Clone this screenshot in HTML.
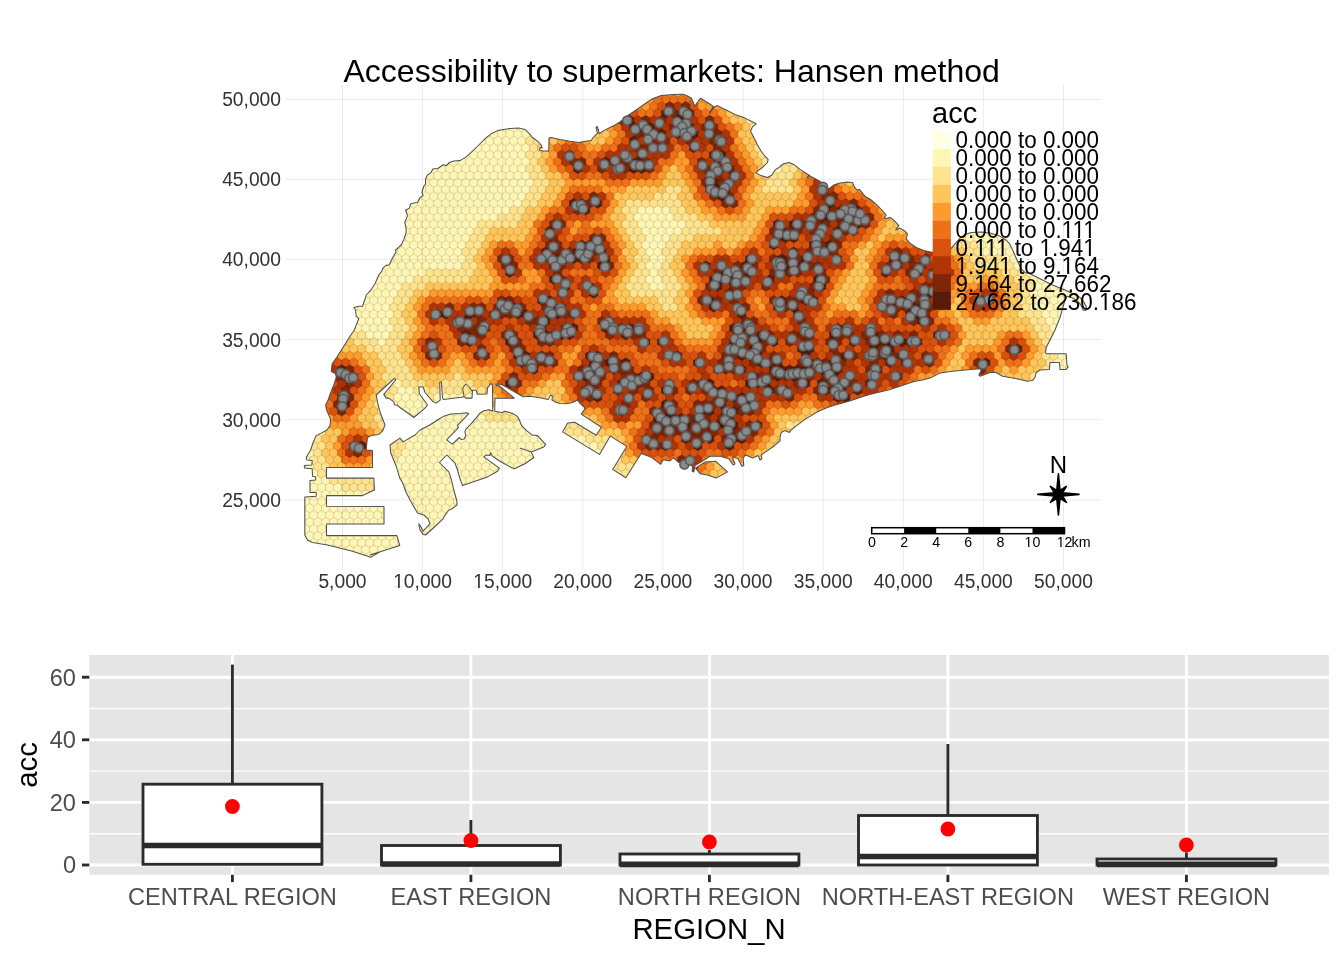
<!DOCTYPE html>
<html><head><meta charset="utf-8"><title>Accessibility to supermarkets</title>
<style>
html,body{margin:0;padding:0;background:#fff;}
body{width:1344px;height:960px;overflow:hidden;font-family:"Liberation Sans",sans-serif;}
svg{display:block;position:absolute;left:0;top:0;will-change:transform;}
text{font-family:"Liberation Sans",sans-serif;}
</style></head><body>
<svg width="1344" height="960" viewBox="0 0 1344 960">
<rect width="1344" height="960" fill="#fff"/>
<defs><clipPath id="k1"><path clip-rule="evenodd" d="M-2000 -2000H4000V4000H-2000ZM-28.49 -1.50H-24.61V2.00H-28.49ZM-22.87 -1.50H-19.09V2.00H-22.87Z"/></clipPath><clipPath id="k2"><path clip-rule="evenodd" d="M-2000 -2000H4000V4000H-2000ZM-28.49 -1.50H-24.61V2.00H-28.49ZM-22.87 -1.50H-19.09V2.00H-22.87Z"/></clipPath><clipPath id="k15"><path clip-rule="evenodd" d="M-2000 -2000H4000V4000H-2000ZM107.11 -1.75H111.64V2.00H107.11ZM113.66 -1.75H118.07V2.00H113.66ZM117.92 -1.75H122.45V2.00H117.92ZM124.48 -1.75H128.88V2.00H124.48ZM128.73 -1.75H133.26V2.00H128.73ZM135.29 -1.75H139.69V2.00H135.29Z"/></clipPath><clipPath id="k16"><path clip-rule="evenodd" d="M-2000 -2000H4000V4000H-2000ZM19.80 -1.75H24.33V2.00H19.80ZM26.36 -1.75H30.76V2.00H26.36ZM30.61 -1.75H35.14V2.00H30.61ZM37.17 -1.75H41.57V2.00H37.17ZM41.43 -1.75H45.95V2.00H41.43ZM47.98 -1.75H52.39V2.00H47.98ZM85.06 -1.75H89.59V2.00H85.06ZM91.62 -1.75H96.03V2.00H91.62ZM128.73 -1.75H133.26V2.00H128.73ZM135.29 -1.75H139.69V2.00H135.29Z"/></clipPath><clipPath id="k17"><path clip-rule="evenodd" d="M-2000 -2000H4000V4000H-2000ZM1.10 -1.75H5.62V2.00H1.10ZM7.65 -1.75H12.06V2.00H7.65ZM44.75 -1.75H49.28V2.00H44.75ZM51.31 -1.75H55.71V2.00H51.31ZM107.11 -1.75H111.64V2.00H107.11ZM113.66 -1.75H118.07V2.00H113.66Z"/></clipPath><clipPath id="k18"><path clip-rule="evenodd" d="M-2000 -2000H4000V4000H-2000ZM19.80 -1.75H24.33V2.00H19.80ZM26.36 -1.75H30.76V2.00H26.36Z"/></clipPath><clipPath id="k19"><path clip-rule="evenodd" d="M-2000 -2000H4000V4000H-2000ZM144.55 -1.75H149.07V2.00H144.55ZM151.10 -1.75H155.51V2.00H151.10Z"/></clipPath><clipPath id="k25"><path clip-rule="evenodd" d="M-2000 -2000H4000V4000H-2000ZM1025.30 545.89H1028.17V549.00H1025.30ZM1029.45 545.89H1032.24V549.00H1029.45Z"/></clipPath><clipPath id="k26"><path clip-rule="evenodd" d="M-2000 -2000H4000V4000H-2000ZM1057.40 545.89H1060.27V549.00H1057.40ZM1061.55 545.89H1064.34V549.00H1061.55Z"/></clipPath></defs>

<clipPath id="land"><path d="M312.5 542.5L307.5 540.0L304.8 535.0L304.8 496.9L316.2 496.2L316.2 492.5L310.0 492.5L310.0 480.6L315.6 480.0L315.6 476.9L312.5 476.2L312.2 468.8L304.4 468.1L304.4 465.6L311.9 465.0L312.2 460.6L306.9 460.0L306.2 457.5L310.6 450.0L313.1 442.5L316.2 435.6L321.2 433.1L326.9 430.0L330.0 425.6L330.6 419.4L328.8 415.0L326.5 410.0L325.6 405.0L328.1 400.0L331.2 391.2L333.8 385.0L336.2 377.5L335.6 373.8L331.2 371.2L332.2 363.8L337.5 356.2L343.8 346.2L350.0 336.2L354.4 330.0L354.4 330.0L356.9 323.1L358.8 318.8L356.2 316.2L355.6 310.0L353.8 307.5L358.8 306.2L362.5 306.2L365.6 297.5L366.2 295.0L370.0 291.2L375.0 283.8L378.8 275.0L381.9 271.2L382.5 268.8L386.2 265.0L387.5 265.6L389.4 264.4L392.5 258.1L396.0 251.9L395.6 250.0L400.0 246.2L401.5 244.4L403.8 239.4L406.0 233.1L406.2 228.8L404.8 222.5L407.5 215.6L405.6 210.0L406.2 210.0L409.4 208.1L410.6 204.0L413.8 203.1L417.5 202.5L420.0 197.5L423.1 195.6L421.9 192.5L423.8 186.2L425.6 184.4L425.6 178.8L427.5 175.0L430.6 173.1L433.1 168.8L437.5 168.8L443.1 164.8L446.2 165.6L449.4 162.5L453.8 161.0L460.0 160.4L460.0 160.6L466.2 156.9L472.5 151.2L478.8 145.0L484.4 139.4L485.6 138.1L491.2 133.8L497.5 130.6L503.8 129.4L510.0 128.5L518.8 128.1L525.0 129.4L528.8 133.1L532.5 137.5L537.5 141.2L541.2 145.0L542.2 148.1L540.0 147.5L539.8 150.0L542.5 151.0L548.8 151.0L549.0 138.1L551.2 137.5L560.0 139.4L570.0 141.2L578.8 142.5L585.0 141.2L591.2 140.6L593.1 137.5L597.5 133.1L596.0 127.5L597.2 126.5L598.8 131.2L599.0 133.8L603.8 130.6L610.0 127.5L615.0 125.0L620.0 121.9L620.0 121.9L627.5 115.6L636.2 110.0L645.0 103.8L652.5 98.8L661.2 95.6L670.0 94.8L678.8 94.2L683.4 94.2L688.1 96.2L691.4 98.2L692.8 101.6L695.0 106.2L696.8 103.4L700.4 98.2L707.5 102.5L713.1 106.2L709.8 113.1L714.0 107.1L717.5 105.6L726.2 110.0L735.0 114.4L745.0 118.1L751.2 121.2L756.2 123.8L752.5 126.9L750.6 131.2L754.4 138.8L757.5 145.0L761.2 151.2L765.0 156.2L768.1 159.4L767.5 162.5L762.5 167.5L757.5 171.2L756.2 173.1L761.2 175.6L767.5 177.5L771.9 175.0L775.0 170.0L780.0 166.9L780.0 166.2L783.8 163.8L788.8 162.5L793.8 164.4L800.0 169.4L808.8 175.0L806.9 178.1L809.6 175.6L817.5 180.0L823.8 183.8L829.0 189.0L833.8 185.0L840.0 183.1L847.5 181.9L852.5 182.5L854.4 186.9L856.9 190.0L859.4 189.4L865.0 196.2L871.2 200.0L877.5 205.6L881.9 210.0L881.9 210.0L886.2 215.0L883.8 218.8L890.0 217.5L893.1 219.4L898.8 225.6L895.6 230.0L900.0 228.1L905.0 231.2L907.5 233.8L906.2 238.8L910.0 243.1L916.2 247.5L923.8 250.6L933.1 252.5L950.6 252.5L950.6 248.8L955.0 243.8L960.0 238.1L965.0 234.4L971.2 232.5L981.2 231.9L990.0 233.1L998.8 235.6L1006.2 240.0L1010.0 244.4L1013.8 252.5L1017.5 261.2L1021.2 268.8L1025.0 272.5L1030.0 273.8L1040.0 278.8L1052.5 285.0L1065.0 290.0L1073.8 294.0L1080.0 297.5L1083.8 301.9L1086.5 306.9L1085.6 310.6L1083.1 310.0L1081.0 305.2L1077.5 301.0L1072.5 298.1L1066.9 296.2L1065.0 300.0L1062.5 308.8L1060.0 317.5L1055.0 330.0L1050.0 340.0L1046.2 347.5L1045.6 352.5L1046.2 353.8L1066.2 353.8L1066.9 365.0L1068.1 366.9L1066.2 369.4L1060.0 369.4L1059.4 362.5L1050.0 362.5L1049.4 369.4L1040.0 370.0L1036.2 372.5L1035.0 377.5L1032.5 380.6L1027.5 381.2L1020.0 379.4L1010.0 377.5L1002.5 376.2L996.2 372.5L990.0 372.5L980.0 376.2L978.8 375.0L981.2 370.6L980.0 368.8L971.2 369.4L965.0 370.0L952.5 371.2L940.0 373.1L940.0 373.1L930.0 378.1L922.5 380.0L915.0 381.2L905.0 384.4L897.5 386.9L890.0 389.4L880.0 391.9L872.5 393.8L866.2 395.6L860.0 397.5L851.2 400.6L842.5 403.1L835.0 405.0L827.5 407.5L821.2 410.0L816.2 412.5L811.2 415.6L805.0 419.4L800.0 423.1L795.0 426.9L790.6 430.6L789.4 432.5L785.0 430.6L781.2 432.5L780.0 437.5L780.0 441.2L773.8 446.2L767.5 450.6L761.2 455.0L761.9 458.8L760.0 460.0L758.1 455.6L752.5 458.1L748.8 456.2L745.0 455.0L743.1 458.8L743.8 465.6L741.9 466.2L738.1 458.8L735.0 457.5L732.5 458.1L735.0 463.8L733.1 465.0L728.8 458.8L720.0 456.2L710.0 456.2L701.2 461.9L695.0 465.6L693.8 471.9L692.2 471.2L692.5 466.9L690.6 463.8L678.8 462.5L676.2 460.0L673.1 457.8L670.0 461.0L663.1 459.8L660.6 464.4L652.5 458.1L648.8 456.2L641.2 453.4L639.4 456.2L625.8 477.8L612.7 469.4L626.7 446.4L610.3 436.1L599.5 454.4L562.5 431.9L567.7 423.0L574.7 422.3L596.2 435.2L601.4 427.2L581.2 414.1L585.0 408.9L584.1 407.0L579.4 402.8L577.5 400.0L572.5 402.5L566.2 403.8L560.0 403.5L555.0 401.9L551.9 400.0L552.5 396.2L550.6 395.0L548.1 399.4L541.2 398.1L530.0 396.2L523.1 396.7L501.6 384.5L495.9 383.9L495.8 385.2L499.7 386.1L513.8 397.7L514.2 398.3L495.0 398.3L494.7 411.2L502.5 412.7L504.4 411.2L509.1 412.2L513.8 414.1L517.5 416.4L519.4 419.7L520.8 423.9L523.1 427.2L526.9 430.9L531.6 434.7L536.2 435.6L537.5 435.6L545.6 444.4L543.8 446.9L536.2 450.0L531.2 451.9L533.8 457.5L525.0 463.8L514.4 468.8L510.0 466.9L500.0 461.2L492.5 456.2L490.6 452.8L490.0 455.6L486.2 455.0L483.8 456.9L499.4 468.1L497.5 471.2L487.5 476.9L475.0 481.2L462.5 485.6L460.0 478.8L457.5 470.0L455.0 463.1L446.9 455.0L439.4 462.5L448.8 471.9L451.2 478.8L453.8 490.0L456.9 501.2L456.9 505.0L451.2 509.4L448.8 510.0L443.8 516.9L443.1 518.8L433.8 527.5L425.6 535.0L423.1 534.4L420.0 530.0L418.8 523.8L420.6 526.2L423.1 531.2L430.0 523.8L428.1 518.8L423.8 515.0L417.5 513.1L415.0 508.8L410.0 500.0L406.2 492.5L402.5 482.5L400.0 478.8L396.2 466.2L390.6 452.5L390.0 445.0L400.0 438.1L403.1 441.9L415.0 435.0L420.0 430.0L429.4 425.3L437.8 419.7L444.4 415.9L450.9 414.1L460.3 413.6L466.9 412.7L468.8 413.6L463.1 419.7L457.5 425.3L458.4 427.7L446.7 439.8L452.3 444.1L459.4 437.5L461.2 439.4L464.1 438.9L465.9 435.6L464.8 431.9L465.9 429.1L470.6 424.4L476.2 417.8L480.0 413.1L483.8 410.8L488.9 409.8L492.7 411.2L492.5 384.1L489.8 384.1L489.2 385.9L487.5 387.8L487.0 393.9L477.2 394.2L476.2 390.2L472.5 390.2L472.0 398.1L465.9 398.1L464.1 396.7L461.2 397.2L443.4 399.5L442.5 398.1L441.4 382.2L439.7 382.2L440.2 399.1L440.4 399.8L436.2 403.1L432.5 401.2L425.0 392.5L423.1 386.9L418.8 386.9L419.4 393.8L427.5 405.0L425.0 408.1L413.8 417.5L410.6 415.0L400.0 407.5L396.9 405.0L394.4 404.8L393.8 401.9L388.8 398.1L386.2 398.1L383.8 394.4L395.6 380.0L394.8 378.1L392.5 380.0L376.2 395.0L378.1 405.0L380.6 413.8L383.1 420.0L385.0 425.0L382.5 431.2L378.8 434.4L371.2 435.6L367.5 437.5L366.9 442.5L366.2 450.0L366.5 450.0L372.5 450.6L372.5 467.5L326.5 467.5L326.5 478.1L373.8 478.1L374.4 490.0L362.5 495.6L326.5 495.6L326.5 506.2L384.0 506.5L384.0 524.0L326.5 524.0L326.5 535.6L396.9 535.6L399.8 545.6L370.0 555.0L380.0 551.9L370.6 557.2L352.5 551.2L327.5 545.0ZM695.6 468.1L705.0 461.9L715.6 461.2L727.5 471.9L716.2 478.1L707.5 475.0L700.0 473.8Z"/></clipPath>
<g clip-path="url(#land)" stroke-width="0.7" stroke-linejoin="round">
<path fill="#FFF6B6" stroke="#FFF6B6" d="M497.66 122.49l4 2.31v4.62l-4 2.31l-4-2.31v-4.62zM505.66 122.49l4 2.31v4.62l-4 2.31l-4-2.31v-4.62zM513.67 122.49l4 2.31v4.62l-4 2.31l-4-2.31v-4.62zM521.67 122.49l4 2.31v4.62l-4 2.31l-4-2.31v-4.62zM485.66 129.42l4 2.31v4.62l-4 2.31l-4-2.31v-4.62zM493.66 129.42l4 2.31v4.62l-4 2.31l-4-2.31v-4.62zM501.66 129.42l4 2.31v4.62l-4 2.31l-4-2.31v-4.62zM509.67 129.42l4 2.31v4.62l-4 2.31l-4-2.31v-4.62zM517.67 129.42l4 2.31v4.62l-4 2.31l-4-2.31v-4.62zM525.67 129.42l4 2.31v4.62l-4 2.31l-4-2.31v-4.62zM533.67 129.42l4 2.31v4.62l-4 2.31l-4-2.31v-4.62zM481.66 136.35l4 2.31v4.62l-4 2.31l-4-2.31v-4.62zM489.66 136.35l4 2.31v4.62l-4 2.31l-4-2.31v-4.62zM497.66 136.35l4 2.31v4.62l-4 2.31l-4-2.31v-4.62zM505.66 136.35l4 2.31v4.62l-4 2.31l-4-2.31v-4.62zM513.67 136.35l4 2.31v4.62l-4 2.31l-4-2.31v-4.62zM521.67 136.35l4 2.31v4.62l-4 2.31l-4-2.31v-4.62zM477.66 143.28l4 2.31v4.62l-4 2.31l-4-2.31v-4.62zM485.66 143.28l4 2.31v4.62l-4 2.31l-4-2.31v-4.62zM493.66 143.28l4 2.31v4.62l-4 2.31l-4-2.31v-4.62zM501.66 143.28l4 2.31v4.62l-4 2.31l-4-2.31v-4.62zM509.67 143.28l4 2.31v4.62l-4 2.31l-4-2.31v-4.62zM517.67 143.28l4 2.31v4.62l-4 2.31l-4-2.31v-4.62zM525.67 143.28l4 2.31v4.62l-4 2.31l-4-2.31v-4.62zM465.66 150.21l4 2.31v4.62l-4 2.31l-4-2.31v-4.62zM473.66 150.21l4 2.31v4.62l-4 2.31l-4-2.31v-4.62zM481.66 150.21l4 2.31v4.62l-4 2.31l-4-2.31v-4.62zM489.66 150.21l4 2.31v4.62l-4 2.31l-4-2.31v-4.62zM497.66 150.21l4 2.31v4.62l-4 2.31l-4-2.31v-4.62zM505.66 150.21l4 2.31v4.62l-4 2.31l-4-2.31v-4.62zM513.67 150.21l4 2.31v4.62l-4 2.31l-4-2.31v-4.62zM521.67 150.21l4 2.31v4.62l-4 2.31l-4-2.31v-4.62zM445.66 157.14l4 2.31v4.62l-4 2.31l-4-2.31v-4.62zM453.66 157.14l4 2.31v4.62l-4 2.31l-4-2.31v-4.62zM461.66 157.14l4 2.31v4.62l-4 2.31l-4-2.31v-4.62zM469.66 157.14l4 2.31v4.62l-4 2.31l-4-2.31v-4.62zM477.66 157.14l4 2.31v4.62l-4 2.31l-4-2.31v-4.62zM485.66 157.14l4 2.31v4.62l-4 2.31l-4-2.31v-4.62zM493.66 157.14l4 2.31v4.62l-4 2.31l-4-2.31v-4.62zM501.66 157.14l4 2.31v4.62l-4 2.31l-4-2.31v-4.62zM509.67 157.14l4 2.31v4.62l-4 2.31l-4-2.31v-4.62zM517.67 157.14l4 2.31v4.62l-4 2.31l-4-2.31v-4.62zM525.67 157.14l4 2.31v4.62l-4 2.31l-4-2.31v-4.62zM781.70 157.14l4 2.31v4.62l-4 2.31l-4-2.31v-4.62zM433.66 164.07l4 2.31v4.62l-4 2.31l-4-2.31v-4.62zM441.66 164.07l4 2.31v4.62l-4 2.31l-4-2.31v-4.62zM449.66 164.07l4 2.31v4.62l-4 2.31l-4-2.31v-4.62zM457.66 164.07l4 2.31v4.62l-4 2.31l-4-2.31v-4.62zM465.66 164.07l4 2.31v4.62l-4 2.31l-4-2.31v-4.62zM473.66 164.07l4 2.31v4.62l-4 2.31l-4-2.31v-4.62zM481.66 164.07l4 2.31v4.62l-4 2.31l-4-2.31v-4.62zM489.66 164.07l4 2.31v4.62l-4 2.31l-4-2.31v-4.62zM497.66 164.07l4 2.31v4.62l-4 2.31l-4-2.31v-4.62zM505.66 164.07l4 2.31v4.62l-4 2.31l-4-2.31v-4.62zM513.67 164.07l4 2.31v4.62l-4 2.31l-4-2.31v-4.62zM521.67 164.07l4 2.31v4.62l-4 2.31l-4-2.31v-4.62zM777.70 164.07l4 2.31v4.62l-4 2.31l-4-2.31v-4.62zM429.66 170.99l4 2.31v4.62l-4 2.31l-4-2.31v-4.62zM437.66 170.99l4 2.31v4.62l-4 2.31l-4-2.31v-4.62zM445.66 170.99l4 2.31v4.62l-4 2.31l-4-2.31v-4.62zM453.66 170.99l4 2.31v4.62l-4 2.31l-4-2.31v-4.62zM461.66 170.99l4 2.31v4.62l-4 2.31l-4-2.31v-4.62zM469.66 170.99l4 2.31v4.62l-4 2.31l-4-2.31v-4.62zM477.66 170.99l4 2.31v4.62l-4 2.31l-4-2.31v-4.62zM485.66 170.99l4 2.31v4.62l-4 2.31l-4-2.31v-4.62zM493.66 170.99l4 2.31v4.62l-4 2.31l-4-2.31v-4.62zM501.66 170.99l4 2.31v4.62l-4 2.31l-4-2.31v-4.62zM509.67 170.99l4 2.31v4.62l-4 2.31l-4-2.31v-4.62zM517.67 170.99l4 2.31v4.62l-4 2.31l-4-2.31v-4.62zM525.67 170.99l4 2.31v4.62l-4 2.31l-4-2.31v-4.62zM425.65 177.92l4 2.31v4.62l-4 2.31l-4-2.31v-4.62zM433.66 177.92l4 2.31v4.62l-4 2.31l-4-2.31v-4.62zM441.66 177.92l4 2.31v4.62l-4 2.31l-4-2.31v-4.62zM449.66 177.92l4 2.31v4.62l-4 2.31l-4-2.31v-4.62zM457.66 177.92l4 2.31v4.62l-4 2.31l-4-2.31v-4.62zM465.66 177.92l4 2.31v4.62l-4 2.31l-4-2.31v-4.62zM473.66 177.92l4 2.31v4.62l-4 2.31l-4-2.31v-4.62zM481.66 177.92l4 2.31v4.62l-4 2.31l-4-2.31v-4.62zM489.66 177.92l4 2.31v4.62l-4 2.31l-4-2.31v-4.62zM497.66 177.92l4 2.31v4.62l-4 2.31l-4-2.31v-4.62zM505.66 177.92l4 2.31v4.62l-4 2.31l-4-2.31v-4.62zM513.67 177.92l4 2.31v4.62l-4 2.31l-4-2.31v-4.62zM521.67 177.92l4 2.31v4.62l-4 2.31l-4-2.31v-4.62zM529.67 177.92l4 2.31v4.62l-4 2.31l-4-2.31v-4.62zM421.65 184.85l4 2.31v4.62l-4 2.31l-4-2.31v-4.62zM429.66 184.85l4 2.31v4.62l-4 2.31l-4-2.31v-4.62zM437.66 184.85l4 2.31v4.62l-4 2.31l-4-2.31v-4.62zM445.66 184.85l4 2.31v4.62l-4 2.31l-4-2.31v-4.62zM453.66 184.85l4 2.31v4.62l-4 2.31l-4-2.31v-4.62zM461.66 184.85l4 2.31v4.62l-4 2.31l-4-2.31v-4.62zM469.66 184.85l4 2.31v4.62l-4 2.31l-4-2.31v-4.62zM477.66 184.85l4 2.31v4.62l-4 2.31l-4-2.31v-4.62zM485.66 184.85l4 2.31v4.62l-4 2.31l-4-2.31v-4.62zM493.66 184.85l4 2.31v4.62l-4 2.31l-4-2.31v-4.62zM501.66 184.85l4 2.31v4.62l-4 2.31l-4-2.31v-4.62zM509.67 184.85l4 2.31v4.62l-4 2.31l-4-2.31v-4.62zM517.67 184.85l4 2.31v4.62l-4 2.31l-4-2.31v-4.62zM525.67 184.85l4 2.31v4.62l-4 2.31l-4-2.31v-4.62zM417.65 191.78l4 2.31v4.62l-4 2.31l-4-2.31v-4.62zM425.65 191.78l4 2.31v4.62l-4 2.31l-4-2.31v-4.62zM433.66 191.78l4 2.31v4.62l-4 2.31l-4-2.31v-4.62zM441.66 191.78l4 2.31v4.62l-4 2.31l-4-2.31v-4.62zM449.66 191.78l4 2.31v4.62l-4 2.31l-4-2.31v-4.62zM457.66 191.78l4 2.31v4.62l-4 2.31l-4-2.31v-4.62zM465.66 191.78l4 2.31v4.62l-4 2.31l-4-2.31v-4.62zM473.66 191.78l4 2.31v4.62l-4 2.31l-4-2.31v-4.62zM481.66 191.78l4 2.31v4.62l-4 2.31l-4-2.31v-4.62zM489.66 191.78l4 2.31v4.62l-4 2.31l-4-2.31v-4.62zM497.66 191.78l4 2.31v4.62l-4 2.31l-4-2.31v-4.62zM505.66 191.78l4 2.31v4.62l-4 2.31l-4-2.31v-4.62zM513.67 191.78l4 2.31v4.62l-4 2.31l-4-2.31v-4.62zM521.67 191.78l4 2.31v4.62l-4 2.31l-4-2.31v-4.62zM413.65 198.71l4 2.31v4.62l-4 2.31l-4-2.31v-4.62zM421.65 198.71l4 2.31v4.62l-4 2.31l-4-2.31v-4.62zM429.66 198.71l4 2.31v4.62l-4 2.31l-4-2.31v-4.62zM437.66 198.71l4 2.31v4.62l-4 2.31l-4-2.31v-4.62zM445.66 198.71l4 2.31v4.62l-4 2.31l-4-2.31v-4.62zM453.66 198.71l4 2.31v4.62l-4 2.31l-4-2.31v-4.62zM461.66 198.71l4 2.31v4.62l-4 2.31l-4-2.31v-4.62zM469.66 198.71l4 2.31v4.62l-4 2.31l-4-2.31v-4.62zM477.66 198.71l4 2.31v4.62l-4 2.31l-4-2.31v-4.62zM485.66 198.71l4 2.31v4.62l-4 2.31l-4-2.31v-4.62zM493.66 198.71l4 2.31v4.62l-4 2.31l-4-2.31v-4.62zM501.66 198.71l4 2.31v4.62l-4 2.31l-4-2.31v-4.62zM509.67 198.71l4 2.31v4.62l-4 2.31l-4-2.31v-4.62zM517.67 198.71l4 2.31v4.62l-4 2.31l-4-2.31v-4.62zM409.65 205.64l4 2.31v4.62l-4 2.31l-4-2.31v-4.62zM417.65 205.64l4 2.31v4.62l-4 2.31l-4-2.31v-4.62zM425.65 205.64l4 2.31v4.62l-4 2.31l-4-2.31v-4.62zM433.66 205.64l4 2.31v4.62l-4 2.31l-4-2.31v-4.62zM441.66 205.64l4 2.31v4.62l-4 2.31l-4-2.31v-4.62zM449.66 205.64l4 2.31v4.62l-4 2.31l-4-2.31v-4.62zM457.66 205.64l4 2.31v4.62l-4 2.31l-4-2.31v-4.62zM465.66 205.64l4 2.31v4.62l-4 2.31l-4-2.31v-4.62zM473.66 205.64l4 2.31v4.62l-4 2.31l-4-2.31v-4.62zM481.66 205.64l4 2.31v4.62l-4 2.31l-4-2.31v-4.62zM489.66 205.64l4 2.31v4.62l-4 2.31l-4-2.31v-4.62zM497.66 205.64l4 2.31v4.62l-4 2.31l-4-2.31v-4.62zM505.66 205.64l4 2.31v4.62l-4 2.31l-4-2.31v-4.62zM641.68 205.64l4 2.31v4.62l-4 2.31l-4-2.31v-4.62zM649.68 205.64l4 2.31v4.62l-4 2.31l-4-2.31v-4.62zM657.68 205.64l4 2.31v4.62l-4 2.31l-4-2.31v-4.62zM665.68 205.64l4 2.31v4.62l-4 2.31l-4-2.31v-4.62zM405.65 212.57l4 2.31v4.62l-4 2.31l-4-2.31v-4.62zM413.65 212.57l4 2.31v4.62l-4 2.31l-4-2.31v-4.62zM421.65 212.57l4 2.31v4.62l-4 2.31l-4-2.31v-4.62zM429.66 212.57l4 2.31v4.62l-4 2.31l-4-2.31v-4.62zM437.66 212.57l4 2.31v4.62l-4 2.31l-4-2.31v-4.62zM445.66 212.57l4 2.31v4.62l-4 2.31l-4-2.31v-4.62zM453.66 212.57l4 2.31v4.62l-4 2.31l-4-2.31v-4.62zM461.66 212.57l4 2.31v4.62l-4 2.31l-4-2.31v-4.62zM469.66 212.57l4 2.31v4.62l-4 2.31l-4-2.31v-4.62zM477.66 212.57l4 2.31v4.62l-4 2.31l-4-2.31v-4.62zM485.66 212.57l4 2.31v4.62l-4 2.31l-4-2.31v-4.62zM493.66 212.57l4 2.31v4.62l-4 2.31l-4-2.31v-4.62zM637.68 212.57l4 2.31v4.62l-4 2.31l-4-2.31v-4.62zM645.68 212.57l4 2.31v4.62l-4 2.31l-4-2.31v-4.62zM653.68 212.57l4 2.31v4.62l-4 2.31l-4-2.31v-4.62zM661.68 212.57l4 2.31v4.62l-4 2.31l-4-2.31v-4.62zM669.69 212.57l4 2.31v4.62l-4 2.31l-4-2.31v-4.62zM401.65 219.50l4 2.31v4.62l-4 2.31l-4-2.31v-4.62zM409.65 219.50l4 2.31v4.62l-4 2.31l-4-2.31v-4.62zM417.65 219.50l4 2.31v4.62l-4 2.31l-4-2.31v-4.62zM425.65 219.50l4 2.31v4.62l-4 2.31l-4-2.31v-4.62zM433.66 219.50l4 2.31v4.62l-4 2.31l-4-2.31v-4.62zM441.66 219.50l4 2.31v4.62l-4 2.31l-4-2.31v-4.62zM449.66 219.50l4 2.31v4.62l-4 2.31l-4-2.31v-4.62zM457.66 219.50l4 2.31v4.62l-4 2.31l-4-2.31v-4.62zM465.66 219.50l4 2.31v4.62l-4 2.31l-4-2.31v-4.62zM473.66 219.50l4 2.31v4.62l-4 2.31l-4-2.31v-4.62zM641.68 219.50l4 2.31v4.62l-4 2.31l-4-2.31v-4.62zM649.68 219.50l4 2.31v4.62l-4 2.31l-4-2.31v-4.62zM657.68 219.50l4 2.31v4.62l-4 2.31l-4-2.31v-4.62zM665.68 219.50l4 2.31v4.62l-4 2.31l-4-2.31v-4.62zM673.69 219.50l4 2.31v4.62l-4 2.31l-4-2.31v-4.62zM681.69 219.50l4 2.31v4.62l-4 2.31l-4-2.31v-4.62zM405.65 226.43l4 2.31v4.62l-4 2.31l-4-2.31v-4.62zM413.65 226.43l4 2.31v4.62l-4 2.31l-4-2.31v-4.62zM421.65 226.43l4 2.31v4.62l-4 2.31l-4-2.31v-4.62zM429.66 226.43l4 2.31v4.62l-4 2.31l-4-2.31v-4.62zM437.66 226.43l4 2.31v4.62l-4 2.31l-4-2.31v-4.62zM445.66 226.43l4 2.31v4.62l-4 2.31l-4-2.31v-4.62zM453.66 226.43l4 2.31v4.62l-4 2.31l-4-2.31v-4.62zM461.66 226.43l4 2.31v4.62l-4 2.31l-4-2.31v-4.62zM469.66 226.43l4 2.31v4.62l-4 2.31l-4-2.31v-4.62zM645.68 226.43l4 2.31v4.62l-4 2.31l-4-2.31v-4.62zM653.68 226.43l4 2.31v4.62l-4 2.31l-4-2.31v-4.62zM661.68 226.43l4 2.31v4.62l-4 2.31l-4-2.31v-4.62zM669.69 226.43l4 2.31v4.62l-4 2.31l-4-2.31v-4.62zM677.69 226.43l4 2.31v4.62l-4 2.31l-4-2.31v-4.62zM965.72 226.43l4 2.31v4.62l-4 2.31l-4-2.31v-4.62zM973.72 226.43l4 2.31v4.62l-4 2.31l-4-2.31v-4.62zM981.72 226.43l4 2.31v4.62l-4 2.31l-4-2.31v-4.62zM989.73 226.43l4 2.31v4.62l-4 2.31l-4-2.31v-4.62zM401.65 233.36l4 2.31v4.62l-4 2.31l-4-2.31v-4.62zM409.65 233.36l4 2.31v4.62l-4 2.31l-4-2.31v-4.62zM417.65 233.36l4 2.31v4.62l-4 2.31l-4-2.31v-4.62zM425.65 233.36l4 2.31v4.62l-4 2.31l-4-2.31v-4.62zM433.66 233.36l4 2.31v4.62l-4 2.31l-4-2.31v-4.62zM441.66 233.36l4 2.31v4.62l-4 2.31l-4-2.31v-4.62zM449.66 233.36l4 2.31v4.62l-4 2.31l-4-2.31v-4.62zM457.66 233.36l4 2.31v4.62l-4 2.31l-4-2.31v-4.62zM465.66 233.36l4 2.31v4.62l-4 2.31l-4-2.31v-4.62zM649.68 233.36l4 2.31v4.62l-4 2.31l-4-2.31v-4.62zM657.68 233.36l4 2.31v4.62l-4 2.31l-4-2.31v-4.62zM665.68 233.36l4 2.31v4.62l-4 2.31l-4-2.31v-4.62zM969.72 233.36l4 2.31v4.62l-4 2.31l-4-2.31v-4.62zM977.72 233.36l4 2.31v4.62l-4 2.31l-4-2.31v-4.62zM985.72 233.36l4 2.31v4.62l-4 2.31l-4-2.31v-4.62zM993.73 233.36l4 2.31v4.62l-4 2.31l-4-2.31v-4.62zM1001.73 233.36l4 2.31v4.62l-4 2.31l-4-2.31v-4.62zM1009.73 233.36l4 2.31v4.62l-4 2.31l-4-2.31v-4.62zM397.65 240.29l4 2.31v4.62l-4 2.31l-4-2.31v-4.62zM405.65 240.29l4 2.31v4.62l-4 2.31l-4-2.31v-4.62zM413.65 240.29l4 2.31v4.62l-4 2.31l-4-2.31v-4.62zM421.65 240.29l4 2.31v4.62l-4 2.31l-4-2.31v-4.62zM429.66 240.29l4 2.31v4.62l-4 2.31l-4-2.31v-4.62zM437.66 240.29l4 2.31v4.62l-4 2.31l-4-2.31v-4.62zM445.66 240.29l4 2.31v4.62l-4 2.31l-4-2.31v-4.62zM453.66 240.29l4 2.31v4.62l-4 2.31l-4-2.31v-4.62zM461.66 240.29l4 2.31v4.62l-4 2.31l-4-2.31v-4.62zM645.68 240.29l4 2.31v4.62l-4 2.31l-4-2.31v-4.62zM653.68 240.29l4 2.31v4.62l-4 2.31l-4-2.31v-4.62zM661.68 240.29l4 2.31v4.62l-4 2.31l-4-2.31v-4.62zM981.72 240.29l4 2.31v4.62l-4 2.31l-4-2.31v-4.62zM989.73 240.29l4 2.31v4.62l-4 2.31l-4-2.31v-4.62zM997.73 240.29l4 2.31v4.62l-4 2.31l-4-2.31v-4.62zM1005.73 240.29l4 2.31v4.62l-4 2.31l-4-2.31v-4.62zM1013.73 240.29l4 2.31v4.62l-4 2.31l-4-2.31v-4.62zM393.65 247.21l4 2.31v4.62l-4 2.31l-4-2.31v-4.62zM401.65 247.21l4 2.31v4.62l-4 2.31l-4-2.31v-4.62zM409.65 247.21l4 2.31v4.62l-4 2.31l-4-2.31v-4.62zM417.65 247.21l4 2.31v4.62l-4 2.31l-4-2.31v-4.62zM425.65 247.21l4 2.31v4.62l-4 2.31l-4-2.31v-4.62zM433.66 247.21l4 2.31v4.62l-4 2.31l-4-2.31v-4.62zM441.66 247.21l4 2.31v4.62l-4 2.31l-4-2.31v-4.62zM449.66 247.21l4 2.31v4.62l-4 2.31l-4-2.31v-4.62zM457.66 247.21l4 2.31v4.62l-4 2.31l-4-2.31v-4.62zM649.68 247.21l4 2.31v4.62l-4 2.31l-4-2.31v-4.62zM657.68 247.21l4 2.31v4.62l-4 2.31l-4-2.31v-4.62zM985.72 247.21l4 2.31v4.62l-4 2.31l-4-2.31v-4.62zM993.73 247.21l4 2.31v4.62l-4 2.31l-4-2.31v-4.62zM1001.73 247.21l4 2.31v4.62l-4 2.31l-4-2.31v-4.62zM1009.73 247.21l4 2.31v4.62l-4 2.31l-4-2.31v-4.62zM1017.73 247.21l4 2.31v4.62l-4 2.31l-4-2.31v-4.62zM389.65 254.14l4 2.31v4.62l-4 2.31l-4-2.31v-4.62zM397.65 254.14l4 2.31v4.62l-4 2.31l-4-2.31v-4.62zM405.65 254.14l4 2.31v4.62l-4 2.31l-4-2.31v-4.62zM413.65 254.14l4 2.31v4.62l-4 2.31l-4-2.31v-4.62zM421.65 254.14l4 2.31v4.62l-4 2.31l-4-2.31v-4.62zM429.66 254.14l4 2.31v4.62l-4 2.31l-4-2.31v-4.62zM437.66 254.14l4 2.31v4.62l-4 2.31l-4-2.31v-4.62zM445.66 254.14l4 2.31v4.62l-4 2.31l-4-2.31v-4.62zM453.66 254.14l4 2.31v4.62l-4 2.31l-4-2.31v-4.62zM461.66 254.14l4 2.31v4.62l-4 2.31l-4-2.31v-4.62zM653.68 254.14l4 2.31v4.62l-4 2.31l-4-2.31v-4.62zM661.68 254.14l4 2.31v4.62l-4 2.31l-4-2.31v-4.62zM1005.73 254.14l4 2.31v4.62l-4 2.31l-4-2.31v-4.62zM1013.73 254.14l4 2.31v4.62l-4 2.31l-4-2.31v-4.62zM385.65 261.07l4 2.31v4.62l-4 2.31l-4-2.31v-4.62zM393.65 261.07l4 2.31v4.62l-4 2.31l-4-2.31v-4.62zM401.65 261.07l4 2.31v4.62l-4 2.31l-4-2.31v-4.62zM409.65 261.07l4 2.31v4.62l-4 2.31l-4-2.31v-4.62zM417.65 261.07l4 2.31v4.62l-4 2.31l-4-2.31v-4.62zM425.65 261.07l4 2.31v4.62l-4 2.31l-4-2.31v-4.62zM433.66 261.07l4 2.31v4.62l-4 2.31l-4-2.31v-4.62zM441.66 261.07l4 2.31v4.62l-4 2.31l-4-2.31v-4.62zM449.66 261.07l4 2.31v4.62l-4 2.31l-4-2.31v-4.62zM457.66 261.07l4 2.31v4.62l-4 2.31l-4-2.31v-4.62zM649.68 261.07l4 2.31v4.62l-4 2.31l-4-2.31v-4.62zM657.68 261.07l4 2.31v4.62l-4 2.31l-4-2.31v-4.62zM1017.73 261.07l4 2.31v4.62l-4 2.31l-4-2.31v-4.62zM381.65 268.00l4 2.31v4.62l-4 2.31l-4-2.31v-4.62zM389.65 268.00l4 2.31v4.62l-4 2.31l-4-2.31v-4.62zM397.65 268.00l4 2.31v4.62l-4 2.31l-4-2.31v-4.62zM405.65 268.00l4 2.31v4.62l-4 2.31l-4-2.31v-4.62zM413.65 268.00l4 2.31v4.62l-4 2.31l-4-2.31v-4.62zM421.65 268.00l4 2.31v4.62l-4 2.31l-4-2.31v-4.62zM653.68 268.00l4 2.31v4.62l-4 2.31l-4-2.31v-4.62zM1029.73 268.00l4 2.31v4.62l-4 2.31l-4-2.31v-4.62zM377.65 274.93l4 2.31v4.62l-4 2.31l-4-2.31v-4.62zM385.65 274.93l4 2.31v4.62l-4 2.31l-4-2.31v-4.62zM393.65 274.93l4 2.31v4.62l-4 2.31l-4-2.31v-4.62zM401.65 274.93l4 2.31v4.62l-4 2.31l-4-2.31v-4.62zM409.65 274.93l4 2.31v4.62l-4 2.31l-4-2.31v-4.62zM649.68 274.93l4 2.31v4.62l-4 2.31l-4-2.31v-4.62zM657.68 274.93l4 2.31v4.62l-4 2.31l-4-2.31v-4.62zM1033.73 274.93l4 2.31v4.62l-4 2.31l-4-2.31v-4.62zM1041.73 274.93l4 2.31v4.62l-4 2.31l-4-2.31v-4.62zM1049.73 274.93l4 2.31v4.62l-4 2.31l-4-2.31v-4.62zM373.65 281.86l4 2.31v4.62l-4 2.31l-4-2.31v-4.62zM381.65 281.86l4 2.31v4.62l-4 2.31l-4-2.31v-4.62zM389.65 281.86l4 2.31v4.62l-4 2.31l-4-2.31v-4.62zM397.65 281.86l4 2.31v4.62l-4 2.31l-4-2.31v-4.62zM653.68 281.86l4 2.31v4.62l-4 2.31l-4-2.31v-4.62zM661.68 281.86l4 2.31v4.62l-4 2.31l-4-2.31v-4.62zM1037.73 281.86l4 2.31v4.62l-4 2.31l-4-2.31v-4.62zM1045.73 281.86l4 2.31v4.62l-4 2.31l-4-2.31v-4.62zM1053.73 281.86l4 2.31v4.62l-4 2.31l-4-2.31v-4.62zM1061.73 281.86l4 2.31v4.62l-4 2.31l-4-2.31v-4.62zM369.65 288.79l4 2.31v4.62l-4 2.31l-4-2.31v-4.62zM377.65 288.79l4 2.31v4.62l-4 2.31l-4-2.31v-4.62zM385.65 288.79l4 2.31v4.62l-4 2.31l-4-2.31v-4.62zM393.65 288.79l4 2.31v4.62l-4 2.31l-4-2.31v-4.62zM1033.73 288.79l4 2.31v4.62l-4 2.31l-4-2.31v-4.62zM1041.73 288.79l4 2.31v4.62l-4 2.31l-4-2.31v-4.62zM1049.73 288.79l4 2.31v4.62l-4 2.31l-4-2.31v-4.62zM1057.73 288.79l4 2.31v4.62l-4 2.31l-4-2.31v-4.62zM1065.73 288.79l4 2.31v4.62l-4 2.31l-4-2.31v-4.62zM1073.74 288.79l4 2.31v4.62l-4 2.31l-4-2.31v-4.62zM365.65 295.72l4 2.31v4.62l-4 2.31l-4-2.31v-4.62zM373.65 295.72l4 2.31v4.62l-4 2.31l-4-2.31v-4.62zM381.65 295.72l4 2.31v4.62l-4 2.31l-4-2.31v-4.62zM389.65 295.72l4 2.31v4.62l-4 2.31l-4-2.31v-4.62zM1037.73 295.72l4 2.31v4.62l-4 2.31l-4-2.31v-4.62zM1045.73 295.72l4 2.31v4.62l-4 2.31l-4-2.31v-4.62zM1053.73 295.72l4 2.31v4.62l-4 2.31l-4-2.31v-4.62zM1061.73 295.72l4 2.31v4.62l-4 2.31l-4-2.31v-4.62zM1069.74 295.72l4 2.31v4.62l-4 2.31l-4-2.31v-4.62zM1077.74 295.72l4 2.31v4.62l-4 2.31l-4-2.31v-4.62zM1085.74 295.72l4 2.31v4.62l-4 2.31l-4-2.31v-4.62zM353.65 302.65l4 2.31v4.62l-4 2.31l-4-2.31v-4.62zM361.65 302.65l4 2.31v4.62l-4 2.31l-4-2.31v-4.62zM369.65 302.65l4 2.31v4.62l-4 2.31l-4-2.31v-4.62zM377.65 302.65l4 2.31v4.62l-4 2.31l-4-2.31v-4.62zM385.65 302.65l4 2.31v4.62l-4 2.31l-4-2.31v-4.62zM1033.73 302.65l4 2.31v4.62l-4 2.31l-4-2.31v-4.62zM1041.73 302.65l4 2.31v4.62l-4 2.31l-4-2.31v-4.62zM1049.73 302.65l4 2.31v4.62l-4 2.31l-4-2.31v-4.62zM1057.73 302.65l4 2.31v4.62l-4 2.31l-4-2.31v-4.62zM1065.73 302.65l4 2.31v4.62l-4 2.31l-4-2.31v-4.62zM1081.74 302.65l4 2.31v4.62l-4 2.31l-4-2.31v-4.62zM1089.74 302.65l4 2.31v4.62l-4 2.31l-4-2.31v-4.62zM357.65 309.58l4 2.31v4.62l-4 2.31l-4-2.31v-4.62zM365.65 309.58l4 2.31v4.62l-4 2.31l-4-2.31v-4.62zM373.65 309.58l4 2.31v4.62l-4 2.31l-4-2.31v-4.62zM381.65 309.58l4 2.31v4.62l-4 2.31l-4-2.31v-4.62zM389.65 309.58l4 2.31v4.62l-4 2.31l-4-2.31v-4.62zM1045.73 309.58l4 2.31v4.62l-4 2.31l-4-2.31v-4.62zM1053.73 309.58l4 2.31v4.62l-4 2.31l-4-2.31v-4.62zM1061.73 309.58l4 2.31v4.62l-4 2.31l-4-2.31v-4.62zM1085.74 309.58l4 2.31v4.62l-4 2.31l-4-2.31v-4.62zM353.65 316.51l4 2.31v4.62l-4 2.31l-4-2.31v-4.62zM361.65 316.51l4 2.31v4.62l-4 2.31l-4-2.31v-4.62zM369.65 316.51l4 2.31v4.62l-4 2.31l-4-2.31v-4.62zM377.65 316.51l4 2.31v4.62l-4 2.31l-4-2.31v-4.62zM385.65 316.51l4 2.31v4.62l-4 2.31l-4-2.31v-4.62zM1049.73 316.51l4 2.31v4.62l-4 2.31l-4-2.31v-4.62zM1057.73 316.51l4 2.31v4.62l-4 2.31l-4-2.31v-4.62zM357.65 323.43l4 2.31v4.62l-4 2.31l-4-2.31v-4.62zM365.65 323.43l4 2.31v4.62l-4 2.31l-4-2.31v-4.62zM373.65 323.43l4 2.31v4.62l-4 2.31l-4-2.31v-4.62zM381.65 323.43l4 2.31v4.62l-4 2.31l-4-2.31v-4.62zM389.65 323.43l4 2.31v4.62l-4 2.31l-4-2.31v-4.62zM1053.73 323.43l4 2.31v4.62l-4 2.31l-4-2.31v-4.62zM369.65 330.36l4 2.31v4.62l-4 2.31l-4-2.31v-4.62zM377.65 330.36l4 2.31v4.62l-4 2.31l-4-2.31v-4.62zM385.65 330.36l4 2.31v4.62l-4 2.31l-4-2.31v-4.62zM381.65 337.29l4 2.31v4.62l-4 2.31l-4-2.31v-4.62zM1061.73 351.15l4 2.31v4.62l-4 2.31l-4-2.31v-4.62zM1069.74 351.15l4 2.31v4.62l-4 2.31l-4-2.31v-4.62zM1057.73 358.08l4 2.31v4.62l-4 2.31l-4-2.31v-4.62zM1065.73 358.08l4 2.31v4.62l-4 2.31l-4-2.31v-4.62zM1061.73 365.01l4 2.31v4.62l-4 2.31l-4-2.31v-4.62zM1069.74 365.01l4 2.31v4.62l-4 2.31l-4-2.31v-4.62zM397.65 378.87l4 2.31v4.62l-4 2.31l-4-2.31v-4.62zM401.65 385.80l4 2.31v4.62l-4 2.31l-4-2.31v-4.62zM409.65 385.80l4 2.31v4.62l-4 2.31l-4-2.31v-4.62zM397.65 392.72l4 2.31v4.62l-4 2.31l-4-2.31v-4.62zM405.65 392.72l4 2.31v4.62l-4 2.31l-4-2.31v-4.62zM413.65 392.72l4 2.31v4.62l-4 2.31l-4-2.31v-4.62zM421.65 392.72l4 2.31v4.62l-4 2.31l-4-2.31v-4.62zM437.66 392.72l4 2.31v4.62l-4 2.31l-4-2.31v-4.62zM445.66 392.72l4 2.31v4.62l-4 2.31l-4-2.31v-4.62zM453.66 392.72l4 2.31v4.62l-4 2.31l-4-2.31v-4.62zM461.66 392.72l4 2.31v4.62l-4 2.31l-4-2.31v-4.62zM469.66 392.72l4 2.31v4.62l-4 2.31l-4-2.31v-4.62zM393.65 399.65l4 2.31v4.62l-4 2.31l-4-2.31v-4.62zM401.65 399.65l4 2.31v4.62l-4 2.31l-4-2.31v-4.62zM409.65 399.65l4 2.31v4.62l-4 2.31l-4-2.31v-4.62zM417.65 399.65l4 2.31v4.62l-4 2.31l-4-2.31v-4.62zM425.65 399.65l4 2.31v4.62l-4 2.31l-4-2.31v-4.62zM433.66 399.65l4 2.31v4.62l-4 2.31l-4-2.31v-4.62zM405.65 406.58l4 2.31v4.62l-4 2.31l-4-2.31v-4.62zM413.65 406.58l4 2.31v4.62l-4 2.31l-4-2.31v-4.62zM421.65 406.58l4 2.31v4.62l-4 2.31l-4-2.31v-4.62zM453.66 406.58l4 2.31v4.62l-4 2.31l-4-2.31v-4.62zM461.66 406.58l4 2.31v4.62l-4 2.31l-4-2.31v-4.62zM469.66 406.58l4 2.31v4.62l-4 2.31l-4-2.31v-4.62zM477.66 406.58l4 2.31v4.62l-4 2.31l-4-2.31v-4.62zM409.65 413.51l4 2.31v4.62l-4 2.31l-4-2.31v-4.62zM417.65 413.51l4 2.31v4.62l-4 2.31l-4-2.31v-4.62zM433.66 413.51l4 2.31v4.62l-4 2.31l-4-2.31v-4.62zM441.66 413.51l4 2.31v4.62l-4 2.31l-4-2.31v-4.62zM449.66 413.51l4 2.31v4.62l-4 2.31l-4-2.31v-4.62zM457.66 413.51l4 2.31v4.62l-4 2.31l-4-2.31v-4.62zM465.66 413.51l4 2.31v4.62l-4 2.31l-4-2.31v-4.62zM473.66 413.51l4 2.31v4.62l-4 2.31l-4-2.31v-4.62zM481.66 413.51l4 2.31v4.62l-4 2.31l-4-2.31v-4.62zM421.65 420.44l4 2.31v4.62l-4 2.31l-4-2.31v-4.62zM429.66 420.44l4 2.31v4.62l-4 2.31l-4-2.31v-4.62zM437.66 420.44l4 2.31v4.62l-4 2.31l-4-2.31v-4.62zM445.66 420.44l4 2.31v4.62l-4 2.31l-4-2.31v-4.62zM453.66 420.44l4 2.31v4.62l-4 2.31l-4-2.31v-4.62zM461.66 420.44l4 2.31v4.62l-4 2.31l-4-2.31v-4.62zM469.66 420.44l4 2.31v4.62l-4 2.31l-4-2.31v-4.62zM477.66 420.44l4 2.31v4.62l-4 2.31l-4-2.31v-4.62zM485.66 420.44l4 2.31v4.62l-4 2.31l-4-2.31v-4.62zM493.66 420.44l4 2.31v4.62l-4 2.31l-4-2.31v-4.62zM501.66 420.44l4 2.31v4.62l-4 2.31l-4-2.31v-4.62zM509.67 420.44l4 2.31v4.62l-4 2.31l-4-2.31v-4.62zM517.67 420.44l4 2.31v4.62l-4 2.31l-4-2.31v-4.62zM525.67 420.44l4 2.31v4.62l-4 2.31l-4-2.31v-4.62zM417.65 427.37l4 2.31v4.62l-4 2.31l-4-2.31v-4.62zM425.65 427.37l4 2.31v4.62l-4 2.31l-4-2.31v-4.62zM433.66 427.37l4 2.31v4.62l-4 2.31l-4-2.31v-4.62zM441.66 427.37l4 2.31v4.62l-4 2.31l-4-2.31v-4.62zM449.66 427.37l4 2.31v4.62l-4 2.31l-4-2.31v-4.62zM457.66 427.37l4 2.31v4.62l-4 2.31l-4-2.31v-4.62zM465.66 427.37l4 2.31v4.62l-4 2.31l-4-2.31v-4.62zM473.66 427.37l4 2.31v4.62l-4 2.31l-4-2.31v-4.62zM481.66 427.37l4 2.31v4.62l-4 2.31l-4-2.31v-4.62zM489.66 427.37l4 2.31v4.62l-4 2.31l-4-2.31v-4.62zM497.66 427.37l4 2.31v4.62l-4 2.31l-4-2.31v-4.62zM505.66 427.37l4 2.31v4.62l-4 2.31l-4-2.31v-4.62zM513.67 427.37l4 2.31v4.62l-4 2.31l-4-2.31v-4.62zM521.67 427.37l4 2.31v4.62l-4 2.31l-4-2.31v-4.62zM529.67 427.37l4 2.31v4.62l-4 2.31l-4-2.31v-4.62zM537.67 427.37l4 2.31v4.62l-4 2.31l-4-2.31v-4.62zM561.67 427.37l4 2.31v4.62l-4 2.31l-4-2.31v-4.62zM405.65 434.30l4 2.31v4.62l-4 2.31l-4-2.31v-4.62zM413.65 434.30l4 2.31v4.62l-4 2.31l-4-2.31v-4.62zM421.65 434.30l4 2.31v4.62l-4 2.31l-4-2.31v-4.62zM429.66 434.30l4 2.31v4.62l-4 2.31l-4-2.31v-4.62zM437.66 434.30l4 2.31v4.62l-4 2.31l-4-2.31v-4.62zM445.66 434.30l4 2.31v4.62l-4 2.31l-4-2.31v-4.62zM453.66 434.30l4 2.31v4.62l-4 2.31l-4-2.31v-4.62zM461.66 434.30l4 2.31v4.62l-4 2.31l-4-2.31v-4.62zM469.66 434.30l4 2.31v4.62l-4 2.31l-4-2.31v-4.62zM477.66 434.30l4 2.31v4.62l-4 2.31l-4-2.31v-4.62zM485.66 434.30l4 2.31v4.62l-4 2.31l-4-2.31v-4.62zM493.66 434.30l4 2.31v4.62l-4 2.31l-4-2.31v-4.62zM501.66 434.30l4 2.31v4.62l-4 2.31l-4-2.31v-4.62zM509.67 434.30l4 2.31v4.62l-4 2.31l-4-2.31v-4.62zM517.67 434.30l4 2.31v4.62l-4 2.31l-4-2.31v-4.62zM525.67 434.30l4 2.31v4.62l-4 2.31l-4-2.31v-4.62zM533.67 434.30l4 2.31v4.62l-4 2.31l-4-2.31v-4.62zM541.67 434.30l4 2.31v4.62l-4 2.31l-4-2.31v-4.62zM573.67 434.30l4 2.31v4.62l-4 2.31l-4-2.31v-4.62zM581.67 434.30l4 2.31v4.62l-4 2.31l-4-2.31v-4.62zM409.65 441.23l4 2.31v4.62l-4 2.31l-4-2.31v-4.62zM417.65 441.23l4 2.31v4.62l-4 2.31l-4-2.31v-4.62zM425.65 441.23l4 2.31v4.62l-4 2.31l-4-2.31v-4.62zM433.66 441.23l4 2.31v4.62l-4 2.31l-4-2.31v-4.62zM441.66 441.23l4 2.31v4.62l-4 2.31l-4-2.31v-4.62zM449.66 441.23l4 2.31v4.62l-4 2.31l-4-2.31v-4.62zM457.66 441.23l4 2.31v4.62l-4 2.31l-4-2.31v-4.62zM465.66 441.23l4 2.31v4.62l-4 2.31l-4-2.31v-4.62zM473.66 441.23l4 2.31v4.62l-4 2.31l-4-2.31v-4.62zM481.66 441.23l4 2.31v4.62l-4 2.31l-4-2.31v-4.62zM489.66 441.23l4 2.31v4.62l-4 2.31l-4-2.31v-4.62zM497.66 441.23l4 2.31v4.62l-4 2.31l-4-2.31v-4.62zM505.66 441.23l4 2.31v4.62l-4 2.31l-4-2.31v-4.62zM513.67 441.23l4 2.31v4.62l-4 2.31l-4-2.31v-4.62zM521.67 441.23l4 2.31v4.62l-4 2.31l-4-2.31v-4.62zM529.67 441.23l4 2.31v4.62l-4 2.31l-4-2.31v-4.62zM537.67 441.23l4 2.31v4.62l-4 2.31l-4-2.31v-4.62zM545.67 441.23l4 2.31v4.62l-4 2.31l-4-2.31v-4.62zM585.67 441.23l4 2.31v4.62l-4 2.31l-4-2.31v-4.62zM593.68 441.23l4 2.31v4.62l-4 2.31l-4-2.31v-4.62zM309.64 448.16l4 2.31v4.62l-4 2.31l-4-2.31v-4.62zM405.65 448.16l4 2.31v4.62l-4 2.31l-4-2.31v-4.62zM413.65 448.16l4 2.31v4.62l-4 2.31l-4-2.31v-4.62zM421.65 448.16l4 2.31v4.62l-4 2.31l-4-2.31v-4.62zM429.66 448.16l4 2.31v4.62l-4 2.31l-4-2.31v-4.62zM437.66 448.16l4 2.31v4.62l-4 2.31l-4-2.31v-4.62zM445.66 448.16l4 2.31v4.62l-4 2.31l-4-2.31v-4.62zM453.66 448.16l4 2.31v4.62l-4 2.31l-4-2.31v-4.62zM461.66 448.16l4 2.31v4.62l-4 2.31l-4-2.31v-4.62zM469.66 448.16l4 2.31v4.62l-4 2.31l-4-2.31v-4.62zM477.66 448.16l4 2.31v4.62l-4 2.31l-4-2.31v-4.62zM485.66 448.16l4 2.31v4.62l-4 2.31l-4-2.31v-4.62zM493.66 448.16l4 2.31v4.62l-4 2.31l-4-2.31v-4.62zM501.66 448.16l4 2.31v4.62l-4 2.31l-4-2.31v-4.62zM509.67 448.16l4 2.31v4.62l-4 2.31l-4-2.31v-4.62zM517.67 448.16l4 2.31v4.62l-4 2.31l-4-2.31v-4.62zM525.67 448.16l4 2.31v4.62l-4 2.31l-4-2.31v-4.62zM533.67 448.16l4 2.31v4.62l-4 2.31l-4-2.31v-4.62zM589.68 448.16l4 2.31v4.62l-4 2.31l-4-2.31v-4.62zM597.68 448.16l4 2.31v4.62l-4 2.31l-4-2.31v-4.62zM305.64 455.09l4 2.31v4.62l-4 2.31l-4-2.31v-4.62zM401.65 455.09l4 2.31v4.62l-4 2.31l-4-2.31v-4.62zM409.65 455.09l4 2.31v4.62l-4 2.31l-4-2.31v-4.62zM417.65 455.09l4 2.31v4.62l-4 2.31l-4-2.31v-4.62zM425.65 455.09l4 2.31v4.62l-4 2.31l-4-2.31v-4.62zM433.66 455.09l4 2.31v4.62l-4 2.31l-4-2.31v-4.62zM441.66 455.09l4 2.31v4.62l-4 2.31l-4-2.31v-4.62zM449.66 455.09l4 2.31v4.62l-4 2.31l-4-2.31v-4.62zM457.66 455.09l4 2.31v4.62l-4 2.31l-4-2.31v-4.62zM465.66 455.09l4 2.31v4.62l-4 2.31l-4-2.31v-4.62zM473.66 455.09l4 2.31v4.62l-4 2.31l-4-2.31v-4.62zM481.66 455.09l4 2.31v4.62l-4 2.31l-4-2.31v-4.62zM489.66 455.09l4 2.31v4.62l-4 2.31l-4-2.31v-4.62zM497.66 455.09l4 2.31v4.62l-4 2.31l-4-2.31v-4.62zM505.66 455.09l4 2.31v4.62l-4 2.31l-4-2.31v-4.62zM513.67 455.09l4 2.31v4.62l-4 2.31l-4-2.31v-4.62zM521.67 455.09l4 2.31v4.62l-4 2.31l-4-2.31v-4.62zM529.67 455.09l4 2.31v4.62l-4 2.31l-4-2.31v-4.62zM301.64 462.02l4 2.31v4.62l-4 2.31l-4-2.31v-4.62zM309.64 462.02l4 2.31v4.62l-4 2.31l-4-2.31v-4.62zM397.65 462.02l4 2.31v4.62l-4 2.31l-4-2.31v-4.62zM405.65 462.02l4 2.31v4.62l-4 2.31l-4-2.31v-4.62zM413.65 462.02l4 2.31v4.62l-4 2.31l-4-2.31v-4.62zM421.65 462.02l4 2.31v4.62l-4 2.31l-4-2.31v-4.62zM429.66 462.02l4 2.31v4.62l-4 2.31l-4-2.31v-4.62zM437.66 462.02l4 2.31v4.62l-4 2.31l-4-2.31v-4.62zM445.66 462.02l4 2.31v4.62l-4 2.31l-4-2.31v-4.62zM453.66 462.02l4 2.31v4.62l-4 2.31l-4-2.31v-4.62zM461.66 462.02l4 2.31v4.62l-4 2.31l-4-2.31v-4.62zM469.66 462.02l4 2.31v4.62l-4 2.31l-4-2.31v-4.62zM477.66 462.02l4 2.31v4.62l-4 2.31l-4-2.31v-4.62zM485.66 462.02l4 2.31v4.62l-4 2.31l-4-2.31v-4.62zM493.66 462.02l4 2.31v4.62l-4 2.31l-4-2.31v-4.62zM501.66 462.02l4 2.31v4.62l-4 2.31l-4-2.31v-4.62zM509.67 462.02l4 2.31v4.62l-4 2.31l-4-2.31v-4.62zM517.67 462.02l4 2.31v4.62l-4 2.31l-4-2.31v-4.62zM525.67 462.02l4 2.31v4.62l-4 2.31l-4-2.31v-4.62zM313.64 468.94l4 2.31v4.62l-4 2.31l-4-2.31v-4.62zM401.65 468.94l4 2.31v4.62l-4 2.31l-4-2.31v-4.62zM409.65 468.94l4 2.31v4.62l-4 2.31l-4-2.31v-4.62zM417.65 468.94l4 2.31v4.62l-4 2.31l-4-2.31v-4.62zM425.65 468.94l4 2.31v4.62l-4 2.31l-4-2.31v-4.62zM433.66 468.94l4 2.31v4.62l-4 2.31l-4-2.31v-4.62zM441.66 468.94l4 2.31v4.62l-4 2.31l-4-2.31v-4.62zM449.66 468.94l4 2.31v4.62l-4 2.31l-4-2.31v-4.62zM457.66 468.94l4 2.31v4.62l-4 2.31l-4-2.31v-4.62zM465.66 468.94l4 2.31v4.62l-4 2.31l-4-2.31v-4.62zM473.66 468.94l4 2.31v4.62l-4 2.31l-4-2.31v-4.62zM481.66 468.94l4 2.31v4.62l-4 2.31l-4-2.31v-4.62zM489.66 468.94l4 2.31v4.62l-4 2.31l-4-2.31v-4.62zM497.66 468.94l4 2.31v4.62l-4 2.31l-4-2.31v-4.62zM309.64 475.87l4 2.31v4.62l-4 2.31l-4-2.31v-4.62zM317.64 475.87l4 2.31v4.62l-4 2.31l-4-2.31v-4.62zM325.64 475.87l4 2.31v4.62l-4 2.31l-4-2.31v-4.62zM397.65 475.87l4 2.31v4.62l-4 2.31l-4-2.31v-4.62zM405.65 475.87l4 2.31v4.62l-4 2.31l-4-2.31v-4.62zM413.65 475.87l4 2.31v4.62l-4 2.31l-4-2.31v-4.62zM421.65 475.87l4 2.31v4.62l-4 2.31l-4-2.31v-4.62zM429.66 475.87l4 2.31v4.62l-4 2.31l-4-2.31v-4.62zM437.66 475.87l4 2.31v4.62l-4 2.31l-4-2.31v-4.62zM445.66 475.87l4 2.31v4.62l-4 2.31l-4-2.31v-4.62zM453.66 475.87l4 2.31v4.62l-4 2.31l-4-2.31v-4.62zM461.66 475.87l4 2.31v4.62l-4 2.31l-4-2.31v-4.62zM469.66 475.87l4 2.31v4.62l-4 2.31l-4-2.31v-4.62zM477.66 475.87l4 2.31v4.62l-4 2.31l-4-2.31v-4.62zM485.66 475.87l4 2.31v4.62l-4 2.31l-4-2.31v-4.62zM313.64 482.80l4 2.31v4.62l-4 2.31l-4-2.31v-4.62zM321.64 482.80l4 2.31v4.62l-4 2.31l-4-2.31v-4.62zM329.64 482.80l4 2.31v4.62l-4 2.31l-4-2.31v-4.62zM337.64 482.80l4 2.31v4.62l-4 2.31l-4-2.31v-4.62zM401.65 482.80l4 2.31v4.62l-4 2.31l-4-2.31v-4.62zM409.65 482.80l4 2.31v4.62l-4 2.31l-4-2.31v-4.62zM417.65 482.80l4 2.31v4.62l-4 2.31l-4-2.31v-4.62zM425.65 482.80l4 2.31v4.62l-4 2.31l-4-2.31v-4.62zM433.66 482.80l4 2.31v4.62l-4 2.31l-4-2.31v-4.62zM441.66 482.80l4 2.31v4.62l-4 2.31l-4-2.31v-4.62zM449.66 482.80l4 2.31v4.62l-4 2.31l-4-2.31v-4.62zM465.66 482.80l4 2.31v4.62l-4 2.31l-4-2.31v-4.62zM309.64 489.73l4 2.31v4.62l-4 2.31l-4-2.31v-4.62zM317.64 489.73l4 2.31v4.62l-4 2.31l-4-2.31v-4.62zM325.64 489.73l4 2.31v4.62l-4 2.31l-4-2.31v-4.62zM333.64 489.73l4 2.31v4.62l-4 2.31l-4-2.31v-4.62zM341.64 489.73l4 2.31v4.62l-4 2.31l-4-2.31v-4.62zM349.65 489.73l4 2.31v4.62l-4 2.31l-4-2.31v-4.62zM357.65 489.73l4 2.31v4.62l-4 2.31l-4-2.31v-4.62zM365.65 489.73l4 2.31v4.62l-4 2.31l-4-2.31v-4.62zM373.65 489.73l4 2.31v4.62l-4 2.31l-4-2.31v-4.62zM405.65 489.73l4 2.31v4.62l-4 2.31l-4-2.31v-4.62zM413.65 489.73l4 2.31v4.62l-4 2.31l-4-2.31v-4.62zM421.65 489.73l4 2.31v4.62l-4 2.31l-4-2.31v-4.62zM429.66 489.73l4 2.31v4.62l-4 2.31l-4-2.31v-4.62zM437.66 489.73l4 2.31v4.62l-4 2.31l-4-2.31v-4.62zM445.66 489.73l4 2.31v4.62l-4 2.31l-4-2.31v-4.62zM453.66 489.73l4 2.31v4.62l-4 2.31l-4-2.31v-4.62zM305.64 496.66l4 2.31v4.62l-4 2.31l-4-2.31v-4.62zM313.64 496.66l4 2.31v4.62l-4 2.31l-4-2.31v-4.62zM321.64 496.66l4 2.31v4.62l-4 2.31l-4-2.31v-4.62zM329.64 496.66l4 2.31v4.62l-4 2.31l-4-2.31v-4.62zM409.65 496.66l4 2.31v4.62l-4 2.31l-4-2.31v-4.62zM417.65 496.66l4 2.31v4.62l-4 2.31l-4-2.31v-4.62zM425.65 496.66l4 2.31v4.62l-4 2.31l-4-2.31v-4.62zM433.66 496.66l4 2.31v4.62l-4 2.31l-4-2.31v-4.62zM441.66 496.66l4 2.31v4.62l-4 2.31l-4-2.31v-4.62zM449.66 496.66l4 2.31v4.62l-4 2.31l-4-2.31v-4.62zM457.66 496.66l4 2.31v4.62l-4 2.31l-4-2.31v-4.62zM301.64 503.59l4 2.31v4.62l-4 2.31l-4-2.31v-4.62zM309.64 503.59l4 2.31v4.62l-4 2.31l-4-2.31v-4.62zM317.64 503.59l4 2.31v4.62l-4 2.31l-4-2.31v-4.62zM325.64 503.59l4 2.31v4.62l-4 2.31l-4-2.31v-4.62zM333.64 503.59l4 2.31v4.62l-4 2.31l-4-2.31v-4.62zM341.64 503.59l4 2.31v4.62l-4 2.31l-4-2.31v-4.62zM349.65 503.59l4 2.31v4.62l-4 2.31l-4-2.31v-4.62zM357.65 503.59l4 2.31v4.62l-4 2.31l-4-2.31v-4.62zM365.65 503.59l4 2.31v4.62l-4 2.31l-4-2.31v-4.62zM373.65 503.59l4 2.31v4.62l-4 2.31l-4-2.31v-4.62zM381.65 503.59l4 2.31v4.62l-4 2.31l-4-2.31v-4.62zM413.65 503.59l4 2.31v4.62l-4 2.31l-4-2.31v-4.62zM421.65 503.59l4 2.31v4.62l-4 2.31l-4-2.31v-4.62zM429.66 503.59l4 2.31v4.62l-4 2.31l-4-2.31v-4.62zM437.66 503.59l4 2.31v4.62l-4 2.31l-4-2.31v-4.62zM445.66 503.59l4 2.31v4.62l-4 2.31l-4-2.31v-4.62zM453.66 503.59l4 2.31v4.62l-4 2.31l-4-2.31v-4.62zM305.64 510.52l4 2.31v4.62l-4 2.31l-4-2.31v-4.62zM313.64 510.52l4 2.31v4.62l-4 2.31l-4-2.31v-4.62zM321.64 510.52l4 2.31v4.62l-4 2.31l-4-2.31v-4.62zM329.64 510.52l4 2.31v4.62l-4 2.31l-4-2.31v-4.62zM337.64 510.52l4 2.31v4.62l-4 2.31l-4-2.31v-4.62zM345.64 510.52l4 2.31v4.62l-4 2.31l-4-2.31v-4.62zM353.65 510.52l4 2.31v4.62l-4 2.31l-4-2.31v-4.62zM361.65 510.52l4 2.31v4.62l-4 2.31l-4-2.31v-4.62zM369.65 510.52l4 2.31v4.62l-4 2.31l-4-2.31v-4.62zM377.65 510.52l4 2.31v4.62l-4 2.31l-4-2.31v-4.62zM385.65 510.52l4 2.31v4.62l-4 2.31l-4-2.31v-4.62zM417.65 510.52l4 2.31v4.62l-4 2.31l-4-2.31v-4.62zM425.65 510.52l4 2.31v4.62l-4 2.31l-4-2.31v-4.62zM433.66 510.52l4 2.31v4.62l-4 2.31l-4-2.31v-4.62zM441.66 510.52l4 2.31v4.62l-4 2.31l-4-2.31v-4.62zM449.66 510.52l4 2.31v4.62l-4 2.31l-4-2.31v-4.62zM301.64 517.45l4 2.31v4.62l-4 2.31l-4-2.31v-4.62zM309.64 517.45l4 2.31v4.62l-4 2.31l-4-2.31v-4.62zM317.64 517.45l4 2.31v4.62l-4 2.31l-4-2.31v-4.62zM325.64 517.45l4 2.31v4.62l-4 2.31l-4-2.31v-4.62zM333.64 517.45l4 2.31v4.62l-4 2.31l-4-2.31v-4.62zM341.64 517.45l4 2.31v4.62l-4 2.31l-4-2.31v-4.62zM349.65 517.45l4 2.31v4.62l-4 2.31l-4-2.31v-4.62zM357.65 517.45l4 2.31v4.62l-4 2.31l-4-2.31v-4.62zM365.65 517.45l4 2.31v4.62l-4 2.31l-4-2.31v-4.62zM373.65 517.45l4 2.31v4.62l-4 2.31l-4-2.31v-4.62zM381.65 517.45l4 2.31v4.62l-4 2.31l-4-2.31v-4.62zM421.65 517.45l4 2.31v4.62l-4 2.31l-4-2.31v-4.62zM429.66 517.45l4 2.31v4.62l-4 2.31l-4-2.31v-4.62zM437.66 517.45l4 2.31v4.62l-4 2.31l-4-2.31v-4.62zM305.64 524.38l4 2.31v4.62l-4 2.31l-4-2.31v-4.62zM313.64 524.38l4 2.31v4.62l-4 2.31l-4-2.31v-4.62zM321.64 524.38l4 2.31v4.62l-4 2.31l-4-2.31v-4.62zM329.64 524.38l4 2.31v4.62l-4 2.31l-4-2.31v-4.62zM417.65 524.38l4 2.31v4.62l-4 2.31l-4-2.31v-4.62zM425.65 524.38l4 2.31v4.62l-4 2.31l-4-2.31v-4.62zM433.66 524.38l4 2.31v4.62l-4 2.31l-4-2.31v-4.62zM301.64 531.31l4 2.31v4.62l-4 2.31l-4-2.31v-4.62zM309.64 531.31l4 2.31v4.62l-4 2.31l-4-2.31v-4.62zM317.64 531.31l4 2.31v4.62l-4 2.31l-4-2.31v-4.62zM325.64 531.31l4 2.31v4.62l-4 2.31l-4-2.31v-4.62zM333.64 531.31l4 2.31v4.62l-4 2.31l-4-2.31v-4.62zM341.64 531.31l4 2.31v4.62l-4 2.31l-4-2.31v-4.62zM349.65 531.31l4 2.31v4.62l-4 2.31l-4-2.31v-4.62zM357.65 531.31l4 2.31v4.62l-4 2.31l-4-2.31v-4.62zM365.65 531.31l4 2.31v4.62l-4 2.31l-4-2.31v-4.62zM373.65 531.31l4 2.31v4.62l-4 2.31l-4-2.31v-4.62zM381.65 531.31l4 2.31v4.62l-4 2.31l-4-2.31v-4.62zM389.65 531.31l4 2.31v4.62l-4 2.31l-4-2.31v-4.62zM397.65 531.31l4 2.31v4.62l-4 2.31l-4-2.31v-4.62zM421.65 531.31l4 2.31v4.62l-4 2.31l-4-2.31v-4.62zM429.66 531.31l4 2.31v4.62l-4 2.31l-4-2.31v-4.62zM305.64 538.24l4 2.31v4.62l-4 2.31l-4-2.31v-4.62zM313.64 538.24l4 2.31v4.62l-4 2.31l-4-2.31v-4.62zM321.64 538.24l4 2.31v4.62l-4 2.31l-4-2.31v-4.62zM329.64 538.24l4 2.31v4.62l-4 2.31l-4-2.31v-4.62zM337.64 538.24l4 2.31v4.62l-4 2.31l-4-2.31v-4.62zM345.64 538.24l4 2.31v4.62l-4 2.31l-4-2.31v-4.62zM353.65 538.24l4 2.31v4.62l-4 2.31l-4-2.31v-4.62zM361.65 538.24l4 2.31v4.62l-4 2.31l-4-2.31v-4.62zM369.65 538.24l4 2.31v4.62l-4 2.31l-4-2.31v-4.62zM377.65 538.24l4 2.31v4.62l-4 2.31l-4-2.31v-4.62zM385.65 538.24l4 2.31v4.62l-4 2.31l-4-2.31v-4.62zM393.65 538.24l4 2.31v4.62l-4 2.31l-4-2.31v-4.62zM401.65 538.24l4 2.31v4.62l-4 2.31l-4-2.31v-4.62zM333.64 545.16l4 2.31v4.62l-4 2.31l-4-2.31v-4.62zM341.64 545.16l4 2.31v4.62l-4 2.31l-4-2.31v-4.62zM349.65 545.16l4 2.31v4.62l-4 2.31l-4-2.31v-4.62zM357.65 545.16l4 2.31v4.62l-4 2.31l-4-2.31v-4.62zM365.65 545.16l4 2.31v4.62l-4 2.31l-4-2.31v-4.62zM373.65 545.16l4 2.31v4.62l-4 2.31l-4-2.31v-4.62zM381.65 545.16l4 2.31v4.62l-4 2.31l-4-2.31v-4.62zM389.65 545.16l4 2.31v4.62l-4 2.31l-4-2.31v-4.62zM397.65 545.16l4 2.31v4.62l-4 2.31l-4-2.31v-4.62zM361.65 552.09l4 2.31v4.62l-4 2.31l-4-2.31v-4.62zM369.65 552.09l4 2.31v4.62l-4 2.31l-4-2.31v-4.62zM377.65 552.09l4 2.31v4.62l-4 2.31l-4-2.31v-4.62z"/>
<path fill="#FEE38E" stroke="#FEE38E" d="M749.70 115.56l4 2.31v4.62l-4 2.31l-4-2.31v-4.62zM593.68 122.49l4 2.31v4.62l-4 2.31l-4-2.31v-4.62zM753.70 122.49l4 2.31v4.62l-4 2.31l-4-2.31v-4.62zM529.67 136.35l4 2.31v4.62l-4 2.31l-4-2.31v-4.62zM537.67 136.35l4 2.31v4.62l-4 2.31l-4-2.31v-4.62zM533.67 143.28l4 2.31v4.62l-4 2.31l-4-2.31v-4.62zM757.70 143.28l4 2.31v4.62l-4 2.31l-4-2.31v-4.62zM529.67 150.21l4 2.31v4.62l-4 2.31l-4-2.31v-4.62zM537.67 150.21l4 2.31v4.62l-4 2.31l-4-2.31v-4.62zM761.70 150.21l4 2.31v4.62l-4 2.31l-4-2.31v-4.62zM533.67 157.14l4 2.31v4.62l-4 2.31l-4-2.31v-4.62zM765.70 157.14l4 2.31v4.62l-4 2.31l-4-2.31v-4.62zM789.70 157.14l4 2.31v4.62l-4 2.31l-4-2.31v-4.62zM529.67 164.07l4 2.31v4.62l-4 2.31l-4-2.31v-4.62zM537.67 164.07l4 2.31v4.62l-4 2.31l-4-2.31v-4.62zM785.70 164.07l4 2.31v4.62l-4 2.31l-4-2.31v-4.62zM793.70 164.07l4 2.31v4.62l-4 2.31l-4-2.31v-4.62zM533.67 170.99l4 2.31v4.62l-4 2.31l-4-2.31v-4.62zM541.67 170.99l4 2.31v4.62l-4 2.31l-4-2.31v-4.62zM773.70 170.99l4 2.31v4.62l-4 2.31l-4-2.31v-4.62zM781.70 170.99l4 2.31v4.62l-4 2.31l-4-2.31v-4.62zM789.70 170.99l4 2.31v4.62l-4 2.31l-4-2.31v-4.62zM537.67 177.92l4 2.31v4.62l-4 2.31l-4-2.31v-4.62zM545.67 177.92l4 2.31v4.62l-4 2.31l-4-2.31v-4.62zM769.70 177.92l4 2.31v4.62l-4 2.31l-4-2.31v-4.62zM777.70 177.92l4 2.31v4.62l-4 2.31l-4-2.31v-4.62zM785.70 177.92l4 2.31v4.62l-4 2.31l-4-2.31v-4.62zM533.67 184.85l4 2.31v4.62l-4 2.31l-4-2.31v-4.62zM541.67 184.85l4 2.31v4.62l-4 2.31l-4-2.31v-4.62zM669.69 184.85l4 2.31v4.62l-4 2.31l-4-2.31v-4.62zM677.69 184.85l4 2.31v4.62l-4 2.31l-4-2.31v-4.62zM765.70 184.85l4 2.31v4.62l-4 2.31l-4-2.31v-4.62zM773.70 184.85l4 2.31v4.62l-4 2.31l-4-2.31v-4.62zM781.70 184.85l4 2.31v4.62l-4 2.31l-4-2.31v-4.62zM789.70 184.85l4 2.31v4.62l-4 2.31l-4-2.31v-4.62zM529.67 191.78l4 2.31v4.62l-4 2.31l-4-2.31v-4.62zM537.67 191.78l4 2.31v4.62l-4 2.31l-4-2.31v-4.62zM657.68 191.78l4 2.31v4.62l-4 2.31l-4-2.31v-4.62zM665.68 191.78l4 2.31v4.62l-4 2.31l-4-2.31v-4.62zM673.69 191.78l4 2.31v4.62l-4 2.31l-4-2.31v-4.62zM525.67 198.71l4 2.31v4.62l-4 2.31l-4-2.31v-4.62zM533.67 198.71l4 2.31v4.62l-4 2.31l-4-2.31v-4.62zM629.68 198.71l4 2.31v4.62l-4 2.31l-4-2.31v-4.62zM637.68 198.71l4 2.31v4.62l-4 2.31l-4-2.31v-4.62zM645.68 198.71l4 2.31v4.62l-4 2.31l-4-2.31v-4.62zM653.68 198.71l4 2.31v4.62l-4 2.31l-4-2.31v-4.62zM661.68 198.71l4 2.31v4.62l-4 2.31l-4-2.31v-4.62zM669.69 198.71l4 2.31v4.62l-4 2.31l-4-2.31v-4.62zM677.69 198.71l4 2.31v4.62l-4 2.31l-4-2.31v-4.62zM513.67 205.64l4 2.31v4.62l-4 2.31l-4-2.31v-4.62zM521.67 205.64l4 2.31v4.62l-4 2.31l-4-2.31v-4.62zM625.68 205.64l4 2.31v4.62l-4 2.31l-4-2.31v-4.62zM633.68 205.64l4 2.31v4.62l-4 2.31l-4-2.31v-4.62zM673.69 205.64l4 2.31v4.62l-4 2.31l-4-2.31v-4.62zM681.69 205.64l4 2.31v4.62l-4 2.31l-4-2.31v-4.62zM501.66 212.57l4 2.31v4.62l-4 2.31l-4-2.31v-4.62zM509.67 212.57l4 2.31v4.62l-4 2.31l-4-2.31v-4.62zM517.67 212.57l4 2.31v4.62l-4 2.31l-4-2.31v-4.62zM629.68 212.57l4 2.31v4.62l-4 2.31l-4-2.31v-4.62zM677.69 212.57l4 2.31v4.62l-4 2.31l-4-2.31v-4.62zM685.69 212.57l4 2.31v4.62l-4 2.31l-4-2.31v-4.62zM693.69 212.57l4 2.31v4.62l-4 2.31l-4-2.31v-4.62zM481.66 219.50l4 2.31v4.62l-4 2.31l-4-2.31v-4.62zM489.66 219.50l4 2.31v4.62l-4 2.31l-4-2.31v-4.62zM497.66 219.50l4 2.31v4.62l-4 2.31l-4-2.31v-4.62zM505.66 219.50l4 2.31v4.62l-4 2.31l-4-2.31v-4.62zM513.67 219.50l4 2.31v4.62l-4 2.31l-4-2.31v-4.62zM625.68 219.50l4 2.31v4.62l-4 2.31l-4-2.31v-4.62zM633.68 219.50l4 2.31v4.62l-4 2.31l-4-2.31v-4.62zM689.69 219.50l4 2.31v4.62l-4 2.31l-4-2.31v-4.62zM697.69 219.50l4 2.31v4.62l-4 2.31l-4-2.31v-4.62zM705.69 219.50l4 2.31v4.62l-4 2.31l-4-2.31v-4.62zM477.66 226.43l4 2.31v4.62l-4 2.31l-4-2.31v-4.62zM485.66 226.43l4 2.31v4.62l-4 2.31l-4-2.31v-4.62zM629.68 226.43l4 2.31v4.62l-4 2.31l-4-2.31v-4.62zM637.68 226.43l4 2.31v4.62l-4 2.31l-4-2.31v-4.62zM685.69 226.43l4 2.31v4.62l-4 2.31l-4-2.31v-4.62zM693.69 226.43l4 2.31v4.62l-4 2.31l-4-2.31v-4.62zM701.69 226.43l4 2.31v4.62l-4 2.31l-4-2.31v-4.62zM709.69 226.43l4 2.31v4.62l-4 2.31l-4-2.31v-4.62zM717.69 226.43l4 2.31v4.62l-4 2.31l-4-2.31v-4.62zM473.66 233.36l4 2.31v4.62l-4 2.31l-4-2.31v-4.62zM481.66 233.36l4 2.31v4.62l-4 2.31l-4-2.31v-4.62zM633.68 233.36l4 2.31v4.62l-4 2.31l-4-2.31v-4.62zM641.68 233.36l4 2.31v4.62l-4 2.31l-4-2.31v-4.62zM673.69 233.36l4 2.31v4.62l-4 2.31l-4-2.31v-4.62zM681.69 233.36l4 2.31v4.62l-4 2.31l-4-2.31v-4.62zM689.69 233.36l4 2.31v4.62l-4 2.31l-4-2.31v-4.62zM961.72 233.36l4 2.31v4.62l-4 2.31l-4-2.31v-4.62zM469.66 240.29l4 2.31v4.62l-4 2.31l-4-2.31v-4.62zM477.66 240.29l4 2.31v4.62l-4 2.31l-4-2.31v-4.62zM637.68 240.29l4 2.31v4.62l-4 2.31l-4-2.31v-4.62zM669.69 240.29l4 2.31v4.62l-4 2.31l-4-2.31v-4.62zM677.69 240.29l4 2.31v4.62l-4 2.31l-4-2.31v-4.62zM957.72 240.29l4 2.31v4.62l-4 2.31l-4-2.31v-4.62zM965.72 240.29l4 2.31v4.62l-4 2.31l-4-2.31v-4.62zM973.72 240.29l4 2.31v4.62l-4 2.31l-4-2.31v-4.62zM465.66 247.21l4 2.31v4.62l-4 2.31l-4-2.31v-4.62zM473.66 247.21l4 2.31v4.62l-4 2.31l-4-2.31v-4.62zM641.68 247.21l4 2.31v4.62l-4 2.31l-4-2.31v-4.62zM665.68 247.21l4 2.31v4.62l-4 2.31l-4-2.31v-4.62zM673.69 247.21l4 2.31v4.62l-4 2.31l-4-2.31v-4.62zM969.72 247.21l4 2.31v4.62l-4 2.31l-4-2.31v-4.62zM977.72 247.21l4 2.31v4.62l-4 2.31l-4-2.31v-4.62zM469.66 254.14l4 2.31v4.62l-4 2.31l-4-2.31v-4.62zM637.68 254.14l4 2.31v4.62l-4 2.31l-4-2.31v-4.62zM645.68 254.14l4 2.31v4.62l-4 2.31l-4-2.31v-4.62zM669.69 254.14l4 2.31v4.62l-4 2.31l-4-2.31v-4.62zM973.72 254.14l4 2.31v4.62l-4 2.31l-4-2.31v-4.62zM981.72 254.14l4 2.31v4.62l-4 2.31l-4-2.31v-4.62zM989.73 254.14l4 2.31v4.62l-4 2.31l-4-2.31v-4.62zM997.73 254.14l4 2.31v4.62l-4 2.31l-4-2.31v-4.62zM465.66 261.07l4 2.31v4.62l-4 2.31l-4-2.31v-4.62zM473.66 261.07l4 2.31v4.62l-4 2.31l-4-2.31v-4.62zM641.68 261.07l4 2.31v4.62l-4 2.31l-4-2.31v-4.62zM665.68 261.07l4 2.31v4.62l-4 2.31l-4-2.31v-4.62zM977.72 261.07l4 2.31v4.62l-4 2.31l-4-2.31v-4.62zM985.72 261.07l4 2.31v4.62l-4 2.31l-4-2.31v-4.62zM993.73 261.07l4 2.31v4.62l-4 2.31l-4-2.31v-4.62zM1001.73 261.07l4 2.31v4.62l-4 2.31l-4-2.31v-4.62zM1009.73 261.07l4 2.31v4.62l-4 2.31l-4-2.31v-4.62zM429.66 268.00l4 2.31v4.62l-4 2.31l-4-2.31v-4.62zM437.66 268.00l4 2.31v4.62l-4 2.31l-4-2.31v-4.62zM445.66 268.00l4 2.31v4.62l-4 2.31l-4-2.31v-4.62zM453.66 268.00l4 2.31v4.62l-4 2.31l-4-2.31v-4.62zM461.66 268.00l4 2.31v4.62l-4 2.31l-4-2.31v-4.62zM469.66 268.00l4 2.31v4.62l-4 2.31l-4-2.31v-4.62zM637.68 268.00l4 2.31v4.62l-4 2.31l-4-2.31v-4.62zM645.68 268.00l4 2.31v4.62l-4 2.31l-4-2.31v-4.62zM661.68 268.00l4 2.31v4.62l-4 2.31l-4-2.31v-4.62zM669.69 268.00l4 2.31v4.62l-4 2.31l-4-2.31v-4.62zM1005.73 268.00l4 2.31v4.62l-4 2.31l-4-2.31v-4.62zM1013.73 268.00l4 2.31v4.62l-4 2.31l-4-2.31v-4.62zM1021.73 268.00l4 2.31v4.62l-4 2.31l-4-2.31v-4.62zM417.65 274.93l4 2.31v4.62l-4 2.31l-4-2.31v-4.62zM425.65 274.93l4 2.31v4.62l-4 2.31l-4-2.31v-4.62zM433.66 274.93l4 2.31v4.62l-4 2.31l-4-2.31v-4.62zM441.66 274.93l4 2.31v4.62l-4 2.31l-4-2.31v-4.62zM449.66 274.93l4 2.31v4.62l-4 2.31l-4-2.31v-4.62zM457.66 274.93l4 2.31v4.62l-4 2.31l-4-2.31v-4.62zM465.66 274.93l4 2.31v4.62l-4 2.31l-4-2.31v-4.62zM633.68 274.93l4 2.31v4.62l-4 2.31l-4-2.31v-4.62zM641.68 274.93l4 2.31v4.62l-4 2.31l-4-2.31v-4.62zM665.68 274.93l4 2.31v4.62l-4 2.31l-4-2.31v-4.62zM673.69 274.93l4 2.31v4.62l-4 2.31l-4-2.31v-4.62zM1017.73 274.93l4 2.31v4.62l-4 2.31l-4-2.31v-4.62zM1025.73 274.93l4 2.31v4.62l-4 2.31l-4-2.31v-4.62zM405.65 281.86l4 2.31v4.62l-4 2.31l-4-2.31v-4.62zM413.65 281.86l4 2.31v4.62l-4 2.31l-4-2.31v-4.62zM421.65 281.86l4 2.31v4.62l-4 2.31l-4-2.31v-4.62zM629.68 281.86l4 2.31v4.62l-4 2.31l-4-2.31v-4.62zM637.68 281.86l4 2.31v4.62l-4 2.31l-4-2.31v-4.62zM645.68 281.86l4 2.31v4.62l-4 2.31l-4-2.31v-4.62zM669.69 281.86l4 2.31v4.62l-4 2.31l-4-2.31v-4.62zM677.69 281.86l4 2.31v4.62l-4 2.31l-4-2.31v-4.62zM1021.73 281.86l4 2.31v4.62l-4 2.31l-4-2.31v-4.62zM1029.73 281.86l4 2.31v4.62l-4 2.31l-4-2.31v-4.62zM401.65 288.79l4 2.31v4.62l-4 2.31l-4-2.31v-4.62zM409.65 288.79l4 2.31v4.62l-4 2.31l-4-2.31v-4.62zM633.68 288.79l4 2.31v4.62l-4 2.31l-4-2.31v-4.62zM641.68 288.79l4 2.31v4.62l-4 2.31l-4-2.31v-4.62zM649.68 288.79l4 2.31v4.62l-4 2.31l-4-2.31v-4.62zM657.68 288.79l4 2.31v4.62l-4 2.31l-4-2.31v-4.62zM665.68 288.79l4 2.31v4.62l-4 2.31l-4-2.31v-4.62zM673.69 288.79l4 2.31v4.62l-4 2.31l-4-2.31v-4.62zM1025.73 288.79l4 2.31v4.62l-4 2.31l-4-2.31v-4.62zM397.65 295.72l4 2.31v4.62l-4 2.31l-4-2.31v-4.62zM405.65 295.72l4 2.31v4.62l-4 2.31l-4-2.31v-4.62zM661.68 295.72l4 2.31v4.62l-4 2.31l-4-2.31v-4.62zM669.69 295.72l4 2.31v4.62l-4 2.31l-4-2.31v-4.62zM1021.73 295.72l4 2.31v4.62l-4 2.31l-4-2.31v-4.62zM1029.73 295.72l4 2.31v4.62l-4 2.31l-4-2.31v-4.62zM393.65 302.65l4 2.31v4.62l-4 2.31l-4-2.31v-4.62zM401.65 302.65l4 2.31v4.62l-4 2.31l-4-2.31v-4.62zM665.68 302.65l4 2.31v4.62l-4 2.31l-4-2.31v-4.62zM673.69 302.65l4 2.31v4.62l-4 2.31l-4-2.31v-4.62zM1025.73 302.65l4 2.31v4.62l-4 2.31l-4-2.31v-4.62zM397.65 309.58l4 2.31v4.62l-4 2.31l-4-2.31v-4.62zM1021.73 309.58l4 2.31v4.62l-4 2.31l-4-2.31v-4.62zM1029.73 309.58l4 2.31v4.62l-4 2.31l-4-2.31v-4.62zM1037.73 309.58l4 2.31v4.62l-4 2.31l-4-2.31v-4.62zM393.65 316.51l4 2.31v4.62l-4 2.31l-4-2.31v-4.62zM401.65 316.51l4 2.31v4.62l-4 2.31l-4-2.31v-4.62zM1033.73 316.51l4 2.31v4.62l-4 2.31l-4-2.31v-4.62zM1041.73 316.51l4 2.31v4.62l-4 2.31l-4-2.31v-4.62zM397.65 323.43l4 2.31v4.62l-4 2.31l-4-2.31v-4.62zM405.65 323.43l4 2.31v4.62l-4 2.31l-4-2.31v-4.62zM1037.73 323.43l4 2.31v4.62l-4 2.31l-4-2.31v-4.62zM1045.73 323.43l4 2.31v4.62l-4 2.31l-4-2.31v-4.62zM353.65 330.36l4 2.31v4.62l-4 2.31l-4-2.31v-4.62zM361.65 330.36l4 2.31v4.62l-4 2.31l-4-2.31v-4.62zM393.65 330.36l4 2.31v4.62l-4 2.31l-4-2.31v-4.62zM401.65 330.36l4 2.31v4.62l-4 2.31l-4-2.31v-4.62zM1041.73 330.36l4 2.31v4.62l-4 2.31l-4-2.31v-4.62zM1049.73 330.36l4 2.31v4.62l-4 2.31l-4-2.31v-4.62zM357.65 337.29l4 2.31v4.62l-4 2.31l-4-2.31v-4.62zM365.65 337.29l4 2.31v4.62l-4 2.31l-4-2.31v-4.62zM373.65 337.29l4 2.31v4.62l-4 2.31l-4-2.31v-4.62zM389.65 337.29l4 2.31v4.62l-4 2.31l-4-2.31v-4.62zM397.65 337.29l4 2.31v4.62l-4 2.31l-4-2.31v-4.62zM1045.73 337.29l4 2.31v4.62l-4 2.31l-4-2.31v-4.62zM1053.73 337.29l4 2.31v4.62l-4 2.31l-4-2.31v-4.62zM369.65 344.22l4 2.31v4.62l-4 2.31l-4-2.31v-4.62zM377.65 344.22l4 2.31v4.62l-4 2.31l-4-2.31v-4.62zM385.65 344.22l4 2.31v4.62l-4 2.31l-4-2.31v-4.62zM393.65 344.22l4 2.31v4.62l-4 2.31l-4-2.31v-4.62zM1049.73 344.22l4 2.31v4.62l-4 2.31l-4-2.31v-4.62zM381.65 351.15l4 2.31v4.62l-4 2.31l-4-2.31v-4.62zM389.65 351.15l4 2.31v4.62l-4 2.31l-4-2.31v-4.62zM397.65 351.15l4 2.31v4.62l-4 2.31l-4-2.31v-4.62zM1045.73 351.15l4 2.31v4.62l-4 2.31l-4-2.31v-4.62zM1053.73 351.15l4 2.31v4.62l-4 2.31l-4-2.31v-4.62zM385.65 358.08l4 2.31v4.62l-4 2.31l-4-2.31v-4.62zM393.65 358.08l4 2.31v4.62l-4 2.31l-4-2.31v-4.62zM401.65 358.08l4 2.31v4.62l-4 2.31l-4-2.31v-4.62zM1049.73 358.08l4 2.31v4.62l-4 2.31l-4-2.31v-4.62zM389.65 365.01l4 2.31v4.62l-4 2.31l-4-2.31v-4.62zM397.65 365.01l4 2.31v4.62l-4 2.31l-4-2.31v-4.62zM405.65 365.01l4 2.31v4.62l-4 2.31l-4-2.31v-4.62zM1045.73 365.01l4 2.31v4.62l-4 2.31l-4-2.31v-4.62zM385.65 371.94l4 2.31v4.62l-4 2.31l-4-2.31v-4.62zM393.65 371.94l4 2.31v4.62l-4 2.31l-4-2.31v-4.62zM401.65 371.94l4 2.31v4.62l-4 2.31l-4-2.31v-4.62zM409.65 371.94l4 2.31v4.62l-4 2.31l-4-2.31v-4.62zM457.66 371.94l4 2.31v4.62l-4 2.31l-4-2.31v-4.62zM1033.73 371.94l4 2.31v4.62l-4 2.31l-4-2.31v-4.62zM389.65 378.87l4 2.31v4.62l-4 2.31l-4-2.31v-4.62zM405.65 378.87l4 2.31v4.62l-4 2.31l-4-2.31v-4.62zM413.65 378.87l4 2.31v4.62l-4 2.31l-4-2.31v-4.62zM421.65 378.87l4 2.31v4.62l-4 2.31l-4-2.31v-4.62zM445.66 378.87l4 2.31v4.62l-4 2.31l-4-2.31v-4.62zM453.66 378.87l4 2.31v4.62l-4 2.31l-4-2.31v-4.62zM461.66 378.87l4 2.31v4.62l-4 2.31l-4-2.31v-4.62zM469.66 378.87l4 2.31v4.62l-4 2.31l-4-2.31v-4.62zM1029.73 378.87l4 2.31v4.62l-4 2.31l-4-2.31v-4.62zM385.65 385.80l4 2.31v4.62l-4 2.31l-4-2.31v-4.62zM393.65 385.80l4 2.31v4.62l-4 2.31l-4-2.31v-4.62zM417.65 385.80l4 2.31v4.62l-4 2.31l-4-2.31v-4.62zM425.65 385.80l4 2.31v4.62l-4 2.31l-4-2.31v-4.62zM433.66 385.80l4 2.31v4.62l-4 2.31l-4-2.31v-4.62zM441.66 385.80l4 2.31v4.62l-4 2.31l-4-2.31v-4.62zM449.66 385.80l4 2.31v4.62l-4 2.31l-4-2.31v-4.62zM457.66 385.80l4 2.31v4.62l-4 2.31l-4-2.31v-4.62zM465.66 385.80l4 2.31v4.62l-4 2.31l-4-2.31v-4.62zM473.66 385.80l4 2.31v4.62l-4 2.31l-4-2.31v-4.62zM481.66 385.80l4 2.31v4.62l-4 2.31l-4-2.31v-4.62zM381.65 392.72l4 2.31v4.62l-4 2.31l-4-2.31v-4.62zM389.65 392.72l4 2.31v4.62l-4 2.31l-4-2.31v-4.62zM429.66 392.72l4 2.31v4.62l-4 2.31l-4-2.31v-4.62zM477.66 392.72l4 2.31v4.62l-4 2.31l-4-2.31v-4.62zM549.67 392.72l4 2.31v4.62l-4 2.31l-4-2.31v-4.62zM377.65 399.65l4 2.31v4.62l-4 2.31l-4-2.31v-4.62zM381.65 406.58l4 2.31v4.62l-4 2.31l-4-2.31v-4.62zM485.66 406.58l4 2.31v4.62l-4 2.31l-4-2.31v-4.62zM493.66 406.58l4 2.31v4.62l-4 2.31l-4-2.31v-4.62zM501.66 406.58l4 2.31v4.62l-4 2.31l-4-2.31v-4.62zM509.67 406.58l4 2.31v4.62l-4 2.31l-4-2.31v-4.62zM377.65 413.51l4 2.31v4.62l-4 2.31l-4-2.31v-4.62zM385.65 413.51l4 2.31v4.62l-4 2.31l-4-2.31v-4.62zM489.66 413.51l4 2.31v4.62l-4 2.31l-4-2.31v-4.62zM497.66 413.51l4 2.31v4.62l-4 2.31l-4-2.31v-4.62zM505.66 413.51l4 2.31v4.62l-4 2.31l-4-2.31v-4.62zM513.67 413.51l4 2.31v4.62l-4 2.31l-4-2.31v-4.62zM521.67 413.51l4 2.31v4.62l-4 2.31l-4-2.31v-4.62zM381.65 420.44l4 2.31v4.62l-4 2.31l-4-2.31v-4.62zM565.67 420.44l4 2.31v4.62l-4 2.31l-4-2.31v-4.62zM573.67 420.44l4 2.31v4.62l-4 2.31l-4-2.31v-4.62zM581.67 420.44l4 2.31v4.62l-4 2.31l-4-2.31v-4.62zM789.70 420.44l4 2.31v4.62l-4 2.31l-4-2.31v-4.62zM797.70 420.44l4 2.31v4.62l-4 2.31l-4-2.31v-4.62zM321.64 427.37l4 2.31v4.62l-4 2.31l-4-2.31v-4.62zM569.67 427.37l4 2.31v4.62l-4 2.31l-4-2.31v-4.62zM577.67 427.37l4 2.31v4.62l-4 2.31l-4-2.31v-4.62zM585.67 427.37l4 2.31v4.62l-4 2.31l-4-2.31v-4.62zM593.68 427.37l4 2.31v4.62l-4 2.31l-4-2.31v-4.62zM793.70 427.37l4 2.31v4.62l-4 2.31l-4-2.31v-4.62zM317.64 434.30l4 2.31v4.62l-4 2.31l-4-2.31v-4.62zM397.65 434.30l4 2.31v4.62l-4 2.31l-4-2.31v-4.62zM589.68 434.30l4 2.31v4.62l-4 2.31l-4-2.31v-4.62zM597.68 434.30l4 2.31v4.62l-4 2.31l-4-2.31v-4.62zM605.68 434.30l4 2.31v4.62l-4 2.31l-4-2.31v-4.62zM313.64 441.23l4 2.31v4.62l-4 2.31l-4-2.31v-4.62zM321.64 441.23l4 2.31v4.62l-4 2.31l-4-2.31v-4.62zM393.65 441.23l4 2.31v4.62l-4 2.31l-4-2.31v-4.62zM401.65 441.23l4 2.31v4.62l-4 2.31l-4-2.31v-4.62zM601.68 441.23l4 2.31v4.62l-4 2.31l-4-2.31v-4.62zM317.64 448.16l4 2.31v4.62l-4 2.31l-4-2.31v-4.62zM389.65 448.16l4 2.31v4.62l-4 2.31l-4-2.31v-4.62zM397.65 448.16l4 2.31v4.62l-4 2.31l-4-2.31v-4.62zM313.64 455.09l4 2.31v4.62l-4 2.31l-4-2.31v-4.62zM321.64 455.09l4 2.31v4.62l-4 2.31l-4-2.31v-4.62zM393.65 455.09l4 2.31v4.62l-4 2.31l-4-2.31v-4.62zM617.68 455.09l4 2.31v4.62l-4 2.31l-4-2.31v-4.62zM317.64 462.02l4 2.31v4.62l-4 2.31l-4-2.31v-4.62zM325.64 462.02l4 2.31v4.62l-4 2.31l-4-2.31v-4.62zM613.68 462.02l4 2.31v4.62l-4 2.31l-4-2.31v-4.62zM621.68 462.02l4 2.31v4.62l-4 2.31l-4-2.31v-4.62zM629.68 462.02l4 2.31v4.62l-4 2.31l-4-2.31v-4.62zM321.64 468.94l4 2.31v4.62l-4 2.31l-4-2.31v-4.62zM329.64 468.94l4 2.31v4.62l-4 2.31l-4-2.31v-4.62zM617.68 468.94l4 2.31v4.62l-4 2.31l-4-2.31v-4.62zM625.68 468.94l4 2.31v4.62l-4 2.31l-4-2.31v-4.62zM333.64 475.87l4 2.31v4.62l-4 2.31l-4-2.31v-4.62zM341.64 475.87l4 2.31v4.62l-4 2.31l-4-2.31v-4.62zM349.65 475.87l4 2.31v4.62l-4 2.31l-4-2.31v-4.62zM357.65 475.87l4 2.31v4.62l-4 2.31l-4-2.31v-4.62zM365.65 475.87l4 2.31v4.62l-4 2.31l-4-2.31v-4.62zM373.65 475.87l4 2.31v4.62l-4 2.31l-4-2.31v-4.62zM717.69 475.87l4 2.31v4.62l-4 2.31l-4-2.31v-4.62zM345.64 482.80l4 2.31v4.62l-4 2.31l-4-2.31v-4.62zM353.65 482.80l4 2.31v4.62l-4 2.31l-4-2.31v-4.62zM361.65 482.80l4 2.31v4.62l-4 2.31l-4-2.31v-4.62zM369.65 482.80l4 2.31v4.62l-4 2.31l-4-2.31v-4.62zM377.65 482.80l4 2.31v4.62l-4 2.31l-4-2.31v-4.62z"/>
<path fill="#FEC65A" stroke="#FEC65A" d="M725.69 101.70l4 2.31v4.62l-4 2.31l-4-2.31v-4.62zM729.69 108.63l4 2.31v4.62l-4 2.31l-4-2.31v-4.62zM737.69 108.63l4 2.31v4.62l-4 2.31l-4-2.31v-4.62zM733.69 115.56l4 2.31v4.62l-4 2.31l-4-2.31v-4.62zM741.69 115.56l4 2.31v4.62l-4 2.31l-4-2.31v-4.62zM601.68 122.49l4 2.31v4.62l-4 2.31l-4-2.31v-4.62zM745.69 122.49l4 2.31v4.62l-4 2.31l-4-2.31v-4.62zM549.67 129.42l4 2.31v4.62l-4 2.31l-4-2.31v-4.62zM597.68 129.42l4 2.31v4.62l-4 2.31l-4-2.31v-4.62zM605.68 129.42l4 2.31v4.62l-4 2.31l-4-2.31v-4.62zM741.69 129.42l4 2.31v4.62l-4 2.31l-4-2.31v-4.62zM749.70 129.42l4 2.31v4.62l-4 2.31l-4-2.31v-4.62zM545.67 136.35l4 2.31v4.62l-4 2.31l-4-2.31v-4.62zM553.67 136.35l4 2.31v4.62l-4 2.31l-4-2.31v-4.62zM593.68 136.35l4 2.31v4.62l-4 2.31l-4-2.31v-4.62zM601.68 136.35l4 2.31v4.62l-4 2.31l-4-2.31v-4.62zM745.69 136.35l4 2.31v4.62l-4 2.31l-4-2.31v-4.62zM753.70 136.35l4 2.31v4.62l-4 2.31l-4-2.31v-4.62zM541.67 143.28l4 2.31v4.62l-4 2.31l-4-2.31v-4.62zM749.70 143.28l4 2.31v4.62l-4 2.31l-4-2.31v-4.62zM545.67 150.21l4 2.31v4.62l-4 2.31l-4-2.31v-4.62zM753.70 150.21l4 2.31v4.62l-4 2.31l-4-2.31v-4.62zM541.67 157.14l4 2.31v4.62l-4 2.31l-4-2.31v-4.62zM757.70 157.14l4 2.31v4.62l-4 2.31l-4-2.31v-4.62zM545.67 164.07l4 2.31v4.62l-4 2.31l-4-2.31v-4.62zM673.69 164.07l4 2.31v4.62l-4 2.31l-4-2.31v-4.62zM761.70 164.07l4 2.31v4.62l-4 2.31l-4-2.31v-4.62zM801.70 164.07l4 2.31v4.62l-4 2.31l-4-2.31v-4.62zM549.67 170.99l4 2.31v4.62l-4 2.31l-4-2.31v-4.62zM557.67 170.99l4 2.31v4.62l-4 2.31l-4-2.31v-4.62zM669.69 170.99l4 2.31v4.62l-4 2.31l-4-2.31v-4.62zM677.69 170.99l4 2.31v4.62l-4 2.31l-4-2.31v-4.62zM757.70 170.99l4 2.31v4.62l-4 2.31l-4-2.31v-4.62zM765.70 170.99l4 2.31v4.62l-4 2.31l-4-2.31v-4.62zM797.70 170.99l4 2.31v4.62l-4 2.31l-4-2.31v-4.62zM553.67 177.92l4 2.31v4.62l-4 2.31l-4-2.31v-4.62zM561.67 177.92l4 2.31v4.62l-4 2.31l-4-2.31v-4.62zM665.68 177.92l4 2.31v4.62l-4 2.31l-4-2.31v-4.62zM673.69 177.92l4 2.31v4.62l-4 2.31l-4-2.31v-4.62zM681.69 177.92l4 2.31v4.62l-4 2.31l-4-2.31v-4.62zM761.70 177.92l4 2.31v4.62l-4 2.31l-4-2.31v-4.62zM793.70 177.92l4 2.31v4.62l-4 2.31l-4-2.31v-4.62zM849.71 177.92l4 2.31v4.62l-4 2.31l-4-2.31v-4.62zM549.67 184.85l4 2.31v4.62l-4 2.31l-4-2.31v-4.62zM557.67 184.85l4 2.31v4.62l-4 2.31l-4-2.31v-4.62zM629.68 184.85l4 2.31v4.62l-4 2.31l-4-2.31v-4.62zM637.68 184.85l4 2.31v4.62l-4 2.31l-4-2.31v-4.62zM645.68 184.85l4 2.31v4.62l-4 2.31l-4-2.31v-4.62zM653.68 184.85l4 2.31v4.62l-4 2.31l-4-2.31v-4.62zM661.68 184.85l4 2.31v4.62l-4 2.31l-4-2.31v-4.62zM685.69 184.85l4 2.31v4.62l-4 2.31l-4-2.31v-4.62zM757.70 184.85l4 2.31v4.62l-4 2.31l-4-2.31v-4.62zM797.70 184.85l4 2.31v4.62l-4 2.31l-4-2.31v-4.62zM545.67 191.78l4 2.31v4.62l-4 2.31l-4-2.31v-4.62zM553.67 191.78l4 2.31v4.62l-4 2.31l-4-2.31v-4.62zM617.68 191.78l4 2.31v4.62l-4 2.31l-4-2.31v-4.62zM625.68 191.78l4 2.31v4.62l-4 2.31l-4-2.31v-4.62zM633.68 191.78l4 2.31v4.62l-4 2.31l-4-2.31v-4.62zM641.68 191.78l4 2.31v4.62l-4 2.31l-4-2.31v-4.62zM649.68 191.78l4 2.31v4.62l-4 2.31l-4-2.31v-4.62zM681.69 191.78l4 2.31v4.62l-4 2.31l-4-2.31v-4.62zM689.69 191.78l4 2.31v4.62l-4 2.31l-4-2.31v-4.62zM753.70 191.78l4 2.31v4.62l-4 2.31l-4-2.31v-4.62zM761.70 191.78l4 2.31v4.62l-4 2.31l-4-2.31v-4.62zM769.70 191.78l4 2.31v4.62l-4 2.31l-4-2.31v-4.62zM777.70 191.78l4 2.31v4.62l-4 2.31l-4-2.31v-4.62zM785.70 191.78l4 2.31v4.62l-4 2.31l-4-2.31v-4.62zM793.70 191.78l4 2.31v4.62l-4 2.31l-4-2.31v-4.62zM541.67 198.71l4 2.31v4.62l-4 2.31l-4-2.31v-4.62zM549.67 198.71l4 2.31v4.62l-4 2.31l-4-2.31v-4.62zM621.68 198.71l4 2.31v4.62l-4 2.31l-4-2.31v-4.62zM685.69 198.71l4 2.31v4.62l-4 2.31l-4-2.31v-4.62zM693.69 198.71l4 2.31v4.62l-4 2.31l-4-2.31v-4.62zM757.70 198.71l4 2.31v4.62l-4 2.31l-4-2.31v-4.62zM765.70 198.71l4 2.31v4.62l-4 2.31l-4-2.31v-4.62zM773.70 198.71l4 2.31v4.62l-4 2.31l-4-2.31v-4.62zM781.70 198.71l4 2.31v4.62l-4 2.31l-4-2.31v-4.62zM789.70 198.71l4 2.31v4.62l-4 2.31l-4-2.31v-4.62zM529.67 205.64l4 2.31v4.62l-4 2.31l-4-2.31v-4.62zM537.67 205.64l4 2.31v4.62l-4 2.31l-4-2.31v-4.62zM617.68 205.64l4 2.31v4.62l-4 2.31l-4-2.31v-4.62zM689.69 205.64l4 2.31v4.62l-4 2.31l-4-2.31v-4.62zM697.69 205.64l4 2.31v4.62l-4 2.31l-4-2.31v-4.62zM753.70 205.64l4 2.31v4.62l-4 2.31l-4-2.31v-4.62zM761.70 205.64l4 2.31v4.62l-4 2.31l-4-2.31v-4.62zM525.67 212.57l4 2.31v4.62l-4 2.31l-4-2.31v-4.62zM533.67 212.57l4 2.31v4.62l-4 2.31l-4-2.31v-4.62zM613.68 212.57l4 2.31v4.62l-4 2.31l-4-2.31v-4.62zM621.68 212.57l4 2.31v4.62l-4 2.31l-4-2.31v-4.62zM701.69 212.57l4 2.31v4.62l-4 2.31l-4-2.31v-4.62zM709.69 212.57l4 2.31v4.62l-4 2.31l-4-2.31v-4.62zM749.70 212.57l4 2.31v4.62l-4 2.31l-4-2.31v-4.62zM757.70 212.57l4 2.31v4.62l-4 2.31l-4-2.31v-4.62zM893.71 212.57l4 2.31v4.62l-4 2.31l-4-2.31v-4.62zM521.67 219.50l4 2.31v4.62l-4 2.31l-4-2.31v-4.62zM529.67 219.50l4 2.31v4.62l-4 2.31l-4-2.31v-4.62zM617.68 219.50l4 2.31v4.62l-4 2.31l-4-2.31v-4.62zM713.69 219.50l4 2.31v4.62l-4 2.31l-4-2.31v-4.62zM721.69 219.50l4 2.31v4.62l-4 2.31l-4-2.31v-4.62zM729.69 219.50l4 2.31v4.62l-4 2.31l-4-2.31v-4.62zM737.69 219.50l4 2.31v4.62l-4 2.31l-4-2.31v-4.62zM745.69 219.50l4 2.31v4.62l-4 2.31l-4-2.31v-4.62zM753.70 219.50l4 2.31v4.62l-4 2.31l-4-2.31v-4.62zM889.71 219.50l4 2.31v4.62l-4 2.31l-4-2.31v-4.62zM897.71 219.50l4 2.31v4.62l-4 2.31l-4-2.31v-4.62zM493.66 226.43l4 2.31v4.62l-4 2.31l-4-2.31v-4.62zM501.66 226.43l4 2.31v4.62l-4 2.31l-4-2.31v-4.62zM509.67 226.43l4 2.31v4.62l-4 2.31l-4-2.31v-4.62zM517.67 226.43l4 2.31v4.62l-4 2.31l-4-2.31v-4.62zM525.67 226.43l4 2.31v4.62l-4 2.31l-4-2.31v-4.62zM621.68 226.43l4 2.31v4.62l-4 2.31l-4-2.31v-4.62zM725.69 226.43l4 2.31v4.62l-4 2.31l-4-2.31v-4.62zM733.69 226.43l4 2.31v4.62l-4 2.31l-4-2.31v-4.62zM741.69 226.43l4 2.31v4.62l-4 2.31l-4-2.31v-4.62zM749.70 226.43l4 2.31v4.62l-4 2.31l-4-2.31v-4.62zM885.71 226.43l4 2.31v4.62l-4 2.31l-4-2.31v-4.62zM893.71 226.43l4 2.31v4.62l-4 2.31l-4-2.31v-4.62zM901.71 226.43l4 2.31v4.62l-4 2.31l-4-2.31v-4.62zM909.72 226.43l4 2.31v4.62l-4 2.31l-4-2.31v-4.62zM489.66 233.36l4 2.31v4.62l-4 2.31l-4-2.31v-4.62zM497.66 233.36l4 2.31v4.62l-4 2.31l-4-2.31v-4.62zM505.66 233.36l4 2.31v4.62l-4 2.31l-4-2.31v-4.62zM513.67 233.36l4 2.31v4.62l-4 2.31l-4-2.31v-4.62zM521.67 233.36l4 2.31v4.62l-4 2.31l-4-2.31v-4.62zM625.68 233.36l4 2.31v4.62l-4 2.31l-4-2.31v-4.62zM697.69 233.36l4 2.31v4.62l-4 2.31l-4-2.31v-4.62zM705.69 233.36l4 2.31v4.62l-4 2.31l-4-2.31v-4.62zM713.69 233.36l4 2.31v4.62l-4 2.31l-4-2.31v-4.62zM721.69 233.36l4 2.31v4.62l-4 2.31l-4-2.31v-4.62zM729.69 233.36l4 2.31v4.62l-4 2.31l-4-2.31v-4.62zM737.69 233.36l4 2.31v4.62l-4 2.31l-4-2.31v-4.62zM745.69 233.36l4 2.31v4.62l-4 2.31l-4-2.31v-4.62zM881.71 233.36l4 2.31v4.62l-4 2.31l-4-2.31v-4.62zM485.66 240.29l4 2.31v4.62l-4 2.31l-4-2.31v-4.62zM629.68 240.29l4 2.31v4.62l-4 2.31l-4-2.31v-4.62zM685.69 240.29l4 2.31v4.62l-4 2.31l-4-2.31v-4.62zM693.69 240.29l4 2.31v4.62l-4 2.31l-4-2.31v-4.62zM701.69 240.29l4 2.31v4.62l-4 2.31l-4-2.31v-4.62zM709.69 240.29l4 2.31v4.62l-4 2.31l-4-2.31v-4.62zM725.69 240.29l4 2.31v4.62l-4 2.31l-4-2.31v-4.62zM733.69 240.29l4 2.31v4.62l-4 2.31l-4-2.31v-4.62zM869.71 240.29l4 2.31v4.62l-4 2.31l-4-2.31v-4.62zM949.72 240.29l4 2.31v4.62l-4 2.31l-4-2.31v-4.62zM481.66 247.21l4 2.31v4.62l-4 2.31l-4-2.31v-4.62zM625.68 247.21l4 2.31v4.62l-4 2.31l-4-2.31v-4.62zM633.68 247.21l4 2.31v4.62l-4 2.31l-4-2.31v-4.62zM681.69 247.21l4 2.31v4.62l-4 2.31l-4-2.31v-4.62zM689.69 247.21l4 2.31v4.62l-4 2.31l-4-2.31v-4.62zM857.71 247.21l4 2.31v4.62l-4 2.31l-4-2.31v-4.62zM865.71 247.21l4 2.31v4.62l-4 2.31l-4-2.31v-4.62zM953.72 247.21l4 2.31v4.62l-4 2.31l-4-2.31v-4.62zM961.72 247.21l4 2.31v4.62l-4 2.31l-4-2.31v-4.62zM477.66 254.14l4 2.31v4.62l-4 2.31l-4-2.31v-4.62zM629.68 254.14l4 2.31v4.62l-4 2.31l-4-2.31v-4.62zM677.69 254.14l4 2.31v4.62l-4 2.31l-4-2.31v-4.62zM861.71 254.14l4 2.31v4.62l-4 2.31l-4-2.31v-4.62zM965.72 254.14l4 2.31v4.62l-4 2.31l-4-2.31v-4.62zM481.66 261.07l4 2.31v4.62l-4 2.31l-4-2.31v-4.62zM633.68 261.07l4 2.31v4.62l-4 2.31l-4-2.31v-4.62zM673.69 261.07l4 2.31v4.62l-4 2.31l-4-2.31v-4.62zM681.69 261.07l4 2.31v4.62l-4 2.31l-4-2.31v-4.62zM857.71 261.07l4 2.31v4.62l-4 2.31l-4-2.31v-4.62zM865.71 261.07l4 2.31v4.62l-4 2.31l-4-2.31v-4.62zM969.72 261.07l4 2.31v4.62l-4 2.31l-4-2.31v-4.62zM477.66 268.00l4 2.31v4.62l-4 2.31l-4-2.31v-4.62zM485.66 268.00l4 2.31v4.62l-4 2.31l-4-2.31v-4.62zM629.68 268.00l4 2.31v4.62l-4 2.31l-4-2.31v-4.62zM677.69 268.00l4 2.31v4.62l-4 2.31l-4-2.31v-4.62zM853.71 268.00l4 2.31v4.62l-4 2.31l-4-2.31v-4.62zM861.71 268.00l4 2.31v4.62l-4 2.31l-4-2.31v-4.62zM965.72 268.00l4 2.31v4.62l-4 2.31l-4-2.31v-4.62zM973.72 268.00l4 2.31v4.62l-4 2.31l-4-2.31v-4.62zM981.72 268.00l4 2.31v4.62l-4 2.31l-4-2.31v-4.62zM989.73 268.00l4 2.31v4.62l-4 2.31l-4-2.31v-4.62zM997.73 268.00l4 2.31v4.62l-4 2.31l-4-2.31v-4.62zM473.66 274.93l4 2.31v4.62l-4 2.31l-4-2.31v-4.62zM481.66 274.93l4 2.31v4.62l-4 2.31l-4-2.31v-4.62zM489.66 274.93l4 2.31v4.62l-4 2.31l-4-2.31v-4.62zM625.68 274.93l4 2.31v4.62l-4 2.31l-4-2.31v-4.62zM681.69 274.93l4 2.31v4.62l-4 2.31l-4-2.31v-4.62zM849.71 274.93l4 2.31v4.62l-4 2.31l-4-2.31v-4.62zM857.71 274.93l4 2.31v4.62l-4 2.31l-4-2.31v-4.62zM865.71 274.93l4 2.31v4.62l-4 2.31l-4-2.31v-4.62zM969.72 274.93l4 2.31v4.62l-4 2.31l-4-2.31v-4.62zM977.72 274.93l4 2.31v4.62l-4 2.31l-4-2.31v-4.62zM1001.73 274.93l4 2.31v4.62l-4 2.31l-4-2.31v-4.62zM1009.73 274.93l4 2.31v4.62l-4 2.31l-4-2.31v-4.62zM429.66 281.86l4 2.31v4.62l-4 2.31l-4-2.31v-4.62zM437.66 281.86l4 2.31v4.62l-4 2.31l-4-2.31v-4.62zM445.66 281.86l4 2.31v4.62l-4 2.31l-4-2.31v-4.62zM453.66 281.86l4 2.31v4.62l-4 2.31l-4-2.31v-4.62zM461.66 281.86l4 2.31v4.62l-4 2.31l-4-2.31v-4.62zM469.66 281.86l4 2.31v4.62l-4 2.31l-4-2.31v-4.62zM477.66 281.86l4 2.31v4.62l-4 2.31l-4-2.31v-4.62zM485.66 281.86l4 2.31v4.62l-4 2.31l-4-2.31v-4.62zM621.68 281.86l4 2.31v4.62l-4 2.31l-4-2.31v-4.62zM685.69 281.86l4 2.31v4.62l-4 2.31l-4-2.31v-4.62zM845.71 281.86l4 2.31v4.62l-4 2.31l-4-2.31v-4.62zM853.71 281.86l4 2.31v4.62l-4 2.31l-4-2.31v-4.62zM861.71 281.86l4 2.31v4.62l-4 2.31l-4-2.31v-4.62zM1005.73 281.86l4 2.31v4.62l-4 2.31l-4-2.31v-4.62zM1013.73 281.86l4 2.31v4.62l-4 2.31l-4-2.31v-4.62zM417.65 288.79l4 2.31v4.62l-4 2.31l-4-2.31v-4.62zM425.65 288.79l4 2.31v4.62l-4 2.31l-4-2.31v-4.62zM617.68 288.79l4 2.31v4.62l-4 2.31l-4-2.31v-4.62zM625.68 288.79l4 2.31v4.62l-4 2.31l-4-2.31v-4.62zM681.69 288.79l4 2.31v4.62l-4 2.31l-4-2.31v-4.62zM841.71 288.79l4 2.31v4.62l-4 2.31l-4-2.31v-4.62zM849.71 288.79l4 2.31v4.62l-4 2.31l-4-2.31v-4.62zM857.71 288.79l4 2.31v4.62l-4 2.31l-4-2.31v-4.62zM1009.73 288.79l4 2.31v4.62l-4 2.31l-4-2.31v-4.62zM1017.73 288.79l4 2.31v4.62l-4 2.31l-4-2.31v-4.62zM413.65 295.72l4 2.31v4.62l-4 2.31l-4-2.31v-4.62zM621.68 295.72l4 2.31v4.62l-4 2.31l-4-2.31v-4.62zM629.68 295.72l4 2.31v4.62l-4 2.31l-4-2.31v-4.62zM637.68 295.72l4 2.31v4.62l-4 2.31l-4-2.31v-4.62zM645.68 295.72l4 2.31v4.62l-4 2.31l-4-2.31v-4.62zM653.68 295.72l4 2.31v4.62l-4 2.31l-4-2.31v-4.62zM677.69 295.72l4 2.31v4.62l-4 2.31l-4-2.31v-4.62zM685.69 295.72l4 2.31v4.62l-4 2.31l-4-2.31v-4.62zM837.71 295.72l4 2.31v4.62l-4 2.31l-4-2.31v-4.62zM845.71 295.72l4 2.31v4.62l-4 2.31l-4-2.31v-4.62zM853.71 295.72l4 2.31v4.62l-4 2.31l-4-2.31v-4.62zM957.72 295.72l4 2.31v4.62l-4 2.31l-4-2.31v-4.62zM1013.73 295.72l4 2.31v4.62l-4 2.31l-4-2.31v-4.62zM409.65 302.65l4 2.31v4.62l-4 2.31l-4-2.31v-4.62zM649.68 302.65l4 2.31v4.62l-4 2.31l-4-2.31v-4.62zM657.68 302.65l4 2.31v4.62l-4 2.31l-4-2.31v-4.62zM681.69 302.65l4 2.31v4.62l-4 2.31l-4-2.31v-4.62zM849.71 302.65l4 2.31v4.62l-4 2.31l-4-2.31v-4.62zM857.71 302.65l4 2.31v4.62l-4 2.31l-4-2.31v-4.62zM953.72 302.65l4 2.31v4.62l-4 2.31l-4-2.31v-4.62zM1009.73 302.65l4 2.31v4.62l-4 2.31l-4-2.31v-4.62zM1017.73 302.65l4 2.31v4.62l-4 2.31l-4-2.31v-4.62zM405.65 309.58l4 2.31v4.62l-4 2.31l-4-2.31v-4.62zM413.65 309.58l4 2.31v4.62l-4 2.31l-4-2.31v-4.62zM661.68 309.58l4 2.31v4.62l-4 2.31l-4-2.31v-4.62zM669.69 309.58l4 2.31v4.62l-4 2.31l-4-2.31v-4.62zM677.69 309.58l4 2.31v4.62l-4 2.31l-4-2.31v-4.62zM685.69 309.58l4 2.31v4.62l-4 2.31l-4-2.31v-4.62zM957.72 309.58l4 2.31v4.62l-4 2.31l-4-2.31v-4.62zM1005.73 309.58l4 2.31v4.62l-4 2.31l-4-2.31v-4.62zM1013.73 309.58l4 2.31v4.62l-4 2.31l-4-2.31v-4.62zM409.65 316.51l4 2.31v4.62l-4 2.31l-4-2.31v-4.62zM673.69 316.51l4 2.31v4.62l-4 2.31l-4-2.31v-4.62zM681.69 316.51l4 2.31v4.62l-4 2.31l-4-2.31v-4.62zM689.69 316.51l4 2.31v4.62l-4 2.31l-4-2.31v-4.62zM697.69 316.51l4 2.31v4.62l-4 2.31l-4-2.31v-4.62zM961.72 316.51l4 2.31v4.62l-4 2.31l-4-2.31v-4.62zM969.72 316.51l4 2.31v4.62l-4 2.31l-4-2.31v-4.62zM993.73 316.51l4 2.31v4.62l-4 2.31l-4-2.31v-4.62zM1001.73 316.51l4 2.31v4.62l-4 2.31l-4-2.31v-4.62zM1009.73 316.51l4 2.31v4.62l-4 2.31l-4-2.31v-4.62zM1017.73 316.51l4 2.31v4.62l-4 2.31l-4-2.31v-4.62zM1025.73 316.51l4 2.31v4.62l-4 2.31l-4-2.31v-4.62zM413.65 323.43l4 2.31v4.62l-4 2.31l-4-2.31v-4.62zM685.69 323.43l4 2.31v4.62l-4 2.31l-4-2.31v-4.62zM693.69 323.43l4 2.31v4.62l-4 2.31l-4-2.31v-4.62zM701.69 323.43l4 2.31v4.62l-4 2.31l-4-2.31v-4.62zM709.69 323.43l4 2.31v4.62l-4 2.31l-4-2.31v-4.62zM965.72 323.43l4 2.31v4.62l-4 2.31l-4-2.31v-4.62zM973.72 323.43l4 2.31v4.62l-4 2.31l-4-2.31v-4.62zM981.72 323.43l4 2.31v4.62l-4 2.31l-4-2.31v-4.62zM989.73 323.43l4 2.31v4.62l-4 2.31l-4-2.31v-4.62zM997.73 323.43l4 2.31v4.62l-4 2.31l-4-2.31v-4.62zM1005.73 323.43l4 2.31v4.62l-4 2.31l-4-2.31v-4.62zM1013.73 323.43l4 2.31v4.62l-4 2.31l-4-2.31v-4.62zM1021.73 323.43l4 2.31v4.62l-4 2.31l-4-2.31v-4.62zM1029.73 323.43l4 2.31v4.62l-4 2.31l-4-2.31v-4.62zM409.65 330.36l4 2.31v4.62l-4 2.31l-4-2.31v-4.62zM689.69 330.36l4 2.31v4.62l-4 2.31l-4-2.31v-4.62zM697.69 330.36l4 2.31v4.62l-4 2.31l-4-2.31v-4.62zM705.69 330.36l4 2.31v4.62l-4 2.31l-4-2.31v-4.62zM969.72 330.36l4 2.31v4.62l-4 2.31l-4-2.31v-4.62zM977.72 330.36l4 2.31v4.62l-4 2.31l-4-2.31v-4.62zM985.72 330.36l4 2.31v4.62l-4 2.31l-4-2.31v-4.62zM993.73 330.36l4 2.31v4.62l-4 2.31l-4-2.31v-4.62zM1033.73 330.36l4 2.31v4.62l-4 2.31l-4-2.31v-4.62zM341.64 337.29l4 2.31v4.62l-4 2.31l-4-2.31v-4.62zM349.65 337.29l4 2.31v4.62l-4 2.31l-4-2.31v-4.62zM405.65 337.29l4 2.31v4.62l-4 2.31l-4-2.31v-4.62zM965.72 337.29l4 2.31v4.62l-4 2.31l-4-2.31v-4.62zM973.72 337.29l4 2.31v4.62l-4 2.31l-4-2.31v-4.62zM981.72 337.29l4 2.31v4.62l-4 2.31l-4-2.31v-4.62zM989.73 337.29l4 2.31v4.62l-4 2.31l-4-2.31v-4.62zM1037.73 337.29l4 2.31v4.62l-4 2.31l-4-2.31v-4.62zM337.64 344.22l4 2.31v4.62l-4 2.31l-4-2.31v-4.62zM345.64 344.22l4 2.31v4.62l-4 2.31l-4-2.31v-4.62zM353.65 344.22l4 2.31v4.62l-4 2.31l-4-2.31v-4.62zM361.65 344.22l4 2.31v4.62l-4 2.31l-4-2.31v-4.62zM401.65 344.22l4 2.31v4.62l-4 2.31l-4-2.31v-4.62zM409.65 344.22l4 2.31v4.62l-4 2.31l-4-2.31v-4.62zM961.72 344.22l4 2.31v4.62l-4 2.31l-4-2.31v-4.62zM1041.73 344.22l4 2.31v4.62l-4 2.31l-4-2.31v-4.62zM365.65 351.15l4 2.31v4.62l-4 2.31l-4-2.31v-4.62zM373.65 351.15l4 2.31v4.62l-4 2.31l-4-2.31v-4.62zM405.65 351.15l4 2.31v4.62l-4 2.31l-4-2.31v-4.62zM957.72 351.15l4 2.31v4.62l-4 2.31l-4-2.31v-4.62zM1037.73 351.15l4 2.31v4.62l-4 2.31l-4-2.31v-4.62zM369.65 358.08l4 2.31v4.62l-4 2.31l-4-2.31v-4.62zM377.65 358.08l4 2.31v4.62l-4 2.31l-4-2.31v-4.62zM409.65 358.08l4 2.31v4.62l-4 2.31l-4-2.31v-4.62zM457.66 358.08l4 2.31v4.62l-4 2.31l-4-2.31v-4.62zM953.72 358.08l4 2.31v4.62l-4 2.31l-4-2.31v-4.62zM961.72 358.08l4 2.31v4.62l-4 2.31l-4-2.31v-4.62zM1033.73 358.08l4 2.31v4.62l-4 2.31l-4-2.31v-4.62zM1041.73 358.08l4 2.31v4.62l-4 2.31l-4-2.31v-4.62zM373.65 365.01l4 2.31v4.62l-4 2.31l-4-2.31v-4.62zM381.65 365.01l4 2.31v4.62l-4 2.31l-4-2.31v-4.62zM413.65 365.01l4 2.31v4.62l-4 2.31l-4-2.31v-4.62zM453.66 365.01l4 2.31v4.62l-4 2.31l-4-2.31v-4.62zM461.66 365.01l4 2.31v4.62l-4 2.31l-4-2.31v-4.62zM949.72 365.01l4 2.31v4.62l-4 2.31l-4-2.31v-4.62zM957.72 365.01l4 2.31v4.62l-4 2.31l-4-2.31v-4.62zM1005.73 365.01l4 2.31v4.62l-4 2.31l-4-2.31v-4.62zM1021.73 365.01l4 2.31v4.62l-4 2.31l-4-2.31v-4.62zM1029.73 365.01l4 2.31v4.62l-4 2.31l-4-2.31v-4.62zM1037.73 365.01l4 2.31v4.62l-4 2.31l-4-2.31v-4.62zM377.65 371.94l4 2.31v4.62l-4 2.31l-4-2.31v-4.62zM417.65 371.94l4 2.31v4.62l-4 2.31l-4-2.31v-4.62zM425.65 371.94l4 2.31v4.62l-4 2.31l-4-2.31v-4.62zM433.66 371.94l4 2.31v4.62l-4 2.31l-4-2.31v-4.62zM441.66 371.94l4 2.31v4.62l-4 2.31l-4-2.31v-4.62zM449.66 371.94l4 2.31v4.62l-4 2.31l-4-2.31v-4.62zM465.66 371.94l4 2.31v4.62l-4 2.31l-4-2.31v-4.62zM473.66 371.94l4 2.31v4.62l-4 2.31l-4-2.31v-4.62zM481.66 371.94l4 2.31v4.62l-4 2.31l-4-2.31v-4.62zM489.66 371.94l4 2.31v4.62l-4 2.31l-4-2.31v-4.62zM1001.73 371.94l4 2.31v4.62l-4 2.31l-4-2.31v-4.62zM1009.73 371.94l4 2.31v4.62l-4 2.31l-4-2.31v-4.62zM1017.73 371.94l4 2.31v4.62l-4 2.31l-4-2.31v-4.62zM1025.73 371.94l4 2.31v4.62l-4 2.31l-4-2.31v-4.62zM373.65 378.87l4 2.31v4.62l-4 2.31l-4-2.31v-4.62zM381.65 378.87l4 2.31v4.62l-4 2.31l-4-2.31v-4.62zM429.66 378.87l4 2.31v4.62l-4 2.31l-4-2.31v-4.62zM437.66 378.87l4 2.31v4.62l-4 2.31l-4-2.31v-4.62zM477.66 378.87l4 2.31v4.62l-4 2.31l-4-2.31v-4.62zM485.66 378.87l4 2.31v4.62l-4 2.31l-4-2.31v-4.62zM549.67 378.87l4 2.31v4.62l-4 2.31l-4-2.31v-4.62zM557.67 378.87l4 2.31v4.62l-4 2.31l-4-2.31v-4.62zM1021.73 378.87l4 2.31v4.62l-4 2.31l-4-2.31v-4.62zM377.65 385.80l4 2.31v4.62l-4 2.31l-4-2.31v-4.62zM489.66 385.80l4 2.31v4.62l-4 2.31l-4-2.31v-4.62zM537.67 385.80l4 2.31v4.62l-4 2.31l-4-2.31v-4.62zM545.67 385.80l4 2.31v4.62l-4 2.31l-4-2.31v-4.62zM553.67 385.80l4 2.31v4.62l-4 2.31l-4-2.31v-4.62zM561.67 385.80l4 2.31v4.62l-4 2.31l-4-2.31v-4.62zM373.65 392.72l4 2.31v4.62l-4 2.31l-4-2.31v-4.62zM485.66 392.72l4 2.31v4.62l-4 2.31l-4-2.31v-4.62zM493.66 392.72l4 2.31v4.62l-4 2.31l-4-2.31v-4.62zM533.67 392.72l4 2.31v4.62l-4 2.31l-4-2.31v-4.62zM541.67 392.72l4 2.31v4.62l-4 2.31l-4-2.31v-4.62zM557.67 392.72l4 2.31v4.62l-4 2.31l-4-2.31v-4.62zM369.65 399.65l4 2.31v4.62l-4 2.31l-4-2.31v-4.62zM489.66 399.65l4 2.31v4.62l-4 2.31l-4-2.31v-4.62zM497.66 399.65l4 2.31v4.62l-4 2.31l-4-2.31v-4.62zM553.67 399.65l4 2.31v4.62l-4 2.31l-4-2.31v-4.62zM561.67 399.65l4 2.31v4.62l-4 2.31l-4-2.31v-4.62zM365.65 406.58l4 2.31v4.62l-4 2.31l-4-2.31v-4.62zM373.65 406.58l4 2.31v4.62l-4 2.31l-4-2.31v-4.62zM805.70 406.58l4 2.31v4.62l-4 2.31l-4-2.31v-4.62zM813.70 406.58l4 2.31v4.62l-4 2.31l-4-2.31v-4.62zM361.65 413.51l4 2.31v4.62l-4 2.31l-4-2.31v-4.62zM369.65 413.51l4 2.31v4.62l-4 2.31l-4-2.31v-4.62zM585.67 413.51l4 2.31v4.62l-4 2.31l-4-2.31v-4.62zM593.68 413.51l4 2.31v4.62l-4 2.31l-4-2.31v-4.62zM777.70 413.51l4 2.31v4.62l-4 2.31l-4-2.31v-4.62zM785.70 413.51l4 2.31v4.62l-4 2.31l-4-2.31v-4.62zM793.70 413.51l4 2.31v4.62l-4 2.31l-4-2.31v-4.62zM801.70 413.51l4 2.31v4.62l-4 2.31l-4-2.31v-4.62zM809.70 413.51l4 2.31v4.62l-4 2.31l-4-2.31v-4.62zM325.64 420.44l4 2.31v4.62l-4 2.31l-4-2.31v-4.62zM365.65 420.44l4 2.31v4.62l-4 2.31l-4-2.31v-4.62zM373.65 420.44l4 2.31v4.62l-4 2.31l-4-2.31v-4.62zM597.68 420.44l4 2.31v4.62l-4 2.31l-4-2.31v-4.62zM781.70 420.44l4 2.31v4.62l-4 2.31l-4-2.31v-4.62zM329.64 427.37l4 2.31v4.62l-4 2.31l-4-2.31v-4.62zM337.64 427.37l4 2.31v4.62l-4 2.31l-4-2.31v-4.62zM377.65 427.37l4 2.31v4.62l-4 2.31l-4-2.31v-4.62zM385.65 427.37l4 2.31v4.62l-4 2.31l-4-2.31v-4.62zM601.68 427.37l4 2.31v4.62l-4 2.31l-4-2.31v-4.62zM609.68 427.37l4 2.31v4.62l-4 2.31l-4-2.31v-4.62zM617.68 427.37l4 2.31v4.62l-4 2.31l-4-2.31v-4.62zM777.70 427.37l4 2.31v4.62l-4 2.31l-4-2.31v-4.62zM785.70 427.37l4 2.31v4.62l-4 2.31l-4-2.31v-4.62zM325.64 434.30l4 2.31v4.62l-4 2.31l-4-2.31v-4.62zM333.64 434.30l4 2.31v4.62l-4 2.31l-4-2.31v-4.62zM613.68 434.30l4 2.31v4.62l-4 2.31l-4-2.31v-4.62zM621.68 434.30l4 2.31v4.62l-4 2.31l-4-2.31v-4.62zM773.70 434.30l4 2.31v4.62l-4 2.31l-4-2.31v-4.62zM781.70 434.30l4 2.31v4.62l-4 2.31l-4-2.31v-4.62zM329.64 441.23l4 2.31v4.62l-4 2.31l-4-2.31v-4.62zM769.70 441.23l4 2.31v4.62l-4 2.31l-4-2.31v-4.62zM777.70 441.23l4 2.31v4.62l-4 2.31l-4-2.31v-4.62zM325.64 448.16l4 2.31v4.62l-4 2.31l-4-2.31v-4.62zM333.64 448.16l4 2.31v4.62l-4 2.31l-4-2.31v-4.62zM621.68 448.16l4 2.31v4.62l-4 2.31l-4-2.31v-4.62zM757.70 448.16l4 2.31v4.62l-4 2.31l-4-2.31v-4.62zM765.70 448.16l4 2.31v4.62l-4 2.31l-4-2.31v-4.62zM329.64 455.09l4 2.31v4.62l-4 2.31l-4-2.31v-4.62zM337.64 455.09l4 2.31v4.62l-4 2.31l-4-2.31v-4.62zM625.68 455.09l4 2.31v4.62l-4 2.31l-4-2.31v-4.62zM633.68 455.09l4 2.31v4.62l-4 2.31l-4-2.31v-4.62zM713.69 455.09l4 2.31v4.62l-4 2.31l-4-2.31v-4.62zM745.69 455.09l4 2.31v4.62l-4 2.31l-4-2.31v-4.62zM753.70 455.09l4 2.31v4.62l-4 2.31l-4-2.31v-4.62zM761.70 455.09l4 2.31v4.62l-4 2.31l-4-2.31v-4.62zM333.64 462.02l4 2.31v4.62l-4 2.31l-4-2.31v-4.62zM341.64 462.02l4 2.31v4.62l-4 2.31l-4-2.31v-4.62zM373.65 462.02l4 2.31v4.62l-4 2.31l-4-2.31v-4.62zM637.68 462.02l4 2.31v4.62l-4 2.31l-4-2.31v-4.62zM717.69 462.02l4 2.31v4.62l-4 2.31l-4-2.31v-4.62zM725.69 462.02l4 2.31v4.62l-4 2.31l-4-2.31v-4.62zM733.69 462.02l4 2.31v4.62l-4 2.31l-4-2.31v-4.62zM741.69 462.02l4 2.31v4.62l-4 2.31l-4-2.31v-4.62zM713.69 468.94l4 2.31v4.62l-4 2.31l-4-2.31v-4.62zM721.69 468.94l4 2.31v4.62l-4 2.31l-4-2.31v-4.62zM729.69 468.94l4 2.31v4.62l-4 2.31l-4-2.31v-4.62z"/>
<path fill="#FE9B2D" stroke="#FE9B2D" d="M661.68 87.85l4 2.31v4.62l-4 2.31l-4-2.31v-4.62zM669.69 87.85l4 2.31v4.62l-4 2.31l-4-2.31v-4.62zM677.69 87.85l4 2.31v4.62l-4 2.31l-4-2.31v-4.62zM685.69 87.85l4 2.31v4.62l-4 2.31l-4-2.31v-4.62zM649.68 94.77l4 2.31v4.62l-4 2.31l-4-2.31v-4.62zM697.69 94.77l4 2.31v4.62l-4 2.31l-4-2.31v-4.62zM705.69 94.77l4 2.31v4.62l-4 2.31l-4-2.31v-4.62zM637.68 101.70l4 2.31v4.62l-4 2.31l-4-2.31v-4.62zM645.68 101.70l4 2.31v4.62l-4 2.31l-4-2.31v-4.62zM701.69 101.70l4 2.31v4.62l-4 2.31l-4-2.31v-4.62zM709.69 101.70l4 2.31v4.62l-4 2.31l-4-2.31v-4.62zM717.69 101.70l4 2.31v4.62l-4 2.31l-4-2.31v-4.62zM721.69 108.63l4 2.31v4.62l-4 2.31l-4-2.31v-4.62zM725.69 115.56l4 2.31v4.62l-4 2.31l-4-2.31v-4.62zM609.68 122.49l4 2.31v4.62l-4 2.31l-4-2.31v-4.62zM737.69 122.49l4 2.31v4.62l-4 2.31l-4-2.31v-4.62zM613.68 129.42l4 2.31v4.62l-4 2.31l-4-2.31v-4.62zM561.67 136.35l4 2.31v4.62l-4 2.31l-4-2.31v-4.62zM585.67 136.35l4 2.31v4.62l-4 2.31l-4-2.31v-4.62zM609.68 136.35l4 2.31v4.62l-4 2.31l-4-2.31v-4.62zM737.69 136.35l4 2.31v4.62l-4 2.31l-4-2.31v-4.62zM549.67 143.28l4 2.31v4.62l-4 2.31l-4-2.31v-4.62zM589.68 143.28l4 2.31v4.62l-4 2.31l-4-2.31v-4.62zM597.68 143.28l4 2.31v4.62l-4 2.31l-4-2.31v-4.62zM741.69 143.28l4 2.31v4.62l-4 2.31l-4-2.31v-4.62zM553.67 150.21l4 2.31v4.62l-4 2.31l-4-2.31v-4.62zM681.69 150.21l4 2.31v4.62l-4 2.31l-4-2.31v-4.62zM745.69 150.21l4 2.31v4.62l-4 2.31l-4-2.31v-4.62zM549.67 157.14l4 2.31v4.62l-4 2.31l-4-2.31v-4.62zM677.69 157.14l4 2.31v4.62l-4 2.31l-4-2.31v-4.62zM685.69 157.14l4 2.31v4.62l-4 2.31l-4-2.31v-4.62zM749.70 157.14l4 2.31v4.62l-4 2.31l-4-2.31v-4.62zM553.67 164.07l4 2.31v4.62l-4 2.31l-4-2.31v-4.62zM665.68 164.07l4 2.31v4.62l-4 2.31l-4-2.31v-4.62zM681.69 164.07l4 2.31v4.62l-4 2.31l-4-2.31v-4.62zM753.70 164.07l4 2.31v4.62l-4 2.31l-4-2.31v-4.62zM565.67 170.99l4 2.31v4.62l-4 2.31l-4-2.31v-4.62zM661.68 170.99l4 2.31v4.62l-4 2.31l-4-2.31v-4.62zM685.69 170.99l4 2.31v4.62l-4 2.31l-4-2.31v-4.62zM805.70 170.99l4 2.31v4.62l-4 2.31l-4-2.31v-4.62zM569.67 177.92l4 2.31v4.62l-4 2.31l-4-2.31v-4.62zM577.67 177.92l4 2.31v4.62l-4 2.31l-4-2.31v-4.62zM585.67 177.92l4 2.31v4.62l-4 2.31l-4-2.31v-4.62zM593.68 177.92l4 2.31v4.62l-4 2.31l-4-2.31v-4.62zM601.68 177.92l4 2.31v4.62l-4 2.31l-4-2.31v-4.62zM633.68 177.92l4 2.31v4.62l-4 2.31l-4-2.31v-4.62zM641.68 177.92l4 2.31v4.62l-4 2.31l-4-2.31v-4.62zM649.68 177.92l4 2.31v4.62l-4 2.31l-4-2.31v-4.62zM657.68 177.92l4 2.31v4.62l-4 2.31l-4-2.31v-4.62zM689.69 177.92l4 2.31v4.62l-4 2.31l-4-2.31v-4.62zM753.70 177.92l4 2.31v4.62l-4 2.31l-4-2.31v-4.62zM801.70 177.92l4 2.31v4.62l-4 2.31l-4-2.31v-4.62zM841.71 177.92l4 2.31v4.62l-4 2.31l-4-2.31v-4.62zM565.67 184.85l4 2.31v4.62l-4 2.31l-4-2.31v-4.62zM605.68 184.85l4 2.31v4.62l-4 2.31l-4-2.31v-4.62zM613.68 184.85l4 2.31v4.62l-4 2.31l-4-2.31v-4.62zM621.68 184.85l4 2.31v4.62l-4 2.31l-4-2.31v-4.62zM693.69 184.85l4 2.31v4.62l-4 2.31l-4-2.31v-4.62zM749.70 184.85l4 2.31v4.62l-4 2.31l-4-2.31v-4.62zM805.70 184.85l4 2.31v4.62l-4 2.31l-4-2.31v-4.62zM845.71 184.85l4 2.31v4.62l-4 2.31l-4-2.31v-4.62zM853.71 184.85l4 2.31v4.62l-4 2.31l-4-2.31v-4.62zM861.71 184.85l4 2.31v4.62l-4 2.31l-4-2.31v-4.62zM561.67 191.78l4 2.31v4.62l-4 2.31l-4-2.31v-4.62zM745.69 191.78l4 2.31v4.62l-4 2.31l-4-2.31v-4.62zM801.70 191.78l4 2.31v4.62l-4 2.31l-4-2.31v-4.62zM557.67 198.71l4 2.31v4.62l-4 2.31l-4-2.31v-4.62zM613.68 198.71l4 2.31v4.62l-4 2.31l-4-2.31v-4.62zM701.69 198.71l4 2.31v4.62l-4 2.31l-4-2.31v-4.62zM749.70 198.71l4 2.31v4.62l-4 2.31l-4-2.31v-4.62zM797.70 198.71l4 2.31v4.62l-4 2.31l-4-2.31v-4.62zM805.70 198.71l4 2.31v4.62l-4 2.31l-4-2.31v-4.62zM877.71 198.71l4 2.31v4.62l-4 2.31l-4-2.31v-4.62zM545.67 205.64l4 2.31v4.62l-4 2.31l-4-2.31v-4.62zM609.68 205.64l4 2.31v4.62l-4 2.31l-4-2.31v-4.62zM705.69 205.64l4 2.31v4.62l-4 2.31l-4-2.31v-4.62zM713.69 205.64l4 2.31v4.62l-4 2.31l-4-2.31v-4.62zM745.69 205.64l4 2.31v4.62l-4 2.31l-4-2.31v-4.62zM769.70 205.64l4 2.31v4.62l-4 2.31l-4-2.31v-4.62zM777.70 205.64l4 2.31v4.62l-4 2.31l-4-2.31v-4.62zM785.70 205.64l4 2.31v4.62l-4 2.31l-4-2.31v-4.62zM881.71 205.64l4 2.31v4.62l-4 2.31l-4-2.31v-4.62zM541.67 212.57l4 2.31v4.62l-4 2.31l-4-2.31v-4.62zM605.68 212.57l4 2.31v4.62l-4 2.31l-4-2.31v-4.62zM717.69 212.57l4 2.31v4.62l-4 2.31l-4-2.31v-4.62zM725.69 212.57l4 2.31v4.62l-4 2.31l-4-2.31v-4.62zM733.69 212.57l4 2.31v4.62l-4 2.31l-4-2.31v-4.62zM741.69 212.57l4 2.31v4.62l-4 2.31l-4-2.31v-4.62zM765.70 212.57l4 2.31v4.62l-4 2.31l-4-2.31v-4.62zM885.71 212.57l4 2.31v4.62l-4 2.31l-4-2.31v-4.62zM577.67 219.50l4 2.31v4.62l-4 2.31l-4-2.31v-4.62zM593.68 219.50l4 2.31v4.62l-4 2.31l-4-2.31v-4.62zM601.68 219.50l4 2.31v4.62l-4 2.31l-4-2.31v-4.62zM609.68 219.50l4 2.31v4.62l-4 2.31l-4-2.31v-4.62zM761.70 219.50l4 2.31v4.62l-4 2.31l-4-2.31v-4.62zM881.71 219.50l4 2.31v4.62l-4 2.31l-4-2.31v-4.62zM533.67 226.43l4 2.31v4.62l-4 2.31l-4-2.31v-4.62zM573.67 226.43l4 2.31v4.62l-4 2.31l-4-2.31v-4.62zM613.68 226.43l4 2.31v4.62l-4 2.31l-4-2.31v-4.62zM757.70 226.43l4 2.31v4.62l-4 2.31l-4-2.31v-4.62zM877.71 226.43l4 2.31v4.62l-4 2.31l-4-2.31v-4.62zM529.67 233.36l4 2.31v4.62l-4 2.31l-4-2.31v-4.62zM617.68 233.36l4 2.31v4.62l-4 2.31l-4-2.31v-4.62zM753.70 233.36l4 2.31v4.62l-4 2.31l-4-2.31v-4.62zM873.71 233.36l4 2.31v4.62l-4 2.31l-4-2.31v-4.62zM889.71 233.36l4 2.31v4.62l-4 2.31l-4-2.31v-4.62zM897.71 233.36l4 2.31v4.62l-4 2.31l-4-2.31v-4.62zM905.71 233.36l4 2.31v4.62l-4 2.31l-4-2.31v-4.62zM493.66 240.29l4 2.31v4.62l-4 2.31l-4-2.31v-4.62zM517.67 240.29l4 2.31v4.62l-4 2.31l-4-2.31v-4.62zM525.67 240.29l4 2.31v4.62l-4 2.31l-4-2.31v-4.62zM621.68 240.29l4 2.31v4.62l-4 2.31l-4-2.31v-4.62zM717.69 240.29l4 2.31v4.62l-4 2.31l-4-2.31v-4.62zM741.69 240.29l4 2.31v4.62l-4 2.31l-4-2.31v-4.62zM861.71 240.29l4 2.31v4.62l-4 2.31l-4-2.31v-4.62zM877.71 240.29l4 2.31v4.62l-4 2.31l-4-2.31v-4.62zM489.66 247.21l4 2.31v4.62l-4 2.31l-4-2.31v-4.62zM521.67 247.21l4 2.31v4.62l-4 2.31l-4-2.31v-4.62zM697.69 247.21l4 2.31v4.62l-4 2.31l-4-2.31v-4.62zM705.69 247.21l4 2.31v4.62l-4 2.31l-4-2.31v-4.62zM713.69 247.21l4 2.31v4.62l-4 2.31l-4-2.31v-4.62zM729.69 247.21l4 2.31v4.62l-4 2.31l-4-2.31v-4.62zM873.71 247.21l4 2.31v4.62l-4 2.31l-4-2.31v-4.62zM945.72 247.21l4 2.31v4.62l-4 2.31l-4-2.31v-4.62zM485.66 254.14l4 2.31v4.62l-4 2.31l-4-2.31v-4.62zM621.68 254.14l4 2.31v4.62l-4 2.31l-4-2.31v-4.62zM685.69 254.14l4 2.31v4.62l-4 2.31l-4-2.31v-4.62zM853.71 254.14l4 2.31v4.62l-4 2.31l-4-2.31v-4.62zM869.71 254.14l4 2.31v4.62l-4 2.31l-4-2.31v-4.62zM957.72 254.14l4 2.31v4.62l-4 2.31l-4-2.31v-4.62zM489.66 261.07l4 2.31v4.62l-4 2.31l-4-2.31v-4.62zM625.68 261.07l4 2.31v4.62l-4 2.31l-4-2.31v-4.62zM961.72 261.07l4 2.31v4.62l-4 2.31l-4-2.31v-4.62zM493.66 268.00l4 2.31v4.62l-4 2.31l-4-2.31v-4.62zM525.67 268.00l4 2.31v4.62l-4 2.31l-4-2.31v-4.62zM533.67 268.00l4 2.31v4.62l-4 2.31l-4-2.31v-4.62zM621.68 268.00l4 2.31v4.62l-4 2.31l-4-2.31v-4.62zM685.69 268.00l4 2.31v4.62l-4 2.31l-4-2.31v-4.62zM845.71 268.00l4 2.31v4.62l-4 2.31l-4-2.31v-4.62zM869.71 268.00l4 2.31v4.62l-4 2.31l-4-2.31v-4.62zM497.66 274.93l4 2.31v4.62l-4 2.31l-4-2.31v-4.62zM529.67 274.93l4 2.31v4.62l-4 2.31l-4-2.31v-4.62zM537.67 274.93l4 2.31v4.62l-4 2.31l-4-2.31v-4.62zM617.68 274.93l4 2.31v4.62l-4 2.31l-4-2.31v-4.62zM689.69 274.93l4 2.31v4.62l-4 2.31l-4-2.31v-4.62zM841.71 274.93l4 2.31v4.62l-4 2.31l-4-2.31v-4.62zM873.71 274.93l4 2.31v4.62l-4 2.31l-4-2.31v-4.62zM961.72 274.93l4 2.31v4.62l-4 2.31l-4-2.31v-4.62zM985.72 274.93l4 2.31v4.62l-4 2.31l-4-2.31v-4.62zM993.73 274.93l4 2.31v4.62l-4 2.31l-4-2.31v-4.62zM493.66 281.86l4 2.31v4.62l-4 2.31l-4-2.31v-4.62zM501.66 281.86l4 2.31v4.62l-4 2.31l-4-2.31v-4.62zM509.67 281.86l4 2.31v4.62l-4 2.31l-4-2.31v-4.62zM517.67 281.86l4 2.31v4.62l-4 2.31l-4-2.31v-4.62zM525.67 281.86l4 2.31v4.62l-4 2.31l-4-2.31v-4.62zM613.68 281.86l4 2.31v4.62l-4 2.31l-4-2.31v-4.62zM693.69 281.86l4 2.31v4.62l-4 2.31l-4-2.31v-4.62zM837.71 281.86l4 2.31v4.62l-4 2.31l-4-2.31v-4.62zM869.71 281.86l4 2.31v4.62l-4 2.31l-4-2.31v-4.62zM957.72 281.86l4 2.31v4.62l-4 2.31l-4-2.31v-4.62zM965.72 281.86l4 2.31v4.62l-4 2.31l-4-2.31v-4.62zM973.72 281.86l4 2.31v4.62l-4 2.31l-4-2.31v-4.62zM997.73 281.86l4 2.31v4.62l-4 2.31l-4-2.31v-4.62zM433.66 288.79l4 2.31v4.62l-4 2.31l-4-2.31v-4.62zM441.66 288.79l4 2.31v4.62l-4 2.31l-4-2.31v-4.62zM449.66 288.79l4 2.31v4.62l-4 2.31l-4-2.31v-4.62zM457.66 288.79l4 2.31v4.62l-4 2.31l-4-2.31v-4.62zM465.66 288.79l4 2.31v4.62l-4 2.31l-4-2.31v-4.62zM473.66 288.79l4 2.31v4.62l-4 2.31l-4-2.31v-4.62zM481.66 288.79l4 2.31v4.62l-4 2.31l-4-2.31v-4.62zM489.66 288.79l4 2.31v4.62l-4 2.31l-4-2.31v-4.62zM609.68 288.79l4 2.31v4.62l-4 2.31l-4-2.31v-4.62zM689.69 288.79l4 2.31v4.62l-4 2.31l-4-2.31v-4.62zM833.71 288.79l4 2.31v4.62l-4 2.31l-4-2.31v-4.62zM865.71 288.79l4 2.31v4.62l-4 2.31l-4-2.31v-4.62zM953.72 288.79l4 2.31v4.62l-4 2.31l-4-2.31v-4.62zM961.72 288.79l4 2.31v4.62l-4 2.31l-4-2.31v-4.62zM421.65 295.72l4 2.31v4.62l-4 2.31l-4-2.31v-4.62zM605.68 295.72l4 2.31v4.62l-4 2.31l-4-2.31v-4.62zM613.68 295.72l4 2.31v4.62l-4 2.31l-4-2.31v-4.62zM757.70 295.72l4 2.31v4.62l-4 2.31l-4-2.31v-4.62zM829.71 295.72l4 2.31v4.62l-4 2.31l-4-2.31v-4.62zM861.71 295.72l4 2.31v4.62l-4 2.31l-4-2.31v-4.62zM949.72 295.72l4 2.31v4.62l-4 2.31l-4-2.31v-4.62zM1005.73 295.72l4 2.31v4.62l-4 2.31l-4-2.31v-4.62zM417.65 302.65l4 2.31v4.62l-4 2.31l-4-2.31v-4.62zM593.68 302.65l4 2.31v4.62l-4 2.31l-4-2.31v-4.62zM617.68 302.65l4 2.31v4.62l-4 2.31l-4-2.31v-4.62zM625.68 302.65l4 2.31v4.62l-4 2.31l-4-2.31v-4.62zM633.68 302.65l4 2.31v4.62l-4 2.31l-4-2.31v-4.62zM641.68 302.65l4 2.31v4.62l-4 2.31l-4-2.31v-4.62zM689.69 302.65l4 2.31v4.62l-4 2.31l-4-2.31v-4.62zM761.70 302.65l4 2.31v4.62l-4 2.31l-4-2.31v-4.62zM833.71 302.65l4 2.31v4.62l-4 2.31l-4-2.31v-4.62zM841.71 302.65l4 2.31v4.62l-4 2.31l-4-2.31v-4.62zM865.71 302.65l4 2.31v4.62l-4 2.31l-4-2.31v-4.62zM945.72 302.65l4 2.31v4.62l-4 2.31l-4-2.31v-4.62zM961.72 302.65l4 2.31v4.62l-4 2.31l-4-2.31v-4.62zM653.68 309.58l4 2.31v4.62l-4 2.31l-4-2.31v-4.62zM693.69 309.58l4 2.31v4.62l-4 2.31l-4-2.31v-4.62zM829.71 309.58l4 2.31v4.62l-4 2.31l-4-2.31v-4.62zM861.71 309.58l4 2.31v4.62l-4 2.31l-4-2.31v-4.62zM941.72 309.58l4 2.31v4.62l-4 2.31l-4-2.31v-4.62zM949.72 309.58l4 2.31v4.62l-4 2.31l-4-2.31v-4.62zM965.72 309.58l4 2.31v4.62l-4 2.31l-4-2.31v-4.62zM997.73 309.58l4 2.31v4.62l-4 2.31l-4-2.31v-4.62zM417.65 316.51l4 2.31v4.62l-4 2.31l-4-2.31v-4.62zM657.68 316.51l4 2.31v4.62l-4 2.31l-4-2.31v-4.62zM665.68 316.51l4 2.31v4.62l-4 2.31l-4-2.31v-4.62zM705.69 316.51l4 2.31v4.62l-4 2.31l-4-2.31v-4.62zM713.69 316.51l4 2.31v4.62l-4 2.31l-4-2.31v-4.62zM721.69 316.51l4 2.31v4.62l-4 2.31l-4-2.31v-4.62zM953.72 316.51l4 2.31v4.62l-4 2.31l-4-2.31v-4.62zM977.72 316.51l4 2.31v4.62l-4 2.31l-4-2.31v-4.62zM985.72 316.51l4 2.31v4.62l-4 2.31l-4-2.31v-4.62zM421.65 323.43l4 2.31v4.62l-4 2.31l-4-2.31v-4.62zM677.69 323.43l4 2.31v4.62l-4 2.31l-4-2.31v-4.62zM717.69 323.43l4 2.31v4.62l-4 2.31l-4-2.31v-4.62zM417.65 330.36l4 2.31v4.62l-4 2.31l-4-2.31v-4.62zM681.69 330.36l4 2.31v4.62l-4 2.31l-4-2.31v-4.62zM713.69 330.36l4 2.31v4.62l-4 2.31l-4-2.31v-4.62zM961.72 330.36l4 2.31v4.62l-4 2.31l-4-2.31v-4.62zM1001.73 330.36l4 2.31v4.62l-4 2.31l-4-2.31v-4.62zM1025.73 330.36l4 2.31v4.62l-4 2.31l-4-2.31v-4.62zM413.65 337.29l4 2.31v4.62l-4 2.31l-4-2.31v-4.62zM685.69 337.29l4 2.31v4.62l-4 2.31l-4-2.31v-4.62zM693.69 337.29l4 2.31v4.62l-4 2.31l-4-2.31v-4.62zM701.69 337.29l4 2.31v4.62l-4 2.31l-4-2.31v-4.62zM709.69 337.29l4 2.31v4.62l-4 2.31l-4-2.31v-4.62zM997.73 337.29l4 2.31v4.62l-4 2.31l-4-2.31v-4.62zM1029.73 337.29l4 2.31v4.62l-4 2.31l-4-2.31v-4.62zM577.67 344.22l4 2.31v4.62l-4 2.31l-4-2.31v-4.62zM953.72 344.22l4 2.31v4.62l-4 2.31l-4-2.31v-4.62zM969.72 344.22l4 2.31v4.62l-4 2.31l-4-2.31v-4.62zM977.72 344.22l4 2.31v4.62l-4 2.31l-4-2.31v-4.62zM985.72 344.22l4 2.31v4.62l-4 2.31l-4-2.31v-4.62zM993.73 344.22l4 2.31v4.62l-4 2.31l-4-2.31v-4.62zM1033.73 344.22l4 2.31v4.62l-4 2.31l-4-2.31v-4.62zM341.64 351.15l4 2.31v4.62l-4 2.31l-4-2.31v-4.62zM349.65 351.15l4 2.31v4.62l-4 2.31l-4-2.31v-4.62zM357.65 351.15l4 2.31v4.62l-4 2.31l-4-2.31v-4.62zM413.65 351.15l4 2.31v4.62l-4 2.31l-4-2.31v-4.62zM453.66 351.15l4 2.31v4.62l-4 2.31l-4-2.31v-4.62zM461.66 351.15l4 2.31v4.62l-4 2.31l-4-2.31v-4.62zM501.66 351.15l4 2.31v4.62l-4 2.31l-4-2.31v-4.62zM565.67 351.15l4 2.31v4.62l-4 2.31l-4-2.31v-4.62zM573.67 351.15l4 2.31v4.62l-4 2.31l-4-2.31v-4.62zM949.72 351.15l4 2.31v4.62l-4 2.31l-4-2.31v-4.62zM965.72 351.15l4 2.31v4.62l-4 2.31l-4-2.31v-4.62zM997.73 351.15l4 2.31v4.62l-4 2.31l-4-2.31v-4.62zM1029.73 351.15l4 2.31v4.62l-4 2.31l-4-2.31v-4.62zM361.65 358.08l4 2.31v4.62l-4 2.31l-4-2.31v-4.62zM417.65 358.08l4 2.31v4.62l-4 2.31l-4-2.31v-4.62zM449.66 358.08l4 2.31v4.62l-4 2.31l-4-2.31v-4.62zM465.66 358.08l4 2.31v4.62l-4 2.31l-4-2.31v-4.62zM497.66 358.08l4 2.31v4.62l-4 2.31l-4-2.31v-4.62zM569.67 358.08l4 2.31v4.62l-4 2.31l-4-2.31v-4.62zM945.72 358.08l4 2.31v4.62l-4 2.31l-4-2.31v-4.62zM1001.73 358.08l4 2.31v4.62l-4 2.31l-4-2.31v-4.62zM1025.73 358.08l4 2.31v4.62l-4 2.31l-4-2.31v-4.62zM421.65 365.01l4 2.31v4.62l-4 2.31l-4-2.31v-4.62zM429.66 365.01l4 2.31v4.62l-4 2.31l-4-2.31v-4.62zM437.66 365.01l4 2.31v4.62l-4 2.31l-4-2.31v-4.62zM445.66 365.01l4 2.31v4.62l-4 2.31l-4-2.31v-4.62zM469.66 365.01l4 2.31v4.62l-4 2.31l-4-2.31v-4.62zM477.66 365.01l4 2.31v4.62l-4 2.31l-4-2.31v-4.62zM485.66 365.01l4 2.31v4.62l-4 2.31l-4-2.31v-4.62zM493.66 365.01l4 2.31v4.62l-4 2.31l-4-2.31v-4.62zM501.66 365.01l4 2.31v4.62l-4 2.31l-4-2.31v-4.62zM941.72 365.01l4 2.31v4.62l-4 2.31l-4-2.31v-4.62zM965.72 365.01l4 2.31v4.62l-4 2.31l-4-2.31v-4.62zM997.73 365.01l4 2.31v4.62l-4 2.31l-4-2.31v-4.62zM1013.73 365.01l4 2.31v4.62l-4 2.31l-4-2.31v-4.62zM369.65 371.94l4 2.31v4.62l-4 2.31l-4-2.31v-4.62zM497.66 371.94l4 2.31v4.62l-4 2.31l-4-2.31v-4.62zM553.67 371.94l4 2.31v4.62l-4 2.31l-4-2.31v-4.62zM561.67 371.94l4 2.31v4.62l-4 2.31l-4-2.31v-4.62zM921.72 371.94l4 2.31v4.62l-4 2.31l-4-2.31v-4.62zM929.72 371.94l4 2.31v4.62l-4 2.31l-4-2.31v-4.62zM937.72 371.94l4 2.31v4.62l-4 2.31l-4-2.31v-4.62zM493.66 378.87l4 2.31v4.62l-4 2.31l-4-2.31v-4.62zM541.67 378.87l4 2.31v4.62l-4 2.31l-4-2.31v-4.62zM917.72 378.87l4 2.31v4.62l-4 2.31l-4-2.31v-4.62zM369.65 385.80l4 2.31v4.62l-4 2.31l-4-2.31v-4.62zM497.66 385.80l4 2.31v4.62l-4 2.31l-4-2.31v-4.62zM529.67 385.80l4 2.31v4.62l-4 2.31l-4-2.31v-4.62zM365.65 392.72l4 2.31v4.62l-4 2.31l-4-2.31v-4.62zM501.66 392.72l4 2.31v4.62l-4 2.31l-4-2.31v-4.62zM525.67 392.72l4 2.31v4.62l-4 2.31l-4-2.31v-4.62zM565.67 392.72l4 2.31v4.62l-4 2.31l-4-2.31v-4.62zM361.65 399.65l4 2.31v4.62l-4 2.31l-4-2.31v-4.62zM569.67 399.65l4 2.31v4.62l-4 2.31l-4-2.31v-4.62zM801.70 399.65l4 2.31v4.62l-4 2.31l-4-2.31v-4.62zM809.70 399.65l4 2.31v4.62l-4 2.31l-4-2.31v-4.62zM357.65 406.58l4 2.31v4.62l-4 2.31l-4-2.31v-4.62zM581.67 406.58l4 2.31v4.62l-4 2.31l-4-2.31v-4.62zM589.68 406.58l4 2.31v4.62l-4 2.31l-4-2.31v-4.62zM597.68 406.58l4 2.31v4.62l-4 2.31l-4-2.31v-4.62zM773.70 406.58l4 2.31v4.62l-4 2.31l-4-2.31v-4.62zM781.70 406.58l4 2.31v4.62l-4 2.31l-4-2.31v-4.62zM789.70 406.58l4 2.31v4.62l-4 2.31l-4-2.31v-4.62zM797.70 406.58l4 2.31v4.62l-4 2.31l-4-2.31v-4.62zM821.70 406.58l4 2.31v4.62l-4 2.31l-4-2.31v-4.62zM329.64 413.51l4 2.31v4.62l-4 2.31l-4-2.31v-4.62zM353.65 413.51l4 2.31v4.62l-4 2.31l-4-2.31v-4.62zM601.68 413.51l4 2.31v4.62l-4 2.31l-4-2.31v-4.62zM769.70 413.51l4 2.31v4.62l-4 2.31l-4-2.31v-4.62zM333.64 420.44l4 2.31v4.62l-4 2.31l-4-2.31v-4.62zM341.64 420.44l4 2.31v4.62l-4 2.31l-4-2.31v-4.62zM349.65 420.44l4 2.31v4.62l-4 2.31l-4-2.31v-4.62zM357.65 420.44l4 2.31v4.62l-4 2.31l-4-2.31v-4.62zM605.68 420.44l4 2.31v4.62l-4 2.31l-4-2.31v-4.62zM613.68 420.44l4 2.31v4.62l-4 2.31l-4-2.31v-4.62zM629.68 420.44l4 2.31v4.62l-4 2.31l-4-2.31v-4.62zM637.68 420.44l4 2.31v4.62l-4 2.31l-4-2.31v-4.62zM773.70 420.44l4 2.31v4.62l-4 2.31l-4-2.31v-4.62zM345.64 427.37l4 2.31v4.62l-4 2.31l-4-2.31v-4.62zM369.65 427.37l4 2.31v4.62l-4 2.31l-4-2.31v-4.62zM625.68 427.37l4 2.31v4.62l-4 2.31l-4-2.31v-4.62zM373.65 434.30l4 2.31v4.62l-4 2.31l-4-2.31v-4.62zM629.68 434.30l4 2.31v4.62l-4 2.31l-4-2.31v-4.62zM765.70 434.30l4 2.31v4.62l-4 2.31l-4-2.31v-4.62zM337.64 441.23l4 2.31v4.62l-4 2.31l-4-2.31v-4.62zM625.68 441.23l4 2.31v4.62l-4 2.31l-4-2.31v-4.62zM761.70 441.23l4 2.31v4.62l-4 2.31l-4-2.31v-4.62zM629.68 448.16l4 2.31v4.62l-4 2.31l-4-2.31v-4.62zM749.70 448.16l4 2.31v4.62l-4 2.31l-4-2.31v-4.62zM369.65 455.09l4 2.31v4.62l-4 2.31l-4-2.31v-4.62zM641.68 455.09l4 2.31v4.62l-4 2.31l-4-2.31v-4.62zM729.69 455.09l4 2.31v4.62l-4 2.31l-4-2.31v-4.62zM737.69 455.09l4 2.31v4.62l-4 2.31l-4-2.31v-4.62zM349.65 462.02l4 2.31v4.62l-4 2.31l-4-2.31v-4.62zM357.65 462.02l4 2.31v4.62l-4 2.31l-4-2.31v-4.62zM365.65 462.02l4 2.31v4.62l-4 2.31l-4-2.31v-4.62zM661.68 462.02l4 2.31v4.62l-4 2.31l-4-2.31v-4.62zM709.69 462.02l4 2.31v4.62l-4 2.31l-4-2.31v-4.62zM705.69 468.94l4 2.31v4.62l-4 2.31l-4-2.31v-4.62z"/>
<path fill="#EE7118" stroke="#EE7118" d="M657.68 94.77l4 2.31v4.62l-4 2.31l-4-2.31v-4.62zM665.68 94.77l4 2.31v4.62l-4 2.31l-4-2.31v-4.62zM673.69 94.77l4 2.31v4.62l-4 2.31l-4-2.31v-4.62zM681.69 94.77l4 2.31v4.62l-4 2.31l-4-2.31v-4.62zM689.69 94.77l4 2.31v4.62l-4 2.31l-4-2.31v-4.62zM653.68 101.70l4 2.31v4.62l-4 2.31l-4-2.31v-4.62zM641.68 108.63l4 2.31v4.62l-4 2.31l-4-2.31v-4.62zM649.68 108.63l4 2.31v4.62l-4 2.31l-4-2.31v-4.62zM705.69 108.63l4 2.31v4.62l-4 2.31l-4-2.31v-4.62zM713.69 108.63l4 2.31v4.62l-4 2.31l-4-2.31v-4.62zM617.68 122.49l4 2.31v4.62l-4 2.31l-4-2.31v-4.62zM729.69 122.49l4 2.31v4.62l-4 2.31l-4-2.31v-4.62zM621.68 129.42l4 2.31v4.62l-4 2.31l-4-2.31v-4.62zM733.69 129.42l4 2.31v4.62l-4 2.31l-4-2.31v-4.62zM569.67 136.35l4 2.31v4.62l-4 2.31l-4-2.31v-4.62zM577.67 136.35l4 2.31v4.62l-4 2.31l-4-2.31v-4.62zM617.68 136.35l4 2.31v4.62l-4 2.31l-4-2.31v-4.62zM557.67 143.28l4 2.31v4.62l-4 2.31l-4-2.31v-4.62zM581.67 143.28l4 2.31v4.62l-4 2.31l-4-2.31v-4.62zM605.68 143.28l4 2.31v4.62l-4 2.31l-4-2.31v-4.62zM613.68 143.28l4 2.31v4.62l-4 2.31l-4-2.31v-4.62zM677.69 143.28l4 2.31v4.62l-4 2.31l-4-2.31v-4.62zM733.69 143.28l4 2.31v4.62l-4 2.31l-4-2.31v-4.62zM585.67 150.21l4 2.31v4.62l-4 2.31l-4-2.31v-4.62zM593.68 150.21l4 2.31v4.62l-4 2.31l-4-2.31v-4.62zM673.69 150.21l4 2.31v4.62l-4 2.31l-4-2.31v-4.62zM737.69 150.21l4 2.31v4.62l-4 2.31l-4-2.31v-4.62zM557.67 157.14l4 2.31v4.62l-4 2.31l-4-2.31v-4.62zM589.68 157.14l4 2.31v4.62l-4 2.31l-4-2.31v-4.62zM661.68 157.14l4 2.31v4.62l-4 2.31l-4-2.31v-4.62zM669.69 157.14l4 2.31v4.62l-4 2.31l-4-2.31v-4.62zM741.69 157.14l4 2.31v4.62l-4 2.31l-4-2.31v-4.62zM561.67 164.07l4 2.31v4.62l-4 2.31l-4-2.31v-4.62zM689.69 164.07l4 2.31v4.62l-4 2.31l-4-2.31v-4.62zM745.69 164.07l4 2.31v4.62l-4 2.31l-4-2.31v-4.62zM589.68 170.99l4 2.31v4.62l-4 2.31l-4-2.31v-4.62zM597.68 170.99l4 2.31v4.62l-4 2.31l-4-2.31v-4.62zM653.68 170.99l4 2.31v4.62l-4 2.31l-4-2.31v-4.62zM693.69 170.99l4 2.31v4.62l-4 2.31l-4-2.31v-4.62zM749.70 170.99l4 2.31v4.62l-4 2.31l-4-2.31v-4.62zM813.70 170.99l4 2.31v4.62l-4 2.31l-4-2.31v-4.62zM609.68 177.92l4 2.31v4.62l-4 2.31l-4-2.31v-4.62zM617.68 177.92l4 2.31v4.62l-4 2.31l-4-2.31v-4.62zM625.68 177.92l4 2.31v4.62l-4 2.31l-4-2.31v-4.62zM697.69 177.92l4 2.31v4.62l-4 2.31l-4-2.31v-4.62zM745.69 177.92l4 2.31v4.62l-4 2.31l-4-2.31v-4.62zM809.70 177.92l4 2.31v4.62l-4 2.31l-4-2.31v-4.62zM573.67 184.85l4 2.31v4.62l-4 2.31l-4-2.31v-4.62zM581.67 184.85l4 2.31v4.62l-4 2.31l-4-2.31v-4.62zM589.68 184.85l4 2.31v4.62l-4 2.31l-4-2.31v-4.62zM597.68 184.85l4 2.31v4.62l-4 2.31l-4-2.31v-4.62zM741.69 184.85l4 2.31v4.62l-4 2.31l-4-2.31v-4.62zM837.71 184.85l4 2.31v4.62l-4 2.31l-4-2.31v-4.62zM609.68 191.78l4 2.31v4.62l-4 2.31l-4-2.31v-4.62zM697.69 191.78l4 2.31v4.62l-4 2.31l-4-2.31v-4.62zM809.70 191.78l4 2.31v4.62l-4 2.31l-4-2.31v-4.62zM849.71 191.78l4 2.31v4.62l-4 2.31l-4-2.31v-4.62zM857.71 191.78l4 2.31v4.62l-4 2.31l-4-2.31v-4.62zM865.71 191.78l4 2.31v4.62l-4 2.31l-4-2.31v-4.62zM709.69 198.71l4 2.31v4.62l-4 2.31l-4-2.31v-4.62zM741.69 198.71l4 2.31v4.62l-4 2.31l-4-2.31v-4.62zM869.71 198.71l4 2.31v4.62l-4 2.31l-4-2.31v-4.62zM553.67 205.64l4 2.31v4.62l-4 2.31l-4-2.31v-4.62zM561.67 205.64l4 2.31v4.62l-4 2.31l-4-2.31v-4.62zM721.69 205.64l4 2.31v4.62l-4 2.31l-4-2.31v-4.62zM737.69 205.64l4 2.31v4.62l-4 2.31l-4-2.31v-4.62zM793.70 205.64l4 2.31v4.62l-4 2.31l-4-2.31v-4.62zM801.70 205.64l4 2.31v4.62l-4 2.31l-4-2.31v-4.62zM873.71 205.64l4 2.31v4.62l-4 2.31l-4-2.31v-4.62zM597.68 212.57l4 2.31v4.62l-4 2.31l-4-2.31v-4.62zM877.71 212.57l4 2.31v4.62l-4 2.31l-4-2.31v-4.62zM537.67 219.50l4 2.31v4.62l-4 2.31l-4-2.31v-4.62zM569.67 219.50l4 2.31v4.62l-4 2.31l-4-2.31v-4.62zM585.67 219.50l4 2.31v4.62l-4 2.31l-4-2.31v-4.62zM581.67 226.43l4 2.31v4.62l-4 2.31l-4-2.31v-4.62zM589.68 226.43l4 2.31v4.62l-4 2.31l-4-2.31v-4.62zM605.68 226.43l4 2.31v4.62l-4 2.31l-4-2.31v-4.62zM765.70 226.43l4 2.31v4.62l-4 2.31l-4-2.31v-4.62zM869.71 226.43l4 2.31v4.62l-4 2.31l-4-2.31v-4.62zM537.67 233.36l4 2.31v4.62l-4 2.31l-4-2.31v-4.62zM569.67 233.36l4 2.31v4.62l-4 2.31l-4-2.31v-4.62zM609.68 233.36l4 2.31v4.62l-4 2.31l-4-2.31v-4.62zM761.70 233.36l4 2.31v4.62l-4 2.31l-4-2.31v-4.62zM865.71 233.36l4 2.31v4.62l-4 2.31l-4-2.31v-4.62zM501.66 240.29l4 2.31v4.62l-4 2.31l-4-2.31v-4.62zM509.67 240.29l4 2.31v4.62l-4 2.31l-4-2.31v-4.62zM533.67 240.29l4 2.31v4.62l-4 2.31l-4-2.31v-4.62zM613.68 240.29l4 2.31v4.62l-4 2.31l-4-2.31v-4.62zM749.70 240.29l4 2.31v4.62l-4 2.31l-4-2.31v-4.62zM757.70 240.29l4 2.31v4.62l-4 2.31l-4-2.31v-4.62zM845.71 240.29l4 2.31v4.62l-4 2.31l-4-2.31v-4.62zM853.71 240.29l4 2.31v4.62l-4 2.31l-4-2.31v-4.62zM885.71 240.29l4 2.31v4.62l-4 2.31l-4-2.31v-4.62zM901.71 240.29l4 2.31v4.62l-4 2.31l-4-2.31v-4.62zM909.72 240.29l4 2.31v4.62l-4 2.31l-4-2.31v-4.62zM917.72 240.29l4 2.31v4.62l-4 2.31l-4-2.31v-4.62zM529.67 247.21l4 2.31v4.62l-4 2.31l-4-2.31v-4.62zM617.68 247.21l4 2.31v4.62l-4 2.31l-4-2.31v-4.62zM721.69 247.21l4 2.31v4.62l-4 2.31l-4-2.31v-4.62zM737.69 247.21l4 2.31v4.62l-4 2.31l-4-2.31v-4.62zM761.70 247.21l4 2.31v4.62l-4 2.31l-4-2.31v-4.62zM849.71 247.21l4 2.31v4.62l-4 2.31l-4-2.31v-4.62zM881.71 247.21l4 2.31v4.62l-4 2.31l-4-2.31v-4.62zM937.72 247.21l4 2.31v4.62l-4 2.31l-4-2.31v-4.62zM493.66 254.14l4 2.31v4.62l-4 2.31l-4-2.31v-4.62zM525.67 254.14l4 2.31v4.62l-4 2.31l-4-2.31v-4.62zM693.69 254.14l4 2.31v4.62l-4 2.31l-4-2.31v-4.62zM877.71 254.14l4 2.31v4.62l-4 2.31l-4-2.31v-4.62zM941.72 254.14l4 2.31v4.62l-4 2.31l-4-2.31v-4.62zM949.72 254.14l4 2.31v4.62l-4 2.31l-4-2.31v-4.62zM521.67 261.07l4 2.31v4.62l-4 2.31l-4-2.31v-4.62zM529.67 261.07l4 2.31v4.62l-4 2.31l-4-2.31v-4.62zM617.68 261.07l4 2.31v4.62l-4 2.31l-4-2.31v-4.62zM689.69 261.07l4 2.31v4.62l-4 2.31l-4-2.31v-4.62zM849.71 261.07l4 2.31v4.62l-4 2.31l-4-2.31v-4.62zM873.71 261.07l4 2.31v4.62l-4 2.31l-4-2.31v-4.62zM953.72 261.07l4 2.31v4.62l-4 2.31l-4-2.31v-4.62zM541.67 268.00l4 2.31v4.62l-4 2.31l-4-2.31v-4.62zM573.67 268.00l4 2.31v4.62l-4 2.31l-4-2.31v-4.62zM581.67 268.00l4 2.31v4.62l-4 2.31l-4-2.31v-4.62zM589.68 268.00l4 2.31v4.62l-4 2.31l-4-2.31v-4.62zM693.69 268.00l4 2.31v4.62l-4 2.31l-4-2.31v-4.62zM837.71 268.00l4 2.31v4.62l-4 2.31l-4-2.31v-4.62zM957.72 268.00l4 2.31v4.62l-4 2.31l-4-2.31v-4.62zM521.67 274.93l4 2.31v4.62l-4 2.31l-4-2.31v-4.62zM601.68 274.93l4 2.31v4.62l-4 2.31l-4-2.31v-4.62zM609.68 274.93l4 2.31v4.62l-4 2.31l-4-2.31v-4.62zM697.69 274.93l4 2.31v4.62l-4 2.31l-4-2.31v-4.62zM833.71 274.93l4 2.31v4.62l-4 2.31l-4-2.31v-4.62zM897.71 274.93l4 2.31v4.62l-4 2.31l-4-2.31v-4.62zM953.72 274.93l4 2.31v4.62l-4 2.31l-4-2.31v-4.62zM533.67 281.86l4 2.31v4.62l-4 2.31l-4-2.31v-4.62zM541.67 281.86l4 2.31v4.62l-4 2.31l-4-2.31v-4.62zM605.68 281.86l4 2.31v4.62l-4 2.31l-4-2.31v-4.62zM701.69 281.86l4 2.31v4.62l-4 2.31l-4-2.31v-4.62zM781.70 281.86l4 2.31v4.62l-4 2.31l-4-2.31v-4.62zM789.70 281.86l4 2.31v4.62l-4 2.31l-4-2.31v-4.62zM877.71 281.86l4 2.31v4.62l-4 2.31l-4-2.31v-4.62zM885.71 281.86l4 2.31v4.62l-4 2.31l-4-2.31v-4.62zM893.71 281.86l4 2.31v4.62l-4 2.31l-4-2.31v-4.62zM901.71 281.86l4 2.31v4.62l-4 2.31l-4-2.31v-4.62zM949.72 281.86l4 2.31v4.62l-4 2.31l-4-2.31v-4.62zM981.72 281.86l4 2.31v4.62l-4 2.31l-4-2.31v-4.62zM989.73 281.86l4 2.31v4.62l-4 2.31l-4-2.31v-4.62zM513.67 288.79l4 2.31v4.62l-4 2.31l-4-2.31v-4.62zM521.67 288.79l4 2.31v4.62l-4 2.31l-4-2.31v-4.62zM529.67 288.79l4 2.31v4.62l-4 2.31l-4-2.31v-4.62zM577.67 288.79l4 2.31v4.62l-4 2.31l-4-2.31v-4.62zM753.70 288.79l4 2.31v4.62l-4 2.31l-4-2.31v-4.62zM761.70 288.79l4 2.31v4.62l-4 2.31l-4-2.31v-4.62zM873.71 288.79l4 2.31v4.62l-4 2.31l-4-2.31v-4.62zM945.72 288.79l4 2.31v4.62l-4 2.31l-4-2.31v-4.62zM969.72 288.79l4 2.31v4.62l-4 2.31l-4-2.31v-4.62zM1001.73 288.79l4 2.31v4.62l-4 2.31l-4-2.31v-4.62zM429.66 295.72l4 2.31v4.62l-4 2.31l-4-2.31v-4.62zM437.66 295.72l4 2.31v4.62l-4 2.31l-4-2.31v-4.62zM445.66 295.72l4 2.31v4.62l-4 2.31l-4-2.31v-4.62zM453.66 295.72l4 2.31v4.62l-4 2.31l-4-2.31v-4.62zM461.66 295.72l4 2.31v4.62l-4 2.31l-4-2.31v-4.62zM485.66 295.72l4 2.31v4.62l-4 2.31l-4-2.31v-4.62zM573.67 295.72l4 2.31v4.62l-4 2.31l-4-2.31v-4.62zM581.67 295.72l4 2.31v4.62l-4 2.31l-4-2.31v-4.62zM693.69 295.72l4 2.31v4.62l-4 2.31l-4-2.31v-4.62zM749.70 295.72l4 2.31v4.62l-4 2.31l-4-2.31v-4.62zM765.70 295.72l4 2.31v4.62l-4 2.31l-4-2.31v-4.62zM869.71 295.72l4 2.31v4.62l-4 2.31l-4-2.31v-4.62zM941.72 295.72l4 2.31v4.62l-4 2.31l-4-2.31v-4.62zM965.72 295.72l4 2.31v4.62l-4 2.31l-4-2.31v-4.62zM425.65 302.65l4 2.31v4.62l-4 2.31l-4-2.31v-4.62zM585.67 302.65l4 2.31v4.62l-4 2.31l-4-2.31v-4.62zM601.68 302.65l4 2.31v4.62l-4 2.31l-4-2.31v-4.62zM609.68 302.65l4 2.31v4.62l-4 2.31l-4-2.31v-4.62zM697.69 302.65l4 2.31v4.62l-4 2.31l-4-2.31v-4.62zM753.70 302.65l4 2.31v4.62l-4 2.31l-4-2.31v-4.62zM825.70 302.65l4 2.31v4.62l-4 2.31l-4-2.31v-4.62zM937.72 302.65l4 2.31v4.62l-4 2.31l-4-2.31v-4.62zM969.72 302.65l4 2.31v4.62l-4 2.31l-4-2.31v-4.62zM1001.73 302.65l4 2.31v4.62l-4 2.31l-4-2.31v-4.62zM421.65 309.58l4 2.31v4.62l-4 2.31l-4-2.31v-4.62zM589.68 309.58l4 2.31v4.62l-4 2.31l-4-2.31v-4.62zM597.68 309.58l4 2.31v4.62l-4 2.31l-4-2.31v-4.62zM621.68 309.58l4 2.31v4.62l-4 2.31l-4-2.31v-4.62zM629.68 309.58l4 2.31v4.62l-4 2.31l-4-2.31v-4.62zM637.68 309.58l4 2.31v4.62l-4 2.31l-4-2.31v-4.62zM645.68 309.58l4 2.31v4.62l-4 2.31l-4-2.31v-4.62zM701.69 309.58l4 2.31v4.62l-4 2.31l-4-2.31v-4.62zM725.69 309.58l4 2.31v4.62l-4 2.31l-4-2.31v-4.62zM757.70 309.58l4 2.31v4.62l-4 2.31l-4-2.31v-4.62zM765.70 309.58l4 2.31v4.62l-4 2.31l-4-2.31v-4.62zM821.70 309.58l4 2.31v4.62l-4 2.31l-4-2.31v-4.62zM837.71 309.58l4 2.31v4.62l-4 2.31l-4-2.31v-4.62zM845.71 309.58l4 2.31v4.62l-4 2.31l-4-2.31v-4.62zM853.71 309.58l4 2.31v4.62l-4 2.31l-4-2.31v-4.62zM869.71 309.58l4 2.31v4.62l-4 2.31l-4-2.31v-4.62zM973.72 309.58l4 2.31v4.62l-4 2.31l-4-2.31v-4.62zM981.72 309.58l4 2.31v4.62l-4 2.31l-4-2.31v-4.62zM989.73 309.58l4 2.31v4.62l-4 2.31l-4-2.31v-4.62zM425.65 316.51l4 2.31v4.62l-4 2.31l-4-2.31v-4.62zM585.67 316.51l4 2.31v4.62l-4 2.31l-4-2.31v-4.62zM593.68 316.51l4 2.31v4.62l-4 2.31l-4-2.31v-4.62zM649.68 316.51l4 2.31v4.62l-4 2.31l-4-2.31v-4.62zM769.70 316.51l4 2.31v4.62l-4 2.31l-4-2.31v-4.62zM777.70 316.51l4 2.31v4.62l-4 2.31l-4-2.31v-4.62zM785.70 316.51l4 2.31v4.62l-4 2.31l-4-2.31v-4.62zM817.70 316.51l4 2.31v4.62l-4 2.31l-4-2.31v-4.62zM825.70 316.51l4 2.31v4.62l-4 2.31l-4-2.31v-4.62zM857.71 316.51l4 2.31v4.62l-4 2.31l-4-2.31v-4.62zM881.71 316.51l4 2.31v4.62l-4 2.31l-4-2.31v-4.62zM897.71 316.51l4 2.31v4.62l-4 2.31l-4-2.31v-4.62zM937.72 316.51l4 2.31v4.62l-4 2.31l-4-2.31v-4.62zM945.72 316.51l4 2.31v4.62l-4 2.31l-4-2.31v-4.62zM429.66 323.43l4 2.31v4.62l-4 2.31l-4-2.31v-4.62zM437.66 323.43l4 2.31v4.62l-4 2.31l-4-2.31v-4.62zM445.66 323.43l4 2.31v4.62l-4 2.31l-4-2.31v-4.62zM589.68 323.43l4 2.31v4.62l-4 2.31l-4-2.31v-4.62zM653.68 323.43l4 2.31v4.62l-4 2.31l-4-2.31v-4.62zM661.68 323.43l4 2.31v4.62l-4 2.31l-4-2.31v-4.62zM669.69 323.43l4 2.31v4.62l-4 2.31l-4-2.31v-4.62zM781.70 323.43l4 2.31v4.62l-4 2.31l-4-2.31v-4.62zM821.70 323.43l4 2.31v4.62l-4 2.31l-4-2.31v-4.62zM957.72 323.43l4 2.31v4.62l-4 2.31l-4-2.31v-4.62zM425.65 330.36l4 2.31v4.62l-4 2.31l-4-2.31v-4.62zM441.66 330.36l4 2.31v4.62l-4 2.31l-4-2.31v-4.62zM449.66 330.36l4 2.31v4.62l-4 2.31l-4-2.31v-4.62zM585.67 330.36l4 2.31v4.62l-4 2.31l-4-2.31v-4.62zM593.68 330.36l4 2.31v4.62l-4 2.31l-4-2.31v-4.62zM673.69 330.36l4 2.31v4.62l-4 2.31l-4-2.31v-4.62zM721.69 330.36l4 2.31v4.62l-4 2.31l-4-2.31v-4.62zM1009.73 330.36l4 2.31v4.62l-4 2.31l-4-2.31v-4.62zM1017.73 330.36l4 2.31v4.62l-4 2.31l-4-2.31v-4.62zM445.66 337.29l4 2.31v4.62l-4 2.31l-4-2.31v-4.62zM453.66 337.29l4 2.31v4.62l-4 2.31l-4-2.31v-4.62zM493.66 337.29l4 2.31v4.62l-4 2.31l-4-2.31v-4.62zM581.67 337.29l4 2.31v4.62l-4 2.31l-4-2.31v-4.62zM589.68 337.29l4 2.31v4.62l-4 2.31l-4-2.31v-4.62zM597.68 337.29l4 2.31v4.62l-4 2.31l-4-2.31v-4.62zM605.68 337.29l4 2.31v4.62l-4 2.31l-4-2.31v-4.62zM677.69 337.29l4 2.31v4.62l-4 2.31l-4-2.31v-4.62zM717.69 337.29l4 2.31v4.62l-4 2.31l-4-2.31v-4.62zM957.72 337.29l4 2.31v4.62l-4 2.31l-4-2.31v-4.62zM1005.73 337.29l4 2.31v4.62l-4 2.31l-4-2.31v-4.62zM417.65 344.22l4 2.31v4.62l-4 2.31l-4-2.31v-4.62zM449.66 344.22l4 2.31v4.62l-4 2.31l-4-2.31v-4.62zM457.66 344.22l4 2.31v4.62l-4 2.31l-4-2.31v-4.62zM497.66 344.22l4 2.31v4.62l-4 2.31l-4-2.31v-4.62zM561.67 344.22l4 2.31v4.62l-4 2.31l-4-2.31v-4.62zM569.67 344.22l4 2.31v4.62l-4 2.31l-4-2.31v-4.62zM609.68 344.22l4 2.31v4.62l-4 2.31l-4-2.31v-4.62zM617.68 344.22l4 2.31v4.62l-4 2.31l-4-2.31v-4.62zM625.68 344.22l4 2.31v4.62l-4 2.31l-4-2.31v-4.62zM633.68 344.22l4 2.31v4.62l-4 2.31l-4-2.31v-4.62zM689.69 344.22l4 2.31v4.62l-4 2.31l-4-2.31v-4.62zM697.69 344.22l4 2.31v4.62l-4 2.31l-4-2.31v-4.62zM705.69 344.22l4 2.31v4.62l-4 2.31l-4-2.31v-4.62zM713.69 344.22l4 2.31v4.62l-4 2.31l-4-2.31v-4.62zM937.72 344.22l4 2.31v4.62l-4 2.31l-4-2.31v-4.62zM945.72 344.22l4 2.31v4.62l-4 2.31l-4-2.31v-4.62zM1001.73 344.22l4 2.31v4.62l-4 2.31l-4-2.31v-4.62zM333.64 351.15l4 2.31v4.62l-4 2.31l-4-2.31v-4.62zM421.65 351.15l4 2.31v4.62l-4 2.31l-4-2.31v-4.62zM445.66 351.15l4 2.31v4.62l-4 2.31l-4-2.31v-4.62zM469.66 351.15l4 2.31v4.62l-4 2.31l-4-2.31v-4.62zM493.66 351.15l4 2.31v4.62l-4 2.31l-4-2.31v-4.62zM637.68 351.15l4 2.31v4.62l-4 2.31l-4-2.31v-4.62zM645.68 351.15l4 2.31v4.62l-4 2.31l-4-2.31v-4.62zM653.68 351.15l4 2.31v4.62l-4 2.31l-4-2.31v-4.62zM709.69 351.15l4 2.31v4.62l-4 2.31l-4-2.31v-4.62zM789.70 351.15l4 2.31v4.62l-4 2.31l-4-2.31v-4.62zM941.72 351.15l4 2.31v4.62l-4 2.31l-4-2.31v-4.62zM973.72 351.15l4 2.31v4.62l-4 2.31l-4-2.31v-4.62zM353.65 358.08l4 2.31v4.62l-4 2.31l-4-2.31v-4.62zM425.65 358.08l4 2.31v4.62l-4 2.31l-4-2.31v-4.62zM441.66 358.08l4 2.31v4.62l-4 2.31l-4-2.31v-4.62zM473.66 358.08l4 2.31v4.62l-4 2.31l-4-2.31v-4.62zM489.66 358.08l4 2.31v4.62l-4 2.31l-4-2.31v-4.62zM505.66 358.08l4 2.31v4.62l-4 2.31l-4-2.31v-4.62zM561.67 358.08l4 2.31v4.62l-4 2.31l-4-2.31v-4.62zM577.67 358.08l4 2.31v4.62l-4 2.31l-4-2.31v-4.62zM641.68 358.08l4 2.31v4.62l-4 2.31l-4-2.31v-4.62zM649.68 358.08l4 2.31v4.62l-4 2.31l-4-2.31v-4.62zM657.68 358.08l4 2.31v4.62l-4 2.31l-4-2.31v-4.62zM969.72 358.08l4 2.31v4.62l-4 2.31l-4-2.31v-4.62zM1009.73 358.08l4 2.31v4.62l-4 2.31l-4-2.31v-4.62zM1017.73 358.08l4 2.31v4.62l-4 2.31l-4-2.31v-4.62zM365.65 365.01l4 2.31v4.62l-4 2.31l-4-2.31v-4.62zM509.67 365.01l4 2.31v4.62l-4 2.31l-4-2.31v-4.62zM557.67 365.01l4 2.31v4.62l-4 2.31l-4-2.31v-4.62zM565.67 365.01l4 2.31v4.62l-4 2.31l-4-2.31v-4.62zM661.68 365.01l4 2.31v4.62l-4 2.31l-4-2.31v-4.62zM669.69 365.01l4 2.31v4.62l-4 2.31l-4-2.31v-4.62zM677.69 365.01l4 2.31v4.62l-4 2.31l-4-2.31v-4.62zM685.69 365.01l4 2.31v4.62l-4 2.31l-4-2.31v-4.62zM917.72 365.01l4 2.31v4.62l-4 2.31l-4-2.31v-4.62zM933.72 365.01l4 2.31v4.62l-4 2.31l-4-2.31v-4.62zM545.67 371.94l4 2.31v4.62l-4 2.31l-4-2.31v-4.62zM681.69 371.94l4 2.31v4.62l-4 2.31l-4-2.31v-4.62zM913.72 371.94l4 2.31v4.62l-4 2.31l-4-2.31v-4.62zM993.73 371.94l4 2.31v4.62l-4 2.31l-4-2.31v-4.62zM365.65 378.87l4 2.31v4.62l-4 2.31l-4-2.31v-4.62zM525.67 378.87l4 2.31v4.62l-4 2.31l-4-2.31v-4.62zM533.67 378.87l4 2.31v4.62l-4 2.31l-4-2.31v-4.62zM565.67 378.87l4 2.31v4.62l-4 2.31l-4-2.31v-4.62zM733.69 378.87l4 2.31v4.62l-4 2.31l-4-2.31v-4.62zM909.72 378.87l4 2.31v4.62l-4 2.31l-4-2.31v-4.62zM361.65 385.80l4 2.31v4.62l-4 2.31l-4-2.31v-4.62zM505.66 385.80l4 2.31v4.62l-4 2.31l-4-2.31v-4.62zM521.67 385.80l4 2.31v4.62l-4 2.31l-4-2.31v-4.62zM569.67 385.80l4 2.31v4.62l-4 2.31l-4-2.31v-4.62zM889.71 385.80l4 2.31v4.62l-4 2.31l-4-2.31v-4.62zM325.64 392.72l4 2.31v4.62l-4 2.31l-4-2.31v-4.62zM357.65 392.72l4 2.31v4.62l-4 2.31l-4-2.31v-4.62zM509.67 392.72l4 2.31v4.62l-4 2.31l-4-2.31v-4.62zM517.67 392.72l4 2.31v4.62l-4 2.31l-4-2.31v-4.62zM573.67 392.72l4 2.31v4.62l-4 2.31l-4-2.31v-4.62zM685.69 392.72l4 2.31v4.62l-4 2.31l-4-2.31v-4.62zM805.70 392.72l4 2.31v4.62l-4 2.31l-4-2.31v-4.62zM813.70 392.72l4 2.31v4.62l-4 2.31l-4-2.31v-4.62zM329.64 399.65l4 2.31v4.62l-4 2.31l-4-2.31v-4.62zM641.68 399.65l4 2.31v4.62l-4 2.31l-4-2.31v-4.62zM769.70 399.65l4 2.31v4.62l-4 2.31l-4-2.31v-4.62zM777.70 399.65l4 2.31v4.62l-4 2.31l-4-2.31v-4.62zM793.70 399.65l4 2.31v4.62l-4 2.31l-4-2.31v-4.62zM817.70 399.65l4 2.31v4.62l-4 2.31l-4-2.31v-4.62zM825.70 399.65l4 2.31v4.62l-4 2.31l-4-2.31v-4.62zM325.64 406.58l4 2.31v4.62l-4 2.31l-4-2.31v-4.62zM605.68 406.58l4 2.31v4.62l-4 2.31l-4-2.31v-4.62zM637.68 406.58l4 2.31v4.62l-4 2.31l-4-2.31v-4.62zM645.68 406.58l4 2.31v4.62l-4 2.31l-4-2.31v-4.62zM765.70 406.58l4 2.31v4.62l-4 2.31l-4-2.31v-4.62zM337.64 413.51l4 2.31v4.62l-4 2.31l-4-2.31v-4.62zM345.64 413.51l4 2.31v4.62l-4 2.31l-4-2.31v-4.62zM609.68 413.51l4 2.31v4.62l-4 2.31l-4-2.31v-4.62zM633.68 413.51l4 2.31v4.62l-4 2.31l-4-2.31v-4.62zM641.68 413.51l4 2.31v4.62l-4 2.31l-4-2.31v-4.62zM621.68 420.44l4 2.31v4.62l-4 2.31l-4-2.31v-4.62zM353.65 427.37l4 2.31v4.62l-4 2.31l-4-2.31v-4.62zM361.65 427.37l4 2.31v4.62l-4 2.31l-4-2.31v-4.62zM633.68 427.37l4 2.31v4.62l-4 2.31l-4-2.31v-4.62zM769.70 427.37l4 2.31v4.62l-4 2.31l-4-2.31v-4.62zM341.64 434.30l4 2.31v4.62l-4 2.31l-4-2.31v-4.62zM757.70 434.30l4 2.31v4.62l-4 2.31l-4-2.31v-4.62zM633.68 441.23l4 2.31v4.62l-4 2.31l-4-2.31v-4.62zM753.70 441.23l4 2.31v4.62l-4 2.31l-4-2.31v-4.62zM341.64 448.16l4 2.31v4.62l-4 2.31l-4-2.31v-4.62zM373.65 448.16l4 2.31v4.62l-4 2.31l-4-2.31v-4.62zM637.68 448.16l4 2.31v4.62l-4 2.31l-4-2.31v-4.62zM677.69 448.16l4 2.31v4.62l-4 2.31l-4-2.31v-4.62zM709.69 448.16l4 2.31v4.62l-4 2.31l-4-2.31v-4.62zM717.69 448.16l4 2.31v4.62l-4 2.31l-4-2.31v-4.62zM741.69 448.16l4 2.31v4.62l-4 2.31l-4-2.31v-4.62zM345.64 455.09l4 2.31v4.62l-4 2.31l-4-2.31v-4.62zM353.65 455.09l4 2.31v4.62l-4 2.31l-4-2.31v-4.62zM361.65 455.09l4 2.31v4.62l-4 2.31l-4-2.31v-4.62zM649.68 455.09l4 2.31v4.62l-4 2.31l-4-2.31v-4.62zM657.68 455.09l4 2.31v4.62l-4 2.31l-4-2.31v-4.62zM665.68 455.09l4 2.31v4.62l-4 2.31l-4-2.31v-4.62zM673.69 455.09l4 2.31v4.62l-4 2.31l-4-2.31v-4.62zM705.69 455.09l4 2.31v4.62l-4 2.31l-4-2.31v-4.62zM721.69 455.09l4 2.31v4.62l-4 2.31l-4-2.31v-4.62zM701.69 462.02l4 2.31v4.62l-4 2.31l-4-2.31v-4.62zM697.69 468.94l4 2.31v4.62l-4 2.31l-4-2.31v-4.62z"/>
<path fill="#D8510D" stroke="#D8510D" d="M661.68 101.70l4 2.31v4.62l-4 2.31l-4-2.31v-4.62zM693.69 101.70l4 2.31v4.62l-4 2.31l-4-2.31v-4.62zM633.68 108.63l4 2.31v4.62l-4 2.31l-4-2.31v-4.62zM657.68 108.63l4 2.31v4.62l-4 2.31l-4-2.31v-4.62zM697.69 108.63l4 2.31v4.62l-4 2.31l-4-2.31v-4.62zM701.69 115.56l4 2.31v4.62l-4 2.31l-4-2.31v-4.62zM717.69 115.56l4 2.31v4.62l-4 2.31l-4-2.31v-4.62zM721.69 122.49l4 2.31v4.62l-4 2.31l-4-2.31v-4.62zM625.68 136.35l4 2.31v4.62l-4 2.31l-4-2.31v-4.62zM673.69 136.35l4 2.31v4.62l-4 2.31l-4-2.31v-4.62zM565.67 143.28l4 2.31v4.62l-4 2.31l-4-2.31v-4.62zM573.67 143.28l4 2.31v4.62l-4 2.31l-4-2.31v-4.62zM685.69 143.28l4 2.31v4.62l-4 2.31l-4-2.31v-4.62zM709.69 143.28l4 2.31v4.62l-4 2.31l-4-2.31v-4.62zM577.67 150.21l4 2.31v4.62l-4 2.31l-4-2.31v-4.62zM601.68 150.21l4 2.31v4.62l-4 2.31l-4-2.31v-4.62zM689.69 150.21l4 2.31v4.62l-4 2.31l-4-2.31v-4.62zM697.69 150.21l4 2.31v4.62l-4 2.31l-4-2.31v-4.62zM705.69 150.21l4 2.31v4.62l-4 2.31l-4-2.31v-4.62zM693.69 157.14l4 2.31v4.62l-4 2.31l-4-2.31v-4.62zM569.67 164.07l4 2.31v4.62l-4 2.31l-4-2.31v-4.62zM593.68 164.07l4 2.31v4.62l-4 2.31l-4-2.31v-4.62zM657.68 164.07l4 2.31v4.62l-4 2.31l-4-2.31v-4.62zM573.67 170.99l4 2.31v4.62l-4 2.31l-4-2.31v-4.62zM581.67 170.99l4 2.31v4.62l-4 2.31l-4-2.31v-4.62zM605.68 170.99l4 2.31v4.62l-4 2.31l-4-2.31v-4.62zM629.68 170.99l4 2.31v4.62l-4 2.31l-4-2.31v-4.62zM637.68 170.99l4 2.31v4.62l-4 2.31l-4-2.31v-4.62zM645.68 170.99l4 2.31v4.62l-4 2.31l-4-2.31v-4.62zM833.71 177.92l4 2.31v4.62l-4 2.31l-4-2.31v-4.62zM701.69 184.85l4 2.31v4.62l-4 2.31l-4-2.31v-4.62zM569.67 191.78l4 2.31v4.62l-4 2.31l-4-2.31v-4.62zM585.67 191.78l4 2.31v4.62l-4 2.31l-4-2.31v-4.62zM705.69 191.78l4 2.31v4.62l-4 2.31l-4-2.31v-4.62zM737.69 191.78l4 2.31v4.62l-4 2.31l-4-2.31v-4.62zM841.71 191.78l4 2.31v4.62l-4 2.31l-4-2.31v-4.62zM565.67 198.71l4 2.31v4.62l-4 2.31l-4-2.31v-4.62zM605.68 198.71l4 2.31v4.62l-4 2.31l-4-2.31v-4.62zM717.69 198.71l4 2.31v4.62l-4 2.31l-4-2.31v-4.62zM813.70 198.71l4 2.31v4.62l-4 2.31l-4-2.31v-4.62zM861.71 198.71l4 2.31v4.62l-4 2.31l-4-2.31v-4.62zM593.68 205.64l4 2.31v4.62l-4 2.31l-4-2.31v-4.62zM601.68 205.64l4 2.31v4.62l-4 2.31l-4-2.31v-4.62zM729.69 205.64l4 2.31v4.62l-4 2.31l-4-2.31v-4.62zM809.70 205.64l4 2.31v4.62l-4 2.31l-4-2.31v-4.62zM549.67 212.57l4 2.31v4.62l-4 2.31l-4-2.31v-4.62zM565.67 212.57l4 2.31v4.62l-4 2.31l-4-2.31v-4.62zM573.67 212.57l4 2.31v4.62l-4 2.31l-4-2.31v-4.62zM581.67 212.57l4 2.31v4.62l-4 2.31l-4-2.31v-4.62zM589.68 212.57l4 2.31v4.62l-4 2.31l-4-2.31v-4.62zM773.70 212.57l4 2.31v4.62l-4 2.31l-4-2.31v-4.62zM781.70 212.57l4 2.31v4.62l-4 2.31l-4-2.31v-4.62zM789.70 212.57l4 2.31v4.62l-4 2.31l-4-2.31v-4.62zM545.67 219.50l4 2.31v4.62l-4 2.31l-4-2.31v-4.62zM769.70 219.50l4 2.31v4.62l-4 2.31l-4-2.31v-4.62zM873.71 219.50l4 2.31v4.62l-4 2.31l-4-2.31v-4.62zM541.67 226.43l4 2.31v4.62l-4 2.31l-4-2.31v-4.62zM565.67 226.43l4 2.31v4.62l-4 2.31l-4-2.31v-4.62zM597.68 226.43l4 2.31v4.62l-4 2.31l-4-2.31v-4.62zM861.71 226.43l4 2.31v4.62l-4 2.31l-4-2.31v-4.62zM561.67 233.36l4 2.31v4.62l-4 2.31l-4-2.31v-4.62zM577.67 233.36l4 2.31v4.62l-4 2.31l-4-2.31v-4.62zM585.67 233.36l4 2.31v4.62l-4 2.31l-4-2.31v-4.62zM801.70 233.36l4 2.31v4.62l-4 2.31l-4-2.31v-4.62zM849.71 233.36l4 2.31v4.62l-4 2.31l-4-2.31v-4.62zM857.71 233.36l4 2.31v4.62l-4 2.31l-4-2.31v-4.62zM541.67 240.29l4 2.31v4.62l-4 2.31l-4-2.31v-4.62zM565.67 240.29l4 2.31v4.62l-4 2.31l-4-2.31v-4.62zM765.70 240.29l4 2.31v4.62l-4 2.31l-4-2.31v-4.62zM789.70 240.29l4 2.31v4.62l-4 2.31l-4-2.31v-4.62zM797.70 240.29l4 2.31v4.62l-4 2.31l-4-2.31v-4.62zM805.70 240.29l4 2.31v4.62l-4 2.31l-4-2.31v-4.62zM893.71 240.29l4 2.31v4.62l-4 2.31l-4-2.31v-4.62zM497.66 247.21l4 2.31v4.62l-4 2.31l-4-2.31v-4.62zM513.67 247.21l4 2.31v4.62l-4 2.31l-4-2.31v-4.62zM745.69 247.21l4 2.31v4.62l-4 2.31l-4-2.31v-4.62zM769.70 247.21l4 2.31v4.62l-4 2.31l-4-2.31v-4.62zM777.70 247.21l4 2.31v4.62l-4 2.31l-4-2.31v-4.62zM841.71 247.21l4 2.31v4.62l-4 2.31l-4-2.31v-4.62zM913.72 247.21l4 2.31v4.62l-4 2.31l-4-2.31v-4.62zM921.72 247.21l4 2.31v4.62l-4 2.31l-4-2.31v-4.62zM517.67 254.14l4 2.31v4.62l-4 2.31l-4-2.31v-4.62zM613.68 254.14l4 2.31v4.62l-4 2.31l-4-2.31v-4.62zM701.69 254.14l4 2.31v4.62l-4 2.31l-4-2.31v-4.62zM709.69 254.14l4 2.31v4.62l-4 2.31l-4-2.31v-4.62zM733.69 254.14l4 2.31v4.62l-4 2.31l-4-2.31v-4.62zM741.69 254.14l4 2.31v4.62l-4 2.31l-4-2.31v-4.62zM765.70 254.14l4 2.31v4.62l-4 2.31l-4-2.31v-4.62zM845.71 254.14l4 2.31v4.62l-4 2.31l-4-2.31v-4.62zM885.71 254.14l4 2.31v4.62l-4 2.31l-4-2.31v-4.62zM933.72 254.14l4 2.31v4.62l-4 2.31l-4-2.31v-4.62zM497.66 261.07l4 2.31v4.62l-4 2.31l-4-2.31v-4.62zM577.67 261.07l4 2.31v4.62l-4 2.31l-4-2.31v-4.62zM593.68 261.07l4 2.31v4.62l-4 2.31l-4-2.31v-4.62zM761.70 261.07l4 2.31v4.62l-4 2.31l-4-2.31v-4.62zM937.72 261.07l4 2.31v4.62l-4 2.31l-4-2.31v-4.62zM501.66 268.00l4 2.31v4.62l-4 2.31l-4-2.31v-4.62zM565.67 268.00l4 2.31v4.62l-4 2.31l-4-2.31v-4.62zM597.68 268.00l4 2.31v4.62l-4 2.31l-4-2.31v-4.62zM613.68 268.00l4 2.31v4.62l-4 2.31l-4-2.31v-4.62zM765.70 268.00l4 2.31v4.62l-4 2.31l-4-2.31v-4.62zM829.71 268.00l4 2.31v4.62l-4 2.31l-4-2.31v-4.62zM877.71 268.00l4 2.31v4.62l-4 2.31l-4-2.31v-4.62zM901.71 268.00l4 2.31v4.62l-4 2.31l-4-2.31v-4.62zM505.66 274.93l4 2.31v4.62l-4 2.31l-4-2.31v-4.62zM513.67 274.93l4 2.31v4.62l-4 2.31l-4-2.31v-4.62zM545.67 274.93l4 2.31v4.62l-4 2.31l-4-2.31v-4.62zM577.67 274.93l4 2.31v4.62l-4 2.31l-4-2.31v-4.62zM593.68 274.93l4 2.31v4.62l-4 2.31l-4-2.31v-4.62zM705.69 274.93l4 2.31v4.62l-4 2.31l-4-2.31v-4.62zM793.70 274.93l4 2.31v4.62l-4 2.31l-4-2.31v-4.62zM801.70 274.93l4 2.31v4.62l-4 2.31l-4-2.31v-4.62zM809.70 274.93l4 2.31v4.62l-4 2.31l-4-2.31v-4.62zM881.71 274.93l4 2.31v4.62l-4 2.31l-4-2.31v-4.62zM889.71 274.93l4 2.31v4.62l-4 2.31l-4-2.31v-4.62zM905.71 274.93l4 2.31v4.62l-4 2.31l-4-2.31v-4.62zM921.72 274.93l4 2.31v4.62l-4 2.31l-4-2.31v-4.62zM549.67 281.86l4 2.31v4.62l-4 2.31l-4-2.31v-4.62zM573.67 281.86l4 2.31v4.62l-4 2.31l-4-2.31v-4.62zM757.70 281.86l4 2.31v4.62l-4 2.31l-4-2.31v-4.62zM829.71 281.86l4 2.31v4.62l-4 2.31l-4-2.31v-4.62zM909.72 281.86l4 2.31v4.62l-4 2.31l-4-2.31v-4.62zM941.72 281.86l4 2.31v4.62l-4 2.31l-4-2.31v-4.62zM497.66 288.79l4 2.31v4.62l-4 2.31l-4-2.31v-4.62zM505.66 288.79l4 2.31v4.62l-4 2.31l-4-2.31v-4.62zM553.67 288.79l4 2.31v4.62l-4 2.31l-4-2.31v-4.62zM601.68 288.79l4 2.31v4.62l-4 2.31l-4-2.31v-4.62zM697.69 288.79l4 2.31v4.62l-4 2.31l-4-2.31v-4.62zM745.69 288.79l4 2.31v4.62l-4 2.31l-4-2.31v-4.62zM769.70 288.79l4 2.31v4.62l-4 2.31l-4-2.31v-4.62zM777.70 288.79l4 2.31v4.62l-4 2.31l-4-2.31v-4.62zM785.70 288.79l4 2.31v4.62l-4 2.31l-4-2.31v-4.62zM825.70 288.79l4 2.31v4.62l-4 2.31l-4-2.31v-4.62zM977.72 288.79l4 2.31v4.62l-4 2.31l-4-2.31v-4.62zM469.66 295.72l4 2.31v4.62l-4 2.31l-4-2.31v-4.62zM477.66 295.72l4 2.31v4.62l-4 2.31l-4-2.31v-4.62zM493.66 295.72l4 2.31v4.62l-4 2.31l-4-2.31v-4.62zM525.67 295.72l4 2.31v4.62l-4 2.31l-4-2.31v-4.62zM533.67 295.72l4 2.31v4.62l-4 2.31l-4-2.31v-4.62zM589.68 295.72l4 2.31v4.62l-4 2.31l-4-2.31v-4.62zM597.68 295.72l4 2.31v4.62l-4 2.31l-4-2.31v-4.62zM821.70 295.72l4 2.31v4.62l-4 2.31l-4-2.31v-4.62zM997.73 295.72l4 2.31v4.62l-4 2.31l-4-2.31v-4.62zM457.66 302.65l4 2.31v4.62l-4 2.31l-4-2.31v-4.62zM489.66 302.65l4 2.31v4.62l-4 2.31l-4-2.31v-4.62zM529.67 302.65l4 2.31v4.62l-4 2.31l-4-2.31v-4.62zM537.67 302.65l4 2.31v4.62l-4 2.31l-4-2.31v-4.62zM769.70 302.65l4 2.31v4.62l-4 2.31l-4-2.31v-4.62zM873.71 302.65l4 2.31v4.62l-4 2.31l-4-2.31v-4.62zM993.73 302.65l4 2.31v4.62l-4 2.31l-4-2.31v-4.62zM613.68 309.58l4 2.31v4.62l-4 2.31l-4-2.31v-4.62zM709.69 309.58l4 2.31v4.62l-4 2.31l-4-2.31v-4.62zM717.69 309.58l4 2.31v4.62l-4 2.31l-4-2.31v-4.62zM749.70 309.58l4 2.31v4.62l-4 2.31l-4-2.31v-4.62zM773.70 309.58l4 2.31v4.62l-4 2.31l-4-2.31v-4.62zM789.70 309.58l4 2.31v4.62l-4 2.31l-4-2.31v-4.62zM813.70 309.58l4 2.31v4.62l-4 2.31l-4-2.31v-4.62zM877.71 309.58l4 2.31v4.62l-4 2.31l-4-2.31v-4.62zM901.71 309.58l4 2.31v4.62l-4 2.31l-4-2.31v-4.62zM933.72 309.58l4 2.31v4.62l-4 2.31l-4-2.31v-4.62zM441.66 316.51l4 2.31v4.62l-4 2.31l-4-2.31v-4.62zM505.66 316.51l4 2.31v4.62l-4 2.31l-4-2.31v-4.62zM513.67 316.51l4 2.31v4.62l-4 2.31l-4-2.31v-4.62zM577.67 316.51l4 2.31v4.62l-4 2.31l-4-2.31v-4.62zM729.69 316.51l4 2.31v4.62l-4 2.31l-4-2.31v-4.62zM761.70 316.51l4 2.31v4.62l-4 2.31l-4-2.31v-4.62zM833.71 316.51l4 2.31v4.62l-4 2.31l-4-2.31v-4.62zM841.71 316.51l4 2.31v4.62l-4 2.31l-4-2.31v-4.62zM865.71 316.51l4 2.31v4.62l-4 2.31l-4-2.31v-4.62zM889.71 316.51l4 2.31v4.62l-4 2.31l-4-2.31v-4.62zM493.66 323.43l4 2.31v4.62l-4 2.31l-4-2.31v-4.62zM501.66 323.43l4 2.31v4.62l-4 2.31l-4-2.31v-4.62zM517.67 323.43l4 2.31v4.62l-4 2.31l-4-2.31v-4.62zM525.67 323.43l4 2.31v4.62l-4 2.31l-4-2.31v-4.62zM581.67 323.43l4 2.31v4.62l-4 2.31l-4-2.31v-4.62zM597.68 323.43l4 2.31v4.62l-4 2.31l-4-2.31v-4.62zM725.69 323.43l4 2.31v4.62l-4 2.31l-4-2.31v-4.62zM773.70 323.43l4 2.31v4.62l-4 2.31l-4-2.31v-4.62zM789.70 323.43l4 2.31v4.62l-4 2.31l-4-2.31v-4.62zM885.71 323.43l4 2.31v4.62l-4 2.31l-4-2.31v-4.62zM893.71 323.43l4 2.31v4.62l-4 2.31l-4-2.31v-4.62zM901.71 323.43l4 2.31v4.62l-4 2.31l-4-2.31v-4.62zM909.72 323.43l4 2.31v4.62l-4 2.31l-4-2.31v-4.62zM917.72 323.43l4 2.31v4.62l-4 2.31l-4-2.31v-4.62zM933.72 323.43l4 2.31v4.62l-4 2.31l-4-2.31v-4.62zM949.72 323.43l4 2.31v4.62l-4 2.31l-4-2.31v-4.62zM433.66 330.36l4 2.31v4.62l-4 2.31l-4-2.31v-4.62zM489.66 330.36l4 2.31v4.62l-4 2.31l-4-2.31v-4.62zM497.66 330.36l4 2.31v4.62l-4 2.31l-4-2.31v-4.62zM521.67 330.36l4 2.31v4.62l-4 2.31l-4-2.31v-4.62zM529.67 330.36l4 2.31v4.62l-4 2.31l-4-2.31v-4.62zM601.68 330.36l4 2.31v4.62l-4 2.31l-4-2.31v-4.62zM649.68 330.36l4 2.31v4.62l-4 2.31l-4-2.31v-4.62zM657.68 330.36l4 2.31v4.62l-4 2.31l-4-2.31v-4.62zM817.70 330.36l4 2.31v4.62l-4 2.31l-4-2.31v-4.62zM825.70 330.36l4 2.31v4.62l-4 2.31l-4-2.31v-4.62zM921.72 330.36l4 2.31v4.62l-4 2.31l-4-2.31v-4.62zM929.72 330.36l4 2.31v4.62l-4 2.31l-4-2.31v-4.62zM953.72 330.36l4 2.31v4.62l-4 2.31l-4-2.31v-4.62zM421.65 337.29l4 2.31v4.62l-4 2.31l-4-2.31v-4.62zM485.66 337.29l4 2.31v4.62l-4 2.31l-4-2.31v-4.62zM501.66 337.29l4 2.31v4.62l-4 2.31l-4-2.31v-4.62zM525.67 337.29l4 2.31v4.62l-4 2.31l-4-2.31v-4.62zM533.67 337.29l4 2.31v4.62l-4 2.31l-4-2.31v-4.62zM565.67 337.29l4 2.31v4.62l-4 2.31l-4-2.31v-4.62zM573.67 337.29l4 2.31v4.62l-4 2.31l-4-2.31v-4.62zM613.68 337.29l4 2.31v4.62l-4 2.31l-4-2.31v-4.62zM621.68 337.29l4 2.31v4.62l-4 2.31l-4-2.31v-4.62zM629.68 337.29l4 2.31v4.62l-4 2.31l-4-2.31v-4.62zM653.68 337.29l4 2.31v4.62l-4 2.31l-4-2.31v-4.62zM781.70 337.29l4 2.31v4.62l-4 2.31l-4-2.31v-4.62zM821.70 337.29l4 2.31v4.62l-4 2.31l-4-2.31v-4.62zM845.71 337.29l4 2.31v4.62l-4 2.31l-4-2.31v-4.62zM925.72 337.29l4 2.31v4.62l-4 2.31l-4-2.31v-4.62zM933.72 337.29l4 2.31v4.62l-4 2.31l-4-2.31v-4.62zM949.72 337.29l4 2.31v4.62l-4 2.31l-4-2.31v-4.62zM1021.73 337.29l4 2.31v4.62l-4 2.31l-4-2.31v-4.62zM441.66 344.22l4 2.31v4.62l-4 2.31l-4-2.31v-4.62zM465.66 344.22l4 2.31v4.62l-4 2.31l-4-2.31v-4.62zM473.66 344.22l4 2.31v4.62l-4 2.31l-4-2.31v-4.62zM489.66 344.22l4 2.31v4.62l-4 2.31l-4-2.31v-4.62zM505.66 344.22l4 2.31v4.62l-4 2.31l-4-2.31v-4.62zM529.67 344.22l4 2.31v4.62l-4 2.31l-4-2.31v-4.62zM537.67 344.22l4 2.31v4.62l-4 2.31l-4-2.31v-4.62zM545.67 344.22l4 2.31v4.62l-4 2.31l-4-2.31v-4.62zM553.67 344.22l4 2.31v4.62l-4 2.31l-4-2.31v-4.62zM585.67 344.22l4 2.31v4.62l-4 2.31l-4-2.31v-4.62zM601.68 344.22l4 2.31v4.62l-4 2.31l-4-2.31v-4.62zM649.68 344.22l4 2.31v4.62l-4 2.31l-4-2.31v-4.62zM657.68 344.22l4 2.31v4.62l-4 2.31l-4-2.31v-4.62zM681.69 344.22l4 2.31v4.62l-4 2.31l-4-2.31v-4.62zM769.70 344.22l4 2.31v4.62l-4 2.31l-4-2.31v-4.62zM777.70 344.22l4 2.31v4.62l-4 2.31l-4-2.31v-4.62zM785.70 344.22l4 2.31v4.62l-4 2.31l-4-2.31v-4.62zM793.70 344.22l4 2.31v4.62l-4 2.31l-4-2.31v-4.62zM817.70 344.22l4 2.31v4.62l-4 2.31l-4-2.31v-4.62zM825.70 344.22l4 2.31v4.62l-4 2.31l-4-2.31v-4.62zM841.71 344.22l4 2.31v4.62l-4 2.31l-4-2.31v-4.62zM857.71 344.22l4 2.31v4.62l-4 2.31l-4-2.31v-4.62zM921.72 344.22l4 2.31v4.62l-4 2.31l-4-2.31v-4.62zM929.72 344.22l4 2.31v4.62l-4 2.31l-4-2.31v-4.62zM1025.73 344.22l4 2.31v4.62l-4 2.31l-4-2.31v-4.62zM509.67 351.15l4 2.31v4.62l-4 2.31l-4-2.31v-4.62zM557.67 351.15l4 2.31v4.62l-4 2.31l-4-2.31v-4.62zM581.67 351.15l4 2.31v4.62l-4 2.31l-4-2.31v-4.62zM621.68 351.15l4 2.31v4.62l-4 2.31l-4-2.31v-4.62zM629.68 351.15l4 2.31v4.62l-4 2.31l-4-2.31v-4.62zM685.69 351.15l4 2.31v4.62l-4 2.31l-4-2.31v-4.62zM693.69 351.15l4 2.31v4.62l-4 2.31l-4-2.31v-4.62zM717.69 351.15l4 2.31v4.62l-4 2.31l-4-2.31v-4.62zM797.70 351.15l4 2.31v4.62l-4 2.31l-4-2.31v-4.62zM821.70 351.15l4 2.31v4.62l-4 2.31l-4-2.31v-4.62zM917.72 351.15l4 2.31v4.62l-4 2.31l-4-2.31v-4.62zM981.72 351.15l4 2.31v4.62l-4 2.31l-4-2.31v-4.62zM989.73 351.15l4 2.31v4.62l-4 2.31l-4-2.31v-4.62zM1005.73 351.15l4 2.31v4.62l-4 2.31l-4-2.31v-4.62zM1021.73 351.15l4 2.31v4.62l-4 2.31l-4-2.31v-4.62zM329.64 358.08l4 2.31v4.62l-4 2.31l-4-2.31v-4.62zM337.64 358.08l4 2.31v4.62l-4 2.31l-4-2.31v-4.62zM345.64 358.08l4 2.31v4.62l-4 2.31l-4-2.31v-4.62zM433.66 358.08l4 2.31v4.62l-4 2.31l-4-2.31v-4.62zM481.66 358.08l4 2.31v4.62l-4 2.31l-4-2.31v-4.62zM633.68 358.08l4 2.31v4.62l-4 2.31l-4-2.31v-4.62zM665.68 358.08l4 2.31v4.62l-4 2.31l-4-2.31v-4.62zM689.69 358.08l4 2.31v4.62l-4 2.31l-4-2.31v-4.62zM785.70 358.08l4 2.31v4.62l-4 2.31l-4-2.31v-4.62zM793.70 358.08l4 2.31v4.62l-4 2.31l-4-2.31v-4.62zM857.71 358.08l4 2.31v4.62l-4 2.31l-4-2.31v-4.62zM937.72 358.08l4 2.31v4.62l-4 2.31l-4-2.31v-4.62zM993.73 358.08l4 2.31v4.62l-4 2.31l-4-2.31v-4.62zM357.65 365.01l4 2.31v4.62l-4 2.31l-4-2.31v-4.62zM517.67 365.01l4 2.31v4.62l-4 2.31l-4-2.31v-4.62zM541.67 365.01l4 2.31v4.62l-4 2.31l-4-2.31v-4.62zM549.67 365.01l4 2.31v4.62l-4 2.31l-4-2.31v-4.62zM637.68 365.01l4 2.31v4.62l-4 2.31l-4-2.31v-4.62zM653.68 365.01l4 2.31v4.62l-4 2.31l-4-2.31v-4.62zM693.69 365.01l4 2.31v4.62l-4 2.31l-4-2.31v-4.62zM709.69 365.01l4 2.31v4.62l-4 2.31l-4-2.31v-4.62zM861.71 365.01l4 2.31v4.62l-4 2.31l-4-2.31v-4.62zM885.71 365.01l4 2.31v4.62l-4 2.31l-4-2.31v-4.62zM925.72 365.01l4 2.31v4.62l-4 2.31l-4-2.31v-4.62zM973.72 365.01l4 2.31v4.62l-4 2.31l-4-2.31v-4.62zM989.73 365.01l4 2.31v4.62l-4 2.31l-4-2.31v-4.62zM361.65 371.94l4 2.31v4.62l-4 2.31l-4-2.31v-4.62zM505.66 371.94l4 2.31v4.62l-4 2.31l-4-2.31v-4.62zM521.67 371.94l4 2.31v4.62l-4 2.31l-4-2.31v-4.62zM529.67 371.94l4 2.31v4.62l-4 2.31l-4-2.31v-4.62zM537.67 371.94l4 2.31v4.62l-4 2.31l-4-2.31v-4.62zM569.67 371.94l4 2.31v4.62l-4 2.31l-4-2.31v-4.62zM609.68 371.94l4 2.31v4.62l-4 2.31l-4-2.31v-4.62zM657.68 371.94l4 2.31v4.62l-4 2.31l-4-2.31v-4.62zM665.68 371.94l4 2.31v4.62l-4 2.31l-4-2.31v-4.62zM673.69 371.94l4 2.31v4.62l-4 2.31l-4-2.31v-4.62zM689.69 371.94l4 2.31v4.62l-4 2.31l-4-2.31v-4.62zM697.69 371.94l4 2.31v4.62l-4 2.31l-4-2.31v-4.62zM713.69 371.94l4 2.31v4.62l-4 2.31l-4-2.31v-4.62zM721.69 371.94l4 2.31v4.62l-4 2.31l-4-2.31v-4.62zM729.69 371.94l4 2.31v4.62l-4 2.31l-4-2.31v-4.62zM905.71 371.94l4 2.31v4.62l-4 2.31l-4-2.31v-4.62zM977.72 371.94l4 2.31v4.62l-4 2.31l-4-2.31v-4.62zM985.72 371.94l4 2.31v4.62l-4 2.31l-4-2.31v-4.62zM333.64 378.87l4 2.31v4.62l-4 2.31l-4-2.31v-4.62zM501.66 378.87l4 2.31v4.62l-4 2.31l-4-2.31v-4.62zM573.67 378.87l4 2.31v4.62l-4 2.31l-4-2.31v-4.62zM605.68 378.87l4 2.31v4.62l-4 2.31l-4-2.31v-4.62zM653.68 378.87l4 2.31v4.62l-4 2.31l-4-2.31v-4.62zM677.69 378.87l4 2.31v4.62l-4 2.31l-4-2.31v-4.62zM717.69 378.87l4 2.31v4.62l-4 2.31l-4-2.31v-4.62zM725.69 378.87l4 2.31v4.62l-4 2.31l-4-2.31v-4.62zM741.69 378.87l4 2.31v4.62l-4 2.31l-4-2.31v-4.62zM813.70 378.87l4 2.31v4.62l-4 2.31l-4-2.31v-4.62zM885.71 378.87l4 2.31v4.62l-4 2.31l-4-2.31v-4.62zM901.71 378.87l4 2.31v4.62l-4 2.31l-4-2.31v-4.62zM329.64 385.80l4 2.31v4.62l-4 2.31l-4-2.31v-4.62zM353.65 385.80l4 2.31v4.62l-4 2.31l-4-2.31v-4.62zM609.68 385.80l4 2.31v4.62l-4 2.31l-4-2.31v-4.62zM657.68 385.80l4 2.31v4.62l-4 2.31l-4-2.31v-4.62zM681.69 385.80l4 2.31v4.62l-4 2.31l-4-2.31v-4.62zM809.70 385.80l4 2.31v4.62l-4 2.31l-4-2.31v-4.62zM881.71 385.80l4 2.31v4.62l-4 2.31l-4-2.31v-4.62zM897.71 385.80l4 2.31v4.62l-4 2.31l-4-2.31v-4.62zM333.64 392.72l4 2.31v4.62l-4 2.31l-4-2.31v-4.62zM605.68 392.72l4 2.31v4.62l-4 2.31l-4-2.31v-4.62zM613.68 392.72l4 2.31v4.62l-4 2.31l-4-2.31v-4.62zM637.68 392.72l4 2.31v4.62l-4 2.31l-4-2.31v-4.62zM661.68 392.72l4 2.31v4.62l-4 2.31l-4-2.31v-4.62zM677.69 392.72l4 2.31v4.62l-4 2.31l-4-2.31v-4.62zM693.69 392.72l4 2.31v4.62l-4 2.31l-4-2.31v-4.62zM701.69 392.72l4 2.31v4.62l-4 2.31l-4-2.31v-4.62zM797.70 392.72l4 2.31v4.62l-4 2.31l-4-2.31v-4.62zM853.71 392.72l4 2.31v4.62l-4 2.31l-4-2.31v-4.62zM861.71 392.72l4 2.31v4.62l-4 2.31l-4-2.31v-4.62zM869.71 392.72l4 2.31v4.62l-4 2.31l-4-2.31v-4.62zM353.65 399.65l4 2.31v4.62l-4 2.31l-4-2.31v-4.62zM577.67 399.65l4 2.31v4.62l-4 2.31l-4-2.31v-4.62zM585.67 399.65l4 2.31v4.62l-4 2.31l-4-2.31v-4.62zM593.68 399.65l4 2.31v4.62l-4 2.31l-4-2.31v-4.62zM601.68 399.65l4 2.31v4.62l-4 2.31l-4-2.31v-4.62zM609.68 399.65l4 2.31v4.62l-4 2.31l-4-2.31v-4.62zM649.68 399.65l4 2.31v4.62l-4 2.31l-4-2.31v-4.62zM657.68 399.65l4 2.31v4.62l-4 2.31l-4-2.31v-4.62zM681.69 399.65l4 2.31v4.62l-4 2.31l-4-2.31v-4.62zM689.69 399.65l4 2.31v4.62l-4 2.31l-4-2.31v-4.62zM785.70 399.65l4 2.31v4.62l-4 2.31l-4-2.31v-4.62zM833.71 399.65l4 2.31v4.62l-4 2.31l-4-2.31v-4.62zM333.64 406.58l4 2.31v4.62l-4 2.31l-4-2.31v-4.62zM349.65 406.58l4 2.31v4.62l-4 2.31l-4-2.31v-4.62zM685.69 406.58l4 2.31v4.62l-4 2.31l-4-2.31v-4.62zM649.68 413.51l4 2.31v4.62l-4 2.31l-4-2.31v-4.62zM745.69 413.51l4 2.31v4.62l-4 2.31l-4-2.31v-4.62zM753.70 413.51l4 2.31v4.62l-4 2.31l-4-2.31v-4.62zM761.70 413.51l4 2.31v4.62l-4 2.31l-4-2.31v-4.62zM645.68 420.44l4 2.31v4.62l-4 2.31l-4-2.31v-4.62zM765.70 420.44l4 2.31v4.62l-4 2.31l-4-2.31v-4.62zM641.68 427.37l4 2.31v4.62l-4 2.31l-4-2.31v-4.62zM761.70 427.37l4 2.31v4.62l-4 2.31l-4-2.31v-4.62zM349.65 434.30l4 2.31v4.62l-4 2.31l-4-2.31v-4.62zM365.65 434.30l4 2.31v4.62l-4 2.31l-4-2.31v-4.62zM637.68 434.30l4 2.31v4.62l-4 2.31l-4-2.31v-4.62zM677.69 434.30l4 2.31v4.62l-4 2.31l-4-2.31v-4.62zM717.69 434.30l4 2.31v4.62l-4 2.31l-4-2.31v-4.62zM345.64 441.23l4 2.31v4.62l-4 2.31l-4-2.31v-4.62zM681.69 441.23l4 2.31v4.62l-4 2.31l-4-2.31v-4.62zM705.69 441.23l4 2.31v4.62l-4 2.31l-4-2.31v-4.62zM713.69 441.23l4 2.31v4.62l-4 2.31l-4-2.31v-4.62zM737.69 441.23l4 2.31v4.62l-4 2.31l-4-2.31v-4.62zM745.69 441.23l4 2.31v4.62l-4 2.31l-4-2.31v-4.62zM365.65 448.16l4 2.31v4.62l-4 2.31l-4-2.31v-4.62zM645.68 448.16l4 2.31v4.62l-4 2.31l-4-2.31v-4.62zM653.68 448.16l4 2.31v4.62l-4 2.31l-4-2.31v-4.62zM661.68 448.16l4 2.31v4.62l-4 2.31l-4-2.31v-4.62zM669.69 448.16l4 2.31v4.62l-4 2.31l-4-2.31v-4.62zM685.69 448.16l4 2.31v4.62l-4 2.31l-4-2.31v-4.62zM693.69 448.16l4 2.31v4.62l-4 2.31l-4-2.31v-4.62zM701.69 448.16l4 2.31v4.62l-4 2.31l-4-2.31v-4.62zM725.69 448.16l4 2.31v4.62l-4 2.31l-4-2.31v-4.62zM733.69 448.16l4 2.31v4.62l-4 2.31l-4-2.31v-4.62zM689.69 468.94l4 2.31v4.62l-4 2.31l-4-2.31v-4.62z"/>
<path fill="#B03405" stroke="#B03405" d="M677.69 101.70l4 2.31v4.62l-4 2.31l-4-2.31v-4.62zM637.68 115.56l4 2.31v4.62l-4 2.31l-4-2.31v-4.62zM653.68 115.56l4 2.31v4.62l-4 2.31l-4-2.31v-4.62zM669.69 115.56l4 2.31v4.62l-4 2.31l-4-2.31v-4.62zM693.69 115.56l4 2.31v4.62l-4 2.31l-4-2.31v-4.62zM625.68 122.49l4 2.31v4.62l-4 2.31l-4-2.31v-4.62zM665.68 122.49l4 2.31v4.62l-4 2.31l-4-2.31v-4.62zM697.69 122.49l4 2.31v4.62l-4 2.31l-4-2.31v-4.62zM629.68 129.42l4 2.31v4.62l-4 2.31l-4-2.31v-4.62zM669.69 129.42l4 2.31v4.62l-4 2.31l-4-2.31v-4.62zM701.69 129.42l4 2.31v4.62l-4 2.31l-4-2.31v-4.62zM725.69 129.42l4 2.31v4.62l-4 2.31l-4-2.31v-4.62zM641.68 136.35l4 2.31v4.62l-4 2.31l-4-2.31v-4.62zM681.69 136.35l4 2.31v4.62l-4 2.31l-4-2.31v-4.62zM697.69 136.35l4 2.31v4.62l-4 2.31l-4-2.31v-4.62zM705.69 136.35l4 2.31v4.62l-4 2.31l-4-2.31v-4.62zM729.69 136.35l4 2.31v4.62l-4 2.31l-4-2.31v-4.62zM621.68 143.28l4 2.31v4.62l-4 2.31l-4-2.31v-4.62zM629.68 143.28l4 2.31v4.62l-4 2.31l-4-2.31v-4.62zM669.69 143.28l4 2.31v4.62l-4 2.31l-4-2.31v-4.62zM701.69 143.28l4 2.31v4.62l-4 2.31l-4-2.31v-4.62zM725.69 143.28l4 2.31v4.62l-4 2.31l-4-2.31v-4.62zM561.67 150.21l4 2.31v4.62l-4 2.31l-4-2.31v-4.62zM609.68 150.21l4 2.31v4.62l-4 2.31l-4-2.31v-4.62zM617.68 150.21l4 2.31v4.62l-4 2.31l-4-2.31v-4.62zM633.68 150.21l4 2.31v4.62l-4 2.31l-4-2.31v-4.62zM649.68 150.21l4 2.31v4.62l-4 2.31l-4-2.31v-4.62zM657.68 150.21l4 2.31v4.62l-4 2.31l-4-2.31v-4.62zM665.68 150.21l4 2.31v4.62l-4 2.31l-4-2.31v-4.62zM729.69 150.21l4 2.31v4.62l-4 2.31l-4-2.31v-4.62zM565.67 157.14l4 2.31v4.62l-4 2.31l-4-2.31v-4.62zM597.68 157.14l4 2.31v4.62l-4 2.31l-4-2.31v-4.62zM653.68 157.14l4 2.31v4.62l-4 2.31l-4-2.31v-4.62zM709.69 157.14l4 2.31v4.62l-4 2.31l-4-2.31v-4.62zM733.69 157.14l4 2.31v4.62l-4 2.31l-4-2.31v-4.62zM585.67 164.07l4 2.31v4.62l-4 2.31l-4-2.31v-4.62zM609.68 164.07l4 2.31v4.62l-4 2.31l-4-2.31v-4.62zM697.69 164.07l4 2.31v4.62l-4 2.31l-4-2.31v-4.62zM737.69 164.07l4 2.31v4.62l-4 2.31l-4-2.31v-4.62zM613.68 170.99l4 2.31v4.62l-4 2.31l-4-2.31v-4.62zM621.68 170.99l4 2.31v4.62l-4 2.31l-4-2.31v-4.62zM701.69 170.99l4 2.31v4.62l-4 2.31l-4-2.31v-4.62zM725.69 170.99l4 2.31v4.62l-4 2.31l-4-2.31v-4.62zM741.69 170.99l4 2.31v4.62l-4 2.31l-4-2.31v-4.62zM737.69 177.92l4 2.31v4.62l-4 2.31l-4-2.31v-4.62zM817.70 177.92l4 2.31v4.62l-4 2.31l-4-2.31v-4.62zM733.69 184.85l4 2.31v4.62l-4 2.31l-4-2.31v-4.62zM813.70 184.85l4 2.31v4.62l-4 2.31l-4-2.31v-4.62zM829.71 184.85l4 2.31v4.62l-4 2.31l-4-2.31v-4.62zM577.67 191.78l4 2.31v4.62l-4 2.31l-4-2.31v-4.62zM601.68 191.78l4 2.31v4.62l-4 2.31l-4-2.31v-4.62zM817.70 191.78l4 2.31v4.62l-4 2.31l-4-2.31v-4.62zM821.70 198.71l4 2.31v4.62l-4 2.31l-4-2.31v-4.62zM837.71 198.71l4 2.31v4.62l-4 2.31l-4-2.31v-4.62zM845.71 198.71l4 2.31v4.62l-4 2.31l-4-2.31v-4.62zM569.67 205.64l4 2.31v4.62l-4 2.31l-4-2.31v-4.62zM865.71 205.64l4 2.31v4.62l-4 2.31l-4-2.31v-4.62zM557.67 212.57l4 2.31v4.62l-4 2.31l-4-2.31v-4.62zM797.70 212.57l4 2.31v4.62l-4 2.31l-4-2.31v-4.62zM805.70 212.57l4 2.31v4.62l-4 2.31l-4-2.31v-4.62zM785.70 219.50l4 2.31v4.62l-4 2.31l-4-2.31v-4.62zM833.71 219.50l4 2.31v4.62l-4 2.31l-4-2.31v-4.62zM557.67 226.43l4 2.31v4.62l-4 2.31l-4-2.31v-4.62zM805.70 226.43l4 2.31v4.62l-4 2.31l-4-2.31v-4.62zM829.71 226.43l4 2.31v4.62l-4 2.31l-4-2.31v-4.62zM545.67 233.36l4 2.31v4.62l-4 2.31l-4-2.31v-4.62zM769.70 233.36l4 2.31v4.62l-4 2.31l-4-2.31v-4.62zM809.70 233.36l4 2.31v4.62l-4 2.31l-4-2.31v-4.62zM825.70 233.36l4 2.31v4.62l-4 2.31l-4-2.31v-4.62zM841.71 233.36l4 2.31v4.62l-4 2.31l-4-2.31v-4.62zM573.67 240.29l4 2.31v4.62l-4 2.31l-4-2.31v-4.62zM605.68 240.29l4 2.31v4.62l-4 2.31l-4-2.31v-4.62zM781.70 240.29l4 2.31v4.62l-4 2.31l-4-2.31v-4.62zM505.66 247.21l4 2.31v4.62l-4 2.31l-4-2.31v-4.62zM537.67 247.21l4 2.31v4.62l-4 2.31l-4-2.31v-4.62zM609.68 247.21l4 2.31v4.62l-4 2.31l-4-2.31v-4.62zM753.70 247.21l4 2.31v4.62l-4 2.31l-4-2.31v-4.62zM785.70 247.21l4 2.31v4.62l-4 2.31l-4-2.31v-4.62zM801.70 247.21l4 2.31v4.62l-4 2.31l-4-2.31v-4.62zM889.71 247.21l4 2.31v4.62l-4 2.31l-4-2.31v-4.62zM905.71 247.21l4 2.31v4.62l-4 2.31l-4-2.31v-4.62zM929.72 247.21l4 2.31v4.62l-4 2.31l-4-2.31v-4.62zM533.67 254.14l4 2.31v4.62l-4 2.31l-4-2.31v-4.62zM597.68 254.14l4 2.31v4.62l-4 2.31l-4-2.31v-4.62zM717.69 254.14l4 2.31v4.62l-4 2.31l-4-2.31v-4.62zM725.69 254.14l4 2.31v4.62l-4 2.31l-4-2.31v-4.62zM757.70 254.14l4 2.31v4.62l-4 2.31l-4-2.31v-4.62zM813.70 254.14l4 2.31v4.62l-4 2.31l-4-2.31v-4.62zM821.70 254.14l4 2.31v4.62l-4 2.31l-4-2.31v-4.62zM829.71 254.14l4 2.31v4.62l-4 2.31l-4-2.31v-4.62zM917.72 254.14l4 2.31v4.62l-4 2.31l-4-2.31v-4.62zM537.67 261.07l4 2.31v4.62l-4 2.31l-4-2.31v-4.62zM545.67 261.07l4 2.31v4.62l-4 2.31l-4-2.31v-4.62zM569.67 261.07l4 2.31v4.62l-4 2.31l-4-2.31v-4.62zM585.67 261.07l4 2.31v4.62l-4 2.31l-4-2.31v-4.62zM697.69 261.07l4 2.31v4.62l-4 2.31l-4-2.31v-4.62zM713.69 261.07l4 2.31v4.62l-4 2.31l-4-2.31v-4.62zM729.69 261.07l4 2.31v4.62l-4 2.31l-4-2.31v-4.62zM769.70 261.07l4 2.31v4.62l-4 2.31l-4-2.31v-4.62zM825.70 261.07l4 2.31v4.62l-4 2.31l-4-2.31v-4.62zM833.71 261.07l4 2.31v4.62l-4 2.31l-4-2.31v-4.62zM841.71 261.07l4 2.31v4.62l-4 2.31l-4-2.31v-4.62zM881.71 261.07l4 2.31v4.62l-4 2.31l-4-2.31v-4.62zM905.71 261.07l4 2.31v4.62l-4 2.31l-4-2.31v-4.62zM929.72 261.07l4 2.31v4.62l-4 2.31l-4-2.31v-4.62zM945.72 261.07l4 2.31v4.62l-4 2.31l-4-2.31v-4.62zM517.67 268.00l4 2.31v4.62l-4 2.31l-4-2.31v-4.62zM549.67 268.00l4 2.31v4.62l-4 2.31l-4-2.31v-4.62zM605.68 268.00l4 2.31v4.62l-4 2.31l-4-2.31v-4.62zM701.69 268.00l4 2.31v4.62l-4 2.31l-4-2.31v-4.62zM709.69 268.00l4 2.31v4.62l-4 2.31l-4-2.31v-4.62zM757.70 268.00l4 2.31v4.62l-4 2.31l-4-2.31v-4.62zM805.70 268.00l4 2.31v4.62l-4 2.31l-4-2.31v-4.62zM813.70 268.00l4 2.31v4.62l-4 2.31l-4-2.31v-4.62zM893.71 268.00l4 2.31v4.62l-4 2.31l-4-2.31v-4.62zM925.72 268.00l4 2.31v4.62l-4 2.31l-4-2.31v-4.62zM949.72 268.00l4 2.31v4.62l-4 2.31l-4-2.31v-4.62zM569.67 274.93l4 2.31v4.62l-4 2.31l-4-2.31v-4.62zM585.67 274.93l4 2.31v4.62l-4 2.31l-4-2.31v-4.62zM753.70 274.93l4 2.31v4.62l-4 2.31l-4-2.31v-4.62zM761.70 274.93l4 2.31v4.62l-4 2.31l-4-2.31v-4.62zM777.70 274.93l4 2.31v4.62l-4 2.31l-4-2.31v-4.62zM785.70 274.93l4 2.31v4.62l-4 2.31l-4-2.31v-4.62zM913.72 274.93l4 2.31v4.62l-4 2.31l-4-2.31v-4.62zM929.72 274.93l4 2.31v4.62l-4 2.31l-4-2.31v-4.62zM937.72 274.93l4 2.31v4.62l-4 2.31l-4-2.31v-4.62zM945.72 274.93l4 2.31v4.62l-4 2.31l-4-2.31v-4.62zM557.67 281.86l4 2.31v4.62l-4 2.31l-4-2.31v-4.62zM581.67 281.86l4 2.31v4.62l-4 2.31l-4-2.31v-4.62zM597.68 281.86l4 2.31v4.62l-4 2.31l-4-2.31v-4.62zM725.69 281.86l4 2.31v4.62l-4 2.31l-4-2.31v-4.62zM749.70 281.86l4 2.31v4.62l-4 2.31l-4-2.31v-4.62zM773.70 281.86l4 2.31v4.62l-4 2.31l-4-2.31v-4.62zM797.70 281.86l4 2.31v4.62l-4 2.31l-4-2.31v-4.62zM805.70 281.86l4 2.31v4.62l-4 2.31l-4-2.31v-4.62zM917.72 281.86l4 2.31v4.62l-4 2.31l-4-2.31v-4.62zM537.67 288.79l4 2.31v4.62l-4 2.31l-4-2.31v-4.62zM545.67 288.79l4 2.31v4.62l-4 2.31l-4-2.31v-4.62zM569.67 288.79l4 2.31v4.62l-4 2.31l-4-2.31v-4.62zM585.67 288.79l4 2.31v4.62l-4 2.31l-4-2.31v-4.62zM705.69 288.79l4 2.31v4.62l-4 2.31l-4-2.31v-4.62zM713.69 288.79l4 2.31v4.62l-4 2.31l-4-2.31v-4.62zM721.69 288.79l4 2.31v4.62l-4 2.31l-4-2.31v-4.62zM793.70 288.79l4 2.31v4.62l-4 2.31l-4-2.31v-4.62zM817.70 288.79l4 2.31v4.62l-4 2.31l-4-2.31v-4.62zM881.71 288.79l4 2.31v4.62l-4 2.31l-4-2.31v-4.62zM897.71 288.79l4 2.31v4.62l-4 2.31l-4-2.31v-4.62zM905.71 288.79l4 2.31v4.62l-4 2.31l-4-2.31v-4.62zM985.72 288.79l4 2.31v4.62l-4 2.31l-4-2.31v-4.62zM993.73 288.79l4 2.31v4.62l-4 2.31l-4-2.31v-4.62zM517.67 295.72l4 2.31v4.62l-4 2.31l-4-2.31v-4.62zM557.67 295.72l4 2.31v4.62l-4 2.31l-4-2.31v-4.62zM565.67 295.72l4 2.31v4.62l-4 2.31l-4-2.31v-4.62zM725.69 295.72l4 2.31v4.62l-4 2.31l-4-2.31v-4.62zM741.69 295.72l4 2.31v4.62l-4 2.31l-4-2.31v-4.62zM877.71 295.72l4 2.31v4.62l-4 2.31l-4-2.31v-4.62zM933.72 295.72l4 2.31v4.62l-4 2.31l-4-2.31v-4.62zM973.72 295.72l4 2.31v4.62l-4 2.31l-4-2.31v-4.62zM433.66 302.65l4 2.31v4.62l-4 2.31l-4-2.31v-4.62zM441.66 302.65l4 2.31v4.62l-4 2.31l-4-2.31v-4.62zM465.66 302.65l4 2.31v4.62l-4 2.31l-4-2.31v-4.62zM569.67 302.65l4 2.31v4.62l-4 2.31l-4-2.31v-4.62zM577.67 302.65l4 2.31v4.62l-4 2.31l-4-2.31v-4.62zM705.69 302.65l4 2.31v4.62l-4 2.31l-4-2.31v-4.62zM721.69 302.65l4 2.31v4.62l-4 2.31l-4-2.31v-4.62zM729.69 302.65l4 2.31v4.62l-4 2.31l-4-2.31v-4.62zM801.70 302.65l4 2.31v4.62l-4 2.31l-4-2.31v-4.62zM809.70 302.65l4 2.31v4.62l-4 2.31l-4-2.31v-4.62zM817.70 302.65l4 2.31v4.62l-4 2.31l-4-2.31v-4.62zM977.72 302.65l4 2.31v4.62l-4 2.31l-4-2.31v-4.62zM985.72 302.65l4 2.31v4.62l-4 2.31l-4-2.31v-4.62zM429.66 309.58l4 2.31v4.62l-4 2.31l-4-2.31v-4.62zM453.66 309.58l4 2.31v4.62l-4 2.31l-4-2.31v-4.62zM461.66 309.58l4 2.31v4.62l-4 2.31l-4-2.31v-4.62zM485.66 309.58l4 2.31v4.62l-4 2.31l-4-2.31v-4.62zM533.67 309.58l4 2.31v4.62l-4 2.31l-4-2.31v-4.62zM541.67 309.58l4 2.31v4.62l-4 2.31l-4-2.31v-4.62zM581.67 309.58l4 2.31v4.62l-4 2.31l-4-2.31v-4.62zM605.68 309.58l4 2.31v4.62l-4 2.31l-4-2.31v-4.62zM733.69 309.58l4 2.31v4.62l-4 2.31l-4-2.31v-4.62zM781.70 309.58l4 2.31v4.62l-4 2.31l-4-2.31v-4.62zM805.70 309.58l4 2.31v4.62l-4 2.31l-4-2.31v-4.62zM885.71 309.58l4 2.31v4.62l-4 2.31l-4-2.31v-4.62zM433.66 316.51l4 2.31v4.62l-4 2.31l-4-2.31v-4.62zM449.66 316.51l4 2.31v4.62l-4 2.31l-4-2.31v-4.62zM473.66 316.51l4 2.31v4.62l-4 2.31l-4-2.31v-4.62zM489.66 316.51l4 2.31v4.62l-4 2.31l-4-2.31v-4.62zM497.66 316.51l4 2.31v4.62l-4 2.31l-4-2.31v-4.62zM521.67 316.51l4 2.31v4.62l-4 2.31l-4-2.31v-4.62zM553.67 316.51l4 2.31v4.62l-4 2.31l-4-2.31v-4.62zM561.67 316.51l4 2.31v4.62l-4 2.31l-4-2.31v-4.62zM569.67 316.51l4 2.31v4.62l-4 2.31l-4-2.31v-4.62zM617.68 316.51l4 2.31v4.62l-4 2.31l-4-2.31v-4.62zM625.68 316.51l4 2.31v4.62l-4 2.31l-4-2.31v-4.62zM633.68 316.51l4 2.31v4.62l-4 2.31l-4-2.31v-4.62zM641.68 316.51l4 2.31v4.62l-4 2.31l-4-2.31v-4.62zM737.69 316.51l4 2.31v4.62l-4 2.31l-4-2.31v-4.62zM793.70 316.51l4 2.31v4.62l-4 2.31l-4-2.31v-4.62zM809.70 316.51l4 2.31v4.62l-4 2.31l-4-2.31v-4.62zM849.71 316.51l4 2.31v4.62l-4 2.31l-4-2.31v-4.62zM873.71 316.51l4 2.31v4.62l-4 2.31l-4-2.31v-4.62zM905.71 316.51l4 2.31v4.62l-4 2.31l-4-2.31v-4.62zM453.66 323.43l4 2.31v4.62l-4 2.31l-4-2.31v-4.62zM509.67 323.43l4 2.31v4.62l-4 2.31l-4-2.31v-4.62zM533.67 323.43l4 2.31v4.62l-4 2.31l-4-2.31v-4.62zM549.67 323.43l4 2.31v4.62l-4 2.31l-4-2.31v-4.62zM557.67 323.43l4 2.31v4.62l-4 2.31l-4-2.31v-4.62zM645.68 323.43l4 2.31v4.62l-4 2.31l-4-2.31v-4.62zM757.70 323.43l4 2.31v4.62l-4 2.31l-4-2.31v-4.62zM765.70 323.43l4 2.31v4.62l-4 2.31l-4-2.31v-4.62zM797.70 323.43l4 2.31v4.62l-4 2.31l-4-2.31v-4.62zM813.70 323.43l4 2.31v4.62l-4 2.31l-4-2.31v-4.62zM829.71 323.43l4 2.31v4.62l-4 2.31l-4-2.31v-4.62zM853.71 323.43l4 2.31v4.62l-4 2.31l-4-2.31v-4.62zM861.71 323.43l4 2.31v4.62l-4 2.31l-4-2.31v-4.62zM877.71 323.43l4 2.31v4.62l-4 2.31l-4-2.31v-4.62zM925.72 323.43l4 2.31v4.62l-4 2.31l-4-2.31v-4.62zM941.72 323.43l4 2.31v4.62l-4 2.31l-4-2.31v-4.62zM457.66 330.36l4 2.31v4.62l-4 2.31l-4-2.31v-4.62zM577.67 330.36l4 2.31v4.62l-4 2.31l-4-2.31v-4.62zM617.68 330.36l4 2.31v4.62l-4 2.31l-4-2.31v-4.62zM665.68 330.36l4 2.31v4.62l-4 2.31l-4-2.31v-4.62zM729.69 330.36l4 2.31v4.62l-4 2.31l-4-2.31v-4.62zM777.70 330.36l4 2.31v4.62l-4 2.31l-4-2.31v-4.62zM785.70 330.36l4 2.31v4.62l-4 2.31l-4-2.31v-4.62zM857.71 330.36l4 2.31v4.62l-4 2.31l-4-2.31v-4.62zM889.71 330.36l4 2.31v4.62l-4 2.31l-4-2.31v-4.62zM905.71 330.36l4 2.31v4.62l-4 2.31l-4-2.31v-4.62zM437.66 337.29l4 2.31v4.62l-4 2.31l-4-2.31v-4.62zM477.66 337.29l4 2.31v4.62l-4 2.31l-4-2.31v-4.62zM557.67 337.29l4 2.31v4.62l-4 2.31l-4-2.31v-4.62zM637.68 337.29l4 2.31v4.62l-4 2.31l-4-2.31v-4.62zM669.69 337.29l4 2.31v4.62l-4 2.31l-4-2.31v-4.62zM725.69 337.29l4 2.31v4.62l-4 2.31l-4-2.31v-4.62zM797.70 337.29l4 2.31v4.62l-4 2.31l-4-2.31v-4.62zM813.70 337.29l4 2.31v4.62l-4 2.31l-4-2.31v-4.62zM861.71 337.29l4 2.31v4.62l-4 2.31l-4-2.31v-4.62zM941.72 337.29l4 2.31v4.62l-4 2.31l-4-2.31v-4.62zM1013.73 337.29l4 2.31v4.62l-4 2.31l-4-2.31v-4.62zM425.65 344.22l4 2.31v4.62l-4 2.31l-4-2.31v-4.62zM593.68 344.22l4 2.31v4.62l-4 2.31l-4-2.31v-4.62zM641.68 344.22l4 2.31v4.62l-4 2.31l-4-2.31v-4.62zM665.68 344.22l4 2.31v4.62l-4 2.31l-4-2.31v-4.62zM673.69 344.22l4 2.31v4.62l-4 2.31l-4-2.31v-4.62zM721.69 344.22l4 2.31v4.62l-4 2.31l-4-2.31v-4.62zM849.71 344.22l4 2.31v4.62l-4 2.31l-4-2.31v-4.62zM865.71 344.22l4 2.31v4.62l-4 2.31l-4-2.31v-4.62zM897.71 344.22l4 2.31v4.62l-4 2.31l-4-2.31v-4.62zM905.71 344.22l4 2.31v4.62l-4 2.31l-4-2.31v-4.62zM913.72 344.22l4 2.31v4.62l-4 2.31l-4-2.31v-4.62zM533.67 351.15l4 2.31v4.62l-4 2.31l-4-2.31v-4.62zM605.68 351.15l4 2.31v4.62l-4 2.31l-4-2.31v-4.62zM661.68 351.15l4 2.31v4.62l-4 2.31l-4-2.31v-4.62zM701.69 351.15l4 2.31v4.62l-4 2.31l-4-2.31v-4.62zM765.70 351.15l4 2.31v4.62l-4 2.31l-4-2.31v-4.62zM781.70 351.15l4 2.31v4.62l-4 2.31l-4-2.31v-4.62zM813.70 351.15l4 2.31v4.62l-4 2.31l-4-2.31v-4.62zM829.71 351.15l4 2.31v4.62l-4 2.31l-4-2.31v-4.62zM861.71 351.15l4 2.31v4.62l-4 2.31l-4-2.31v-4.62zM909.72 351.15l4 2.31v4.62l-4 2.31l-4-2.31v-4.62zM933.72 351.15l4 2.31v4.62l-4 2.31l-4-2.31v-4.62zM1013.73 351.15l4 2.31v4.62l-4 2.31l-4-2.31v-4.62zM513.67 358.08l4 2.31v4.62l-4 2.31l-4-2.31v-4.62zM585.67 358.08l4 2.31v4.62l-4 2.31l-4-2.31v-4.62zM673.69 358.08l4 2.31v4.62l-4 2.31l-4-2.31v-4.62zM681.69 358.08l4 2.31v4.62l-4 2.31l-4-2.31v-4.62zM705.69 358.08l4 2.31v4.62l-4 2.31l-4-2.31v-4.62zM713.69 358.08l4 2.31v4.62l-4 2.31l-4-2.31v-4.62zM737.69 358.08l4 2.31v4.62l-4 2.31l-4-2.31v-4.62zM745.69 358.08l4 2.31v4.62l-4 2.31l-4-2.31v-4.62zM849.71 358.08l4 2.31v4.62l-4 2.31l-4-2.31v-4.62zM865.71 358.08l4 2.31v4.62l-4 2.31l-4-2.31v-4.62zM881.71 358.08l4 2.31v4.62l-4 2.31l-4-2.31v-4.62zM897.71 358.08l4 2.31v4.62l-4 2.31l-4-2.31v-4.62zM913.72 358.08l4 2.31v4.62l-4 2.31l-4-2.31v-4.62zM921.72 358.08l4 2.31v4.62l-4 2.31l-4-2.31v-4.62zM333.64 365.01l4 2.31v4.62l-4 2.31l-4-2.31v-4.62zM525.67 365.01l4 2.31v4.62l-4 2.31l-4-2.31v-4.62zM573.67 365.01l4 2.31v4.62l-4 2.31l-4-2.31v-4.62zM605.68 365.01l4 2.31v4.62l-4 2.31l-4-2.31v-4.62zM645.68 365.01l4 2.31v4.62l-4 2.31l-4-2.31v-4.62zM701.69 365.01l4 2.31v4.62l-4 2.31l-4-2.31v-4.62zM749.70 365.01l4 2.31v4.62l-4 2.31l-4-2.31v-4.62zM757.70 365.01l4 2.31v4.62l-4 2.31l-4-2.31v-4.62zM765.70 365.01l4 2.31v4.62l-4 2.31l-4-2.31v-4.62zM845.71 365.01l4 2.31v4.62l-4 2.31l-4-2.31v-4.62zM853.71 365.01l4 2.31v4.62l-4 2.31l-4-2.31v-4.62zM893.71 365.01l4 2.31v4.62l-4 2.31l-4-2.31v-4.62zM901.71 365.01l4 2.31v4.62l-4 2.31l-4-2.31v-4.62zM909.72 365.01l4 2.31v4.62l-4 2.31l-4-2.31v-4.62zM617.68 371.94l4 2.31v4.62l-4 2.31l-4-2.31v-4.62zM705.69 371.94l4 2.31v4.62l-4 2.31l-4-2.31v-4.62zM737.69 371.94l4 2.31v4.62l-4 2.31l-4-2.31v-4.62zM745.69 371.94l4 2.31v4.62l-4 2.31l-4-2.31v-4.62zM817.70 371.94l4 2.31v4.62l-4 2.31l-4-2.31v-4.62zM841.71 371.94l4 2.31v4.62l-4 2.31l-4-2.31v-4.62zM857.71 371.94l4 2.31v4.62l-4 2.31l-4-2.31v-4.62zM865.71 371.94l4 2.31v4.62l-4 2.31l-4-2.31v-4.62zM881.71 371.94l4 2.31v4.62l-4 2.31l-4-2.31v-4.62zM889.71 371.94l4 2.31v4.62l-4 2.31l-4-2.31v-4.62zM341.64 378.87l4 2.31v4.62l-4 2.31l-4-2.31v-4.62zM357.65 378.87l4 2.31v4.62l-4 2.31l-4-2.31v-4.62zM581.67 378.87l4 2.31v4.62l-4 2.31l-4-2.31v-4.62zM613.68 378.87l4 2.31v4.62l-4 2.31l-4-2.31v-4.62zM661.68 378.87l4 2.31v4.62l-4 2.31l-4-2.31v-4.62zM685.69 378.87l4 2.31v4.62l-4 2.31l-4-2.31v-4.62zM773.70 378.87l4 2.31v4.62l-4 2.31l-4-2.31v-4.62zM781.70 378.87l4 2.31v4.62l-4 2.31l-4-2.31v-4.62zM789.70 378.87l4 2.31v4.62l-4 2.31l-4-2.31v-4.62zM861.71 378.87l4 2.31v4.62l-4 2.31l-4-2.31v-4.62zM877.71 378.87l4 2.31v4.62l-4 2.31l-4-2.31v-4.62zM893.71 378.87l4 2.31v4.62l-4 2.31l-4-2.31v-4.62zM337.64 385.80l4 2.31v4.62l-4 2.31l-4-2.31v-4.62zM513.67 385.80l4 2.31v4.62l-4 2.31l-4-2.31v-4.62zM577.67 385.80l4 2.31v4.62l-4 2.31l-4-2.31v-4.62zM601.68 385.80l4 2.31v4.62l-4 2.31l-4-2.31v-4.62zM625.68 385.80l4 2.31v4.62l-4 2.31l-4-2.31v-4.62zM641.68 385.80l4 2.31v4.62l-4 2.31l-4-2.31v-4.62zM697.69 385.80l4 2.31v4.62l-4 2.31l-4-2.31v-4.62zM729.69 385.80l4 2.31v4.62l-4 2.31l-4-2.31v-4.62zM737.69 385.80l4 2.31v4.62l-4 2.31l-4-2.31v-4.62zM745.69 385.80l4 2.31v4.62l-4 2.31l-4-2.31v-4.62zM753.70 385.80l4 2.31v4.62l-4 2.31l-4-2.31v-4.62zM761.70 385.80l4 2.31v4.62l-4 2.31l-4-2.31v-4.62zM793.70 385.80l4 2.31v4.62l-4 2.31l-4-2.31v-4.62zM801.70 385.80l4 2.31v4.62l-4 2.31l-4-2.31v-4.62zM849.71 385.80l4 2.31v4.62l-4 2.31l-4-2.31v-4.62zM865.71 385.80l4 2.31v4.62l-4 2.31l-4-2.31v-4.62zM873.71 385.80l4 2.31v4.62l-4 2.31l-4-2.31v-4.62zM581.67 392.72l4 2.31v4.62l-4 2.31l-4-2.31v-4.62zM621.68 392.72l4 2.31v4.62l-4 2.31l-4-2.31v-4.62zM653.68 392.72l4 2.31v4.62l-4 2.31l-4-2.31v-4.62zM669.69 392.72l4 2.31v4.62l-4 2.31l-4-2.31v-4.62zM709.69 392.72l4 2.31v4.62l-4 2.31l-4-2.31v-4.62zM757.70 392.72l4 2.31v4.62l-4 2.31l-4-2.31v-4.62zM765.70 392.72l4 2.31v4.62l-4 2.31l-4-2.31v-4.62zM773.70 392.72l4 2.31v4.62l-4 2.31l-4-2.31v-4.62zM781.70 392.72l4 2.31v4.62l-4 2.31l-4-2.31v-4.62zM821.70 392.72l4 2.31v4.62l-4 2.31l-4-2.31v-4.62zM829.71 392.72l4 2.31v4.62l-4 2.31l-4-2.31v-4.62zM617.68 399.65l4 2.31v4.62l-4 2.31l-4-2.31v-4.62zM633.68 399.65l4 2.31v4.62l-4 2.31l-4-2.31v-4.62zM729.69 399.65l4 2.31v4.62l-4 2.31l-4-2.31v-4.62zM761.70 399.65l4 2.31v4.62l-4 2.31l-4-2.31v-4.62zM841.71 399.65l4 2.31v4.62l-4 2.31l-4-2.31v-4.62zM849.71 399.65l4 2.31v4.62l-4 2.31l-4-2.31v-4.62zM613.68 406.58l4 2.31v4.62l-4 2.31l-4-2.31v-4.62zM629.68 406.58l4 2.31v4.62l-4 2.31l-4-2.31v-4.62zM677.69 406.58l4 2.31v4.62l-4 2.31l-4-2.31v-4.62zM693.69 406.58l4 2.31v4.62l-4 2.31l-4-2.31v-4.62zM717.69 406.58l4 2.31v4.62l-4 2.31l-4-2.31v-4.62zM757.70 406.58l4 2.31v4.62l-4 2.31l-4-2.31v-4.62zM617.68 413.51l4 2.31v4.62l-4 2.31l-4-2.31v-4.62zM625.68 413.51l4 2.31v4.62l-4 2.31l-4-2.31v-4.62zM713.69 413.51l4 2.31v4.62l-4 2.31l-4-2.31v-4.62zM737.69 413.51l4 2.31v4.62l-4 2.31l-4-2.31v-4.62zM741.69 420.44l4 2.31v4.62l-4 2.31l-4-2.31v-4.62zM649.68 427.37l4 2.31v4.62l-4 2.31l-4-2.31v-4.62zM721.69 427.37l4 2.31v4.62l-4 2.31l-4-2.31v-4.62zM357.65 434.30l4 2.31v4.62l-4 2.31l-4-2.31v-4.62zM661.68 434.30l4 2.31v4.62l-4 2.31l-4-2.31v-4.62zM669.69 434.30l4 2.31v4.62l-4 2.31l-4-2.31v-4.62zM749.70 434.30l4 2.31v4.62l-4 2.31l-4-2.31v-4.62zM369.65 441.23l4 2.31v4.62l-4 2.31l-4-2.31v-4.62zM641.68 441.23l4 2.31v4.62l-4 2.31l-4-2.31v-4.62zM673.69 441.23l4 2.31v4.62l-4 2.31l-4-2.31v-4.62zM689.69 441.23l4 2.31v4.62l-4 2.31l-4-2.31v-4.62zM721.69 441.23l4 2.31v4.62l-4 2.31l-4-2.31v-4.62zM349.65 448.16l4 2.31v4.62l-4 2.31l-4-2.31v-4.62zM697.69 455.09l4 2.31v4.62l-4 2.31l-4-2.31v-4.62zM693.69 462.02l4 2.31v4.62l-4 2.31l-4-2.31v-4.62z"/>
<path fill="#7F2607" stroke="#7F2607" d="M669.69 101.70l4 2.31v4.62l-4 2.31l-4-2.31v-4.62zM685.69 101.70l4 2.31v4.62l-4 2.31l-4-2.31v-4.62zM625.68 108.63l4 2.31v4.62l-4 2.31l-4-2.31v-4.62zM673.69 108.63l4 2.31v4.62l-4 2.31l-4-2.31v-4.62zM621.68 115.56l4 2.31v4.62l-4 2.31l-4-2.31v-4.62zM645.68 115.56l4 2.31v4.62l-4 2.31l-4-2.31v-4.62zM661.68 115.56l4 2.31v4.62l-4 2.31l-4-2.31v-4.62zM709.69 115.56l4 2.31v4.62l-4 2.31l-4-2.31v-4.62zM657.68 122.49l4 2.31v4.62l-4 2.31l-4-2.31v-4.62zM673.69 122.49l4 2.31v4.62l-4 2.31l-4-2.31v-4.62zM705.69 122.49l4 2.31v4.62l-4 2.31l-4-2.31v-4.62zM713.69 122.49l4 2.31v4.62l-4 2.31l-4-2.31v-4.62zM637.68 129.42l4 2.31v4.62l-4 2.31l-4-2.31v-4.62zM645.68 129.42l4 2.31v4.62l-4 2.31l-4-2.31v-4.62zM717.69 129.42l4 2.31v4.62l-4 2.31l-4-2.31v-4.62zM657.68 136.35l4 2.31v4.62l-4 2.31l-4-2.31v-4.62zM665.68 136.35l4 2.31v4.62l-4 2.31l-4-2.31v-4.62zM689.69 136.35l4 2.31v4.62l-4 2.31l-4-2.31v-4.62zM713.69 136.35l4 2.31v4.62l-4 2.31l-4-2.31v-4.62zM637.68 143.28l4 2.31v4.62l-4 2.31l-4-2.31v-4.62zM645.68 143.28l4 2.31v4.62l-4 2.31l-4-2.31v-4.62zM717.69 143.28l4 2.31v4.62l-4 2.31l-4-2.31v-4.62zM573.67 157.14l4 2.31v4.62l-4 2.31l-4-2.31v-4.62zM581.67 157.14l4 2.31v4.62l-4 2.31l-4-2.31v-4.62zM621.68 157.14l4 2.31v4.62l-4 2.31l-4-2.31v-4.62zM629.68 157.14l4 2.31v4.62l-4 2.31l-4-2.31v-4.62zM645.68 157.14l4 2.31v4.62l-4 2.31l-4-2.31v-4.62zM701.69 157.14l4 2.31v4.62l-4 2.31l-4-2.31v-4.62zM717.69 157.14l4 2.31v4.62l-4 2.31l-4-2.31v-4.62zM601.68 164.07l4 2.31v4.62l-4 2.31l-4-2.31v-4.62zM625.68 164.07l4 2.31v4.62l-4 2.31l-4-2.31v-4.62zM649.68 164.07l4 2.31v4.62l-4 2.31l-4-2.31v-4.62zM705.69 164.07l4 2.31v4.62l-4 2.31l-4-2.31v-4.62zM721.69 164.07l4 2.31v4.62l-4 2.31l-4-2.31v-4.62zM717.69 170.99l4 2.31v4.62l-4 2.31l-4-2.31v-4.62zM705.69 177.92l4 2.31v4.62l-4 2.31l-4-2.31v-4.62zM721.69 177.92l4 2.31v4.62l-4 2.31l-4-2.31v-4.62zM593.68 191.78l4 2.31v4.62l-4 2.31l-4-2.31v-4.62zM713.69 191.78l4 2.31v4.62l-4 2.31l-4-2.31v-4.62zM729.69 191.78l4 2.31v4.62l-4 2.31l-4-2.31v-4.62zM825.70 191.78l4 2.31v4.62l-4 2.31l-4-2.31v-4.62zM833.71 191.78l4 2.31v4.62l-4 2.31l-4-2.31v-4.62zM589.68 198.71l4 2.31v4.62l-4 2.31l-4-2.31v-4.62zM725.69 198.71l4 2.31v4.62l-4 2.31l-4-2.31v-4.62zM733.69 198.71l4 2.31v4.62l-4 2.31l-4-2.31v-4.62zM853.71 198.71l4 2.31v4.62l-4 2.31l-4-2.31v-4.62zM577.67 205.64l4 2.31v4.62l-4 2.31l-4-2.31v-4.62zM817.70 205.64l4 2.31v4.62l-4 2.31l-4-2.31v-4.62zM833.71 205.64l4 2.31v4.62l-4 2.31l-4-2.31v-4.62zM813.70 212.57l4 2.31v4.62l-4 2.31l-4-2.31v-4.62zM837.71 212.57l4 2.31v4.62l-4 2.31l-4-2.31v-4.62zM869.71 212.57l4 2.31v4.62l-4 2.31l-4-2.31v-4.62zM553.67 219.50l4 2.31v4.62l-4 2.31l-4-2.31v-4.62zM561.67 219.50l4 2.31v4.62l-4 2.31l-4-2.31v-4.62zM801.70 219.50l4 2.31v4.62l-4 2.31l-4-2.31v-4.62zM817.70 219.50l4 2.31v4.62l-4 2.31l-4-2.31v-4.62zM825.70 219.50l4 2.31v4.62l-4 2.31l-4-2.31v-4.62zM841.71 219.50l4 2.31v4.62l-4 2.31l-4-2.31v-4.62zM849.71 219.50l4 2.31v4.62l-4 2.31l-4-2.31v-4.62zM865.71 219.50l4 2.31v4.62l-4 2.31l-4-2.31v-4.62zM773.70 226.43l4 2.31v4.62l-4 2.31l-4-2.31v-4.62zM789.70 226.43l4 2.31v4.62l-4 2.31l-4-2.31v-4.62zM797.70 226.43l4 2.31v4.62l-4 2.31l-4-2.31v-4.62zM813.70 226.43l4 2.31v4.62l-4 2.31l-4-2.31v-4.62zM845.71 226.43l4 2.31v4.62l-4 2.31l-4-2.31v-4.62zM553.67 233.36l4 2.31v4.62l-4 2.31l-4-2.31v-4.62zM593.68 233.36l4 2.31v4.62l-4 2.31l-4-2.31v-4.62zM601.68 233.36l4 2.31v4.62l-4 2.31l-4-2.31v-4.62zM777.70 233.36l4 2.31v4.62l-4 2.31l-4-2.31v-4.62zM833.71 233.36l4 2.31v4.62l-4 2.31l-4-2.31v-4.62zM549.67 240.29l4 2.31v4.62l-4 2.31l-4-2.31v-4.62zM557.67 240.29l4 2.31v4.62l-4 2.31l-4-2.31v-4.62zM821.70 240.29l4 2.31v4.62l-4 2.31l-4-2.31v-4.62zM837.71 240.29l4 2.31v4.62l-4 2.31l-4-2.31v-4.62zM553.67 247.21l4 2.31v4.62l-4 2.31l-4-2.31v-4.62zM561.67 247.21l4 2.31v4.62l-4 2.31l-4-2.31v-4.62zM569.67 247.21l4 2.31v4.62l-4 2.31l-4-2.31v-4.62zM593.68 247.21l4 2.31v4.62l-4 2.31l-4-2.31v-4.62zM809.70 247.21l4 2.31v4.62l-4 2.31l-4-2.31v-4.62zM833.71 247.21l4 2.31v4.62l-4 2.31l-4-2.31v-4.62zM897.71 247.21l4 2.31v4.62l-4 2.31l-4-2.31v-4.62zM501.66 254.14l4 2.31v4.62l-4 2.31l-4-2.31v-4.62zM509.67 254.14l4 2.31v4.62l-4 2.31l-4-2.31v-4.62zM589.68 254.14l4 2.31v4.62l-4 2.31l-4-2.31v-4.62zM773.70 254.14l4 2.31v4.62l-4 2.31l-4-2.31v-4.62zM789.70 254.14l4 2.31v4.62l-4 2.31l-4-2.31v-4.62zM797.70 254.14l4 2.31v4.62l-4 2.31l-4-2.31v-4.62zM909.72 254.14l4 2.31v4.62l-4 2.31l-4-2.31v-4.62zM505.66 261.07l4 2.31v4.62l-4 2.31l-4-2.31v-4.62zM513.67 261.07l4 2.31v4.62l-4 2.31l-4-2.31v-4.62zM561.67 261.07l4 2.31v4.62l-4 2.31l-4-2.31v-4.62zM609.68 261.07l4 2.31v4.62l-4 2.31l-4-2.31v-4.62zM737.69 261.07l4 2.31v4.62l-4 2.31l-4-2.31v-4.62zM753.70 261.07l4 2.31v4.62l-4 2.31l-4-2.31v-4.62zM809.70 261.07l4 2.31v4.62l-4 2.31l-4-2.31v-4.62zM817.70 261.07l4 2.31v4.62l-4 2.31l-4-2.31v-4.62zM889.71 261.07l4 2.31v4.62l-4 2.31l-4-2.31v-4.62zM913.72 261.07l4 2.31v4.62l-4 2.31l-4-2.31v-4.62zM921.72 261.07l4 2.31v4.62l-4 2.31l-4-2.31v-4.62zM557.67 268.00l4 2.31v4.62l-4 2.31l-4-2.31v-4.62zM717.69 268.00l4 2.31v4.62l-4 2.31l-4-2.31v-4.62zM741.69 268.00l4 2.31v4.62l-4 2.31l-4-2.31v-4.62zM773.70 268.00l4 2.31v4.62l-4 2.31l-4-2.31v-4.62zM789.70 268.00l4 2.31v4.62l-4 2.31l-4-2.31v-4.62zM797.70 268.00l4 2.31v4.62l-4 2.31l-4-2.31v-4.62zM821.70 268.00l4 2.31v4.62l-4 2.31l-4-2.31v-4.62zM909.72 268.00l4 2.31v4.62l-4 2.31l-4-2.31v-4.62zM561.67 274.93l4 2.31v4.62l-4 2.31l-4-2.31v-4.62zM825.70 274.93l4 2.31v4.62l-4 2.31l-4-2.31v-4.62zM709.69 281.86l4 2.31v4.62l-4 2.31l-4-2.31v-4.62zM733.69 281.86l4 2.31v4.62l-4 2.31l-4-2.31v-4.62zM741.69 281.86l4 2.31v4.62l-4 2.31l-4-2.31v-4.62zM765.70 281.86l4 2.31v4.62l-4 2.31l-4-2.31v-4.62zM813.70 281.86l4 2.31v4.62l-4 2.31l-4-2.31v-4.62zM925.72 281.86l4 2.31v4.62l-4 2.31l-4-2.31v-4.62zM933.72 281.86l4 2.31v4.62l-4 2.31l-4-2.31v-4.62zM809.70 288.79l4 2.31v4.62l-4 2.31l-4-2.31v-4.62zM889.71 288.79l4 2.31v4.62l-4 2.31l-4-2.31v-4.62zM913.72 288.79l4 2.31v4.62l-4 2.31l-4-2.31v-4.62zM921.72 288.79l4 2.31v4.62l-4 2.31l-4-2.31v-4.62zM937.72 288.79l4 2.31v4.62l-4 2.31l-4-2.31v-4.62zM501.66 295.72l4 2.31v4.62l-4 2.31l-4-2.31v-4.62zM509.67 295.72l4 2.31v4.62l-4 2.31l-4-2.31v-4.62zM701.69 295.72l4 2.31v4.62l-4 2.31l-4-2.31v-4.62zM717.69 295.72l4 2.31v4.62l-4 2.31l-4-2.31v-4.62zM733.69 295.72l4 2.31v4.62l-4 2.31l-4-2.31v-4.62zM773.70 295.72l4 2.31v4.62l-4 2.31l-4-2.31v-4.62zM789.70 295.72l4 2.31v4.62l-4 2.31l-4-2.31v-4.62zM797.70 295.72l4 2.31v4.62l-4 2.31l-4-2.31v-4.62zM917.72 295.72l4 2.31v4.62l-4 2.31l-4-2.31v-4.62zM449.66 302.65l4 2.31v4.62l-4 2.31l-4-2.31v-4.62zM473.66 302.65l4 2.31v4.62l-4 2.31l-4-2.31v-4.62zM481.66 302.65l4 2.31v4.62l-4 2.31l-4-2.31v-4.62zM497.66 302.65l4 2.31v4.62l-4 2.31l-4-2.31v-4.62zM521.67 302.65l4 2.31v4.62l-4 2.31l-4-2.31v-4.62zM545.67 302.65l4 2.31v4.62l-4 2.31l-4-2.31v-4.62zM745.69 302.65l4 2.31v4.62l-4 2.31l-4-2.31v-4.62zM785.70 302.65l4 2.31v4.62l-4 2.31l-4-2.31v-4.62zM897.71 302.65l4 2.31v4.62l-4 2.31l-4-2.31v-4.62zM905.71 302.65l4 2.31v4.62l-4 2.31l-4-2.31v-4.62zM929.72 302.65l4 2.31v4.62l-4 2.31l-4-2.31v-4.62zM477.66 309.58l4 2.31v4.62l-4 2.31l-4-2.31v-4.62zM501.66 309.58l4 2.31v4.62l-4 2.31l-4-2.31v-4.62zM509.67 309.58l4 2.31v4.62l-4 2.31l-4-2.31v-4.62zM565.67 309.58l4 2.31v4.62l-4 2.31l-4-2.31v-4.62zM893.71 309.58l4 2.31v4.62l-4 2.31l-4-2.31v-4.62zM925.72 309.58l4 2.31v4.62l-4 2.31l-4-2.31v-4.62zM481.66 316.51l4 2.31v4.62l-4 2.31l-4-2.31v-4.62zM529.67 316.51l4 2.31v4.62l-4 2.31l-4-2.31v-4.62zM537.67 316.51l4 2.31v4.62l-4 2.31l-4-2.31v-4.62zM601.68 316.51l4 2.31v4.62l-4 2.31l-4-2.31v-4.62zM745.69 316.51l4 2.31v4.62l-4 2.31l-4-2.31v-4.62zM753.70 316.51l4 2.31v4.62l-4 2.31l-4-2.31v-4.62zM801.70 316.51l4 2.31v4.62l-4 2.31l-4-2.31v-4.62zM913.72 316.51l4 2.31v4.62l-4 2.31l-4-2.31v-4.62zM929.72 316.51l4 2.31v4.62l-4 2.31l-4-2.31v-4.62zM461.66 323.43l4 2.31v4.62l-4 2.31l-4-2.31v-4.62zM469.66 323.43l4 2.31v4.62l-4 2.31l-4-2.31v-4.62zM477.66 323.43l4 2.31v4.62l-4 2.31l-4-2.31v-4.62zM473.66 330.36l4 2.31v4.62l-4 2.31l-4-2.31v-4.62zM481.66 330.36l4 2.31v4.62l-4 2.31l-4-2.31v-4.62zM505.66 330.36l4 2.31v4.62l-4 2.31l-4-2.31v-4.62zM513.67 330.36l4 2.31v4.62l-4 2.31l-4-2.31v-4.62zM609.68 330.36l4 2.31v4.62l-4 2.31l-4-2.31v-4.62zM633.68 330.36l4 2.31v4.62l-4 2.31l-4-2.31v-4.62zM641.68 330.36l4 2.31v4.62l-4 2.31l-4-2.31v-4.62zM745.69 330.36l4 2.31v4.62l-4 2.31l-4-2.31v-4.62zM753.70 330.36l4 2.31v4.62l-4 2.31l-4-2.31v-4.62zM769.70 330.36l4 2.31v4.62l-4 2.31l-4-2.31v-4.62zM793.70 330.36l4 2.31v4.62l-4 2.31l-4-2.31v-4.62zM801.70 330.36l4 2.31v4.62l-4 2.31l-4-2.31v-4.62zM841.71 330.36l4 2.31v4.62l-4 2.31l-4-2.31v-4.62zM849.71 330.36l4 2.31v4.62l-4 2.31l-4-2.31v-4.62zM865.71 330.36l4 2.31v4.62l-4 2.31l-4-2.31v-4.62zM881.71 330.36l4 2.31v4.62l-4 2.31l-4-2.31v-4.62zM897.71 330.36l4 2.31v4.62l-4 2.31l-4-2.31v-4.62zM913.72 330.36l4 2.31v4.62l-4 2.31l-4-2.31v-4.62zM429.66 337.29l4 2.31v4.62l-4 2.31l-4-2.31v-4.62zM461.66 337.29l4 2.31v4.62l-4 2.31l-4-2.31v-4.62zM517.67 337.29l4 2.31v4.62l-4 2.31l-4-2.31v-4.62zM541.67 337.29l4 2.31v4.62l-4 2.31l-4-2.31v-4.62zM549.67 337.29l4 2.31v4.62l-4 2.31l-4-2.31v-4.62zM749.70 337.29l4 2.31v4.62l-4 2.31l-4-2.31v-4.62zM765.70 337.29l4 2.31v4.62l-4 2.31l-4-2.31v-4.62zM789.70 337.29l4 2.31v4.62l-4 2.31l-4-2.31v-4.62zM805.70 337.29l4 2.31v4.62l-4 2.31l-4-2.31v-4.62zM829.71 337.29l4 2.31v4.62l-4 2.31l-4-2.31v-4.62zM837.71 337.29l4 2.31v4.62l-4 2.31l-4-2.31v-4.62zM869.71 337.29l4 2.31v4.62l-4 2.31l-4-2.31v-4.62zM481.66 344.22l4 2.31v4.62l-4 2.31l-4-2.31v-4.62zM513.67 344.22l4 2.31v4.62l-4 2.31l-4-2.31v-4.62zM521.67 344.22l4 2.31v4.62l-4 2.31l-4-2.31v-4.62zM745.69 344.22l4 2.31v4.62l-4 2.31l-4-2.31v-4.62zM761.70 344.22l4 2.31v4.62l-4 2.31l-4-2.31v-4.62zM833.71 344.22l4 2.31v4.62l-4 2.31l-4-2.31v-4.62zM881.71 344.22l4 2.31v4.62l-4 2.31l-4-2.31v-4.62zM1009.73 344.22l4 2.31v4.62l-4 2.31l-4-2.31v-4.62zM429.66 351.15l4 2.31v4.62l-4 2.31l-4-2.31v-4.62zM437.66 351.15l4 2.31v4.62l-4 2.31l-4-2.31v-4.62zM477.66 351.15l4 2.31v4.62l-4 2.31l-4-2.31v-4.62zM485.66 351.15l4 2.31v4.62l-4 2.31l-4-2.31v-4.62zM549.67 351.15l4 2.31v4.62l-4 2.31l-4-2.31v-4.62zM613.68 351.15l4 2.31v4.62l-4 2.31l-4-2.31v-4.62zM725.69 351.15l4 2.31v4.62l-4 2.31l-4-2.31v-4.62zM733.69 351.15l4 2.31v4.62l-4 2.31l-4-2.31v-4.62zM773.70 351.15l4 2.31v4.62l-4 2.31l-4-2.31v-4.62zM837.71 351.15l4 2.31v4.62l-4 2.31l-4-2.31v-4.62zM853.71 351.15l4 2.31v4.62l-4 2.31l-4-2.31v-4.62zM877.71 351.15l4 2.31v4.62l-4 2.31l-4-2.31v-4.62zM893.71 351.15l4 2.31v4.62l-4 2.31l-4-2.31v-4.62zM925.72 351.15l4 2.31v4.62l-4 2.31l-4-2.31v-4.62zM537.67 358.08l4 2.31v4.62l-4 2.31l-4-2.31v-4.62zM545.67 358.08l4 2.31v4.62l-4 2.31l-4-2.31v-4.62zM553.67 358.08l4 2.31v4.62l-4 2.31l-4-2.31v-4.62zM601.68 358.08l4 2.31v4.62l-4 2.31l-4-2.31v-4.62zM617.68 358.08l4 2.31v4.62l-4 2.31l-4-2.31v-4.62zM721.69 358.08l4 2.31v4.62l-4 2.31l-4-2.31v-4.62zM753.70 358.08l4 2.31v4.62l-4 2.31l-4-2.31v-4.62zM769.70 358.08l4 2.31v4.62l-4 2.31l-4-2.31v-4.62zM801.70 358.08l4 2.31v4.62l-4 2.31l-4-2.31v-4.62zM825.70 358.08l4 2.31v4.62l-4 2.31l-4-2.31v-4.62zM841.71 358.08l4 2.31v4.62l-4 2.31l-4-2.31v-4.62zM873.71 358.08l4 2.31v4.62l-4 2.31l-4-2.31v-4.62zM929.72 358.08l4 2.31v4.62l-4 2.31l-4-2.31v-4.62zM977.72 358.08l4 2.31v4.62l-4 2.31l-4-2.31v-4.62zM349.65 365.01l4 2.31v4.62l-4 2.31l-4-2.31v-4.62zM581.67 365.01l4 2.31v4.62l-4 2.31l-4-2.31v-4.62zM621.68 365.01l4 2.31v4.62l-4 2.31l-4-2.31v-4.62zM629.68 365.01l4 2.31v4.62l-4 2.31l-4-2.31v-4.62zM725.69 365.01l4 2.31v4.62l-4 2.31l-4-2.31v-4.62zM733.69 365.01l4 2.31v4.62l-4 2.31l-4-2.31v-4.62zM813.70 365.01l4 2.31v4.62l-4 2.31l-4-2.31v-4.62zM869.71 365.01l4 2.31v4.62l-4 2.31l-4-2.31v-4.62zM981.72 365.01l4 2.31v4.62l-4 2.31l-4-2.31v-4.62zM337.64 371.94l4 2.31v4.62l-4 2.31l-4-2.31v-4.62zM513.67 371.94l4 2.31v4.62l-4 2.31l-4-2.31v-4.62zM601.68 371.94l4 2.31v4.62l-4 2.31l-4-2.31v-4.62zM625.68 371.94l4 2.31v4.62l-4 2.31l-4-2.31v-4.62zM633.68 371.94l4 2.31v4.62l-4 2.31l-4-2.31v-4.62zM761.70 371.94l4 2.31v4.62l-4 2.31l-4-2.31v-4.62zM769.70 371.94l4 2.31v4.62l-4 2.31l-4-2.31v-4.62zM785.70 371.94l4 2.31v4.62l-4 2.31l-4-2.31v-4.62zM809.70 371.94l4 2.31v4.62l-4 2.31l-4-2.31v-4.62zM825.70 371.94l4 2.31v4.62l-4 2.31l-4-2.31v-4.62zM349.65 378.87l4 2.31v4.62l-4 2.31l-4-2.31v-4.62zM517.67 378.87l4 2.31v4.62l-4 2.31l-4-2.31v-4.62zM589.68 378.87l4 2.31v4.62l-4 2.31l-4-2.31v-4.62zM597.68 378.87l4 2.31v4.62l-4 2.31l-4-2.31v-4.62zM645.68 378.87l4 2.31v4.62l-4 2.31l-4-2.31v-4.62zM693.69 378.87l4 2.31v4.62l-4 2.31l-4-2.31v-4.62zM797.70 378.87l4 2.31v4.62l-4 2.31l-4-2.31v-4.62zM829.71 378.87l4 2.31v4.62l-4 2.31l-4-2.31v-4.62zM853.71 378.87l4 2.31v4.62l-4 2.31l-4-2.31v-4.62zM345.64 385.80l4 2.31v4.62l-4 2.31l-4-2.31v-4.62zM593.68 385.80l4 2.31v4.62l-4 2.31l-4-2.31v-4.62zM633.68 385.80l4 2.31v4.62l-4 2.31l-4-2.31v-4.62zM649.68 385.80l4 2.31v4.62l-4 2.31l-4-2.31v-4.62zM673.69 385.80l4 2.31v4.62l-4 2.31l-4-2.31v-4.62zM689.69 385.80l4 2.31v4.62l-4 2.31l-4-2.31v-4.62zM705.69 385.80l4 2.31v4.62l-4 2.31l-4-2.31v-4.62zM777.70 385.80l4 2.31v4.62l-4 2.31l-4-2.31v-4.62zM817.70 385.80l4 2.31v4.62l-4 2.31l-4-2.31v-4.62zM349.65 392.72l4 2.31v4.62l-4 2.31l-4-2.31v-4.62zM589.68 392.72l4 2.31v4.62l-4 2.31l-4-2.31v-4.62zM645.68 392.72l4 2.31v4.62l-4 2.31l-4-2.31v-4.62zM717.69 392.72l4 2.31v4.62l-4 2.31l-4-2.31v-4.62zM725.69 392.72l4 2.31v4.62l-4 2.31l-4-2.31v-4.62zM789.70 392.72l4 2.31v4.62l-4 2.31l-4-2.31v-4.62zM337.64 399.65l4 2.31v4.62l-4 2.31l-4-2.31v-4.62zM625.68 399.65l4 2.31v4.62l-4 2.31l-4-2.31v-4.62zM673.69 399.65l4 2.31v4.62l-4 2.31l-4-2.31v-4.62zM697.69 399.65l4 2.31v4.62l-4 2.31l-4-2.31v-4.62zM705.69 399.65l4 2.31v4.62l-4 2.31l-4-2.31v-4.62zM713.69 399.65l4 2.31v4.62l-4 2.31l-4-2.31v-4.62zM737.69 399.65l4 2.31v4.62l-4 2.31l-4-2.31v-4.62zM341.64 406.58l4 2.31v4.62l-4 2.31l-4-2.31v-4.62zM653.68 406.58l4 2.31v4.62l-4 2.31l-4-2.31v-4.62zM661.68 406.58l4 2.31v4.62l-4 2.31l-4-2.31v-4.62zM741.69 406.58l4 2.31v4.62l-4 2.31l-4-2.31v-4.62zM749.70 406.58l4 2.31v4.62l-4 2.31l-4-2.31v-4.62zM689.69 413.51l4 2.31v4.62l-4 2.31l-4-2.31v-4.62zM705.69 413.51l4 2.31v4.62l-4 2.31l-4-2.31v-4.62zM721.69 413.51l4 2.31v4.62l-4 2.31l-4-2.31v-4.62zM653.68 420.44l4 2.31v4.62l-4 2.31l-4-2.31v-4.62zM661.68 420.44l4 2.31v4.62l-4 2.31l-4-2.31v-4.62zM669.69 420.44l4 2.31v4.62l-4 2.31l-4-2.31v-4.62zM677.69 420.44l4 2.31v4.62l-4 2.31l-4-2.31v-4.62zM693.69 420.44l4 2.31v4.62l-4 2.31l-4-2.31v-4.62zM709.69 420.44l4 2.31v4.62l-4 2.31l-4-2.31v-4.62zM749.70 420.44l4 2.31v4.62l-4 2.31l-4-2.31v-4.62zM657.68 427.37l4 2.31v4.62l-4 2.31l-4-2.31v-4.62zM665.68 427.37l4 2.31v4.62l-4 2.31l-4-2.31v-4.62zM673.69 427.37l4 2.31v4.62l-4 2.31l-4-2.31v-4.62zM681.69 427.37l4 2.31v4.62l-4 2.31l-4-2.31v-4.62zM689.69 427.37l4 2.31v4.62l-4 2.31l-4-2.31v-4.62zM697.69 427.37l4 2.31v4.62l-4 2.31l-4-2.31v-4.62zM705.69 427.37l4 2.31v4.62l-4 2.31l-4-2.31v-4.62zM713.69 427.37l4 2.31v4.62l-4 2.31l-4-2.31v-4.62zM737.69 427.37l4 2.31v4.62l-4 2.31l-4-2.31v-4.62zM753.70 427.37l4 2.31v4.62l-4 2.31l-4-2.31v-4.62zM653.68 434.30l4 2.31v4.62l-4 2.31l-4-2.31v-4.62zM693.69 434.30l4 2.31v4.62l-4 2.31l-4-2.31v-4.62zM701.69 434.30l4 2.31v4.62l-4 2.31l-4-2.31v-4.62zM725.69 434.30l4 2.31v4.62l-4 2.31l-4-2.31v-4.62zM649.68 441.23l4 2.31v4.62l-4 2.31l-4-2.31v-4.62zM657.68 441.23l4 2.31v4.62l-4 2.31l-4-2.31v-4.62zM357.65 448.16l4 2.31v4.62l-4 2.31l-4-2.31v-4.62zM681.69 455.09l4 2.31v4.62l-4 2.31l-4-2.31v-4.62z"/>
<path fill="#571B0A" stroke="#571B0A" d="M665.68 108.63l4 2.31v4.62l-4 2.31l-4-2.31v-4.62zM681.69 108.63l4 2.31v4.62l-4 2.31l-4-2.31v-4.62zM689.69 108.63l4 2.31v4.62l-4 2.31l-4-2.31v-4.62zM629.68 115.56l4 2.31v4.62l-4 2.31l-4-2.31v-4.62zM677.69 115.56l4 2.31v4.62l-4 2.31l-4-2.31v-4.62zM685.69 115.56l4 2.31v4.62l-4 2.31l-4-2.31v-4.62zM633.68 122.49l4 2.31v4.62l-4 2.31l-4-2.31v-4.62zM641.68 122.49l4 2.31v4.62l-4 2.31l-4-2.31v-4.62zM649.68 122.49l4 2.31v4.62l-4 2.31l-4-2.31v-4.62zM681.69 122.49l4 2.31v4.62l-4 2.31l-4-2.31v-4.62zM689.69 122.49l4 2.31v4.62l-4 2.31l-4-2.31v-4.62zM653.68 129.42l4 2.31v4.62l-4 2.31l-4-2.31v-4.62zM661.68 129.42l4 2.31v4.62l-4 2.31l-4-2.31v-4.62zM677.69 129.42l4 2.31v4.62l-4 2.31l-4-2.31v-4.62zM685.69 129.42l4 2.31v4.62l-4 2.31l-4-2.31v-4.62zM693.69 129.42l4 2.31v4.62l-4 2.31l-4-2.31v-4.62zM709.69 129.42l4 2.31v4.62l-4 2.31l-4-2.31v-4.62zM633.68 136.35l4 2.31v4.62l-4 2.31l-4-2.31v-4.62zM649.68 136.35l4 2.31v4.62l-4 2.31l-4-2.31v-4.62zM721.69 136.35l4 2.31v4.62l-4 2.31l-4-2.31v-4.62zM653.68 143.28l4 2.31v4.62l-4 2.31l-4-2.31v-4.62zM661.68 143.28l4 2.31v4.62l-4 2.31l-4-2.31v-4.62zM693.69 143.28l4 2.31v4.62l-4 2.31l-4-2.31v-4.62zM569.67 150.21l4 2.31v4.62l-4 2.31l-4-2.31v-4.62zM625.68 150.21l4 2.31v4.62l-4 2.31l-4-2.31v-4.62zM641.68 150.21l4 2.31v4.62l-4 2.31l-4-2.31v-4.62zM713.69 150.21l4 2.31v4.62l-4 2.31l-4-2.31v-4.62zM721.69 150.21l4 2.31v4.62l-4 2.31l-4-2.31v-4.62zM605.68 157.14l4 2.31v4.62l-4 2.31l-4-2.31v-4.62zM613.68 157.14l4 2.31v4.62l-4 2.31l-4-2.31v-4.62zM637.68 157.14l4 2.31v4.62l-4 2.31l-4-2.31v-4.62zM725.69 157.14l4 2.31v4.62l-4 2.31l-4-2.31v-4.62zM577.67 164.07l4 2.31v4.62l-4 2.31l-4-2.31v-4.62zM617.68 164.07l4 2.31v4.62l-4 2.31l-4-2.31v-4.62zM633.68 164.07l4 2.31v4.62l-4 2.31l-4-2.31v-4.62zM641.68 164.07l4 2.31v4.62l-4 2.31l-4-2.31v-4.62zM713.69 164.07l4 2.31v4.62l-4 2.31l-4-2.31v-4.62zM729.69 164.07l4 2.31v4.62l-4 2.31l-4-2.31v-4.62zM709.69 170.99l4 2.31v4.62l-4 2.31l-4-2.31v-4.62zM733.69 170.99l4 2.31v4.62l-4 2.31l-4-2.31v-4.62zM713.69 177.92l4 2.31v4.62l-4 2.31l-4-2.31v-4.62zM729.69 177.92l4 2.31v4.62l-4 2.31l-4-2.31v-4.62zM825.70 177.92l4 2.31v4.62l-4 2.31l-4-2.31v-4.62zM709.69 184.85l4 2.31v4.62l-4 2.31l-4-2.31v-4.62zM717.69 184.85l4 2.31v4.62l-4 2.31l-4-2.31v-4.62zM725.69 184.85l4 2.31v4.62l-4 2.31l-4-2.31v-4.62zM821.70 184.85l4 2.31v4.62l-4 2.31l-4-2.31v-4.62zM721.69 191.78l4 2.31v4.62l-4 2.31l-4-2.31v-4.62zM573.67 198.71l4 2.31v4.62l-4 2.31l-4-2.31v-4.62zM581.67 198.71l4 2.31v4.62l-4 2.31l-4-2.31v-4.62zM597.68 198.71l4 2.31v4.62l-4 2.31l-4-2.31v-4.62zM829.71 198.71l4 2.31v4.62l-4 2.31l-4-2.31v-4.62zM585.67 205.64l4 2.31v4.62l-4 2.31l-4-2.31v-4.62zM825.70 205.64l4 2.31v4.62l-4 2.31l-4-2.31v-4.62zM841.71 205.64l4 2.31v4.62l-4 2.31l-4-2.31v-4.62zM849.71 205.64l4 2.31v4.62l-4 2.31l-4-2.31v-4.62zM857.71 205.64l4 2.31v4.62l-4 2.31l-4-2.31v-4.62zM821.70 212.57l4 2.31v4.62l-4 2.31l-4-2.31v-4.62zM829.71 212.57l4 2.31v4.62l-4 2.31l-4-2.31v-4.62zM845.71 212.57l4 2.31v4.62l-4 2.31l-4-2.31v-4.62zM853.71 212.57l4 2.31v4.62l-4 2.31l-4-2.31v-4.62zM861.71 212.57l4 2.31v4.62l-4 2.31l-4-2.31v-4.62zM777.70 219.50l4 2.31v4.62l-4 2.31l-4-2.31v-4.62zM793.70 219.50l4 2.31v4.62l-4 2.31l-4-2.31v-4.62zM809.70 219.50l4 2.31v4.62l-4 2.31l-4-2.31v-4.62zM857.71 219.50l4 2.31v4.62l-4 2.31l-4-2.31v-4.62zM549.67 226.43l4 2.31v4.62l-4 2.31l-4-2.31v-4.62zM781.70 226.43l4 2.31v4.62l-4 2.31l-4-2.31v-4.62zM821.70 226.43l4 2.31v4.62l-4 2.31l-4-2.31v-4.62zM837.71 226.43l4 2.31v4.62l-4 2.31l-4-2.31v-4.62zM853.71 226.43l4 2.31v4.62l-4 2.31l-4-2.31v-4.62zM785.70 233.36l4 2.31v4.62l-4 2.31l-4-2.31v-4.62zM793.70 233.36l4 2.31v4.62l-4 2.31l-4-2.31v-4.62zM817.70 233.36l4 2.31v4.62l-4 2.31l-4-2.31v-4.62zM581.67 240.29l4 2.31v4.62l-4 2.31l-4-2.31v-4.62zM589.68 240.29l4 2.31v4.62l-4 2.31l-4-2.31v-4.62zM597.68 240.29l4 2.31v4.62l-4 2.31l-4-2.31v-4.62zM773.70 240.29l4 2.31v4.62l-4 2.31l-4-2.31v-4.62zM813.70 240.29l4 2.31v4.62l-4 2.31l-4-2.31v-4.62zM829.71 240.29l4 2.31v4.62l-4 2.31l-4-2.31v-4.62zM545.67 247.21l4 2.31v4.62l-4 2.31l-4-2.31v-4.62zM577.67 247.21l4 2.31v4.62l-4 2.31l-4-2.31v-4.62zM585.67 247.21l4 2.31v4.62l-4 2.31l-4-2.31v-4.62zM601.68 247.21l4 2.31v4.62l-4 2.31l-4-2.31v-4.62zM793.70 247.21l4 2.31v4.62l-4 2.31l-4-2.31v-4.62zM817.70 247.21l4 2.31v4.62l-4 2.31l-4-2.31v-4.62zM825.70 247.21l4 2.31v4.62l-4 2.31l-4-2.31v-4.62zM541.67 254.14l4 2.31v4.62l-4 2.31l-4-2.31v-4.62zM549.67 254.14l4 2.31v4.62l-4 2.31l-4-2.31v-4.62zM557.67 254.14l4 2.31v4.62l-4 2.31l-4-2.31v-4.62zM565.67 254.14l4 2.31v4.62l-4 2.31l-4-2.31v-4.62zM573.67 254.14l4 2.31v4.62l-4 2.31l-4-2.31v-4.62zM581.67 254.14l4 2.31v4.62l-4 2.31l-4-2.31v-4.62zM605.68 254.14l4 2.31v4.62l-4 2.31l-4-2.31v-4.62zM749.70 254.14l4 2.31v4.62l-4 2.31l-4-2.31v-4.62zM781.70 254.14l4 2.31v4.62l-4 2.31l-4-2.31v-4.62zM805.70 254.14l4 2.31v4.62l-4 2.31l-4-2.31v-4.62zM837.71 254.14l4 2.31v4.62l-4 2.31l-4-2.31v-4.62zM893.71 254.14l4 2.31v4.62l-4 2.31l-4-2.31v-4.62zM901.71 254.14l4 2.31v4.62l-4 2.31l-4-2.31v-4.62zM925.72 254.14l4 2.31v4.62l-4 2.31l-4-2.31v-4.62zM553.67 261.07l4 2.31v4.62l-4 2.31l-4-2.31v-4.62zM601.68 261.07l4 2.31v4.62l-4 2.31l-4-2.31v-4.62zM705.69 261.07l4 2.31v4.62l-4 2.31l-4-2.31v-4.62zM721.69 261.07l4 2.31v4.62l-4 2.31l-4-2.31v-4.62zM745.69 261.07l4 2.31v4.62l-4 2.31l-4-2.31v-4.62zM777.70 261.07l4 2.31v4.62l-4 2.31l-4-2.31v-4.62zM785.70 261.07l4 2.31v4.62l-4 2.31l-4-2.31v-4.62zM793.70 261.07l4 2.31v4.62l-4 2.31l-4-2.31v-4.62zM801.70 261.07l4 2.31v4.62l-4 2.31l-4-2.31v-4.62zM897.71 261.07l4 2.31v4.62l-4 2.31l-4-2.31v-4.62zM509.67 268.00l4 2.31v4.62l-4 2.31l-4-2.31v-4.62zM725.69 268.00l4 2.31v4.62l-4 2.31l-4-2.31v-4.62zM733.69 268.00l4 2.31v4.62l-4 2.31l-4-2.31v-4.62zM749.70 268.00l4 2.31v4.62l-4 2.31l-4-2.31v-4.62zM781.70 268.00l4 2.31v4.62l-4 2.31l-4-2.31v-4.62zM885.71 268.00l4 2.31v4.62l-4 2.31l-4-2.31v-4.62zM917.72 268.00l4 2.31v4.62l-4 2.31l-4-2.31v-4.62zM933.72 268.00l4 2.31v4.62l-4 2.31l-4-2.31v-4.62zM941.72 268.00l4 2.31v4.62l-4 2.31l-4-2.31v-4.62zM553.67 274.93l4 2.31v4.62l-4 2.31l-4-2.31v-4.62zM713.69 274.93l4 2.31v4.62l-4 2.31l-4-2.31v-4.62zM721.69 274.93l4 2.31v4.62l-4 2.31l-4-2.31v-4.62zM729.69 274.93l4 2.31v4.62l-4 2.31l-4-2.31v-4.62zM737.69 274.93l4 2.31v4.62l-4 2.31l-4-2.31v-4.62zM745.69 274.93l4 2.31v4.62l-4 2.31l-4-2.31v-4.62zM769.70 274.93l4 2.31v4.62l-4 2.31l-4-2.31v-4.62zM817.70 274.93l4 2.31v4.62l-4 2.31l-4-2.31v-4.62zM565.67 281.86l4 2.31v4.62l-4 2.31l-4-2.31v-4.62zM589.68 281.86l4 2.31v4.62l-4 2.31l-4-2.31v-4.62zM717.69 281.86l4 2.31v4.62l-4 2.31l-4-2.31v-4.62zM821.70 281.86l4 2.31v4.62l-4 2.31l-4-2.31v-4.62zM561.67 288.79l4 2.31v4.62l-4 2.31l-4-2.31v-4.62zM593.68 288.79l4 2.31v4.62l-4 2.31l-4-2.31v-4.62zM729.69 288.79l4 2.31v4.62l-4 2.31l-4-2.31v-4.62zM737.69 288.79l4 2.31v4.62l-4 2.31l-4-2.31v-4.62zM801.70 288.79l4 2.31v4.62l-4 2.31l-4-2.31v-4.62zM929.72 288.79l4 2.31v4.62l-4 2.31l-4-2.31v-4.62zM541.67 295.72l4 2.31v4.62l-4 2.31l-4-2.31v-4.62zM549.67 295.72l4 2.31v4.62l-4 2.31l-4-2.31v-4.62zM709.69 295.72l4 2.31v4.62l-4 2.31l-4-2.31v-4.62zM781.70 295.72l4 2.31v4.62l-4 2.31l-4-2.31v-4.62zM805.70 295.72l4 2.31v4.62l-4 2.31l-4-2.31v-4.62zM813.70 295.72l4 2.31v4.62l-4 2.31l-4-2.31v-4.62zM885.71 295.72l4 2.31v4.62l-4 2.31l-4-2.31v-4.62zM893.71 295.72l4 2.31v4.62l-4 2.31l-4-2.31v-4.62zM901.71 295.72l4 2.31v4.62l-4 2.31l-4-2.31v-4.62zM909.72 295.72l4 2.31v4.62l-4 2.31l-4-2.31v-4.62zM925.72 295.72l4 2.31v4.62l-4 2.31l-4-2.31v-4.62zM981.72 295.72l4 2.31v4.62l-4 2.31l-4-2.31v-4.62zM989.73 295.72l4 2.31v4.62l-4 2.31l-4-2.31v-4.62zM505.66 302.65l4 2.31v4.62l-4 2.31l-4-2.31v-4.62zM513.67 302.65l4 2.31v4.62l-4 2.31l-4-2.31v-4.62zM553.67 302.65l4 2.31v4.62l-4 2.31l-4-2.31v-4.62zM561.67 302.65l4 2.31v4.62l-4 2.31l-4-2.31v-4.62zM713.69 302.65l4 2.31v4.62l-4 2.31l-4-2.31v-4.62zM737.69 302.65l4 2.31v4.62l-4 2.31l-4-2.31v-4.62zM777.70 302.65l4 2.31v4.62l-4 2.31l-4-2.31v-4.62zM793.70 302.65l4 2.31v4.62l-4 2.31l-4-2.31v-4.62zM881.71 302.65l4 2.31v4.62l-4 2.31l-4-2.31v-4.62zM889.71 302.65l4 2.31v4.62l-4 2.31l-4-2.31v-4.62zM913.72 302.65l4 2.31v4.62l-4 2.31l-4-2.31v-4.62zM921.72 302.65l4 2.31v4.62l-4 2.31l-4-2.31v-4.62zM437.66 309.58l4 2.31v4.62l-4 2.31l-4-2.31v-4.62zM445.66 309.58l4 2.31v4.62l-4 2.31l-4-2.31v-4.62zM469.66 309.58l4 2.31v4.62l-4 2.31l-4-2.31v-4.62zM493.66 309.58l4 2.31v4.62l-4 2.31l-4-2.31v-4.62zM517.67 309.58l4 2.31v4.62l-4 2.31l-4-2.31v-4.62zM525.67 309.58l4 2.31v4.62l-4 2.31l-4-2.31v-4.62zM549.67 309.58l4 2.31v4.62l-4 2.31l-4-2.31v-4.62zM557.67 309.58l4 2.31v4.62l-4 2.31l-4-2.31v-4.62zM573.67 309.58l4 2.31v4.62l-4 2.31l-4-2.31v-4.62zM741.69 309.58l4 2.31v4.62l-4 2.31l-4-2.31v-4.62zM797.70 309.58l4 2.31v4.62l-4 2.31l-4-2.31v-4.62zM909.72 309.58l4 2.31v4.62l-4 2.31l-4-2.31v-4.62zM917.72 309.58l4 2.31v4.62l-4 2.31l-4-2.31v-4.62zM457.66 316.51l4 2.31v4.62l-4 2.31l-4-2.31v-4.62zM465.66 316.51l4 2.31v4.62l-4 2.31l-4-2.31v-4.62zM545.67 316.51l4 2.31v4.62l-4 2.31l-4-2.31v-4.62zM609.68 316.51l4 2.31v4.62l-4 2.31l-4-2.31v-4.62zM921.72 316.51l4 2.31v4.62l-4 2.31l-4-2.31v-4.62zM485.66 323.43l4 2.31v4.62l-4 2.31l-4-2.31v-4.62zM541.67 323.43l4 2.31v4.62l-4 2.31l-4-2.31v-4.62zM565.67 323.43l4 2.31v4.62l-4 2.31l-4-2.31v-4.62zM573.67 323.43l4 2.31v4.62l-4 2.31l-4-2.31v-4.62zM605.68 323.43l4 2.31v4.62l-4 2.31l-4-2.31v-4.62zM613.68 323.43l4 2.31v4.62l-4 2.31l-4-2.31v-4.62zM621.68 323.43l4 2.31v4.62l-4 2.31l-4-2.31v-4.62zM629.68 323.43l4 2.31v4.62l-4 2.31l-4-2.31v-4.62zM637.68 323.43l4 2.31v4.62l-4 2.31l-4-2.31v-4.62zM733.69 323.43l4 2.31v4.62l-4 2.31l-4-2.31v-4.62zM741.69 323.43l4 2.31v4.62l-4 2.31l-4-2.31v-4.62zM749.70 323.43l4 2.31v4.62l-4 2.31l-4-2.31v-4.62zM805.70 323.43l4 2.31v4.62l-4 2.31l-4-2.31v-4.62zM837.71 323.43l4 2.31v4.62l-4 2.31l-4-2.31v-4.62zM845.71 323.43l4 2.31v4.62l-4 2.31l-4-2.31v-4.62zM869.71 323.43l4 2.31v4.62l-4 2.31l-4-2.31v-4.62zM465.66 330.36l4 2.31v4.62l-4 2.31l-4-2.31v-4.62zM537.67 330.36l4 2.31v4.62l-4 2.31l-4-2.31v-4.62zM545.67 330.36l4 2.31v4.62l-4 2.31l-4-2.31v-4.62zM553.67 330.36l4 2.31v4.62l-4 2.31l-4-2.31v-4.62zM561.67 330.36l4 2.31v4.62l-4 2.31l-4-2.31v-4.62zM569.67 330.36l4 2.31v4.62l-4 2.31l-4-2.31v-4.62zM625.68 330.36l4 2.31v4.62l-4 2.31l-4-2.31v-4.62zM737.69 330.36l4 2.31v4.62l-4 2.31l-4-2.31v-4.62zM761.70 330.36l4 2.31v4.62l-4 2.31l-4-2.31v-4.62zM809.70 330.36l4 2.31v4.62l-4 2.31l-4-2.31v-4.62zM833.71 330.36l4 2.31v4.62l-4 2.31l-4-2.31v-4.62zM873.71 330.36l4 2.31v4.62l-4 2.31l-4-2.31v-4.62zM937.72 330.36l4 2.31v4.62l-4 2.31l-4-2.31v-4.62zM945.72 330.36l4 2.31v4.62l-4 2.31l-4-2.31v-4.62zM469.66 337.29l4 2.31v4.62l-4 2.31l-4-2.31v-4.62zM509.67 337.29l4 2.31v4.62l-4 2.31l-4-2.31v-4.62zM645.68 337.29l4 2.31v4.62l-4 2.31l-4-2.31v-4.62zM661.68 337.29l4 2.31v4.62l-4 2.31l-4-2.31v-4.62zM733.69 337.29l4 2.31v4.62l-4 2.31l-4-2.31v-4.62zM741.69 337.29l4 2.31v4.62l-4 2.31l-4-2.31v-4.62zM757.70 337.29l4 2.31v4.62l-4 2.31l-4-2.31v-4.62zM773.70 337.29l4 2.31v4.62l-4 2.31l-4-2.31v-4.62zM853.71 337.29l4 2.31v4.62l-4 2.31l-4-2.31v-4.62zM877.71 337.29l4 2.31v4.62l-4 2.31l-4-2.31v-4.62zM885.71 337.29l4 2.31v4.62l-4 2.31l-4-2.31v-4.62zM893.71 337.29l4 2.31v4.62l-4 2.31l-4-2.31v-4.62zM901.71 337.29l4 2.31v4.62l-4 2.31l-4-2.31v-4.62zM909.72 337.29l4 2.31v4.62l-4 2.31l-4-2.31v-4.62zM917.72 337.29l4 2.31v4.62l-4 2.31l-4-2.31v-4.62zM433.66 344.22l4 2.31v4.62l-4 2.31l-4-2.31v-4.62zM729.69 344.22l4 2.31v4.62l-4 2.31l-4-2.31v-4.62zM737.69 344.22l4 2.31v4.62l-4 2.31l-4-2.31v-4.62zM753.70 344.22l4 2.31v4.62l-4 2.31l-4-2.31v-4.62zM801.70 344.22l4 2.31v4.62l-4 2.31l-4-2.31v-4.62zM809.70 344.22l4 2.31v4.62l-4 2.31l-4-2.31v-4.62zM873.71 344.22l4 2.31v4.62l-4 2.31l-4-2.31v-4.62zM889.71 344.22l4 2.31v4.62l-4 2.31l-4-2.31v-4.62zM1017.73 344.22l4 2.31v4.62l-4 2.31l-4-2.31v-4.62zM517.67 351.15l4 2.31v4.62l-4 2.31l-4-2.31v-4.62zM525.67 351.15l4 2.31v4.62l-4 2.31l-4-2.31v-4.62zM541.67 351.15l4 2.31v4.62l-4 2.31l-4-2.31v-4.62zM589.68 351.15l4 2.31v4.62l-4 2.31l-4-2.31v-4.62zM597.68 351.15l4 2.31v4.62l-4 2.31l-4-2.31v-4.62zM669.69 351.15l4 2.31v4.62l-4 2.31l-4-2.31v-4.62zM677.69 351.15l4 2.31v4.62l-4 2.31l-4-2.31v-4.62zM741.69 351.15l4 2.31v4.62l-4 2.31l-4-2.31v-4.62zM749.70 351.15l4 2.31v4.62l-4 2.31l-4-2.31v-4.62zM757.70 351.15l4 2.31v4.62l-4 2.31l-4-2.31v-4.62zM805.70 351.15l4 2.31v4.62l-4 2.31l-4-2.31v-4.62zM845.71 351.15l4 2.31v4.62l-4 2.31l-4-2.31v-4.62zM869.71 351.15l4 2.31v4.62l-4 2.31l-4-2.31v-4.62zM885.71 351.15l4 2.31v4.62l-4 2.31l-4-2.31v-4.62zM901.71 351.15l4 2.31v4.62l-4 2.31l-4-2.31v-4.62zM521.67 358.08l4 2.31v4.62l-4 2.31l-4-2.31v-4.62zM529.67 358.08l4 2.31v4.62l-4 2.31l-4-2.31v-4.62zM593.68 358.08l4 2.31v4.62l-4 2.31l-4-2.31v-4.62zM609.68 358.08l4 2.31v4.62l-4 2.31l-4-2.31v-4.62zM625.68 358.08l4 2.31v4.62l-4 2.31l-4-2.31v-4.62zM697.69 358.08l4 2.31v4.62l-4 2.31l-4-2.31v-4.62zM729.69 358.08l4 2.31v4.62l-4 2.31l-4-2.31v-4.62zM761.70 358.08l4 2.31v4.62l-4 2.31l-4-2.31v-4.62zM777.70 358.08l4 2.31v4.62l-4 2.31l-4-2.31v-4.62zM809.70 358.08l4 2.31v4.62l-4 2.31l-4-2.31v-4.62zM817.70 358.08l4 2.31v4.62l-4 2.31l-4-2.31v-4.62zM833.71 358.08l4 2.31v4.62l-4 2.31l-4-2.31v-4.62zM889.71 358.08l4 2.31v4.62l-4 2.31l-4-2.31v-4.62zM905.71 358.08l4 2.31v4.62l-4 2.31l-4-2.31v-4.62zM985.72 358.08l4 2.31v4.62l-4 2.31l-4-2.31v-4.62zM341.64 365.01l4 2.31v4.62l-4 2.31l-4-2.31v-4.62zM533.67 365.01l4 2.31v4.62l-4 2.31l-4-2.31v-4.62zM589.68 365.01l4 2.31v4.62l-4 2.31l-4-2.31v-4.62zM597.68 365.01l4 2.31v4.62l-4 2.31l-4-2.31v-4.62zM613.68 365.01l4 2.31v4.62l-4 2.31l-4-2.31v-4.62zM717.69 365.01l4 2.31v4.62l-4 2.31l-4-2.31v-4.62zM741.69 365.01l4 2.31v4.62l-4 2.31l-4-2.31v-4.62zM773.70 365.01l4 2.31v4.62l-4 2.31l-4-2.31v-4.62zM781.70 365.01l4 2.31v4.62l-4 2.31l-4-2.31v-4.62zM789.70 365.01l4 2.31v4.62l-4 2.31l-4-2.31v-4.62zM797.70 365.01l4 2.31v4.62l-4 2.31l-4-2.31v-4.62zM805.70 365.01l4 2.31v4.62l-4 2.31l-4-2.31v-4.62zM821.70 365.01l4 2.31v4.62l-4 2.31l-4-2.31v-4.62zM829.71 365.01l4 2.31v4.62l-4 2.31l-4-2.31v-4.62zM837.71 365.01l4 2.31v4.62l-4 2.31l-4-2.31v-4.62zM877.71 365.01l4 2.31v4.62l-4 2.31l-4-2.31v-4.62zM345.64 371.94l4 2.31v4.62l-4 2.31l-4-2.31v-4.62zM353.65 371.94l4 2.31v4.62l-4 2.31l-4-2.31v-4.62zM577.67 371.94l4 2.31v4.62l-4 2.31l-4-2.31v-4.62zM585.67 371.94l4 2.31v4.62l-4 2.31l-4-2.31v-4.62zM593.68 371.94l4 2.31v4.62l-4 2.31l-4-2.31v-4.62zM641.68 371.94l4 2.31v4.62l-4 2.31l-4-2.31v-4.62zM649.68 371.94l4 2.31v4.62l-4 2.31l-4-2.31v-4.62zM753.70 371.94l4 2.31v4.62l-4 2.31l-4-2.31v-4.62zM777.70 371.94l4 2.31v4.62l-4 2.31l-4-2.31v-4.62zM793.70 371.94l4 2.31v4.62l-4 2.31l-4-2.31v-4.62zM801.70 371.94l4 2.31v4.62l-4 2.31l-4-2.31v-4.62zM833.71 371.94l4 2.31v4.62l-4 2.31l-4-2.31v-4.62zM849.71 371.94l4 2.31v4.62l-4 2.31l-4-2.31v-4.62zM873.71 371.94l4 2.31v4.62l-4 2.31l-4-2.31v-4.62zM897.71 371.94l4 2.31v4.62l-4 2.31l-4-2.31v-4.62zM509.67 378.87l4 2.31v4.62l-4 2.31l-4-2.31v-4.62zM621.68 378.87l4 2.31v4.62l-4 2.31l-4-2.31v-4.62zM629.68 378.87l4 2.31v4.62l-4 2.31l-4-2.31v-4.62zM637.68 378.87l4 2.31v4.62l-4 2.31l-4-2.31v-4.62zM669.69 378.87l4 2.31v4.62l-4 2.31l-4-2.31v-4.62zM701.69 378.87l4 2.31v4.62l-4 2.31l-4-2.31v-4.62zM709.69 378.87l4 2.31v4.62l-4 2.31l-4-2.31v-4.62zM749.70 378.87l4 2.31v4.62l-4 2.31l-4-2.31v-4.62zM757.70 378.87l4 2.31v4.62l-4 2.31l-4-2.31v-4.62zM765.70 378.87l4 2.31v4.62l-4 2.31l-4-2.31v-4.62zM805.70 378.87l4 2.31v4.62l-4 2.31l-4-2.31v-4.62zM821.70 378.87l4 2.31v4.62l-4 2.31l-4-2.31v-4.62zM837.71 378.87l4 2.31v4.62l-4 2.31l-4-2.31v-4.62zM845.71 378.87l4 2.31v4.62l-4 2.31l-4-2.31v-4.62zM869.71 378.87l4 2.31v4.62l-4 2.31l-4-2.31v-4.62zM585.67 385.80l4 2.31v4.62l-4 2.31l-4-2.31v-4.62zM617.68 385.80l4 2.31v4.62l-4 2.31l-4-2.31v-4.62zM665.68 385.80l4 2.31v4.62l-4 2.31l-4-2.31v-4.62zM713.69 385.80l4 2.31v4.62l-4 2.31l-4-2.31v-4.62zM721.69 385.80l4 2.31v4.62l-4 2.31l-4-2.31v-4.62zM769.70 385.80l4 2.31v4.62l-4 2.31l-4-2.31v-4.62zM785.70 385.80l4 2.31v4.62l-4 2.31l-4-2.31v-4.62zM825.70 385.80l4 2.31v4.62l-4 2.31l-4-2.31v-4.62zM833.71 385.80l4 2.31v4.62l-4 2.31l-4-2.31v-4.62zM841.71 385.80l4 2.31v4.62l-4 2.31l-4-2.31v-4.62zM857.71 385.80l4 2.31v4.62l-4 2.31l-4-2.31v-4.62zM341.64 392.72l4 2.31v4.62l-4 2.31l-4-2.31v-4.62zM597.68 392.72l4 2.31v4.62l-4 2.31l-4-2.31v-4.62zM629.68 392.72l4 2.31v4.62l-4 2.31l-4-2.31v-4.62zM733.69 392.72l4 2.31v4.62l-4 2.31l-4-2.31v-4.62zM741.69 392.72l4 2.31v4.62l-4 2.31l-4-2.31v-4.62zM749.70 392.72l4 2.31v4.62l-4 2.31l-4-2.31v-4.62zM837.71 392.72l4 2.31v4.62l-4 2.31l-4-2.31v-4.62zM845.71 392.72l4 2.31v4.62l-4 2.31l-4-2.31v-4.62zM345.64 399.65l4 2.31v4.62l-4 2.31l-4-2.31v-4.62zM665.68 399.65l4 2.31v4.62l-4 2.31l-4-2.31v-4.62zM721.69 399.65l4 2.31v4.62l-4 2.31l-4-2.31v-4.62zM745.69 399.65l4 2.31v4.62l-4 2.31l-4-2.31v-4.62zM753.70 399.65l4 2.31v4.62l-4 2.31l-4-2.31v-4.62zM621.68 406.58l4 2.31v4.62l-4 2.31l-4-2.31v-4.62zM669.69 406.58l4 2.31v4.62l-4 2.31l-4-2.31v-4.62zM701.69 406.58l4 2.31v4.62l-4 2.31l-4-2.31v-4.62zM709.69 406.58l4 2.31v4.62l-4 2.31l-4-2.31v-4.62zM725.69 406.58l4 2.31v4.62l-4 2.31l-4-2.31v-4.62zM733.69 406.58l4 2.31v4.62l-4 2.31l-4-2.31v-4.62zM657.68 413.51l4 2.31v4.62l-4 2.31l-4-2.31v-4.62zM665.68 413.51l4 2.31v4.62l-4 2.31l-4-2.31v-4.62zM673.69 413.51l4 2.31v4.62l-4 2.31l-4-2.31v-4.62zM681.69 413.51l4 2.31v4.62l-4 2.31l-4-2.31v-4.62zM697.69 413.51l4 2.31v4.62l-4 2.31l-4-2.31v-4.62zM729.69 413.51l4 2.31v4.62l-4 2.31l-4-2.31v-4.62zM685.69 420.44l4 2.31v4.62l-4 2.31l-4-2.31v-4.62zM701.69 420.44l4 2.31v4.62l-4 2.31l-4-2.31v-4.62zM717.69 420.44l4 2.31v4.62l-4 2.31l-4-2.31v-4.62zM725.69 420.44l4 2.31v4.62l-4 2.31l-4-2.31v-4.62zM733.69 420.44l4 2.31v4.62l-4 2.31l-4-2.31v-4.62zM757.70 420.44l4 2.31v4.62l-4 2.31l-4-2.31v-4.62zM729.69 427.37l4 2.31v4.62l-4 2.31l-4-2.31v-4.62zM745.69 427.37l4 2.31v4.62l-4 2.31l-4-2.31v-4.62zM645.68 434.30l4 2.31v4.62l-4 2.31l-4-2.31v-4.62zM685.69 434.30l4 2.31v4.62l-4 2.31l-4-2.31v-4.62zM709.69 434.30l4 2.31v4.62l-4 2.31l-4-2.31v-4.62zM733.69 434.30l4 2.31v4.62l-4 2.31l-4-2.31v-4.62zM741.69 434.30l4 2.31v4.62l-4 2.31l-4-2.31v-4.62zM353.65 441.23l4 2.31v4.62l-4 2.31l-4-2.31v-4.62zM361.65 441.23l4 2.31v4.62l-4 2.31l-4-2.31v-4.62zM665.68 441.23l4 2.31v4.62l-4 2.31l-4-2.31v-4.62zM697.69 441.23l4 2.31v4.62l-4 2.31l-4-2.31v-4.62zM729.69 441.23l4 2.31v4.62l-4 2.31l-4-2.31v-4.62zM689.69 455.09l4 2.31v4.62l-4 2.31l-4-2.31v-4.62zM685.69 462.02l4 2.31v4.62l-4 2.31l-4-2.31v-4.62z"/>
<path fill="none" stroke="#000" stroke-opacity="0.24" stroke-width="0.62" stroke-linejoin="miter" d="M665.68 90.16l-4-2.31l-4 2.31v4.62M673.69 90.16l-4-2.31l-4 2.31v4.62M681.69 90.16l-4-2.31l-4 2.31v4.62M689.69 90.16l-4-2.31l-4 2.31v4.62M653.68 97.08l-4-2.31l-4 2.31v4.62M661.68 97.08l-4-2.31l-4 2.31v4.62M669.69 97.08l-4-2.31l-4 2.31v4.62M677.69 97.08l-4-2.31l-4 2.31v4.62M685.69 97.08l-4-2.31l-4 2.31v4.62M693.69 97.08l-4-2.31l-4 2.31v4.62M701.69 97.08l-4-2.31l-4 2.31v4.62M709.69 97.08l-4-2.31l-4 2.31v4.62M641.68 104.01l-4-2.31l-4 2.31v4.62M649.68 104.01l-4-2.31l-4 2.31v4.62M657.68 104.01l-4-2.31l-4 2.31v4.62M665.68 104.01l-4-2.31l-4 2.31v4.62M673.69 104.01l-4-2.31l-4 2.31v4.62M681.69 104.01l-4-2.31l-4 2.31v4.62M689.69 104.01l-4-2.31l-4 2.31v4.62M697.69 104.01l-4-2.31l-4 2.31v4.62M705.69 104.01l-4-2.31l-4 2.31v4.62M713.69 104.01l-4-2.31l-4 2.31v4.62M721.69 104.01l-4-2.31l-4 2.31v4.62M729.69 104.01l-4-2.31l-4 2.31v4.62M629.68 110.94l-4-2.31l-4 2.31v4.62M637.68 110.94l-4-2.31l-4 2.31v4.62M645.68 110.94l-4-2.31l-4 2.31v4.62M653.68 110.94l-4-2.31l-4 2.31v4.62M661.68 110.94l-4-2.31l-4 2.31v4.62M669.69 110.94l-4-2.31l-4 2.31v4.62M677.69 110.94l-4-2.31l-4 2.31v4.62M685.69 110.94l-4-2.31l-4 2.31v4.62M693.69 110.94l-4-2.31l-4 2.31v4.62M701.69 110.94l-4-2.31l-4 2.31v4.62M709.69 110.94l-4-2.31l-4 2.31v4.62M717.69 110.94l-4-2.31l-4 2.31v4.62M725.69 110.94l-4-2.31l-4 2.31v4.62M733.69 110.94l-4-2.31l-4 2.31v4.62M741.69 110.94l-4-2.31l-4 2.31v4.62M625.68 117.87l-4-2.31l-4 2.31v4.62M633.68 117.87l-4-2.31l-4 2.31v4.62M641.68 117.87l-4-2.31l-4 2.31v4.62M649.68 117.87l-4-2.31l-4 2.31v4.62M657.68 117.87l-4-2.31l-4 2.31v4.62M665.68 117.87l-4-2.31l-4 2.31v4.62M673.69 117.87l-4-2.31l-4 2.31v4.62M681.69 117.87l-4-2.31l-4 2.31v4.62M689.69 117.87l-4-2.31l-4 2.31v4.62M697.69 117.87l-4-2.31l-4 2.31v4.62M705.69 117.87l-4-2.31l-4 2.31v4.62M713.69 117.87l-4-2.31l-4 2.31v4.62M721.69 117.87l-4-2.31l-4 2.31v4.62M729.69 117.87l-4-2.31l-4 2.31v4.62M737.69 117.87l-4-2.31l-4 2.31v4.62M745.69 117.87l-4-2.31l-4 2.31v4.62M753.70 117.87l-4-2.31l-4 2.31v4.62M501.66 124.80l-4-2.31l-4 2.31v4.62M509.67 124.80l-4-2.31l-4 2.31v4.62M517.67 124.80l-4-2.31l-4 2.31v4.62M525.67 124.80l-4-2.31l-4 2.31v4.62M597.68 124.80l-4-2.31l-4 2.31v4.62M605.68 124.80l-4-2.31l-4 2.31v4.62M613.68 124.80l-4-2.31l-4 2.31v4.62M621.68 124.80l-4-2.31l-4 2.31v4.62M629.68 124.80l-4-2.31l-4 2.31v4.62M637.68 124.80l-4-2.31l-4 2.31v4.62M645.68 124.80l-4-2.31l-4 2.31v4.62M653.68 124.80l-4-2.31l-4 2.31v4.62M661.68 124.80l-4-2.31l-4 2.31v4.62M669.69 124.80l-4-2.31l-4 2.31v4.62M677.69 124.80l-4-2.31l-4 2.31v4.62M685.69 124.80l-4-2.31l-4 2.31v4.62M693.69 124.80l-4-2.31l-4 2.31v4.62M701.69 124.80l-4-2.31l-4 2.31v4.62M709.69 124.80l-4-2.31l-4 2.31v4.62M717.69 124.80l-4-2.31l-4 2.31v4.62M725.69 124.80l-4-2.31l-4 2.31v4.62M733.69 124.80l-4-2.31l-4 2.31v4.62M741.69 124.80l-4-2.31l-4 2.31v4.62M749.70 124.80l-4-2.31l-4 2.31v4.62M757.70 124.80l-4-2.31l-4 2.31v4.62M489.66 131.73l-4-2.31l-4 2.31v4.62M497.66 131.73l-4-2.31l-4 2.31v4.62M505.66 131.73l-4-2.31l-4 2.31v4.62M513.67 131.73l-4-2.31l-4 2.31v4.62M521.67 131.73l-4-2.31l-4 2.31v4.62M529.67 131.73l-4-2.31l-4 2.31v4.62M537.67 131.73l-4-2.31l-4 2.31v4.62M553.67 131.73l-4-2.31l-4 2.31v4.62M601.68 131.73l-4-2.31l-4 2.31v4.62M609.68 131.73l-4-2.31l-4 2.31v4.62M617.68 131.73l-4-2.31l-4 2.31v4.62M625.68 131.73l-4-2.31l-4 2.31v4.62M633.68 131.73l-4-2.31l-4 2.31v4.62M641.68 131.73l-4-2.31l-4 2.31v4.62M649.68 131.73l-4-2.31l-4 2.31v4.62M657.68 131.73l-4-2.31l-4 2.31v4.62M665.68 131.73l-4-2.31l-4 2.31v4.62M673.69 131.73l-4-2.31l-4 2.31v4.62M681.69 131.73l-4-2.31l-4 2.31v4.62M689.69 131.73l-4-2.31l-4 2.31v4.62M697.69 131.73l-4-2.31l-4 2.31v4.62M705.69 131.73l-4-2.31l-4 2.31v4.62M713.69 131.73l-4-2.31l-4 2.31v4.62M721.69 131.73l-4-2.31l-4 2.31v4.62M729.69 131.73l-4-2.31l-4 2.31v4.62M737.69 131.73l-4-2.31l-4 2.31v4.62M745.69 131.73l-4-2.31l-4 2.31v4.62M753.70 131.73l-4-2.31l-4 2.31v4.62M485.66 138.66l-4-2.31l-4 2.31v4.62M493.66 138.66l-4-2.31l-4 2.31v4.62M501.66 138.66l-4-2.31l-4 2.31v4.62M509.67 138.66l-4-2.31l-4 2.31v4.62M517.67 138.66l-4-2.31l-4 2.31v4.62M525.67 138.66l-4-2.31l-4 2.31v4.62M533.67 138.66l-4-2.31l-4 2.31v4.62M541.67 138.66l-4-2.31l-4 2.31v4.62M549.67 138.66l-4-2.31l-4 2.31v4.62M557.67 138.66l-4-2.31l-4 2.31v4.62M565.67 138.66l-4-2.31l-4 2.31v4.62M573.67 138.66l-4-2.31l-4 2.31v4.62M581.67 138.66l-4-2.31l-4 2.31v4.62M589.68 138.66l-4-2.31l-4 2.31v4.62M597.68 138.66l-4-2.31l-4 2.31v4.62M605.68 138.66l-4-2.31l-4 2.31v4.62M613.68 138.66l-4-2.31l-4 2.31v4.62M621.68 138.66l-4-2.31l-4 2.31v4.62M629.68 138.66l-4-2.31l-4 2.31v4.62M637.68 138.66l-4-2.31l-4 2.31v4.62M645.68 138.66l-4-2.31l-4 2.31v4.62M653.68 138.66l-4-2.31l-4 2.31v4.62M661.68 138.66l-4-2.31l-4 2.31v4.62M669.69 138.66l-4-2.31l-4 2.31v4.62M677.69 138.66l-4-2.31l-4 2.31v4.62M685.69 138.66l-4-2.31l-4 2.31v4.62M693.69 138.66l-4-2.31l-4 2.31v4.62M701.69 138.66l-4-2.31l-4 2.31v4.62M709.69 138.66l-4-2.31l-4 2.31v4.62M717.69 138.66l-4-2.31l-4 2.31v4.62M725.69 138.66l-4-2.31l-4 2.31v4.62M733.69 138.66l-4-2.31l-4 2.31v4.62M741.69 138.66l-4-2.31l-4 2.31v4.62M749.70 138.66l-4-2.31l-4 2.31v4.62M757.70 138.66l-4-2.31l-4 2.31v4.62M481.66 145.59l-4-2.31l-4 2.31v4.62M489.66 145.59l-4-2.31l-4 2.31v4.62M497.66 145.59l-4-2.31l-4 2.31v4.62M505.66 145.59l-4-2.31l-4 2.31v4.62M513.67 145.59l-4-2.31l-4 2.31v4.62M521.67 145.59l-4-2.31l-4 2.31v4.62M529.67 145.59l-4-2.31l-4 2.31v4.62M537.67 145.59l-4-2.31l-4 2.31v4.62M545.67 145.59l-4-2.31l-4 2.31v4.62M553.67 145.59l-4-2.31l-4 2.31v4.62M561.67 145.59l-4-2.31l-4 2.31v4.62M569.67 145.59l-4-2.31l-4 2.31v4.62M577.67 145.59l-4-2.31l-4 2.31v4.62M585.67 145.59l-4-2.31l-4 2.31v4.62M593.68 145.59l-4-2.31l-4 2.31v4.62M601.68 145.59l-4-2.31l-4 2.31v4.62M609.68 145.59l-4-2.31l-4 2.31v4.62M617.68 145.59l-4-2.31l-4 2.31v4.62M625.68 145.59l-4-2.31l-4 2.31v4.62M633.68 145.59l-4-2.31l-4 2.31v4.62M641.68 145.59l-4-2.31l-4 2.31v4.62M649.68 145.59l-4-2.31l-4 2.31v4.62M657.68 145.59l-4-2.31l-4 2.31v4.62M665.68 145.59l-4-2.31l-4 2.31v4.62M673.69 145.59l-4-2.31l-4 2.31v4.62M681.69 145.59l-4-2.31l-4 2.31v4.62M689.69 145.59l-4-2.31l-4 2.31v4.62M697.69 145.59l-4-2.31l-4 2.31v4.62M705.69 145.59l-4-2.31l-4 2.31v4.62M713.69 145.59l-4-2.31l-4 2.31v4.62M721.69 145.59l-4-2.31l-4 2.31v4.62M729.69 145.59l-4-2.31l-4 2.31v4.62M737.69 145.59l-4-2.31l-4 2.31v4.62M745.69 145.59l-4-2.31l-4 2.31v4.62M753.70 145.59l-4-2.31l-4 2.31v4.62M761.70 145.59l-4-2.31l-4 2.31v4.62M469.66 152.52l-4-2.31l-4 2.31v4.62M477.66 152.52l-4-2.31l-4 2.31v4.62M485.66 152.52l-4-2.31l-4 2.31v4.62M493.66 152.52l-4-2.31l-4 2.31v4.62M501.66 152.52l-4-2.31l-4 2.31v4.62M509.67 152.52l-4-2.31l-4 2.31v4.62M517.67 152.52l-4-2.31l-4 2.31v4.62M525.67 152.52l-4-2.31l-4 2.31v4.62M533.67 152.52l-4-2.31l-4 2.31v4.62M541.67 152.52l-4-2.31l-4 2.31v4.62M549.67 152.52l-4-2.31l-4 2.31v4.62M557.67 152.52l-4-2.31l-4 2.31v4.62M565.67 152.52l-4-2.31l-4 2.31v4.62M573.67 152.52l-4-2.31l-4 2.31v4.62M581.67 152.52l-4-2.31l-4 2.31v4.62M589.68 152.52l-4-2.31l-4 2.31v4.62M597.68 152.52l-4-2.31l-4 2.31v4.62M605.68 152.52l-4-2.31l-4 2.31v4.62M613.68 152.52l-4-2.31l-4 2.31v4.62M621.68 152.52l-4-2.31l-4 2.31v4.62M629.68 152.52l-4-2.31l-4 2.31v4.62M637.68 152.52l-4-2.31l-4 2.31v4.62M645.68 152.52l-4-2.31l-4 2.31v4.62M653.68 152.52l-4-2.31l-4 2.31v4.62M661.68 152.52l-4-2.31l-4 2.31v4.62M669.69 152.52l-4-2.31l-4 2.31v4.62M677.69 152.52l-4-2.31l-4 2.31v4.62M685.69 152.52l-4-2.31l-4 2.31v4.62M693.69 152.52l-4-2.31l-4 2.31v4.62M701.69 152.52l-4-2.31l-4 2.31v4.62M709.69 152.52l-4-2.31l-4 2.31v4.62M717.69 152.52l-4-2.31l-4 2.31v4.62M725.69 152.52l-4-2.31l-4 2.31v4.62M733.69 152.52l-4-2.31l-4 2.31v4.62M741.69 152.52l-4-2.31l-4 2.31v4.62M749.70 152.52l-4-2.31l-4 2.31v4.62M757.70 152.52l-4-2.31l-4 2.31v4.62M765.70 152.52l-4-2.31l-4 2.31v4.62M449.66 159.45l-4-2.31l-4 2.31v4.62M457.66 159.45l-4-2.31l-4 2.31v4.62M465.66 159.45l-4-2.31l-4 2.31v4.62M473.66 159.45l-4-2.31l-4 2.31v4.62M481.66 159.45l-4-2.31l-4 2.31v4.62M489.66 159.45l-4-2.31l-4 2.31v4.62M497.66 159.45l-4-2.31l-4 2.31v4.62M505.66 159.45l-4-2.31l-4 2.31v4.62M513.67 159.45l-4-2.31l-4 2.31v4.62M521.67 159.45l-4-2.31l-4 2.31v4.62M529.67 159.45l-4-2.31l-4 2.31v4.62M537.67 159.45l-4-2.31l-4 2.31v4.62M545.67 159.45l-4-2.31l-4 2.31v4.62M553.67 159.45l-4-2.31l-4 2.31v4.62M561.67 159.45l-4-2.31l-4 2.31v4.62M569.67 159.45l-4-2.31l-4 2.31v4.62M577.67 159.45l-4-2.31l-4 2.31v4.62M585.67 159.45l-4-2.31l-4 2.31v4.62M593.68 159.45l-4-2.31l-4 2.31v4.62M601.68 159.45l-4-2.31l-4 2.31v4.62M609.68 159.45l-4-2.31l-4 2.31v4.62M617.68 159.45l-4-2.31l-4 2.31v4.62M625.68 159.45l-4-2.31l-4 2.31v4.62M633.68 159.45l-4-2.31l-4 2.31v4.62M641.68 159.45l-4-2.31l-4 2.31v4.62M649.68 159.45l-4-2.31l-4 2.31v4.62M657.68 159.45l-4-2.31l-4 2.31v4.62M665.68 159.45l-4-2.31l-4 2.31v4.62M673.69 159.45l-4-2.31l-4 2.31v4.62M681.69 159.45l-4-2.31l-4 2.31v4.62M689.69 159.45l-4-2.31l-4 2.31v4.62M697.69 159.45l-4-2.31l-4 2.31v4.62M705.69 159.45l-4-2.31l-4 2.31v4.62M713.69 159.45l-4-2.31l-4 2.31v4.62M721.69 159.45l-4-2.31l-4 2.31v4.62M729.69 159.45l-4-2.31l-4 2.31v4.62M737.69 159.45l-4-2.31l-4 2.31v4.62M745.69 159.45l-4-2.31l-4 2.31v4.62M753.70 159.45l-4-2.31l-4 2.31v4.62M761.70 159.45l-4-2.31l-4 2.31v4.62M769.70 159.45l-4-2.31l-4 2.31v4.62M785.70 159.45l-4-2.31l-4 2.31v4.62M793.70 159.45l-4-2.31l-4 2.31v4.62M437.66 166.38l-4-2.31l-4 2.31v4.62M445.66 166.38l-4-2.31l-4 2.31v4.62M453.66 166.38l-4-2.31l-4 2.31v4.62M461.66 166.38l-4-2.31l-4 2.31v4.62M469.66 166.38l-4-2.31l-4 2.31v4.62M477.66 166.38l-4-2.31l-4 2.31v4.62M485.66 166.38l-4-2.31l-4 2.31v4.62M493.66 166.38l-4-2.31l-4 2.31v4.62M501.66 166.38l-4-2.31l-4 2.31v4.62M509.67 166.38l-4-2.31l-4 2.31v4.62M517.67 166.38l-4-2.31l-4 2.31v4.62M525.67 166.38l-4-2.31l-4 2.31v4.62M533.67 166.38l-4-2.31l-4 2.31v4.62M541.67 166.38l-4-2.31l-4 2.31v4.62M549.67 166.38l-4-2.31l-4 2.31v4.62M557.67 166.38l-4-2.31l-4 2.31v4.62M565.67 166.38l-4-2.31l-4 2.31v4.62M573.67 166.38l-4-2.31l-4 2.31v4.62M581.67 166.38l-4-2.31l-4 2.31v4.62M589.68 166.38l-4-2.31l-4 2.31v4.62M597.68 166.38l-4-2.31l-4 2.31v4.62M605.68 166.38l-4-2.31l-4 2.31v4.62M613.68 166.38l-4-2.31l-4 2.31v4.62M621.68 166.38l-4-2.31l-4 2.31v4.62M629.68 166.38l-4-2.31l-4 2.31v4.62M637.68 166.38l-4-2.31l-4 2.31v4.62M645.68 166.38l-4-2.31l-4 2.31v4.62M653.68 166.38l-4-2.31l-4 2.31v4.62M661.68 166.38l-4-2.31l-4 2.31v4.62M669.69 166.38l-4-2.31l-4 2.31v4.62M677.69 166.38l-4-2.31l-4 2.31v4.62M685.69 166.38l-4-2.31l-4 2.31v4.62M693.69 166.38l-4-2.31l-4 2.31v4.62M701.69 166.38l-4-2.31l-4 2.31v4.62M709.69 166.38l-4-2.31l-4 2.31v4.62M717.69 166.38l-4-2.31l-4 2.31v4.62M725.69 166.38l-4-2.31l-4 2.31v4.62M733.69 166.38l-4-2.31l-4 2.31v4.62M741.69 166.38l-4-2.31l-4 2.31v4.62M749.70 166.38l-4-2.31l-4 2.31v4.62M757.70 166.38l-4-2.31l-4 2.31v4.62M765.70 166.38l-4-2.31l-4 2.31v4.62M781.70 166.38l-4-2.31l-4 2.31v4.62M789.70 166.38l-4-2.31l-4 2.31v4.62M797.70 166.38l-4-2.31l-4 2.31v4.62M805.70 166.38l-4-2.31l-4 2.31v4.62M433.66 173.30l-4-2.31l-4 2.31v4.62M441.66 173.30l-4-2.31l-4 2.31v4.62M449.66 173.30l-4-2.31l-4 2.31v4.62M457.66 173.30l-4-2.31l-4 2.31v4.62M465.66 173.30l-4-2.31l-4 2.31v4.62M473.66 173.30l-4-2.31l-4 2.31v4.62M481.66 173.30l-4-2.31l-4 2.31v4.62M489.66 173.30l-4-2.31l-4 2.31v4.62M497.66 173.30l-4-2.31l-4 2.31v4.62M505.66 173.30l-4-2.31l-4 2.31v4.62M513.67 173.30l-4-2.31l-4 2.31v4.62M521.67 173.30l-4-2.31l-4 2.31v4.62M529.67 173.30l-4-2.31l-4 2.31v4.62M537.67 173.30l-4-2.31l-4 2.31v4.62M545.67 173.30l-4-2.31l-4 2.31v4.62M553.67 173.30l-4-2.31l-4 2.31v4.62M561.67 173.30l-4-2.31l-4 2.31v4.62M569.67 173.30l-4-2.31l-4 2.31v4.62M577.67 173.30l-4-2.31l-4 2.31v4.62M585.67 173.30l-4-2.31l-4 2.31v4.62M593.68 173.30l-4-2.31l-4 2.31v4.62M601.68 173.30l-4-2.31l-4 2.31v4.62M609.68 173.30l-4-2.31l-4 2.31v4.62M617.68 173.30l-4-2.31l-4 2.31v4.62M625.68 173.30l-4-2.31l-4 2.31v4.62M633.68 173.30l-4-2.31l-4 2.31v4.62M641.68 173.30l-4-2.31l-4 2.31v4.62M649.68 173.30l-4-2.31l-4 2.31v4.62M657.68 173.30l-4-2.31l-4 2.31v4.62M665.68 173.30l-4-2.31l-4 2.31v4.62M673.69 173.30l-4-2.31l-4 2.31v4.62M681.69 173.30l-4-2.31l-4 2.31v4.62M689.69 173.30l-4-2.31l-4 2.31v4.62M697.69 173.30l-4-2.31l-4 2.31v4.62M705.69 173.30l-4-2.31l-4 2.31v4.62M713.69 173.30l-4-2.31l-4 2.31v4.62M721.69 173.30l-4-2.31l-4 2.31v4.62M729.69 173.30l-4-2.31l-4 2.31v4.62M737.69 173.30l-4-2.31l-4 2.31v4.62M745.69 173.30l-4-2.31l-4 2.31v4.62M753.70 173.30l-4-2.31l-4 2.31v4.62M761.70 173.30l-4-2.31l-4 2.31v4.62M769.70 173.30l-4-2.31l-4 2.31v4.62M777.70 173.30l-4-2.31l-4 2.31v4.62M785.70 173.30l-4-2.31l-4 2.31v4.62M793.70 173.30l-4-2.31l-4 2.31v4.62M801.70 173.30l-4-2.31l-4 2.31v4.62M809.70 173.30l-4-2.31l-4 2.31v4.62M817.70 173.30l-4-2.31l-4 2.31v4.62M429.66 180.23l-4-2.31l-4 2.31v4.62M437.66 180.23l-4-2.31l-4 2.31v4.62M445.66 180.23l-4-2.31l-4 2.31v4.62M453.66 180.23l-4-2.31l-4 2.31v4.62M461.66 180.23l-4-2.31l-4 2.31v4.62M469.66 180.23l-4-2.31l-4 2.31v4.62M477.66 180.23l-4-2.31l-4 2.31v4.62M485.66 180.23l-4-2.31l-4 2.31v4.62M493.66 180.23l-4-2.31l-4 2.31v4.62M501.66 180.23l-4-2.31l-4 2.31v4.62M509.67 180.23l-4-2.31l-4 2.31v4.62M517.67 180.23l-4-2.31l-4 2.31v4.62M525.67 180.23l-4-2.31l-4 2.31v4.62M533.67 180.23l-4-2.31l-4 2.31v4.62M541.67 180.23l-4-2.31l-4 2.31v4.62M549.67 180.23l-4-2.31l-4 2.31v4.62M557.67 180.23l-4-2.31l-4 2.31v4.62M565.67 180.23l-4-2.31l-4 2.31v4.62M573.67 180.23l-4-2.31l-4 2.31v4.62M581.67 180.23l-4-2.31l-4 2.31v4.62M589.68 180.23l-4-2.31l-4 2.31v4.62M597.68 180.23l-4-2.31l-4 2.31v4.62M605.68 180.23l-4-2.31l-4 2.31v4.62M613.68 180.23l-4-2.31l-4 2.31v4.62M621.68 180.23l-4-2.31l-4 2.31v4.62M629.68 180.23l-4-2.31l-4 2.31v4.62M637.68 180.23l-4-2.31l-4 2.31v4.62M645.68 180.23l-4-2.31l-4 2.31v4.62M653.68 180.23l-4-2.31l-4 2.31v4.62M661.68 180.23l-4-2.31l-4 2.31v4.62M669.69 180.23l-4-2.31l-4 2.31v4.62M677.69 180.23l-4-2.31l-4 2.31v4.62M685.69 180.23l-4-2.31l-4 2.31v4.62M693.69 180.23l-4-2.31l-4 2.31v4.62M701.69 180.23l-4-2.31l-4 2.31v4.62M709.69 180.23l-4-2.31l-4 2.31v4.62M717.69 180.23l-4-2.31l-4 2.31v4.62M725.69 180.23l-4-2.31l-4 2.31v4.62M733.69 180.23l-4-2.31l-4 2.31v4.62M741.69 180.23l-4-2.31l-4 2.31v4.62M749.70 180.23l-4-2.31l-4 2.31v4.62M757.70 180.23l-4-2.31l-4 2.31v4.62M765.70 180.23l-4-2.31l-4 2.31v4.62M773.70 180.23l-4-2.31l-4 2.31v4.62M781.70 180.23l-4-2.31l-4 2.31v4.62M789.70 180.23l-4-2.31l-4 2.31v4.62M797.70 180.23l-4-2.31l-4 2.31v4.62M805.70 180.23l-4-2.31l-4 2.31v4.62M813.70 180.23l-4-2.31l-4 2.31v4.62M821.70 180.23l-4-2.31l-4 2.31v4.62M829.71 180.23l-4-2.31l-4 2.31v4.62M837.71 180.23l-4-2.31l-4 2.31v4.62M845.71 180.23l-4-2.31l-4 2.31v4.62M853.71 180.23l-4-2.31l-4 2.31v4.62M425.65 187.16l-4-2.31l-4 2.31v4.62M433.66 187.16l-4-2.31l-4 2.31v4.62M441.66 187.16l-4-2.31l-4 2.31v4.62M449.66 187.16l-4-2.31l-4 2.31v4.62M457.66 187.16l-4-2.31l-4 2.31v4.62M465.66 187.16l-4-2.31l-4 2.31v4.62M473.66 187.16l-4-2.31l-4 2.31v4.62M481.66 187.16l-4-2.31l-4 2.31v4.62M489.66 187.16l-4-2.31l-4 2.31v4.62M497.66 187.16l-4-2.31l-4 2.31v4.62M505.66 187.16l-4-2.31l-4 2.31v4.62M513.67 187.16l-4-2.31l-4 2.31v4.62M521.67 187.16l-4-2.31l-4 2.31v4.62M529.67 187.16l-4-2.31l-4 2.31v4.62M537.67 187.16l-4-2.31l-4 2.31v4.62M545.67 187.16l-4-2.31l-4 2.31v4.62M553.67 187.16l-4-2.31l-4 2.31v4.62M561.67 187.16l-4-2.31l-4 2.31v4.62M569.67 187.16l-4-2.31l-4 2.31v4.62M577.67 187.16l-4-2.31l-4 2.31v4.62M585.67 187.16l-4-2.31l-4 2.31v4.62M593.68 187.16l-4-2.31l-4 2.31v4.62M601.68 187.16l-4-2.31l-4 2.31v4.62M609.68 187.16l-4-2.31l-4 2.31v4.62M617.68 187.16l-4-2.31l-4 2.31v4.62M625.68 187.16l-4-2.31l-4 2.31v4.62M633.68 187.16l-4-2.31l-4 2.31v4.62M641.68 187.16l-4-2.31l-4 2.31v4.62M649.68 187.16l-4-2.31l-4 2.31v4.62M657.68 187.16l-4-2.31l-4 2.31v4.62M665.68 187.16l-4-2.31l-4 2.31v4.62M673.69 187.16l-4-2.31l-4 2.31v4.62M681.69 187.16l-4-2.31l-4 2.31v4.62M689.69 187.16l-4-2.31l-4 2.31v4.62M697.69 187.16l-4-2.31l-4 2.31v4.62M705.69 187.16l-4-2.31l-4 2.31v4.62M713.69 187.16l-4-2.31l-4 2.31v4.62M721.69 187.16l-4-2.31l-4 2.31v4.62M729.69 187.16l-4-2.31l-4 2.31v4.62M737.69 187.16l-4-2.31l-4 2.31v4.62M745.69 187.16l-4-2.31l-4 2.31v4.62M753.70 187.16l-4-2.31l-4 2.31v4.62M761.70 187.16l-4-2.31l-4 2.31v4.62M769.70 187.16l-4-2.31l-4 2.31v4.62M777.70 187.16l-4-2.31l-4 2.31v4.62M785.70 187.16l-4-2.31l-4 2.31v4.62M793.70 187.16l-4-2.31l-4 2.31v4.62M801.70 187.16l-4-2.31l-4 2.31v4.62M809.70 187.16l-4-2.31l-4 2.31v4.62M817.70 187.16l-4-2.31l-4 2.31v4.62M825.70 187.16l-4-2.31l-4 2.31v4.62M833.71 187.16l-4-2.31l-4 2.31v4.62M841.71 187.16l-4-2.31l-4 2.31v4.62M849.71 187.16l-4-2.31l-4 2.31v4.62M857.71 187.16l-4-2.31l-4 2.31v4.62M865.71 187.16l-4-2.31l-4 2.31v4.62M421.65 194.09l-4-2.31l-4 2.31v4.62M429.66 194.09l-4-2.31l-4 2.31v4.62M437.66 194.09l-4-2.31l-4 2.31v4.62M445.66 194.09l-4-2.31l-4 2.31v4.62M453.66 194.09l-4-2.31l-4 2.31v4.62M461.66 194.09l-4-2.31l-4 2.31v4.62M469.66 194.09l-4-2.31l-4 2.31v4.62M477.66 194.09l-4-2.31l-4 2.31v4.62M485.66 194.09l-4-2.31l-4 2.31v4.62M493.66 194.09l-4-2.31l-4 2.31v4.62M501.66 194.09l-4-2.31l-4 2.31v4.62M509.67 194.09l-4-2.31l-4 2.31v4.62M517.67 194.09l-4-2.31l-4 2.31v4.62M525.67 194.09l-4-2.31l-4 2.31v4.62M533.67 194.09l-4-2.31l-4 2.31v4.62M541.67 194.09l-4-2.31l-4 2.31v4.62M549.67 194.09l-4-2.31l-4 2.31v4.62M557.67 194.09l-4-2.31l-4 2.31v4.62M565.67 194.09l-4-2.31l-4 2.31v4.62M573.67 194.09l-4-2.31l-4 2.31v4.62M581.67 194.09l-4-2.31l-4 2.31v4.62M589.68 194.09l-4-2.31l-4 2.31v4.62M597.68 194.09l-4-2.31l-4 2.31v4.62M605.68 194.09l-4-2.31l-4 2.31v4.62M613.68 194.09l-4-2.31l-4 2.31v4.62M621.68 194.09l-4-2.31l-4 2.31v4.62M629.68 194.09l-4-2.31l-4 2.31v4.62M637.68 194.09l-4-2.31l-4 2.31v4.62M645.68 194.09l-4-2.31l-4 2.31v4.62M653.68 194.09l-4-2.31l-4 2.31v4.62M661.68 194.09l-4-2.31l-4 2.31v4.62M669.69 194.09l-4-2.31l-4 2.31v4.62M677.69 194.09l-4-2.31l-4 2.31v4.62M685.69 194.09l-4-2.31l-4 2.31v4.62M693.69 194.09l-4-2.31l-4 2.31v4.62M701.69 194.09l-4-2.31l-4 2.31v4.62M709.69 194.09l-4-2.31l-4 2.31v4.62M717.69 194.09l-4-2.31l-4 2.31v4.62M725.69 194.09l-4-2.31l-4 2.31v4.62M733.69 194.09l-4-2.31l-4 2.31v4.62M741.69 194.09l-4-2.31l-4 2.31v4.62M749.70 194.09l-4-2.31l-4 2.31v4.62M757.70 194.09l-4-2.31l-4 2.31v4.62M765.70 194.09l-4-2.31l-4 2.31v4.62M773.70 194.09l-4-2.31l-4 2.31v4.62M781.70 194.09l-4-2.31l-4 2.31v4.62M789.70 194.09l-4-2.31l-4 2.31v4.62M797.70 194.09l-4-2.31l-4 2.31v4.62M805.70 194.09l-4-2.31l-4 2.31v4.62M813.70 194.09l-4-2.31l-4 2.31v4.62M821.70 194.09l-4-2.31l-4 2.31v4.62M829.71 194.09l-4-2.31l-4 2.31v4.62M837.71 194.09l-4-2.31l-4 2.31v4.62M845.71 194.09l-4-2.31l-4 2.31v4.62M853.71 194.09l-4-2.31l-4 2.31v4.62M861.71 194.09l-4-2.31l-4 2.31v4.62M869.71 194.09l-4-2.31l-4 2.31v4.62M417.65 201.02l-4-2.31l-4 2.31v4.62M425.65 201.02l-4-2.31l-4 2.31v4.62M433.66 201.02l-4-2.31l-4 2.31v4.62M441.66 201.02l-4-2.31l-4 2.31v4.62M449.66 201.02l-4-2.31l-4 2.31v4.62M457.66 201.02l-4-2.31l-4 2.31v4.62M465.66 201.02l-4-2.31l-4 2.31v4.62M473.66 201.02l-4-2.31l-4 2.31v4.62M481.66 201.02l-4-2.31l-4 2.31v4.62M489.66 201.02l-4-2.31l-4 2.31v4.62M497.66 201.02l-4-2.31l-4 2.31v4.62M505.66 201.02l-4-2.31l-4 2.31v4.62M513.67 201.02l-4-2.31l-4 2.31v4.62M521.67 201.02l-4-2.31l-4 2.31v4.62M529.67 201.02l-4-2.31l-4 2.31v4.62M537.67 201.02l-4-2.31l-4 2.31v4.62M545.67 201.02l-4-2.31l-4 2.31v4.62M553.67 201.02l-4-2.31l-4 2.31v4.62M561.67 201.02l-4-2.31l-4 2.31v4.62M569.67 201.02l-4-2.31l-4 2.31v4.62M577.67 201.02l-4-2.31l-4 2.31v4.62M585.67 201.02l-4-2.31l-4 2.31v4.62M593.68 201.02l-4-2.31l-4 2.31v4.62M601.68 201.02l-4-2.31l-4 2.31v4.62M609.68 201.02l-4-2.31l-4 2.31v4.62M617.68 201.02l-4-2.31l-4 2.31v4.62M625.68 201.02l-4-2.31l-4 2.31v4.62M633.68 201.02l-4-2.31l-4 2.31v4.62M641.68 201.02l-4-2.31l-4 2.31v4.62M649.68 201.02l-4-2.31l-4 2.31v4.62M657.68 201.02l-4-2.31l-4 2.31v4.62M665.68 201.02l-4-2.31l-4 2.31v4.62M673.69 201.02l-4-2.31l-4 2.31v4.62M681.69 201.02l-4-2.31l-4 2.31v4.62M689.69 201.02l-4-2.31l-4 2.31v4.62M697.69 201.02l-4-2.31l-4 2.31v4.62M705.69 201.02l-4-2.31l-4 2.31v4.62M713.69 201.02l-4-2.31l-4 2.31v4.62M721.69 201.02l-4-2.31l-4 2.31v4.62M729.69 201.02l-4-2.31l-4 2.31v4.62M737.69 201.02l-4-2.31l-4 2.31v4.62M745.69 201.02l-4-2.31l-4 2.31v4.62M753.70 201.02l-4-2.31l-4 2.31v4.62M761.70 201.02l-4-2.31l-4 2.31v4.62M769.70 201.02l-4-2.31l-4 2.31v4.62M777.70 201.02l-4-2.31l-4 2.31v4.62M785.70 201.02l-4-2.31l-4 2.31v4.62M793.70 201.02l-4-2.31l-4 2.31v4.62M801.70 201.02l-4-2.31l-4 2.31v4.62M809.70 201.02l-4-2.31l-4 2.31v4.62M817.70 201.02l-4-2.31l-4 2.31v4.62M825.70 201.02l-4-2.31l-4 2.31v4.62M833.71 201.02l-4-2.31l-4 2.31v4.62M841.71 201.02l-4-2.31l-4 2.31v4.62M849.71 201.02l-4-2.31l-4 2.31v4.62M857.71 201.02l-4-2.31l-4 2.31v4.62M865.71 201.02l-4-2.31l-4 2.31v4.62M873.71 201.02l-4-2.31l-4 2.31v4.62M881.71 201.02l-4-2.31l-4 2.31v4.62M413.65 207.95l-4-2.31l-4 2.31v4.62M421.65 207.95l-4-2.31l-4 2.31v4.62M429.66 207.95l-4-2.31l-4 2.31v4.62M437.66 207.95l-4-2.31l-4 2.31v4.62M445.66 207.95l-4-2.31l-4 2.31v4.62M453.66 207.95l-4-2.31l-4 2.31v4.62M461.66 207.95l-4-2.31l-4 2.31v4.62M469.66 207.95l-4-2.31l-4 2.31v4.62M477.66 207.95l-4-2.31l-4 2.31v4.62M485.66 207.95l-4-2.31l-4 2.31v4.62M493.66 207.95l-4-2.31l-4 2.31v4.62M501.66 207.95l-4-2.31l-4 2.31v4.62M509.67 207.95l-4-2.31l-4 2.31v4.62M517.67 207.95l-4-2.31l-4 2.31v4.62M525.67 207.95l-4-2.31l-4 2.31v4.62M533.67 207.95l-4-2.31l-4 2.31v4.62M541.67 207.95l-4-2.31l-4 2.31v4.62M549.67 207.95l-4-2.31l-4 2.31v4.62M557.67 207.95l-4-2.31l-4 2.31v4.62M565.67 207.95l-4-2.31l-4 2.31v4.62M573.67 207.95l-4-2.31l-4 2.31v4.62M581.67 207.95l-4-2.31l-4 2.31v4.62M589.68 207.95l-4-2.31l-4 2.31v4.62M597.68 207.95l-4-2.31l-4 2.31v4.62M605.68 207.95l-4-2.31l-4 2.31v4.62M613.68 207.95l-4-2.31l-4 2.31v4.62M621.68 207.95l-4-2.31l-4 2.31v4.62M629.68 207.95l-4-2.31l-4 2.31v4.62M637.68 207.95l-4-2.31l-4 2.31v4.62M645.68 207.95l-4-2.31l-4 2.31v4.62M653.68 207.95l-4-2.31l-4 2.31v4.62M661.68 207.95l-4-2.31l-4 2.31v4.62M669.69 207.95l-4-2.31l-4 2.31v4.62M677.69 207.95l-4-2.31l-4 2.31v4.62M685.69 207.95l-4-2.31l-4 2.31v4.62M693.69 207.95l-4-2.31l-4 2.31v4.62M701.69 207.95l-4-2.31l-4 2.31v4.62M709.69 207.95l-4-2.31l-4 2.31v4.62M717.69 207.95l-4-2.31l-4 2.31v4.62M725.69 207.95l-4-2.31l-4 2.31v4.62M733.69 207.95l-4-2.31l-4 2.31v4.62M741.69 207.95l-4-2.31l-4 2.31v4.62M749.70 207.95l-4-2.31l-4 2.31v4.62M757.70 207.95l-4-2.31l-4 2.31v4.62M765.70 207.95l-4-2.31l-4 2.31v4.62M773.70 207.95l-4-2.31l-4 2.31v4.62M781.70 207.95l-4-2.31l-4 2.31v4.62M789.70 207.95l-4-2.31l-4 2.31v4.62M797.70 207.95l-4-2.31l-4 2.31v4.62M805.70 207.95l-4-2.31l-4 2.31v4.62M813.70 207.95l-4-2.31l-4 2.31v4.62M821.70 207.95l-4-2.31l-4 2.31v4.62M829.71 207.95l-4-2.31l-4 2.31v4.62M837.71 207.95l-4-2.31l-4 2.31v4.62M845.71 207.95l-4-2.31l-4 2.31v4.62M853.71 207.95l-4-2.31l-4 2.31v4.62M861.71 207.95l-4-2.31l-4 2.31v4.62M869.71 207.95l-4-2.31l-4 2.31v4.62M877.71 207.95l-4-2.31l-4 2.31v4.62M885.71 207.95l-4-2.31l-4 2.31v4.62M409.65 214.88l-4-2.31l-4 2.31v4.62M417.65 214.88l-4-2.31l-4 2.31v4.62M425.65 214.88l-4-2.31l-4 2.31v4.62M433.66 214.88l-4-2.31l-4 2.31v4.62M441.66 214.88l-4-2.31l-4 2.31v4.62M449.66 214.88l-4-2.31l-4 2.31v4.62M457.66 214.88l-4-2.31l-4 2.31v4.62M465.66 214.88l-4-2.31l-4 2.31v4.62M473.66 214.88l-4-2.31l-4 2.31v4.62M481.66 214.88l-4-2.31l-4 2.31v4.62M489.66 214.88l-4-2.31l-4 2.31v4.62M497.66 214.88l-4-2.31l-4 2.31v4.62M505.66 214.88l-4-2.31l-4 2.31v4.62M513.67 214.88l-4-2.31l-4 2.31v4.62M521.67 214.88l-4-2.31l-4 2.31v4.62M529.67 214.88l-4-2.31l-4 2.31v4.62M537.67 214.88l-4-2.31l-4 2.31v4.62M545.67 214.88l-4-2.31l-4 2.31v4.62M553.67 214.88l-4-2.31l-4 2.31v4.62M561.67 214.88l-4-2.31l-4 2.31v4.62M569.67 214.88l-4-2.31l-4 2.31v4.62M577.67 214.88l-4-2.31l-4 2.31v4.62M585.67 214.88l-4-2.31l-4 2.31v4.62M593.68 214.88l-4-2.31l-4 2.31v4.62M601.68 214.88l-4-2.31l-4 2.31v4.62M609.68 214.88l-4-2.31l-4 2.31v4.62M617.68 214.88l-4-2.31l-4 2.31v4.62M625.68 214.88l-4-2.31l-4 2.31v4.62M633.68 214.88l-4-2.31l-4 2.31v4.62M641.68 214.88l-4-2.31l-4 2.31v4.62M649.68 214.88l-4-2.31l-4 2.31v4.62M657.68 214.88l-4-2.31l-4 2.31v4.62M665.68 214.88l-4-2.31l-4 2.31v4.62M673.69 214.88l-4-2.31l-4 2.31v4.62M681.69 214.88l-4-2.31l-4 2.31v4.62M689.69 214.88l-4-2.31l-4 2.31v4.62M697.69 214.88l-4-2.31l-4 2.31v4.62M705.69 214.88l-4-2.31l-4 2.31v4.62M713.69 214.88l-4-2.31l-4 2.31v4.62M721.69 214.88l-4-2.31l-4 2.31v4.62M729.69 214.88l-4-2.31l-4 2.31v4.62M737.69 214.88l-4-2.31l-4 2.31v4.62M745.69 214.88l-4-2.31l-4 2.31v4.62M753.70 214.88l-4-2.31l-4 2.31v4.62M761.70 214.88l-4-2.31l-4 2.31v4.62M769.70 214.88l-4-2.31l-4 2.31v4.62M777.70 214.88l-4-2.31l-4 2.31v4.62M785.70 214.88l-4-2.31l-4 2.31v4.62M793.70 214.88l-4-2.31l-4 2.31v4.62M801.70 214.88l-4-2.31l-4 2.31v4.62M809.70 214.88l-4-2.31l-4 2.31v4.62M817.70 214.88l-4-2.31l-4 2.31v4.62M825.70 214.88l-4-2.31l-4 2.31v4.62M833.71 214.88l-4-2.31l-4 2.31v4.62M841.71 214.88l-4-2.31l-4 2.31v4.62M849.71 214.88l-4-2.31l-4 2.31v4.62M857.71 214.88l-4-2.31l-4 2.31v4.62M865.71 214.88l-4-2.31l-4 2.31v4.62M873.71 214.88l-4-2.31l-4 2.31v4.62M881.71 214.88l-4-2.31l-4 2.31v4.62M889.71 214.88l-4-2.31l-4 2.31v4.62M897.71 214.88l-4-2.31l-4 2.31v4.62M405.65 221.81l-4-2.31l-4 2.31v4.62M413.65 221.81l-4-2.31l-4 2.31v4.62M421.65 221.81l-4-2.31l-4 2.31v4.62M429.66 221.81l-4-2.31l-4 2.31v4.62M437.66 221.81l-4-2.31l-4 2.31v4.62M445.66 221.81l-4-2.31l-4 2.31v4.62M453.66 221.81l-4-2.31l-4 2.31v4.62M461.66 221.81l-4-2.31l-4 2.31v4.62M469.66 221.81l-4-2.31l-4 2.31v4.62M477.66 221.81l-4-2.31l-4 2.31v4.62M485.66 221.81l-4-2.31l-4 2.31v4.62M493.66 221.81l-4-2.31l-4 2.31v4.62M501.66 221.81l-4-2.31l-4 2.31v4.62M509.67 221.81l-4-2.31l-4 2.31v4.62M517.67 221.81l-4-2.31l-4 2.31v4.62M525.67 221.81l-4-2.31l-4 2.31v4.62M533.67 221.81l-4-2.31l-4 2.31v4.62M541.67 221.81l-4-2.31l-4 2.31v4.62M549.67 221.81l-4-2.31l-4 2.31v4.62M557.67 221.81l-4-2.31l-4 2.31v4.62M565.67 221.81l-4-2.31l-4 2.31v4.62M573.67 221.81l-4-2.31l-4 2.31v4.62M581.67 221.81l-4-2.31l-4 2.31v4.62M589.68 221.81l-4-2.31l-4 2.31v4.62M597.68 221.81l-4-2.31l-4 2.31v4.62M605.68 221.81l-4-2.31l-4 2.31v4.62M613.68 221.81l-4-2.31l-4 2.31v4.62M621.68 221.81l-4-2.31l-4 2.31v4.62M629.68 221.81l-4-2.31l-4 2.31v4.62M637.68 221.81l-4-2.31l-4 2.31v4.62M645.68 221.81l-4-2.31l-4 2.31v4.62M653.68 221.81l-4-2.31l-4 2.31v4.62M661.68 221.81l-4-2.31l-4 2.31v4.62M669.69 221.81l-4-2.31l-4 2.31v4.62M677.69 221.81l-4-2.31l-4 2.31v4.62M685.69 221.81l-4-2.31l-4 2.31v4.62M693.69 221.81l-4-2.31l-4 2.31v4.62M701.69 221.81l-4-2.31l-4 2.31v4.62M709.69 221.81l-4-2.31l-4 2.31v4.62M717.69 221.81l-4-2.31l-4 2.31v4.62M725.69 221.81l-4-2.31l-4 2.31v4.62M733.69 221.81l-4-2.31l-4 2.31v4.62M741.69 221.81l-4-2.31l-4 2.31v4.62M749.70 221.81l-4-2.31l-4 2.31v4.62M757.70 221.81l-4-2.31l-4 2.31v4.62M765.70 221.81l-4-2.31l-4 2.31v4.62M773.70 221.81l-4-2.31l-4 2.31v4.62M781.70 221.81l-4-2.31l-4 2.31v4.62M789.70 221.81l-4-2.31l-4 2.31v4.62M797.70 221.81l-4-2.31l-4 2.31v4.62M805.70 221.81l-4-2.31l-4 2.31v4.62M813.70 221.81l-4-2.31l-4 2.31v4.62M821.70 221.81l-4-2.31l-4 2.31v4.62M829.71 221.81l-4-2.31l-4 2.31v4.62M837.71 221.81l-4-2.31l-4 2.31v4.62M845.71 221.81l-4-2.31l-4 2.31v4.62M853.71 221.81l-4-2.31l-4 2.31v4.62M861.71 221.81l-4-2.31l-4 2.31v4.62M869.71 221.81l-4-2.31l-4 2.31v4.62M877.71 221.81l-4-2.31l-4 2.31v4.62M885.71 221.81l-4-2.31l-4 2.31v4.62M893.71 221.81l-4-2.31l-4 2.31v4.62M901.71 221.81l-4-2.31l-4 2.31v4.62M409.65 228.74l-4-2.31l-4 2.31v4.62M417.65 228.74l-4-2.31l-4 2.31v4.62M425.65 228.74l-4-2.31l-4 2.31v4.62M433.66 228.74l-4-2.31l-4 2.31v4.62M441.66 228.74l-4-2.31l-4 2.31v4.62M449.66 228.74l-4-2.31l-4 2.31v4.62M457.66 228.74l-4-2.31l-4 2.31v4.62M465.66 228.74l-4-2.31l-4 2.31v4.62M473.66 228.74l-4-2.31l-4 2.31v4.62M481.66 228.74l-4-2.31l-4 2.31v4.62M489.66 228.74l-4-2.31l-4 2.31v4.62M497.66 228.74l-4-2.31l-4 2.31v4.62M505.66 228.74l-4-2.31l-4 2.31v4.62M513.67 228.74l-4-2.31l-4 2.31v4.62M521.67 228.74l-4-2.31l-4 2.31v4.62M529.67 228.74l-4-2.31l-4 2.31v4.62M537.67 228.74l-4-2.31l-4 2.31v4.62M545.67 228.74l-4-2.31l-4 2.31v4.62M553.67 228.74l-4-2.31l-4 2.31v4.62M561.67 228.74l-4-2.31l-4 2.31v4.62M569.67 228.74l-4-2.31l-4 2.31v4.62M577.67 228.74l-4-2.31l-4 2.31v4.62M585.67 228.74l-4-2.31l-4 2.31v4.62M593.68 228.74l-4-2.31l-4 2.31v4.62M601.68 228.74l-4-2.31l-4 2.31v4.62M609.68 228.74l-4-2.31l-4 2.31v4.62M617.68 228.74l-4-2.31l-4 2.31v4.62M625.68 228.74l-4-2.31l-4 2.31v4.62M633.68 228.74l-4-2.31l-4 2.31v4.62M641.68 228.74l-4-2.31l-4 2.31v4.62M649.68 228.74l-4-2.31l-4 2.31v4.62M657.68 228.74l-4-2.31l-4 2.31v4.62M665.68 228.74l-4-2.31l-4 2.31v4.62M673.69 228.74l-4-2.31l-4 2.31v4.62M681.69 228.74l-4-2.31l-4 2.31v4.62M689.69 228.74l-4-2.31l-4 2.31v4.62M697.69 228.74l-4-2.31l-4 2.31v4.62M705.69 228.74l-4-2.31l-4 2.31v4.62M713.69 228.74l-4-2.31l-4 2.31v4.62M721.69 228.74l-4-2.31l-4 2.31v4.62M729.69 228.74l-4-2.31l-4 2.31v4.62M737.69 228.74l-4-2.31l-4 2.31v4.62M745.69 228.74l-4-2.31l-4 2.31v4.62M753.70 228.74l-4-2.31l-4 2.31v4.62M761.70 228.74l-4-2.31l-4 2.31v4.62M769.70 228.74l-4-2.31l-4 2.31v4.62M777.70 228.74l-4-2.31l-4 2.31v4.62M785.70 228.74l-4-2.31l-4 2.31v4.62M793.70 228.74l-4-2.31l-4 2.31v4.62M801.70 228.74l-4-2.31l-4 2.31v4.62M809.70 228.74l-4-2.31l-4 2.31v4.62M817.70 228.74l-4-2.31l-4 2.31v4.62M825.70 228.74l-4-2.31l-4 2.31v4.62M833.71 228.74l-4-2.31l-4 2.31v4.62M841.71 228.74l-4-2.31l-4 2.31v4.62M849.71 228.74l-4-2.31l-4 2.31v4.62M857.71 228.74l-4-2.31l-4 2.31v4.62M865.71 228.74l-4-2.31l-4 2.31v4.62M873.71 228.74l-4-2.31l-4 2.31v4.62M881.71 228.74l-4-2.31l-4 2.31v4.62M889.71 228.74l-4-2.31l-4 2.31v4.62M897.71 228.74l-4-2.31l-4 2.31v4.62M905.71 228.74l-4-2.31l-4 2.31v4.62M913.72 228.74l-4-2.31l-4 2.31v4.62M969.72 228.74l-4-2.31l-4 2.31v4.62M977.72 228.74l-4-2.31l-4 2.31v4.62M985.72 228.74l-4-2.31l-4 2.31v4.62M993.73 228.74l-4-2.31l-4 2.31v4.62M405.65 235.67l-4-2.31l-4 2.31v4.62M413.65 235.67l-4-2.31l-4 2.31v4.62M421.65 235.67l-4-2.31l-4 2.31v4.62M429.66 235.67l-4-2.31l-4 2.31v4.62M437.66 235.67l-4-2.31l-4 2.31v4.62M445.66 235.67l-4-2.31l-4 2.31v4.62M453.66 235.67l-4-2.31l-4 2.31v4.62M461.66 235.67l-4-2.31l-4 2.31v4.62M469.66 235.67l-4-2.31l-4 2.31v4.62M477.66 235.67l-4-2.31l-4 2.31v4.62M485.66 235.67l-4-2.31l-4 2.31v4.62M493.66 235.67l-4-2.31l-4 2.31v4.62M501.66 235.67l-4-2.31l-4 2.31v4.62M509.67 235.67l-4-2.31l-4 2.31v4.62M517.67 235.67l-4-2.31l-4 2.31v4.62M525.67 235.67l-4-2.31l-4 2.31v4.62M533.67 235.67l-4-2.31l-4 2.31v4.62M541.67 235.67l-4-2.31l-4 2.31v4.62M549.67 235.67l-4-2.31l-4 2.31v4.62M557.67 235.67l-4-2.31l-4 2.31v4.62M565.67 235.67l-4-2.31l-4 2.31v4.62M573.67 235.67l-4-2.31l-4 2.31v4.62M581.67 235.67l-4-2.31l-4 2.31v4.62M589.68 235.67l-4-2.31l-4 2.31v4.62M597.68 235.67l-4-2.31l-4 2.31v4.62M605.68 235.67l-4-2.31l-4 2.31v4.62M613.68 235.67l-4-2.31l-4 2.31v4.62M621.68 235.67l-4-2.31l-4 2.31v4.62M629.68 235.67l-4-2.31l-4 2.31v4.62M637.68 235.67l-4-2.31l-4 2.31v4.62M645.68 235.67l-4-2.31l-4 2.31v4.62M653.68 235.67l-4-2.31l-4 2.31v4.62M661.68 235.67l-4-2.31l-4 2.31v4.62M669.69 235.67l-4-2.31l-4 2.31v4.62M677.69 235.67l-4-2.31l-4 2.31v4.62M685.69 235.67l-4-2.31l-4 2.31v4.62M693.69 235.67l-4-2.31l-4 2.31v4.62M701.69 235.67l-4-2.31l-4 2.31v4.62M709.69 235.67l-4-2.31l-4 2.31v4.62M717.69 235.67l-4-2.31l-4 2.31v4.62M725.69 235.67l-4-2.31l-4 2.31v4.62M733.69 235.67l-4-2.31l-4 2.31v4.62M741.69 235.67l-4-2.31l-4 2.31v4.62M749.70 235.67l-4-2.31l-4 2.31v4.62M757.70 235.67l-4-2.31l-4 2.31v4.62M765.70 235.67l-4-2.31l-4 2.31v4.62M773.70 235.67l-4-2.31l-4 2.31v4.62M781.70 235.67l-4-2.31l-4 2.31v4.62M789.70 235.67l-4-2.31l-4 2.31v4.62M797.70 235.67l-4-2.31l-4 2.31v4.62M805.70 235.67l-4-2.31l-4 2.31v4.62M813.70 235.67l-4-2.31l-4 2.31v4.62M821.70 235.67l-4-2.31l-4 2.31v4.62M829.71 235.67l-4-2.31l-4 2.31v4.62M837.71 235.67l-4-2.31l-4 2.31v4.62M845.71 235.67l-4-2.31l-4 2.31v4.62M853.71 235.67l-4-2.31l-4 2.31v4.62M861.71 235.67l-4-2.31l-4 2.31v4.62M869.71 235.67l-4-2.31l-4 2.31v4.62M877.71 235.67l-4-2.31l-4 2.31v4.62M885.71 235.67l-4-2.31l-4 2.31v4.62M893.71 235.67l-4-2.31l-4 2.31v4.62M901.71 235.67l-4-2.31l-4 2.31v4.62M909.72 235.67l-4-2.31l-4 2.31v4.62M965.72 235.67l-4-2.31l-4 2.31v4.62M973.72 235.67l-4-2.31l-4 2.31v4.62M981.72 235.67l-4-2.31l-4 2.31v4.62M989.73 235.67l-4-2.31l-4 2.31v4.62M997.73 235.67l-4-2.31l-4 2.31v4.62M1005.73 235.67l-4-2.31l-4 2.31v4.62M1013.73 235.67l-4-2.31l-4 2.31v4.62M401.65 242.59l-4-2.31l-4 2.31v4.62M409.65 242.59l-4-2.31l-4 2.31v4.62M417.65 242.59l-4-2.31l-4 2.31v4.62M425.65 242.59l-4-2.31l-4 2.31v4.62M433.66 242.59l-4-2.31l-4 2.31v4.62M441.66 242.59l-4-2.31l-4 2.31v4.62M449.66 242.59l-4-2.31l-4 2.31v4.62M457.66 242.59l-4-2.31l-4 2.31v4.62M465.66 242.59l-4-2.31l-4 2.31v4.62M473.66 242.59l-4-2.31l-4 2.31v4.62M481.66 242.59l-4-2.31l-4 2.31v4.62M489.66 242.59l-4-2.31l-4 2.31v4.62M497.66 242.59l-4-2.31l-4 2.31v4.62M505.66 242.59l-4-2.31l-4 2.31v4.62M513.67 242.59l-4-2.31l-4 2.31v4.62M521.67 242.59l-4-2.31l-4 2.31v4.62M529.67 242.59l-4-2.31l-4 2.31v4.62M537.67 242.59l-4-2.31l-4 2.31v4.62M545.67 242.59l-4-2.31l-4 2.31v4.62M553.67 242.59l-4-2.31l-4 2.31v4.62M561.67 242.59l-4-2.31l-4 2.31v4.62M569.67 242.59l-4-2.31l-4 2.31v4.62M577.67 242.59l-4-2.31l-4 2.31v4.62M585.67 242.59l-4-2.31l-4 2.31v4.62M593.68 242.59l-4-2.31l-4 2.31v4.62M601.68 242.59l-4-2.31l-4 2.31v4.62M609.68 242.59l-4-2.31l-4 2.31v4.62M617.68 242.59l-4-2.31l-4 2.31v4.62M625.68 242.59l-4-2.31l-4 2.31v4.62M633.68 242.59l-4-2.31l-4 2.31v4.62M641.68 242.59l-4-2.31l-4 2.31v4.62M649.68 242.59l-4-2.31l-4 2.31v4.62M657.68 242.59l-4-2.31l-4 2.31v4.62M665.68 242.59l-4-2.31l-4 2.31v4.62M673.69 242.59l-4-2.31l-4 2.31v4.62M681.69 242.59l-4-2.31l-4 2.31v4.62M689.69 242.59l-4-2.31l-4 2.31v4.62M697.69 242.59l-4-2.31l-4 2.31v4.62M705.69 242.59l-4-2.31l-4 2.31v4.62M713.69 242.59l-4-2.31l-4 2.31v4.62M721.69 242.59l-4-2.31l-4 2.31v4.62M729.69 242.59l-4-2.31l-4 2.31v4.62M737.69 242.59l-4-2.31l-4 2.31v4.62M745.69 242.59l-4-2.31l-4 2.31v4.62M753.70 242.59l-4-2.31l-4 2.31v4.62M761.70 242.59l-4-2.31l-4 2.31v4.62M769.70 242.59l-4-2.31l-4 2.31v4.62M777.70 242.59l-4-2.31l-4 2.31v4.62M785.70 242.59l-4-2.31l-4 2.31v4.62M793.70 242.59l-4-2.31l-4 2.31v4.62M801.70 242.59l-4-2.31l-4 2.31v4.62M809.70 242.59l-4-2.31l-4 2.31v4.62M817.70 242.59l-4-2.31l-4 2.31v4.62M825.70 242.59l-4-2.31l-4 2.31v4.62M833.71 242.59l-4-2.31l-4 2.31v4.62M841.71 242.59l-4-2.31l-4 2.31v4.62M849.71 242.59l-4-2.31l-4 2.31v4.62M857.71 242.59l-4-2.31l-4 2.31v4.62M865.71 242.59l-4-2.31l-4 2.31v4.62M873.71 242.59l-4-2.31l-4 2.31v4.62M881.71 242.59l-4-2.31l-4 2.31v4.62M889.71 242.59l-4-2.31l-4 2.31v4.62M897.71 242.59l-4-2.31l-4 2.31v4.62M905.71 242.59l-4-2.31l-4 2.31v4.62M913.72 242.59l-4-2.31l-4 2.31v4.62M921.72 242.59l-4-2.31l-4 2.31v4.62M953.72 242.59l-4-2.31l-4 2.31v4.62M961.72 242.59l-4-2.31l-4 2.31v4.62M969.72 242.59l-4-2.31l-4 2.31v4.62M977.72 242.59l-4-2.31l-4 2.31v4.62M985.72 242.59l-4-2.31l-4 2.31v4.62M993.73 242.59l-4-2.31l-4 2.31v4.62M1001.73 242.59l-4-2.31l-4 2.31v4.62M1009.73 242.59l-4-2.31l-4 2.31v4.62M1017.73 242.59l-4-2.31l-4 2.31v4.62M397.65 249.52l-4-2.31l-4 2.31v4.62M405.65 249.52l-4-2.31l-4 2.31v4.62M413.65 249.52l-4-2.31l-4 2.31v4.62M421.65 249.52l-4-2.31l-4 2.31v4.62M429.66 249.52l-4-2.31l-4 2.31v4.62M437.66 249.52l-4-2.31l-4 2.31v4.62M445.66 249.52l-4-2.31l-4 2.31v4.62M453.66 249.52l-4-2.31l-4 2.31v4.62M461.66 249.52l-4-2.31l-4 2.31v4.62M469.66 249.52l-4-2.31l-4 2.31v4.62M477.66 249.52l-4-2.31l-4 2.31v4.62M485.66 249.52l-4-2.31l-4 2.31v4.62M493.66 249.52l-4-2.31l-4 2.31v4.62M501.66 249.52l-4-2.31l-4 2.31v4.62M509.67 249.52l-4-2.31l-4 2.31v4.62M517.67 249.52l-4-2.31l-4 2.31v4.62M525.67 249.52l-4-2.31l-4 2.31v4.62M533.67 249.52l-4-2.31l-4 2.31v4.62M541.67 249.52l-4-2.31l-4 2.31v4.62M549.67 249.52l-4-2.31l-4 2.31v4.62M557.67 249.52l-4-2.31l-4 2.31v4.62M565.67 249.52l-4-2.31l-4 2.31v4.62M573.67 249.52l-4-2.31l-4 2.31v4.62M581.67 249.52l-4-2.31l-4 2.31v4.62M589.68 249.52l-4-2.31l-4 2.31v4.62M597.68 249.52l-4-2.31l-4 2.31v4.62M605.68 249.52l-4-2.31l-4 2.31v4.62M613.68 249.52l-4-2.31l-4 2.31v4.62M621.68 249.52l-4-2.31l-4 2.31v4.62M629.68 249.52l-4-2.31l-4 2.31v4.62M637.68 249.52l-4-2.31l-4 2.31v4.62M645.68 249.52l-4-2.31l-4 2.31v4.62M653.68 249.52l-4-2.31l-4 2.31v4.62M661.68 249.52l-4-2.31l-4 2.31v4.62M669.69 249.52l-4-2.31l-4 2.31v4.62M677.69 249.52l-4-2.31l-4 2.31v4.62M685.69 249.52l-4-2.31l-4 2.31v4.62M693.69 249.52l-4-2.31l-4 2.31v4.62M701.69 249.52l-4-2.31l-4 2.31v4.62M709.69 249.52l-4-2.31l-4 2.31v4.62M717.69 249.52l-4-2.31l-4 2.31v4.62M725.69 249.52l-4-2.31l-4 2.31v4.62M733.69 249.52l-4-2.31l-4 2.31v4.62M741.69 249.52l-4-2.31l-4 2.31v4.62M749.70 249.52l-4-2.31l-4 2.31v4.62M757.70 249.52l-4-2.31l-4 2.31v4.62M765.70 249.52l-4-2.31l-4 2.31v4.62M773.70 249.52l-4-2.31l-4 2.31v4.62M781.70 249.52l-4-2.31l-4 2.31v4.62M789.70 249.52l-4-2.31l-4 2.31v4.62M797.70 249.52l-4-2.31l-4 2.31v4.62M805.70 249.52l-4-2.31l-4 2.31v4.62M813.70 249.52l-4-2.31l-4 2.31v4.62M821.70 249.52l-4-2.31l-4 2.31v4.62M829.71 249.52l-4-2.31l-4 2.31v4.62M837.71 249.52l-4-2.31l-4 2.31v4.62M845.71 249.52l-4-2.31l-4 2.31v4.62M853.71 249.52l-4-2.31l-4 2.31v4.62M861.71 249.52l-4-2.31l-4 2.31v4.62M869.71 249.52l-4-2.31l-4 2.31v4.62M877.71 249.52l-4-2.31l-4 2.31v4.62M885.71 249.52l-4-2.31l-4 2.31v4.62M893.71 249.52l-4-2.31l-4 2.31v4.62M901.71 249.52l-4-2.31l-4 2.31v4.62M909.72 249.52l-4-2.31l-4 2.31v4.62M917.72 249.52l-4-2.31l-4 2.31v4.62M925.72 249.52l-4-2.31l-4 2.31v4.62M933.72 249.52l-4-2.31l-4 2.31v4.62M941.72 249.52l-4-2.31l-4 2.31v4.62M949.72 249.52l-4-2.31l-4 2.31v4.62M957.72 249.52l-4-2.31l-4 2.31v4.62M965.72 249.52l-4-2.31l-4 2.31v4.62M973.72 249.52l-4-2.31l-4 2.31v4.62M981.72 249.52l-4-2.31l-4 2.31v4.62M989.73 249.52l-4-2.31l-4 2.31v4.62M997.73 249.52l-4-2.31l-4 2.31v4.62M1005.73 249.52l-4-2.31l-4 2.31v4.62M1013.73 249.52l-4-2.31l-4 2.31v4.62M1021.73 249.52l-4-2.31l-4 2.31v4.62M393.65 256.45l-4-2.31l-4 2.31v4.62M401.65 256.45l-4-2.31l-4 2.31v4.62M409.65 256.45l-4-2.31l-4 2.31v4.62M417.65 256.45l-4-2.31l-4 2.31v4.62M425.65 256.45l-4-2.31l-4 2.31v4.62M433.66 256.45l-4-2.31l-4 2.31v4.62M441.66 256.45l-4-2.31l-4 2.31v4.62M449.66 256.45l-4-2.31l-4 2.31v4.62M457.66 256.45l-4-2.31l-4 2.31v4.62M465.66 256.45l-4-2.31l-4 2.31v4.62M473.66 256.45l-4-2.31l-4 2.31v4.62M481.66 256.45l-4-2.31l-4 2.31v4.62M489.66 256.45l-4-2.31l-4 2.31v4.62M497.66 256.45l-4-2.31l-4 2.31v4.62M505.66 256.45l-4-2.31l-4 2.31v4.62M513.67 256.45l-4-2.31l-4 2.31v4.62M521.67 256.45l-4-2.31l-4 2.31v4.62M529.67 256.45l-4-2.31l-4 2.31v4.62M537.67 256.45l-4-2.31l-4 2.31v4.62M545.67 256.45l-4-2.31l-4 2.31v4.62M553.67 256.45l-4-2.31l-4 2.31v4.62M561.67 256.45l-4-2.31l-4 2.31v4.62M569.67 256.45l-4-2.31l-4 2.31v4.62M577.67 256.45l-4-2.31l-4 2.31v4.62M585.67 256.45l-4-2.31l-4 2.31v4.62M593.68 256.45l-4-2.31l-4 2.31v4.62M601.68 256.45l-4-2.31l-4 2.31v4.62M609.68 256.45l-4-2.31l-4 2.31v4.62M617.68 256.45l-4-2.31l-4 2.31v4.62M625.68 256.45l-4-2.31l-4 2.31v4.62M633.68 256.45l-4-2.31l-4 2.31v4.62M641.68 256.45l-4-2.31l-4 2.31v4.62M649.68 256.45l-4-2.31l-4 2.31v4.62M657.68 256.45l-4-2.31l-4 2.31v4.62M665.68 256.45l-4-2.31l-4 2.31v4.62M673.69 256.45l-4-2.31l-4 2.31v4.62M681.69 256.45l-4-2.31l-4 2.31v4.62M689.69 256.45l-4-2.31l-4 2.31v4.62M697.69 256.45l-4-2.31l-4 2.31v4.62M705.69 256.45l-4-2.31l-4 2.31v4.62M713.69 256.45l-4-2.31l-4 2.31v4.62M721.69 256.45l-4-2.31l-4 2.31v4.62M729.69 256.45l-4-2.31l-4 2.31v4.62M737.69 256.45l-4-2.31l-4 2.31v4.62M745.69 256.45l-4-2.31l-4 2.31v4.62M753.70 256.45l-4-2.31l-4 2.31v4.62M761.70 256.45l-4-2.31l-4 2.31v4.62M769.70 256.45l-4-2.31l-4 2.31v4.62M777.70 256.45l-4-2.31l-4 2.31v4.62M785.70 256.45l-4-2.31l-4 2.31v4.62M793.70 256.45l-4-2.31l-4 2.31v4.62M801.70 256.45l-4-2.31l-4 2.31v4.62M809.70 256.45l-4-2.31l-4 2.31v4.62M817.70 256.45l-4-2.31l-4 2.31v4.62M825.70 256.45l-4-2.31l-4 2.31v4.62M833.71 256.45l-4-2.31l-4 2.31v4.62M841.71 256.45l-4-2.31l-4 2.31v4.62M849.71 256.45l-4-2.31l-4 2.31v4.62M857.71 256.45l-4-2.31l-4 2.31v4.62M865.71 256.45l-4-2.31l-4 2.31v4.62M873.71 256.45l-4-2.31l-4 2.31v4.62M881.71 256.45l-4-2.31l-4 2.31v4.62M889.71 256.45l-4-2.31l-4 2.31v4.62M897.71 256.45l-4-2.31l-4 2.31v4.62M905.71 256.45l-4-2.31l-4 2.31v4.62M913.72 256.45l-4-2.31l-4 2.31v4.62M921.72 256.45l-4-2.31l-4 2.31v4.62M929.72 256.45l-4-2.31l-4 2.31v4.62M937.72 256.45l-4-2.31l-4 2.31v4.62M945.72 256.45l-4-2.31l-4 2.31v4.62M953.72 256.45l-4-2.31l-4 2.31v4.62M961.72 256.45l-4-2.31l-4 2.31v4.62M969.72 256.45l-4-2.31l-4 2.31v4.62M977.72 256.45l-4-2.31l-4 2.31v4.62M985.72 256.45l-4-2.31l-4 2.31v4.62M993.73 256.45l-4-2.31l-4 2.31v4.62M1001.73 256.45l-4-2.31l-4 2.31v4.62M1009.73 256.45l-4-2.31l-4 2.31v4.62M1017.73 256.45l-4-2.31l-4 2.31v4.62M389.65 263.38l-4-2.31l-4 2.31v4.62M397.65 263.38l-4-2.31l-4 2.31v4.62M405.65 263.38l-4-2.31l-4 2.31v4.62M413.65 263.38l-4-2.31l-4 2.31v4.62M421.65 263.38l-4-2.31l-4 2.31v4.62M429.66 263.38l-4-2.31l-4 2.31v4.62M437.66 263.38l-4-2.31l-4 2.31v4.62M445.66 263.38l-4-2.31l-4 2.31v4.62M453.66 263.38l-4-2.31l-4 2.31v4.62M461.66 263.38l-4-2.31l-4 2.31v4.62M469.66 263.38l-4-2.31l-4 2.31v4.62M477.66 263.38l-4-2.31l-4 2.31v4.62M485.66 263.38l-4-2.31l-4 2.31v4.62M493.66 263.38l-4-2.31l-4 2.31v4.62M501.66 263.38l-4-2.31l-4 2.31v4.62M509.67 263.38l-4-2.31l-4 2.31v4.62M517.67 263.38l-4-2.31l-4 2.31v4.62M525.67 263.38l-4-2.31l-4 2.31v4.62M533.67 263.38l-4-2.31l-4 2.31v4.62M541.67 263.38l-4-2.31l-4 2.31v4.62M549.67 263.38l-4-2.31l-4 2.31v4.62M557.67 263.38l-4-2.31l-4 2.31v4.62M565.67 263.38l-4-2.31l-4 2.31v4.62M573.67 263.38l-4-2.31l-4 2.31v4.62M581.67 263.38l-4-2.31l-4 2.31v4.62M589.68 263.38l-4-2.31l-4 2.31v4.62M597.68 263.38l-4-2.31l-4 2.31v4.62M605.68 263.38l-4-2.31l-4 2.31v4.62M613.68 263.38l-4-2.31l-4 2.31v4.62M621.68 263.38l-4-2.31l-4 2.31v4.62M629.68 263.38l-4-2.31l-4 2.31v4.62M637.68 263.38l-4-2.31l-4 2.31v4.62M645.68 263.38l-4-2.31l-4 2.31v4.62M653.68 263.38l-4-2.31l-4 2.31v4.62M661.68 263.38l-4-2.31l-4 2.31v4.62M669.69 263.38l-4-2.31l-4 2.31v4.62M677.69 263.38l-4-2.31l-4 2.31v4.62M685.69 263.38l-4-2.31l-4 2.31v4.62M693.69 263.38l-4-2.31l-4 2.31v4.62M701.69 263.38l-4-2.31l-4 2.31v4.62M709.69 263.38l-4-2.31l-4 2.31v4.62M717.69 263.38l-4-2.31l-4 2.31v4.62M725.69 263.38l-4-2.31l-4 2.31v4.62M733.69 263.38l-4-2.31l-4 2.31v4.62M741.69 263.38l-4-2.31l-4 2.31v4.62M749.70 263.38l-4-2.31l-4 2.31v4.62M757.70 263.38l-4-2.31l-4 2.31v4.62M765.70 263.38l-4-2.31l-4 2.31v4.62M773.70 263.38l-4-2.31l-4 2.31v4.62M781.70 263.38l-4-2.31l-4 2.31v4.62M789.70 263.38l-4-2.31l-4 2.31v4.62M797.70 263.38l-4-2.31l-4 2.31v4.62M805.70 263.38l-4-2.31l-4 2.31v4.62M813.70 263.38l-4-2.31l-4 2.31v4.62M821.70 263.38l-4-2.31l-4 2.31v4.62M829.71 263.38l-4-2.31l-4 2.31v4.62M837.71 263.38l-4-2.31l-4 2.31v4.62M845.71 263.38l-4-2.31l-4 2.31v4.62M853.71 263.38l-4-2.31l-4 2.31v4.62M861.71 263.38l-4-2.31l-4 2.31v4.62M869.71 263.38l-4-2.31l-4 2.31v4.62M877.71 263.38l-4-2.31l-4 2.31v4.62M885.71 263.38l-4-2.31l-4 2.31v4.62M893.71 263.38l-4-2.31l-4 2.31v4.62M901.71 263.38l-4-2.31l-4 2.31v4.62M909.72 263.38l-4-2.31l-4 2.31v4.62M917.72 263.38l-4-2.31l-4 2.31v4.62M925.72 263.38l-4-2.31l-4 2.31v4.62M933.72 263.38l-4-2.31l-4 2.31v4.62M941.72 263.38l-4-2.31l-4 2.31v4.62M949.72 263.38l-4-2.31l-4 2.31v4.62M957.72 263.38l-4-2.31l-4 2.31v4.62M965.72 263.38l-4-2.31l-4 2.31v4.62M973.72 263.38l-4-2.31l-4 2.31v4.62M981.72 263.38l-4-2.31l-4 2.31v4.62M989.73 263.38l-4-2.31l-4 2.31v4.62M997.73 263.38l-4-2.31l-4 2.31v4.62M1005.73 263.38l-4-2.31l-4 2.31v4.62M1013.73 263.38l-4-2.31l-4 2.31v4.62M1021.73 263.38l-4-2.31l-4 2.31v4.62M385.65 270.31l-4-2.31l-4 2.31v4.62M393.65 270.31l-4-2.31l-4 2.31v4.62M401.65 270.31l-4-2.31l-4 2.31v4.62M409.65 270.31l-4-2.31l-4 2.31v4.62M417.65 270.31l-4-2.31l-4 2.31v4.62M425.65 270.31l-4-2.31l-4 2.31v4.62M433.66 270.31l-4-2.31l-4 2.31v4.62M441.66 270.31l-4-2.31l-4 2.31v4.62M449.66 270.31l-4-2.31l-4 2.31v4.62M457.66 270.31l-4-2.31l-4 2.31v4.62M465.66 270.31l-4-2.31l-4 2.31v4.62M473.66 270.31l-4-2.31l-4 2.31v4.62M481.66 270.31l-4-2.31l-4 2.31v4.62M489.66 270.31l-4-2.31l-4 2.31v4.62M497.66 270.31l-4-2.31l-4 2.31v4.62M505.66 270.31l-4-2.31l-4 2.31v4.62M513.67 270.31l-4-2.31l-4 2.31v4.62M521.67 270.31l-4-2.31l-4 2.31v4.62M529.67 270.31l-4-2.31l-4 2.31v4.62M537.67 270.31l-4-2.31l-4 2.31v4.62M545.67 270.31l-4-2.31l-4 2.31v4.62M553.67 270.31l-4-2.31l-4 2.31v4.62M561.67 270.31l-4-2.31l-4 2.31v4.62M569.67 270.31l-4-2.31l-4 2.31v4.62M577.67 270.31l-4-2.31l-4 2.31v4.62M585.67 270.31l-4-2.31l-4 2.31v4.62M593.68 270.31l-4-2.31l-4 2.31v4.62M601.68 270.31l-4-2.31l-4 2.31v4.62M609.68 270.31l-4-2.31l-4 2.31v4.62M617.68 270.31l-4-2.31l-4 2.31v4.62M625.68 270.31l-4-2.31l-4 2.31v4.62M633.68 270.31l-4-2.31l-4 2.31v4.62M641.68 270.31l-4-2.31l-4 2.31v4.62M649.68 270.31l-4-2.31l-4 2.31v4.62M657.68 270.31l-4-2.31l-4 2.31v4.62M665.68 270.31l-4-2.31l-4 2.31v4.62M673.69 270.31l-4-2.31l-4 2.31v4.62M681.69 270.31l-4-2.31l-4 2.31v4.62M689.69 270.31l-4-2.31l-4 2.31v4.62M697.69 270.31l-4-2.31l-4 2.31v4.62M705.69 270.31l-4-2.31l-4 2.31v4.62M713.69 270.31l-4-2.31l-4 2.31v4.62M721.69 270.31l-4-2.31l-4 2.31v4.62M729.69 270.31l-4-2.31l-4 2.31v4.62M737.69 270.31l-4-2.31l-4 2.31v4.62M745.69 270.31l-4-2.31l-4 2.31v4.62M753.70 270.31l-4-2.31l-4 2.31v4.62M761.70 270.31l-4-2.31l-4 2.31v4.62M769.70 270.31l-4-2.31l-4 2.31v4.62M777.70 270.31l-4-2.31l-4 2.31v4.62M785.70 270.31l-4-2.31l-4 2.31v4.62M793.70 270.31l-4-2.31l-4 2.31v4.62M801.70 270.31l-4-2.31l-4 2.31v4.62M809.70 270.31l-4-2.31l-4 2.31v4.62M817.70 270.31l-4-2.31l-4 2.31v4.62M825.70 270.31l-4-2.31l-4 2.31v4.62M833.71 270.31l-4-2.31l-4 2.31v4.62M841.71 270.31l-4-2.31l-4 2.31v4.62M849.71 270.31l-4-2.31l-4 2.31v4.62M857.71 270.31l-4-2.31l-4 2.31v4.62M865.71 270.31l-4-2.31l-4 2.31v4.62M873.71 270.31l-4-2.31l-4 2.31v4.62M881.71 270.31l-4-2.31l-4 2.31v4.62M889.71 270.31l-4-2.31l-4 2.31v4.62M897.71 270.31l-4-2.31l-4 2.31v4.62M905.71 270.31l-4-2.31l-4 2.31v4.62M913.72 270.31l-4-2.31l-4 2.31v4.62M921.72 270.31l-4-2.31l-4 2.31v4.62M929.72 270.31l-4-2.31l-4 2.31v4.62M937.72 270.31l-4-2.31l-4 2.31v4.62M945.72 270.31l-4-2.31l-4 2.31v4.62M953.72 270.31l-4-2.31l-4 2.31v4.62M961.72 270.31l-4-2.31l-4 2.31v4.62M969.72 270.31l-4-2.31l-4 2.31v4.62M977.72 270.31l-4-2.31l-4 2.31v4.62M985.72 270.31l-4-2.31l-4 2.31v4.62M993.73 270.31l-4-2.31l-4 2.31v4.62M1001.73 270.31l-4-2.31l-4 2.31v4.62M1009.73 270.31l-4-2.31l-4 2.31v4.62M1017.73 270.31l-4-2.31l-4 2.31v4.62M1025.73 270.31l-4-2.31l-4 2.31v4.62M1033.73 270.31l-4-2.31l-4 2.31v4.62M381.65 277.24l-4-2.31l-4 2.31v4.62M389.65 277.24l-4-2.31l-4 2.31v4.62M397.65 277.24l-4-2.31l-4 2.31v4.62M405.65 277.24l-4-2.31l-4 2.31v4.62M413.65 277.24l-4-2.31l-4 2.31v4.62M421.65 277.24l-4-2.31l-4 2.31v4.62M429.66 277.24l-4-2.31l-4 2.31v4.62M437.66 277.24l-4-2.31l-4 2.31v4.62M445.66 277.24l-4-2.31l-4 2.31v4.62M453.66 277.24l-4-2.31l-4 2.31v4.62M461.66 277.24l-4-2.31l-4 2.31v4.62M469.66 277.24l-4-2.31l-4 2.31v4.62M477.66 277.24l-4-2.31l-4 2.31v4.62M485.66 277.24l-4-2.31l-4 2.31v4.62M493.66 277.24l-4-2.31l-4 2.31v4.62M501.66 277.24l-4-2.31l-4 2.31v4.62M509.67 277.24l-4-2.31l-4 2.31v4.62M517.67 277.24l-4-2.31l-4 2.31v4.62M525.67 277.24l-4-2.31l-4 2.31v4.62M533.67 277.24l-4-2.31l-4 2.31v4.62M541.67 277.24l-4-2.31l-4 2.31v4.62M549.67 277.24l-4-2.31l-4 2.31v4.62M557.67 277.24l-4-2.31l-4 2.31v4.62M565.67 277.24l-4-2.31l-4 2.31v4.62M573.67 277.24l-4-2.31l-4 2.31v4.62M581.67 277.24l-4-2.31l-4 2.31v4.62M589.68 277.24l-4-2.31l-4 2.31v4.62M597.68 277.24l-4-2.31l-4 2.31v4.62M605.68 277.24l-4-2.31l-4 2.31v4.62M613.68 277.24l-4-2.31l-4 2.31v4.62M621.68 277.24l-4-2.31l-4 2.31v4.62M629.68 277.24l-4-2.31l-4 2.31v4.62M637.68 277.24l-4-2.31l-4 2.31v4.62M645.68 277.24l-4-2.31l-4 2.31v4.62M653.68 277.24l-4-2.31l-4 2.31v4.62M661.68 277.24l-4-2.31l-4 2.31v4.62M669.69 277.24l-4-2.31l-4 2.31v4.62M677.69 277.24l-4-2.31l-4 2.31v4.62M685.69 277.24l-4-2.31l-4 2.31v4.62M693.69 277.24l-4-2.31l-4 2.31v4.62M701.69 277.24l-4-2.31l-4 2.31v4.62M709.69 277.24l-4-2.31l-4 2.31v4.62M717.69 277.24l-4-2.31l-4 2.31v4.62M725.69 277.24l-4-2.31l-4 2.31v4.62M733.69 277.24l-4-2.31l-4 2.31v4.62M741.69 277.24l-4-2.31l-4 2.31v4.62M749.70 277.24l-4-2.31l-4 2.31v4.62M757.70 277.24l-4-2.31l-4 2.31v4.62M765.70 277.24l-4-2.31l-4 2.31v4.62M773.70 277.24l-4-2.31l-4 2.31v4.62M781.70 277.24l-4-2.31l-4 2.31v4.62M789.70 277.24l-4-2.31l-4 2.31v4.62M797.70 277.24l-4-2.31l-4 2.31v4.62M805.70 277.24l-4-2.31l-4 2.31v4.62M813.70 277.24l-4-2.31l-4 2.31v4.62M821.70 277.24l-4-2.31l-4 2.31v4.62M829.71 277.24l-4-2.31l-4 2.31v4.62M837.71 277.24l-4-2.31l-4 2.31v4.62M845.71 277.24l-4-2.31l-4 2.31v4.62M853.71 277.24l-4-2.31l-4 2.31v4.62M861.71 277.24l-4-2.31l-4 2.31v4.62M869.71 277.24l-4-2.31l-4 2.31v4.62M877.71 277.24l-4-2.31l-4 2.31v4.62M885.71 277.24l-4-2.31l-4 2.31v4.62M893.71 277.24l-4-2.31l-4 2.31v4.62M901.71 277.24l-4-2.31l-4 2.31v4.62M909.72 277.24l-4-2.31l-4 2.31v4.62M917.72 277.24l-4-2.31l-4 2.31v4.62M925.72 277.24l-4-2.31l-4 2.31v4.62M933.72 277.24l-4-2.31l-4 2.31v4.62M941.72 277.24l-4-2.31l-4 2.31v4.62M949.72 277.24l-4-2.31l-4 2.31v4.62M957.72 277.24l-4-2.31l-4 2.31v4.62M965.72 277.24l-4-2.31l-4 2.31v4.62M973.72 277.24l-4-2.31l-4 2.31v4.62M981.72 277.24l-4-2.31l-4 2.31v4.62M989.73 277.24l-4-2.31l-4 2.31v4.62M997.73 277.24l-4-2.31l-4 2.31v4.62M1005.73 277.24l-4-2.31l-4 2.31v4.62M1013.73 277.24l-4-2.31l-4 2.31v4.62M1021.73 277.24l-4-2.31l-4 2.31v4.62M1029.73 277.24l-4-2.31l-4 2.31v4.62M1037.73 277.24l-4-2.31l-4 2.31v4.62M1045.73 277.24l-4-2.31l-4 2.31v4.62M1053.73 277.24l-4-2.31l-4 2.31v4.62M377.65 284.17l-4-2.31l-4 2.31v4.62M385.65 284.17l-4-2.31l-4 2.31v4.62M393.65 284.17l-4-2.31l-4 2.31v4.62M401.65 284.17l-4-2.31l-4 2.31v4.62M409.65 284.17l-4-2.31l-4 2.31v4.62M417.65 284.17l-4-2.31l-4 2.31v4.62M425.65 284.17l-4-2.31l-4 2.31v4.62M433.66 284.17l-4-2.31l-4 2.31v4.62M441.66 284.17l-4-2.31l-4 2.31v4.62M449.66 284.17l-4-2.31l-4 2.31v4.62M457.66 284.17l-4-2.31l-4 2.31v4.62M465.66 284.17l-4-2.31l-4 2.31v4.62M473.66 284.17l-4-2.31l-4 2.31v4.62M481.66 284.17l-4-2.31l-4 2.31v4.62M489.66 284.17l-4-2.31l-4 2.31v4.62M497.66 284.17l-4-2.31l-4 2.31v4.62M505.66 284.17l-4-2.31l-4 2.31v4.62M513.67 284.17l-4-2.31l-4 2.31v4.62M521.67 284.17l-4-2.31l-4 2.31v4.62M529.67 284.17l-4-2.31l-4 2.31v4.62M537.67 284.17l-4-2.31l-4 2.31v4.62M545.67 284.17l-4-2.31l-4 2.31v4.62M553.67 284.17l-4-2.31l-4 2.31v4.62M561.67 284.17l-4-2.31l-4 2.31v4.62M569.67 284.17l-4-2.31l-4 2.31v4.62M577.67 284.17l-4-2.31l-4 2.31v4.62M585.67 284.17l-4-2.31l-4 2.31v4.62M593.68 284.17l-4-2.31l-4 2.31v4.62M601.68 284.17l-4-2.31l-4 2.31v4.62M609.68 284.17l-4-2.31l-4 2.31v4.62M617.68 284.17l-4-2.31l-4 2.31v4.62M625.68 284.17l-4-2.31l-4 2.31v4.62M633.68 284.17l-4-2.31l-4 2.31v4.62M641.68 284.17l-4-2.31l-4 2.31v4.62M649.68 284.17l-4-2.31l-4 2.31v4.62M657.68 284.17l-4-2.31l-4 2.31v4.62M665.68 284.17l-4-2.31l-4 2.31v4.62M673.69 284.17l-4-2.31l-4 2.31v4.62M681.69 284.17l-4-2.31l-4 2.31v4.62M689.69 284.17l-4-2.31l-4 2.31v4.62M697.69 284.17l-4-2.31l-4 2.31v4.62M705.69 284.17l-4-2.31l-4 2.31v4.62M713.69 284.17l-4-2.31l-4 2.31v4.62M721.69 284.17l-4-2.31l-4 2.31v4.62M729.69 284.17l-4-2.31l-4 2.31v4.62M737.69 284.17l-4-2.31l-4 2.31v4.62M745.69 284.17l-4-2.31l-4 2.31v4.62M753.70 284.17l-4-2.31l-4 2.31v4.62M761.70 284.17l-4-2.31l-4 2.31v4.62M769.70 284.17l-4-2.31l-4 2.31v4.62M777.70 284.17l-4-2.31l-4 2.31v4.62M785.70 284.17l-4-2.31l-4 2.31v4.62M793.70 284.17l-4-2.31l-4 2.31v4.62M801.70 284.17l-4-2.31l-4 2.31v4.62M809.70 284.17l-4-2.31l-4 2.31v4.62M817.70 284.17l-4-2.31l-4 2.31v4.62M825.70 284.17l-4-2.31l-4 2.31v4.62M833.71 284.17l-4-2.31l-4 2.31v4.62M841.71 284.17l-4-2.31l-4 2.31v4.62M849.71 284.17l-4-2.31l-4 2.31v4.62M857.71 284.17l-4-2.31l-4 2.31v4.62M865.71 284.17l-4-2.31l-4 2.31v4.62M873.71 284.17l-4-2.31l-4 2.31v4.62M881.71 284.17l-4-2.31l-4 2.31v4.62M889.71 284.17l-4-2.31l-4 2.31v4.62M897.71 284.17l-4-2.31l-4 2.31v4.62M905.71 284.17l-4-2.31l-4 2.31v4.62M913.72 284.17l-4-2.31l-4 2.31v4.62M921.72 284.17l-4-2.31l-4 2.31v4.62M929.72 284.17l-4-2.31l-4 2.31v4.62M937.72 284.17l-4-2.31l-4 2.31v4.62M945.72 284.17l-4-2.31l-4 2.31v4.62M953.72 284.17l-4-2.31l-4 2.31v4.62M961.72 284.17l-4-2.31l-4 2.31v4.62M969.72 284.17l-4-2.31l-4 2.31v4.62M977.72 284.17l-4-2.31l-4 2.31v4.62M985.72 284.17l-4-2.31l-4 2.31v4.62M993.73 284.17l-4-2.31l-4 2.31v4.62M1001.73 284.17l-4-2.31l-4 2.31v4.62M1009.73 284.17l-4-2.31l-4 2.31v4.62M1017.73 284.17l-4-2.31l-4 2.31v4.62M1025.73 284.17l-4-2.31l-4 2.31v4.62M1033.73 284.17l-4-2.31l-4 2.31v4.62M1041.73 284.17l-4-2.31l-4 2.31v4.62M1049.73 284.17l-4-2.31l-4 2.31v4.62M1057.73 284.17l-4-2.31l-4 2.31v4.62M1065.74 284.17l-4-2.31l-4 2.31v4.62M373.65 291.10l-4-2.31l-4 2.31v4.62M381.65 291.10l-4-2.31l-4 2.31v4.62M389.65 291.10l-4-2.31l-4 2.31v4.62M397.65 291.10l-4-2.31l-4 2.31v4.62M405.65 291.10l-4-2.31l-4 2.31v4.62M413.65 291.10l-4-2.31l-4 2.31v4.62M421.65 291.10l-4-2.31l-4 2.31v4.62M429.66 291.10l-4-2.31l-4 2.31v4.62M437.66 291.10l-4-2.31l-4 2.31v4.62M445.66 291.10l-4-2.31l-4 2.31v4.62M453.66 291.10l-4-2.31l-4 2.31v4.62M461.66 291.10l-4-2.31l-4 2.31v4.62M469.66 291.10l-4-2.31l-4 2.31v4.62M477.66 291.10l-4-2.31l-4 2.31v4.62M485.66 291.10l-4-2.31l-4 2.31v4.62M493.66 291.10l-4-2.31l-4 2.31v4.62M501.66 291.10l-4-2.31l-4 2.31v4.62M509.67 291.10l-4-2.31l-4 2.31v4.62M517.67 291.10l-4-2.31l-4 2.31v4.62M525.67 291.10l-4-2.31l-4 2.31v4.62M533.67 291.10l-4-2.31l-4 2.31v4.62M541.67 291.10l-4-2.31l-4 2.31v4.62M549.67 291.10l-4-2.31l-4 2.31v4.62M557.67 291.10l-4-2.31l-4 2.31v4.62M565.67 291.10l-4-2.31l-4 2.31v4.62M573.67 291.10l-4-2.31l-4 2.31v4.62M581.67 291.10l-4-2.31l-4 2.31v4.62M589.68 291.10l-4-2.31l-4 2.31v4.62M597.68 291.10l-4-2.31l-4 2.31v4.62M605.68 291.10l-4-2.31l-4 2.31v4.62M613.68 291.10l-4-2.31l-4 2.31v4.62M621.68 291.10l-4-2.31l-4 2.31v4.62M629.68 291.10l-4-2.31l-4 2.31v4.62M637.68 291.10l-4-2.31l-4 2.31v4.62M645.68 291.10l-4-2.31l-4 2.31v4.62M653.68 291.10l-4-2.31l-4 2.31v4.62M661.68 291.10l-4-2.31l-4 2.31v4.62M669.69 291.10l-4-2.31l-4 2.31v4.62M677.69 291.10l-4-2.31l-4 2.31v4.62M685.69 291.10l-4-2.31l-4 2.31v4.62M693.69 291.10l-4-2.31l-4 2.31v4.62M701.69 291.10l-4-2.31l-4 2.31v4.62M709.69 291.10l-4-2.31l-4 2.31v4.62M717.69 291.10l-4-2.31l-4 2.31v4.62M725.69 291.10l-4-2.31l-4 2.31v4.62M733.69 291.10l-4-2.31l-4 2.31v4.62M741.69 291.10l-4-2.31l-4 2.31v4.62M749.70 291.10l-4-2.31l-4 2.31v4.62M757.70 291.10l-4-2.31l-4 2.31v4.62M765.70 291.10l-4-2.31l-4 2.31v4.62M773.70 291.10l-4-2.31l-4 2.31v4.62M781.70 291.10l-4-2.31l-4 2.31v4.62M789.70 291.10l-4-2.31l-4 2.31v4.62M797.70 291.10l-4-2.31l-4 2.31v4.62M805.70 291.10l-4-2.31l-4 2.31v4.62M813.70 291.10l-4-2.31l-4 2.31v4.62M821.70 291.10l-4-2.31l-4 2.31v4.62M829.71 291.10l-4-2.31l-4 2.31v4.62M837.71 291.10l-4-2.31l-4 2.31v4.62M845.71 291.10l-4-2.31l-4 2.31v4.62M853.71 291.10l-4-2.31l-4 2.31v4.62M861.71 291.10l-4-2.31l-4 2.31v4.62M869.71 291.10l-4-2.31l-4 2.31v4.62M877.71 291.10l-4-2.31l-4 2.31v4.62M885.71 291.10l-4-2.31l-4 2.31v4.62M893.71 291.10l-4-2.31l-4 2.31v4.62M901.71 291.10l-4-2.31l-4 2.31v4.62M909.72 291.10l-4-2.31l-4 2.31v4.62M917.72 291.10l-4-2.31l-4 2.31v4.62M925.72 291.10l-4-2.31l-4 2.31v4.62M933.72 291.10l-4-2.31l-4 2.31v4.62M941.72 291.10l-4-2.31l-4 2.31v4.62M949.72 291.10l-4-2.31l-4 2.31v4.62M957.72 291.10l-4-2.31l-4 2.31v4.62M965.72 291.10l-4-2.31l-4 2.31v4.62M973.72 291.10l-4-2.31l-4 2.31v4.62M981.72 291.10l-4-2.31l-4 2.31v4.62M989.73 291.10l-4-2.31l-4 2.31v4.62M997.73 291.10l-4-2.31l-4 2.31v4.62M1005.73 291.10l-4-2.31l-4 2.31v4.62M1013.73 291.10l-4-2.31l-4 2.31v4.62M1021.73 291.10l-4-2.31l-4 2.31v4.62M1029.73 291.10l-4-2.31l-4 2.31v4.62M1037.73 291.10l-4-2.31l-4 2.31v4.62M1045.73 291.10l-4-2.31l-4 2.31v4.62M1053.73 291.10l-4-2.31l-4 2.31v4.62M1061.73 291.10l-4-2.31l-4 2.31v4.62M1069.74 291.10l-4-2.31l-4 2.31v4.62M1077.74 291.10l-4-2.31l-4 2.31v4.62M369.65 298.03l-4-2.31l-4 2.31v4.62M377.65 298.03l-4-2.31l-4 2.31v4.62M385.65 298.03l-4-2.31l-4 2.31v4.62M393.65 298.03l-4-2.31l-4 2.31v4.62M401.65 298.03l-4-2.31l-4 2.31v4.62M409.65 298.03l-4-2.31l-4 2.31v4.62M417.65 298.03l-4-2.31l-4 2.31v4.62M425.65 298.03l-4-2.31l-4 2.31v4.62M433.66 298.03l-4-2.31l-4 2.31v4.62M441.66 298.03l-4-2.31l-4 2.31v4.62M449.66 298.03l-4-2.31l-4 2.31v4.62M457.66 298.03l-4-2.31l-4 2.31v4.62M465.66 298.03l-4-2.31l-4 2.31v4.62M473.66 298.03l-4-2.31l-4 2.31v4.62M481.66 298.03l-4-2.31l-4 2.31v4.62M489.66 298.03l-4-2.31l-4 2.31v4.62M497.66 298.03l-4-2.31l-4 2.31v4.62M505.66 298.03l-4-2.31l-4 2.31v4.62M513.67 298.03l-4-2.31l-4 2.31v4.62M521.67 298.03l-4-2.31l-4 2.31v4.62M529.67 298.03l-4-2.31l-4 2.31v4.62M537.67 298.03l-4-2.31l-4 2.31v4.62M545.67 298.03l-4-2.31l-4 2.31v4.62M553.67 298.03l-4-2.31l-4 2.31v4.62M561.67 298.03l-4-2.31l-4 2.31v4.62M569.67 298.03l-4-2.31l-4 2.31v4.62M577.67 298.03l-4-2.31l-4 2.31v4.62M585.67 298.03l-4-2.31l-4 2.31v4.62M593.68 298.03l-4-2.31l-4 2.31v4.62M601.68 298.03l-4-2.31l-4 2.31v4.62M609.68 298.03l-4-2.31l-4 2.31v4.62M617.68 298.03l-4-2.31l-4 2.31v4.62M625.68 298.03l-4-2.31l-4 2.31v4.62M633.68 298.03l-4-2.31l-4 2.31v4.62M641.68 298.03l-4-2.31l-4 2.31v4.62M649.68 298.03l-4-2.31l-4 2.31v4.62M657.68 298.03l-4-2.31l-4 2.31v4.62M665.68 298.03l-4-2.31l-4 2.31v4.62M673.69 298.03l-4-2.31l-4 2.31v4.62M681.69 298.03l-4-2.31l-4 2.31v4.62M689.69 298.03l-4-2.31l-4 2.31v4.62M697.69 298.03l-4-2.31l-4 2.31v4.62M705.69 298.03l-4-2.31l-4 2.31v4.62M713.69 298.03l-4-2.31l-4 2.31v4.62M721.69 298.03l-4-2.31l-4 2.31v4.62M729.69 298.03l-4-2.31l-4 2.31v4.62M737.69 298.03l-4-2.31l-4 2.31v4.62M745.69 298.03l-4-2.31l-4 2.31v4.62M753.70 298.03l-4-2.31l-4 2.31v4.62M761.70 298.03l-4-2.31l-4 2.31v4.62M769.70 298.03l-4-2.31l-4 2.31v4.62M777.70 298.03l-4-2.31l-4 2.31v4.62M785.70 298.03l-4-2.31l-4 2.31v4.62M793.70 298.03l-4-2.31l-4 2.31v4.62M801.70 298.03l-4-2.31l-4 2.31v4.62M809.70 298.03l-4-2.31l-4 2.31v4.62M817.70 298.03l-4-2.31l-4 2.31v4.62M825.70 298.03l-4-2.31l-4 2.31v4.62M833.71 298.03l-4-2.31l-4 2.31v4.62M841.71 298.03l-4-2.31l-4 2.31v4.62M849.71 298.03l-4-2.31l-4 2.31v4.62M857.71 298.03l-4-2.31l-4 2.31v4.62M865.71 298.03l-4-2.31l-4 2.31v4.62M873.71 298.03l-4-2.31l-4 2.31v4.62M881.71 298.03l-4-2.31l-4 2.31v4.62M889.71 298.03l-4-2.31l-4 2.31v4.62M897.71 298.03l-4-2.31l-4 2.31v4.62M905.71 298.03l-4-2.31l-4 2.31v4.62M913.72 298.03l-4-2.31l-4 2.31v4.62M921.72 298.03l-4-2.31l-4 2.31v4.62M929.72 298.03l-4-2.31l-4 2.31v4.62M937.72 298.03l-4-2.31l-4 2.31v4.62M945.72 298.03l-4-2.31l-4 2.31v4.62M953.72 298.03l-4-2.31l-4 2.31v4.62M961.72 298.03l-4-2.31l-4 2.31v4.62M969.72 298.03l-4-2.31l-4 2.31v4.62M977.72 298.03l-4-2.31l-4 2.31v4.62M985.72 298.03l-4-2.31l-4 2.31v4.62M993.73 298.03l-4-2.31l-4 2.31v4.62M1001.73 298.03l-4-2.31l-4 2.31v4.62M1009.73 298.03l-4-2.31l-4 2.31v4.62M1017.73 298.03l-4-2.31l-4 2.31v4.62M1025.73 298.03l-4-2.31l-4 2.31v4.62M1033.73 298.03l-4-2.31l-4 2.31v4.62M1041.73 298.03l-4-2.31l-4 2.31v4.62M1049.73 298.03l-4-2.31l-4 2.31v4.62M1057.73 298.03l-4-2.31l-4 2.31v4.62M1065.74 298.03l-4-2.31l-4 2.31v4.62M1073.74 298.03l-4-2.31l-4 2.31v4.62M1081.74 298.03l-4-2.31l-4 2.31v4.62M1089.74 298.03l-4-2.31l-4 2.31v4.62M357.65 304.96l-4-2.31l-4 2.31v4.62M365.65 304.96l-4-2.31l-4 2.31v4.62M373.65 304.96l-4-2.31l-4 2.31v4.62M381.65 304.96l-4-2.31l-4 2.31v4.62M389.65 304.96l-4-2.31l-4 2.31v4.62M397.65 304.96l-4-2.31l-4 2.31v4.62M405.65 304.96l-4-2.31l-4 2.31v4.62M413.65 304.96l-4-2.31l-4 2.31v4.62M421.65 304.96l-4-2.31l-4 2.31v4.62M429.66 304.96l-4-2.31l-4 2.31v4.62M437.66 304.96l-4-2.31l-4 2.31v4.62M445.66 304.96l-4-2.31l-4 2.31v4.62M453.66 304.96l-4-2.31l-4 2.31v4.62M461.66 304.96l-4-2.31l-4 2.31v4.62M469.66 304.96l-4-2.31l-4 2.31v4.62M477.66 304.96l-4-2.31l-4 2.31v4.62M485.66 304.96l-4-2.31l-4 2.31v4.62M493.66 304.96l-4-2.31l-4 2.31v4.62M501.66 304.96l-4-2.31l-4 2.31v4.62M509.67 304.96l-4-2.31l-4 2.31v4.62M517.67 304.96l-4-2.31l-4 2.31v4.62M525.67 304.96l-4-2.31l-4 2.31v4.62M533.67 304.96l-4-2.31l-4 2.31v4.62M541.67 304.96l-4-2.31l-4 2.31v4.62M549.67 304.96l-4-2.31l-4 2.31v4.62M557.67 304.96l-4-2.31l-4 2.31v4.62M565.67 304.96l-4-2.31l-4 2.31v4.62M573.67 304.96l-4-2.31l-4 2.31v4.62M581.67 304.96l-4-2.31l-4 2.31v4.62M589.68 304.96l-4-2.31l-4 2.31v4.62M597.68 304.96l-4-2.31l-4 2.31v4.62M605.68 304.96l-4-2.31l-4 2.31v4.62M613.68 304.96l-4-2.31l-4 2.31v4.62M621.68 304.96l-4-2.31l-4 2.31v4.62M629.68 304.96l-4-2.31l-4 2.31v4.62M637.68 304.96l-4-2.31l-4 2.31v4.62M645.68 304.96l-4-2.31l-4 2.31v4.62M653.68 304.96l-4-2.31l-4 2.31v4.62M661.68 304.96l-4-2.31l-4 2.31v4.62M669.69 304.96l-4-2.31l-4 2.31v4.62M677.69 304.96l-4-2.31l-4 2.31v4.62M685.69 304.96l-4-2.31l-4 2.31v4.62M693.69 304.96l-4-2.31l-4 2.31v4.62M701.69 304.96l-4-2.31l-4 2.31v4.62M709.69 304.96l-4-2.31l-4 2.31v4.62M717.69 304.96l-4-2.31l-4 2.31v4.62M725.69 304.96l-4-2.31l-4 2.31v4.62M733.69 304.96l-4-2.31l-4 2.31v4.62M741.69 304.96l-4-2.31l-4 2.31v4.62M749.70 304.96l-4-2.31l-4 2.31v4.62M757.70 304.96l-4-2.31l-4 2.31v4.62M765.70 304.96l-4-2.31l-4 2.31v4.62M773.70 304.96l-4-2.31l-4 2.31v4.62M781.70 304.96l-4-2.31l-4 2.31v4.62M789.70 304.96l-4-2.31l-4 2.31v4.62M797.70 304.96l-4-2.31l-4 2.31v4.62M805.70 304.96l-4-2.31l-4 2.31v4.62M813.70 304.96l-4-2.31l-4 2.31v4.62M821.70 304.96l-4-2.31l-4 2.31v4.62M829.71 304.96l-4-2.31l-4 2.31v4.62M837.71 304.96l-4-2.31l-4 2.31v4.62M845.71 304.96l-4-2.31l-4 2.31v4.62M853.71 304.96l-4-2.31l-4 2.31v4.62M861.71 304.96l-4-2.31l-4 2.31v4.62M869.71 304.96l-4-2.31l-4 2.31v4.62M877.71 304.96l-4-2.31l-4 2.31v4.62M885.71 304.96l-4-2.31l-4 2.31v4.62M893.71 304.96l-4-2.31l-4 2.31v4.62M901.71 304.96l-4-2.31l-4 2.31v4.62M909.72 304.96l-4-2.31l-4 2.31v4.62M917.72 304.96l-4-2.31l-4 2.31v4.62M925.72 304.96l-4-2.31l-4 2.31v4.62M933.72 304.96l-4-2.31l-4 2.31v4.62M941.72 304.96l-4-2.31l-4 2.31v4.62M949.72 304.96l-4-2.31l-4 2.31v4.62M957.72 304.96l-4-2.31l-4 2.31v4.62M965.72 304.96l-4-2.31l-4 2.31v4.62M973.72 304.96l-4-2.31l-4 2.31v4.62M981.72 304.96l-4-2.31l-4 2.31v4.62M989.73 304.96l-4-2.31l-4 2.31v4.62M997.73 304.96l-4-2.31l-4 2.31v4.62M1005.73 304.96l-4-2.31l-4 2.31v4.62M1013.73 304.96l-4-2.31l-4 2.31v4.62M1021.73 304.96l-4-2.31l-4 2.31v4.62M1029.73 304.96l-4-2.31l-4 2.31v4.62M1037.73 304.96l-4-2.31l-4 2.31v4.62M1045.73 304.96l-4-2.31l-4 2.31v4.62M1053.73 304.96l-4-2.31l-4 2.31v4.62M1061.73 304.96l-4-2.31l-4 2.31v4.62M1069.74 304.96l-4-2.31l-4 2.31v4.62M1085.74 304.96l-4-2.31l-4 2.31v4.62M1093.74 304.96l-4-2.31l-4 2.31v4.62M361.65 311.89l-4-2.31l-4 2.31v4.62M369.65 311.89l-4-2.31l-4 2.31v4.62M377.65 311.89l-4-2.31l-4 2.31v4.62M385.65 311.89l-4-2.31l-4 2.31v4.62M393.65 311.89l-4-2.31l-4 2.31v4.62M401.65 311.89l-4-2.31l-4 2.31v4.62M409.65 311.89l-4-2.31l-4 2.31v4.62M417.65 311.89l-4-2.31l-4 2.31v4.62M425.65 311.89l-4-2.31l-4 2.31v4.62M433.66 311.89l-4-2.31l-4 2.31v4.62M441.66 311.89l-4-2.31l-4 2.31v4.62M449.66 311.89l-4-2.31l-4 2.31v4.62M457.66 311.89l-4-2.31l-4 2.31v4.62M465.66 311.89l-4-2.31l-4 2.31v4.62M473.66 311.89l-4-2.31l-4 2.31v4.62M481.66 311.89l-4-2.31l-4 2.31v4.62M489.66 311.89l-4-2.31l-4 2.31v4.62M497.66 311.89l-4-2.31l-4 2.31v4.62M505.66 311.89l-4-2.31l-4 2.31v4.62M513.67 311.89l-4-2.31l-4 2.31v4.62M521.67 311.89l-4-2.31l-4 2.31v4.62M529.67 311.89l-4-2.31l-4 2.31v4.62M537.67 311.89l-4-2.31l-4 2.31v4.62M545.67 311.89l-4-2.31l-4 2.31v4.62M553.67 311.89l-4-2.31l-4 2.31v4.62M561.67 311.89l-4-2.31l-4 2.31v4.62M569.67 311.89l-4-2.31l-4 2.31v4.62M577.67 311.89l-4-2.31l-4 2.31v4.62M585.67 311.89l-4-2.31l-4 2.31v4.62M593.68 311.89l-4-2.31l-4 2.31v4.62M601.68 311.89l-4-2.31l-4 2.31v4.62M609.68 311.89l-4-2.31l-4 2.31v4.62M617.68 311.89l-4-2.31l-4 2.31v4.62M625.68 311.89l-4-2.31l-4 2.31v4.62M633.68 311.89l-4-2.31l-4 2.31v4.62M641.68 311.89l-4-2.31l-4 2.31v4.62M649.68 311.89l-4-2.31l-4 2.31v4.62M657.68 311.89l-4-2.31l-4 2.31v4.62M665.68 311.89l-4-2.31l-4 2.31v4.62M673.69 311.89l-4-2.31l-4 2.31v4.62M681.69 311.89l-4-2.31l-4 2.31v4.62M689.69 311.89l-4-2.31l-4 2.31v4.62M697.69 311.89l-4-2.31l-4 2.31v4.62M705.69 311.89l-4-2.31l-4 2.31v4.62M713.69 311.89l-4-2.31l-4 2.31v4.62M721.69 311.89l-4-2.31l-4 2.31v4.62M729.69 311.89l-4-2.31l-4 2.31v4.62M737.69 311.89l-4-2.31l-4 2.31v4.62M745.69 311.89l-4-2.31l-4 2.31v4.62M753.70 311.89l-4-2.31l-4 2.31v4.62M761.70 311.89l-4-2.31l-4 2.31v4.62M769.70 311.89l-4-2.31l-4 2.31v4.62M777.70 311.89l-4-2.31l-4 2.31v4.62M785.70 311.89l-4-2.31l-4 2.31v4.62M793.70 311.89l-4-2.31l-4 2.31v4.62M801.70 311.89l-4-2.31l-4 2.31v4.62M809.70 311.89l-4-2.31l-4 2.31v4.62M817.70 311.89l-4-2.31l-4 2.31v4.62M825.70 311.89l-4-2.31l-4 2.31v4.62M833.71 311.89l-4-2.31l-4 2.31v4.62M841.71 311.89l-4-2.31l-4 2.31v4.62M849.71 311.89l-4-2.31l-4 2.31v4.62M857.71 311.89l-4-2.31l-4 2.31v4.62M865.71 311.89l-4-2.31l-4 2.31v4.62M873.71 311.89l-4-2.31l-4 2.31v4.62M881.71 311.89l-4-2.31l-4 2.31v4.62M889.71 311.89l-4-2.31l-4 2.31v4.62M897.71 311.89l-4-2.31l-4 2.31v4.62M905.71 311.89l-4-2.31l-4 2.31v4.62M913.72 311.89l-4-2.31l-4 2.31v4.62M921.72 311.89l-4-2.31l-4 2.31v4.62M929.72 311.89l-4-2.31l-4 2.31v4.62M937.72 311.89l-4-2.31l-4 2.31v4.62M945.72 311.89l-4-2.31l-4 2.31v4.62M953.72 311.89l-4-2.31l-4 2.31v4.62M961.72 311.89l-4-2.31l-4 2.31v4.62M969.72 311.89l-4-2.31l-4 2.31v4.62M977.72 311.89l-4-2.31l-4 2.31v4.62M985.72 311.89l-4-2.31l-4 2.31v4.62M993.73 311.89l-4-2.31l-4 2.31v4.62M1001.73 311.89l-4-2.31l-4 2.31v4.62M1009.73 311.89l-4-2.31l-4 2.31v4.62M1017.73 311.89l-4-2.31l-4 2.31v4.62M1025.73 311.89l-4-2.31l-4 2.31v4.62M1033.73 311.89l-4-2.31l-4 2.31v4.62M1041.73 311.89l-4-2.31l-4 2.31v4.62M1049.73 311.89l-4-2.31l-4 2.31v4.62M1057.73 311.89l-4-2.31l-4 2.31v4.62M1065.74 311.89l-4-2.31l-4 2.31v4.62M1089.74 311.89l-4-2.31l-4 2.31v4.62M357.65 318.81l-4-2.31l-4 2.31v4.62M365.65 318.81l-4-2.31l-4 2.31v4.62M373.65 318.81l-4-2.31l-4 2.31v4.62M381.65 318.81l-4-2.31l-4 2.31v4.62M389.65 318.81l-4-2.31l-4 2.31v4.62M397.65 318.81l-4-2.31l-4 2.31v4.62M405.65 318.81l-4-2.31l-4 2.31v4.62M413.65 318.81l-4-2.31l-4 2.31v4.62M421.65 318.81l-4-2.31l-4 2.31v4.62M429.66 318.81l-4-2.31l-4 2.31v4.62M437.66 318.81l-4-2.31l-4 2.31v4.62M445.66 318.81l-4-2.31l-4 2.31v4.62M453.66 318.81l-4-2.31l-4 2.31v4.62M461.66 318.81l-4-2.31l-4 2.31v4.62M469.66 318.81l-4-2.31l-4 2.31v4.62M477.66 318.81l-4-2.31l-4 2.31v4.62M485.66 318.81l-4-2.31l-4 2.31v4.62M493.66 318.81l-4-2.31l-4 2.31v4.62M501.66 318.81l-4-2.31l-4 2.31v4.62M509.67 318.81l-4-2.31l-4 2.31v4.62M517.67 318.81l-4-2.31l-4 2.31v4.62M525.67 318.81l-4-2.31l-4 2.31v4.62M533.67 318.81l-4-2.31l-4 2.31v4.62M541.67 318.81l-4-2.31l-4 2.31v4.62M549.67 318.81l-4-2.31l-4 2.31v4.62M557.67 318.81l-4-2.31l-4 2.31v4.62M565.67 318.81l-4-2.31l-4 2.31v4.62M573.67 318.81l-4-2.31l-4 2.31v4.62M581.67 318.81l-4-2.31l-4 2.31v4.62M589.68 318.81l-4-2.31l-4 2.31v4.62M597.68 318.81l-4-2.31l-4 2.31v4.62M605.68 318.81l-4-2.31l-4 2.31v4.62M613.68 318.81l-4-2.31l-4 2.31v4.62M621.68 318.81l-4-2.31l-4 2.31v4.62M629.68 318.81l-4-2.31l-4 2.31v4.62M637.68 318.81l-4-2.31l-4 2.31v4.62M645.68 318.81l-4-2.31l-4 2.31v4.62M653.68 318.81l-4-2.31l-4 2.31v4.62M661.68 318.81l-4-2.31l-4 2.31v4.62M669.69 318.81l-4-2.31l-4 2.31v4.62M677.69 318.81l-4-2.31l-4 2.31v4.62M685.69 318.81l-4-2.31l-4 2.31v4.62M693.69 318.81l-4-2.31l-4 2.31v4.62M701.69 318.81l-4-2.31l-4 2.31v4.62M709.69 318.81l-4-2.31l-4 2.31v4.62M717.69 318.81l-4-2.31l-4 2.31v4.62M725.69 318.81l-4-2.31l-4 2.31v4.62M733.69 318.81l-4-2.31l-4 2.31v4.62M741.69 318.81l-4-2.31l-4 2.31v4.62M749.70 318.81l-4-2.31l-4 2.31v4.62M757.70 318.81l-4-2.31l-4 2.31v4.62M765.70 318.81l-4-2.31l-4 2.31v4.62M773.70 318.81l-4-2.31l-4 2.31v4.62M781.70 318.81l-4-2.31l-4 2.31v4.62M789.70 318.81l-4-2.31l-4 2.31v4.62M797.70 318.81l-4-2.31l-4 2.31v4.62M805.70 318.81l-4-2.31l-4 2.31v4.62M813.70 318.81l-4-2.31l-4 2.31v4.62M821.70 318.81l-4-2.31l-4 2.31v4.62M829.71 318.81l-4-2.31l-4 2.31v4.62M837.71 318.81l-4-2.31l-4 2.31v4.62M845.71 318.81l-4-2.31l-4 2.31v4.62M853.71 318.81l-4-2.31l-4 2.31v4.62M861.71 318.81l-4-2.31l-4 2.31v4.62M869.71 318.81l-4-2.31l-4 2.31v4.62M877.71 318.81l-4-2.31l-4 2.31v4.62M885.71 318.81l-4-2.31l-4 2.31v4.62M893.71 318.81l-4-2.31l-4 2.31v4.62M901.71 318.81l-4-2.31l-4 2.31v4.62M909.72 318.81l-4-2.31l-4 2.31v4.62M917.72 318.81l-4-2.31l-4 2.31v4.62M925.72 318.81l-4-2.31l-4 2.31v4.62M933.72 318.81l-4-2.31l-4 2.31v4.62M941.72 318.81l-4-2.31l-4 2.31v4.62M949.72 318.81l-4-2.31l-4 2.31v4.62M957.72 318.81l-4-2.31l-4 2.31v4.62M965.72 318.81l-4-2.31l-4 2.31v4.62M973.72 318.81l-4-2.31l-4 2.31v4.62M981.72 318.81l-4-2.31l-4 2.31v4.62M989.73 318.81l-4-2.31l-4 2.31v4.62M997.73 318.81l-4-2.31l-4 2.31v4.62M1005.73 318.81l-4-2.31l-4 2.31v4.62M1013.73 318.81l-4-2.31l-4 2.31v4.62M1021.73 318.81l-4-2.31l-4 2.31v4.62M1029.73 318.81l-4-2.31l-4 2.31v4.62M1037.73 318.81l-4-2.31l-4 2.31v4.62M1045.73 318.81l-4-2.31l-4 2.31v4.62M1053.73 318.81l-4-2.31l-4 2.31v4.62M1061.73 318.81l-4-2.31l-4 2.31v4.62M361.65 325.74l-4-2.31l-4 2.31v4.62M369.65 325.74l-4-2.31l-4 2.31v4.62M377.65 325.74l-4-2.31l-4 2.31v4.62M385.65 325.74l-4-2.31l-4 2.31v4.62M393.65 325.74l-4-2.31l-4 2.31v4.62M401.65 325.74l-4-2.31l-4 2.31v4.62M409.65 325.74l-4-2.31l-4 2.31v4.62M417.65 325.74l-4-2.31l-4 2.31v4.62M425.65 325.74l-4-2.31l-4 2.31v4.62M433.66 325.74l-4-2.31l-4 2.31v4.62M441.66 325.74l-4-2.31l-4 2.31v4.62M449.66 325.74l-4-2.31l-4 2.31v4.62M457.66 325.74l-4-2.31l-4 2.31v4.62M465.66 325.74l-4-2.31l-4 2.31v4.62M473.66 325.74l-4-2.31l-4 2.31v4.62M481.66 325.74l-4-2.31l-4 2.31v4.62M489.66 325.74l-4-2.31l-4 2.31v4.62M497.66 325.74l-4-2.31l-4 2.31v4.62M505.66 325.74l-4-2.31l-4 2.31v4.62M513.67 325.74l-4-2.31l-4 2.31v4.62M521.67 325.74l-4-2.31l-4 2.31v4.62M529.67 325.74l-4-2.31l-4 2.31v4.62M537.67 325.74l-4-2.31l-4 2.31v4.62M545.67 325.74l-4-2.31l-4 2.31v4.62M553.67 325.74l-4-2.31l-4 2.31v4.62M561.67 325.74l-4-2.31l-4 2.31v4.62M569.67 325.74l-4-2.31l-4 2.31v4.62M577.67 325.74l-4-2.31l-4 2.31v4.62M585.67 325.74l-4-2.31l-4 2.31v4.62M593.68 325.74l-4-2.31l-4 2.31v4.62M601.68 325.74l-4-2.31l-4 2.31v4.62M609.68 325.74l-4-2.31l-4 2.31v4.62M617.68 325.74l-4-2.31l-4 2.31v4.62M625.68 325.74l-4-2.31l-4 2.31v4.62M633.68 325.74l-4-2.31l-4 2.31v4.62M641.68 325.74l-4-2.31l-4 2.31v4.62M649.68 325.74l-4-2.31l-4 2.31v4.62M657.68 325.74l-4-2.31l-4 2.31v4.62M665.68 325.74l-4-2.31l-4 2.31v4.62M673.69 325.74l-4-2.31l-4 2.31v4.62M681.69 325.74l-4-2.31l-4 2.31v4.62M689.69 325.74l-4-2.31l-4 2.31v4.62M697.69 325.74l-4-2.31l-4 2.31v4.62M705.69 325.74l-4-2.31l-4 2.31v4.62M713.69 325.74l-4-2.31l-4 2.31v4.62M721.69 325.74l-4-2.31l-4 2.31v4.62M729.69 325.74l-4-2.31l-4 2.31v4.62M737.69 325.74l-4-2.31l-4 2.31v4.62M745.69 325.74l-4-2.31l-4 2.31v4.62M753.70 325.74l-4-2.31l-4 2.31v4.62M761.70 325.74l-4-2.31l-4 2.31v4.62M769.70 325.74l-4-2.31l-4 2.31v4.62M777.70 325.74l-4-2.31l-4 2.31v4.62M785.70 325.74l-4-2.31l-4 2.31v4.62M793.70 325.74l-4-2.31l-4 2.31v4.62M801.70 325.74l-4-2.31l-4 2.31v4.62M809.70 325.74l-4-2.31l-4 2.31v4.62M817.70 325.74l-4-2.31l-4 2.31v4.62M825.70 325.74l-4-2.31l-4 2.31v4.62M833.71 325.74l-4-2.31l-4 2.31v4.62M841.71 325.74l-4-2.31l-4 2.31v4.62M849.71 325.74l-4-2.31l-4 2.31v4.62M857.71 325.74l-4-2.31l-4 2.31v4.62M865.71 325.74l-4-2.31l-4 2.31v4.62M873.71 325.74l-4-2.31l-4 2.31v4.62M881.71 325.74l-4-2.31l-4 2.31v4.62M889.71 325.74l-4-2.31l-4 2.31v4.62M897.71 325.74l-4-2.31l-4 2.31v4.62M905.71 325.74l-4-2.31l-4 2.31v4.62M913.72 325.74l-4-2.31l-4 2.31v4.62M921.72 325.74l-4-2.31l-4 2.31v4.62M929.72 325.74l-4-2.31l-4 2.31v4.62M937.72 325.74l-4-2.31l-4 2.31v4.62M945.72 325.74l-4-2.31l-4 2.31v4.62M953.72 325.74l-4-2.31l-4 2.31v4.62M961.72 325.74l-4-2.31l-4 2.31v4.62M969.72 325.74l-4-2.31l-4 2.31v4.62M977.72 325.74l-4-2.31l-4 2.31v4.62M985.72 325.74l-4-2.31l-4 2.31v4.62M993.73 325.74l-4-2.31l-4 2.31v4.62M1001.73 325.74l-4-2.31l-4 2.31v4.62M1009.73 325.74l-4-2.31l-4 2.31v4.62M1017.73 325.74l-4-2.31l-4 2.31v4.62M1025.73 325.74l-4-2.31l-4 2.31v4.62M1033.73 325.74l-4-2.31l-4 2.31v4.62M1041.73 325.74l-4-2.31l-4 2.31v4.62M1049.73 325.74l-4-2.31l-4 2.31v4.62M1057.73 325.74l-4-2.31l-4 2.31v4.62M357.65 332.67l-4-2.31l-4 2.31v4.62M365.65 332.67l-4-2.31l-4 2.31v4.62M373.65 332.67l-4-2.31l-4 2.31v4.62M381.65 332.67l-4-2.31l-4 2.31v4.62M389.65 332.67l-4-2.31l-4 2.31v4.62M397.65 332.67l-4-2.31l-4 2.31v4.62M405.65 332.67l-4-2.31l-4 2.31v4.62M413.65 332.67l-4-2.31l-4 2.31v4.62M421.65 332.67l-4-2.31l-4 2.31v4.62M429.66 332.67l-4-2.31l-4 2.31v4.62M437.66 332.67l-4-2.31l-4 2.31v4.62M445.66 332.67l-4-2.31l-4 2.31v4.62M453.66 332.67l-4-2.31l-4 2.31v4.62M461.66 332.67l-4-2.31l-4 2.31v4.62M469.66 332.67l-4-2.31l-4 2.31v4.62M477.66 332.67l-4-2.31l-4 2.31v4.62M485.66 332.67l-4-2.31l-4 2.31v4.62M493.66 332.67l-4-2.31l-4 2.31v4.62M501.66 332.67l-4-2.31l-4 2.31v4.62M509.67 332.67l-4-2.31l-4 2.31v4.62M517.67 332.67l-4-2.31l-4 2.31v4.62M525.67 332.67l-4-2.31l-4 2.31v4.62M533.67 332.67l-4-2.31l-4 2.31v4.62M541.67 332.67l-4-2.31l-4 2.31v4.62M549.67 332.67l-4-2.31l-4 2.31v4.62M557.67 332.67l-4-2.31l-4 2.31v4.62M565.67 332.67l-4-2.31l-4 2.31v4.62M573.67 332.67l-4-2.31l-4 2.31v4.62M581.67 332.67l-4-2.31l-4 2.31v4.62M589.68 332.67l-4-2.31l-4 2.31v4.62M597.68 332.67l-4-2.31l-4 2.31v4.62M605.68 332.67l-4-2.31l-4 2.31v4.62M613.68 332.67l-4-2.31l-4 2.31v4.62M621.68 332.67l-4-2.31l-4 2.31v4.62M629.68 332.67l-4-2.31l-4 2.31v4.62M637.68 332.67l-4-2.31l-4 2.31v4.62M645.68 332.67l-4-2.31l-4 2.31v4.62M653.68 332.67l-4-2.31l-4 2.31v4.62M661.68 332.67l-4-2.31l-4 2.31v4.62M669.69 332.67l-4-2.31l-4 2.31v4.62M677.69 332.67l-4-2.31l-4 2.31v4.62M685.69 332.67l-4-2.31l-4 2.31v4.62M693.69 332.67l-4-2.31l-4 2.31v4.62M701.69 332.67l-4-2.31l-4 2.31v4.62M709.69 332.67l-4-2.31l-4 2.31v4.62M717.69 332.67l-4-2.31l-4 2.31v4.62M725.69 332.67l-4-2.31l-4 2.31v4.62M733.69 332.67l-4-2.31l-4 2.31v4.62M741.69 332.67l-4-2.31l-4 2.31v4.62M749.70 332.67l-4-2.31l-4 2.31v4.62M757.70 332.67l-4-2.31l-4 2.31v4.62M765.70 332.67l-4-2.31l-4 2.31v4.62M773.70 332.67l-4-2.31l-4 2.31v4.62M781.70 332.67l-4-2.31l-4 2.31v4.62M789.70 332.67l-4-2.31l-4 2.31v4.62M797.70 332.67l-4-2.31l-4 2.31v4.62M805.70 332.67l-4-2.31l-4 2.31v4.62M813.70 332.67l-4-2.31l-4 2.31v4.62M821.70 332.67l-4-2.31l-4 2.31v4.62M829.71 332.67l-4-2.31l-4 2.31v4.62M837.71 332.67l-4-2.31l-4 2.31v4.62M845.71 332.67l-4-2.31l-4 2.31v4.62M853.71 332.67l-4-2.31l-4 2.31v4.62M861.71 332.67l-4-2.31l-4 2.31v4.62M869.71 332.67l-4-2.31l-4 2.31v4.62M877.71 332.67l-4-2.31l-4 2.31v4.62M885.71 332.67l-4-2.31l-4 2.31v4.62M893.71 332.67l-4-2.31l-4 2.31v4.62M901.71 332.67l-4-2.31l-4 2.31v4.62M909.72 332.67l-4-2.31l-4 2.31v4.62M917.72 332.67l-4-2.31l-4 2.31v4.62M925.72 332.67l-4-2.31l-4 2.31v4.62M933.72 332.67l-4-2.31l-4 2.31v4.62M941.72 332.67l-4-2.31l-4 2.31v4.62M949.72 332.67l-4-2.31l-4 2.31v4.62M957.72 332.67l-4-2.31l-4 2.31v4.62M965.72 332.67l-4-2.31l-4 2.31v4.62M973.72 332.67l-4-2.31l-4 2.31v4.62M981.72 332.67l-4-2.31l-4 2.31v4.62M989.73 332.67l-4-2.31l-4 2.31v4.62M997.73 332.67l-4-2.31l-4 2.31v4.62M1005.73 332.67l-4-2.31l-4 2.31v4.62M1013.73 332.67l-4-2.31l-4 2.31v4.62M1021.73 332.67l-4-2.31l-4 2.31v4.62M1029.73 332.67l-4-2.31l-4 2.31v4.62M1037.73 332.67l-4-2.31l-4 2.31v4.62M1045.73 332.67l-4-2.31l-4 2.31v4.62M1053.73 332.67l-4-2.31l-4 2.31v4.62M345.64 339.60l-4-2.31l-4 2.31v4.62M353.65 339.60l-4-2.31l-4 2.31v4.62M361.65 339.60l-4-2.31l-4 2.31v4.62M369.65 339.60l-4-2.31l-4 2.31v4.62M377.65 339.60l-4-2.31l-4 2.31v4.62M385.65 339.60l-4-2.31l-4 2.31v4.62M393.65 339.60l-4-2.31l-4 2.31v4.62M401.65 339.60l-4-2.31l-4 2.31v4.62M409.65 339.60l-4-2.31l-4 2.31v4.62M417.65 339.60l-4-2.31l-4 2.31v4.62M425.65 339.60l-4-2.31l-4 2.31v4.62M433.66 339.60l-4-2.31l-4 2.31v4.62M441.66 339.60l-4-2.31l-4 2.31v4.62M449.66 339.60l-4-2.31l-4 2.31v4.62M457.66 339.60l-4-2.31l-4 2.31v4.62M465.66 339.60l-4-2.31l-4 2.31v4.62M473.66 339.60l-4-2.31l-4 2.31v4.62M481.66 339.60l-4-2.31l-4 2.31v4.62M489.66 339.60l-4-2.31l-4 2.31v4.62M497.66 339.60l-4-2.31l-4 2.31v4.62M505.66 339.60l-4-2.31l-4 2.31v4.62M513.67 339.60l-4-2.31l-4 2.31v4.62M521.67 339.60l-4-2.31l-4 2.31v4.62M529.67 339.60l-4-2.31l-4 2.31v4.62M537.67 339.60l-4-2.31l-4 2.31v4.62M545.67 339.60l-4-2.31l-4 2.31v4.62M553.67 339.60l-4-2.31l-4 2.31v4.62M561.67 339.60l-4-2.31l-4 2.31v4.62M569.67 339.60l-4-2.31l-4 2.31v4.62M577.67 339.60l-4-2.31l-4 2.31v4.62M585.67 339.60l-4-2.31l-4 2.31v4.62M593.68 339.60l-4-2.31l-4 2.31v4.62M601.68 339.60l-4-2.31l-4 2.31v4.62M609.68 339.60l-4-2.31l-4 2.31v4.62M617.68 339.60l-4-2.31l-4 2.31v4.62M625.68 339.60l-4-2.31l-4 2.31v4.62M633.68 339.60l-4-2.31l-4 2.31v4.62M641.68 339.60l-4-2.31l-4 2.31v4.62M649.68 339.60l-4-2.31l-4 2.31v4.62M657.68 339.60l-4-2.31l-4 2.31v4.62M665.68 339.60l-4-2.31l-4 2.31v4.62M673.69 339.60l-4-2.31l-4 2.31v4.62M681.69 339.60l-4-2.31l-4 2.31v4.62M689.69 339.60l-4-2.31l-4 2.31v4.62M697.69 339.60l-4-2.31l-4 2.31v4.62M705.69 339.60l-4-2.31l-4 2.31v4.62M713.69 339.60l-4-2.31l-4 2.31v4.62M721.69 339.60l-4-2.31l-4 2.31v4.62M729.69 339.60l-4-2.31l-4 2.31v4.62M737.69 339.60l-4-2.31l-4 2.31v4.62M745.69 339.60l-4-2.31l-4 2.31v4.62M753.70 339.60l-4-2.31l-4 2.31v4.62M761.70 339.60l-4-2.31l-4 2.31v4.62M769.70 339.60l-4-2.31l-4 2.31v4.62M777.70 339.60l-4-2.31l-4 2.31v4.62M785.70 339.60l-4-2.31l-4 2.31v4.62M793.70 339.60l-4-2.31l-4 2.31v4.62M801.70 339.60l-4-2.31l-4 2.31v4.62M809.70 339.60l-4-2.31l-4 2.31v4.62M817.70 339.60l-4-2.31l-4 2.31v4.62M825.70 339.60l-4-2.31l-4 2.31v4.62M833.71 339.60l-4-2.31l-4 2.31v4.62M841.71 339.60l-4-2.31l-4 2.31v4.62M849.71 339.60l-4-2.31l-4 2.31v4.62M857.71 339.60l-4-2.31l-4 2.31v4.62M865.71 339.60l-4-2.31l-4 2.31v4.62M873.71 339.60l-4-2.31l-4 2.31v4.62M881.71 339.60l-4-2.31l-4 2.31v4.62M889.71 339.60l-4-2.31l-4 2.31v4.62M897.71 339.60l-4-2.31l-4 2.31v4.62M905.71 339.60l-4-2.31l-4 2.31v4.62M913.72 339.60l-4-2.31l-4 2.31v4.62M921.72 339.60l-4-2.31l-4 2.31v4.62M929.72 339.60l-4-2.31l-4 2.31v4.62M937.72 339.60l-4-2.31l-4 2.31v4.62M945.72 339.60l-4-2.31l-4 2.31v4.62M953.72 339.60l-4-2.31l-4 2.31v4.62M961.72 339.60l-4-2.31l-4 2.31v4.62M969.72 339.60l-4-2.31l-4 2.31v4.62M977.72 339.60l-4-2.31l-4 2.31v4.62M985.72 339.60l-4-2.31l-4 2.31v4.62M993.73 339.60l-4-2.31l-4 2.31v4.62M1001.73 339.60l-4-2.31l-4 2.31v4.62M1009.73 339.60l-4-2.31l-4 2.31v4.62M1017.73 339.60l-4-2.31l-4 2.31v4.62M1025.73 339.60l-4-2.31l-4 2.31v4.62M1033.73 339.60l-4-2.31l-4 2.31v4.62M1041.73 339.60l-4-2.31l-4 2.31v4.62M1049.73 339.60l-4-2.31l-4 2.31v4.62M1057.73 339.60l-4-2.31l-4 2.31v4.62M341.64 346.53l-4-2.31l-4 2.31v4.62M349.65 346.53l-4-2.31l-4 2.31v4.62M357.65 346.53l-4-2.31l-4 2.31v4.62M365.65 346.53l-4-2.31l-4 2.31v4.62M373.65 346.53l-4-2.31l-4 2.31v4.62M381.65 346.53l-4-2.31l-4 2.31v4.62M389.65 346.53l-4-2.31l-4 2.31v4.62M397.65 346.53l-4-2.31l-4 2.31v4.62M405.65 346.53l-4-2.31l-4 2.31v4.62M413.65 346.53l-4-2.31l-4 2.31v4.62M421.65 346.53l-4-2.31l-4 2.31v4.62M429.66 346.53l-4-2.31l-4 2.31v4.62M437.66 346.53l-4-2.31l-4 2.31v4.62M445.66 346.53l-4-2.31l-4 2.31v4.62M453.66 346.53l-4-2.31l-4 2.31v4.62M461.66 346.53l-4-2.31l-4 2.31v4.62M469.66 346.53l-4-2.31l-4 2.31v4.62M477.66 346.53l-4-2.31l-4 2.31v4.62M485.66 346.53l-4-2.31l-4 2.31v4.62M493.66 346.53l-4-2.31l-4 2.31v4.62M501.66 346.53l-4-2.31l-4 2.31v4.62M509.67 346.53l-4-2.31l-4 2.31v4.62M517.67 346.53l-4-2.31l-4 2.31v4.62M525.67 346.53l-4-2.31l-4 2.31v4.62M533.67 346.53l-4-2.31l-4 2.31v4.62M541.67 346.53l-4-2.31l-4 2.31v4.62M549.67 346.53l-4-2.31l-4 2.31v4.62M557.67 346.53l-4-2.31l-4 2.31v4.62M565.67 346.53l-4-2.31l-4 2.31v4.62M573.67 346.53l-4-2.31l-4 2.31v4.62M581.67 346.53l-4-2.31l-4 2.31v4.62M589.68 346.53l-4-2.31l-4 2.31v4.62M597.68 346.53l-4-2.31l-4 2.31v4.62M605.68 346.53l-4-2.31l-4 2.31v4.62M613.68 346.53l-4-2.31l-4 2.31v4.62M621.68 346.53l-4-2.31l-4 2.31v4.62M629.68 346.53l-4-2.31l-4 2.31v4.62M637.68 346.53l-4-2.31l-4 2.31v4.62M645.68 346.53l-4-2.31l-4 2.31v4.62M653.68 346.53l-4-2.31l-4 2.31v4.62M661.68 346.53l-4-2.31l-4 2.31v4.62M669.69 346.53l-4-2.31l-4 2.31v4.62M677.69 346.53l-4-2.31l-4 2.31v4.62M685.69 346.53l-4-2.31l-4 2.31v4.62M693.69 346.53l-4-2.31l-4 2.31v4.62M701.69 346.53l-4-2.31l-4 2.31v4.62M709.69 346.53l-4-2.31l-4 2.31v4.62M717.69 346.53l-4-2.31l-4 2.31v4.62M725.69 346.53l-4-2.31l-4 2.31v4.62M733.69 346.53l-4-2.31l-4 2.31v4.62M741.69 346.53l-4-2.31l-4 2.31v4.62M749.70 346.53l-4-2.31l-4 2.31v4.62M757.70 346.53l-4-2.31l-4 2.31v4.62M765.70 346.53l-4-2.31l-4 2.31v4.62M773.70 346.53l-4-2.31l-4 2.31v4.62M781.70 346.53l-4-2.31l-4 2.31v4.62M789.70 346.53l-4-2.31l-4 2.31v4.62M797.70 346.53l-4-2.31l-4 2.31v4.62M805.70 346.53l-4-2.31l-4 2.31v4.62M813.70 346.53l-4-2.31l-4 2.31v4.62M821.70 346.53l-4-2.31l-4 2.31v4.62M829.71 346.53l-4-2.31l-4 2.31v4.62M837.71 346.53l-4-2.31l-4 2.31v4.62M845.71 346.53l-4-2.31l-4 2.31v4.62M853.71 346.53l-4-2.31l-4 2.31v4.62M861.71 346.53l-4-2.31l-4 2.31v4.62M869.71 346.53l-4-2.31l-4 2.31v4.62M877.71 346.53l-4-2.31l-4 2.31v4.62M885.71 346.53l-4-2.31l-4 2.31v4.62M893.71 346.53l-4-2.31l-4 2.31v4.62M901.71 346.53l-4-2.31l-4 2.31v4.62M909.72 346.53l-4-2.31l-4 2.31v4.62M917.72 346.53l-4-2.31l-4 2.31v4.62M925.72 346.53l-4-2.31l-4 2.31v4.62M933.72 346.53l-4-2.31l-4 2.31v4.62M941.72 346.53l-4-2.31l-4 2.31v4.62M949.72 346.53l-4-2.31l-4 2.31v4.62M957.72 346.53l-4-2.31l-4 2.31v4.62M965.72 346.53l-4-2.31l-4 2.31v4.62M973.72 346.53l-4-2.31l-4 2.31v4.62M981.72 346.53l-4-2.31l-4 2.31v4.62M989.73 346.53l-4-2.31l-4 2.31v4.62M997.73 346.53l-4-2.31l-4 2.31v4.62M1005.73 346.53l-4-2.31l-4 2.31v4.62M1013.73 346.53l-4-2.31l-4 2.31v4.62M1021.73 346.53l-4-2.31l-4 2.31v4.62M1029.73 346.53l-4-2.31l-4 2.31v4.62M1037.73 346.53l-4-2.31l-4 2.31v4.62M1045.73 346.53l-4-2.31l-4 2.31v4.62M1053.73 346.53l-4-2.31l-4 2.31v4.62M337.64 353.46l-4-2.31l-4 2.31v4.62M345.64 353.46l-4-2.31l-4 2.31v4.62M353.65 353.46l-4-2.31l-4 2.31v4.62M361.65 353.46l-4-2.31l-4 2.31v4.62M369.65 353.46l-4-2.31l-4 2.31v4.62M377.65 353.46l-4-2.31l-4 2.31v4.62M385.65 353.46l-4-2.31l-4 2.31v4.62M393.65 353.46l-4-2.31l-4 2.31v4.62M401.65 353.46l-4-2.31l-4 2.31v4.62M409.65 353.46l-4-2.31l-4 2.31v4.62M417.65 353.46l-4-2.31l-4 2.31v4.62M425.65 353.46l-4-2.31l-4 2.31v4.62M433.66 353.46l-4-2.31l-4 2.31v4.62M441.66 353.46l-4-2.31l-4 2.31v4.62M449.66 353.46l-4-2.31l-4 2.31v4.62M457.66 353.46l-4-2.31l-4 2.31v4.62M465.66 353.46l-4-2.31l-4 2.31v4.62M473.66 353.46l-4-2.31l-4 2.31v4.62M481.66 353.46l-4-2.31l-4 2.31v4.62M489.66 353.46l-4-2.31l-4 2.31v4.62M497.66 353.46l-4-2.31l-4 2.31v4.62M505.66 353.46l-4-2.31l-4 2.31v4.62M513.67 353.46l-4-2.31l-4 2.31v4.62M521.67 353.46l-4-2.31l-4 2.31v4.62M529.67 353.46l-4-2.31l-4 2.31v4.62M537.67 353.46l-4-2.31l-4 2.31v4.62M545.67 353.46l-4-2.31l-4 2.31v4.62M553.67 353.46l-4-2.31l-4 2.31v4.62M561.67 353.46l-4-2.31l-4 2.31v4.62M569.67 353.46l-4-2.31l-4 2.31v4.62M577.67 353.46l-4-2.31l-4 2.31v4.62M585.67 353.46l-4-2.31l-4 2.31v4.62M593.68 353.46l-4-2.31l-4 2.31v4.62M601.68 353.46l-4-2.31l-4 2.31v4.62M609.68 353.46l-4-2.31l-4 2.31v4.62M617.68 353.46l-4-2.31l-4 2.31v4.62M625.68 353.46l-4-2.31l-4 2.31v4.62M633.68 353.46l-4-2.31l-4 2.31v4.62M641.68 353.46l-4-2.31l-4 2.31v4.62M649.68 353.46l-4-2.31l-4 2.31v4.62M657.68 353.46l-4-2.31l-4 2.31v4.62M665.68 353.46l-4-2.31l-4 2.31v4.62M673.69 353.46l-4-2.31l-4 2.31v4.62M681.69 353.46l-4-2.31l-4 2.31v4.62M689.69 353.46l-4-2.31l-4 2.31v4.62M697.69 353.46l-4-2.31l-4 2.31v4.62M705.69 353.46l-4-2.31l-4 2.31v4.62M713.69 353.46l-4-2.31l-4 2.31v4.62M721.69 353.46l-4-2.31l-4 2.31v4.62M729.69 353.46l-4-2.31l-4 2.31v4.62M737.69 353.46l-4-2.31l-4 2.31v4.62M745.69 353.46l-4-2.31l-4 2.31v4.62M753.70 353.46l-4-2.31l-4 2.31v4.62M761.70 353.46l-4-2.31l-4 2.31v4.62M769.70 353.46l-4-2.31l-4 2.31v4.62M777.70 353.46l-4-2.31l-4 2.31v4.62M785.70 353.46l-4-2.31l-4 2.31v4.62M793.70 353.46l-4-2.31l-4 2.31v4.62M801.70 353.46l-4-2.31l-4 2.31v4.62M809.70 353.46l-4-2.31l-4 2.31v4.62M817.70 353.46l-4-2.31l-4 2.31v4.62M825.70 353.46l-4-2.31l-4 2.31v4.62M833.71 353.46l-4-2.31l-4 2.31v4.62M841.71 353.46l-4-2.31l-4 2.31v4.62M849.71 353.46l-4-2.31l-4 2.31v4.62M857.71 353.46l-4-2.31l-4 2.31v4.62M865.71 353.46l-4-2.31l-4 2.31v4.62M873.71 353.46l-4-2.31l-4 2.31v4.62M881.71 353.46l-4-2.31l-4 2.31v4.62M889.71 353.46l-4-2.31l-4 2.31v4.62M897.71 353.46l-4-2.31l-4 2.31v4.62M905.71 353.46l-4-2.31l-4 2.31v4.62M913.72 353.46l-4-2.31l-4 2.31v4.62M921.72 353.46l-4-2.31l-4 2.31v4.62M929.72 353.46l-4-2.31l-4 2.31v4.62M937.72 353.46l-4-2.31l-4 2.31v4.62M945.72 353.46l-4-2.31l-4 2.31v4.62M953.72 353.46l-4-2.31l-4 2.31v4.62M961.72 353.46l-4-2.31l-4 2.31v4.62M969.72 353.46l-4-2.31l-4 2.31v4.62M977.72 353.46l-4-2.31l-4 2.31v4.62M985.72 353.46l-4-2.31l-4 2.31v4.62M993.73 353.46l-4-2.31l-4 2.31v4.62M1001.73 353.46l-4-2.31l-4 2.31v4.62M1009.73 353.46l-4-2.31l-4 2.31v4.62M1017.73 353.46l-4-2.31l-4 2.31v4.62M1025.73 353.46l-4-2.31l-4 2.31v4.62M1033.73 353.46l-4-2.31l-4 2.31v4.62M1041.73 353.46l-4-2.31l-4 2.31v4.62M1049.73 353.46l-4-2.31l-4 2.31v4.62M1057.73 353.46l-4-2.31l-4 2.31v4.62M1065.74 353.46l-4-2.31l-4 2.31v4.62M1073.74 353.46l-4-2.31l-4 2.31v4.62M333.64 360.39l-4-2.31l-4 2.31v4.62M341.64 360.39l-4-2.31l-4 2.31v4.62M349.65 360.39l-4-2.31l-4 2.31v4.62M357.65 360.39l-4-2.31l-4 2.31v4.62M365.65 360.39l-4-2.31l-4 2.31v4.62M373.65 360.39l-4-2.31l-4 2.31v4.62M381.65 360.39l-4-2.31l-4 2.31v4.62M389.65 360.39l-4-2.31l-4 2.31v4.62M397.65 360.39l-4-2.31l-4 2.31v4.62M405.65 360.39l-4-2.31l-4 2.31v4.62M413.65 360.39l-4-2.31l-4 2.31v4.62M421.65 360.39l-4-2.31l-4 2.31v4.62M429.66 360.39l-4-2.31l-4 2.31v4.62M437.66 360.39l-4-2.31l-4 2.31v4.62M445.66 360.39l-4-2.31l-4 2.31v4.62M453.66 360.39l-4-2.31l-4 2.31v4.62M461.66 360.39l-4-2.31l-4 2.31v4.62M469.66 360.39l-4-2.31l-4 2.31v4.62M477.66 360.39l-4-2.31l-4 2.31v4.62M485.66 360.39l-4-2.31l-4 2.31v4.62M493.66 360.39l-4-2.31l-4 2.31v4.62M501.66 360.39l-4-2.31l-4 2.31v4.62M509.67 360.39l-4-2.31l-4 2.31v4.62M517.67 360.39l-4-2.31l-4 2.31v4.62M525.67 360.39l-4-2.31l-4 2.31v4.62M533.67 360.39l-4-2.31l-4 2.31v4.62M541.67 360.39l-4-2.31l-4 2.31v4.62M549.67 360.39l-4-2.31l-4 2.31v4.62M557.67 360.39l-4-2.31l-4 2.31v4.62M565.67 360.39l-4-2.31l-4 2.31v4.62M573.67 360.39l-4-2.31l-4 2.31v4.62M581.67 360.39l-4-2.31l-4 2.31v4.62M589.68 360.39l-4-2.31l-4 2.31v4.62M597.68 360.39l-4-2.31l-4 2.31v4.62M605.68 360.39l-4-2.31l-4 2.31v4.62M613.68 360.39l-4-2.31l-4 2.31v4.62M621.68 360.39l-4-2.31l-4 2.31v4.62M629.68 360.39l-4-2.31l-4 2.31v4.62M637.68 360.39l-4-2.31l-4 2.31v4.62M645.68 360.39l-4-2.31l-4 2.31v4.62M653.68 360.39l-4-2.31l-4 2.31v4.62M661.68 360.39l-4-2.31l-4 2.31v4.62M669.69 360.39l-4-2.31l-4 2.31v4.62M677.69 360.39l-4-2.31l-4 2.31v4.62M685.69 360.39l-4-2.31l-4 2.31v4.62M693.69 360.39l-4-2.31l-4 2.31v4.62M701.69 360.39l-4-2.31l-4 2.31v4.62M709.69 360.39l-4-2.31l-4 2.31v4.62M717.69 360.39l-4-2.31l-4 2.31v4.62M725.69 360.39l-4-2.31l-4 2.31v4.62M733.69 360.39l-4-2.31l-4 2.31v4.62M741.69 360.39l-4-2.31l-4 2.31v4.62M749.70 360.39l-4-2.31l-4 2.31v4.62M757.70 360.39l-4-2.31l-4 2.31v4.62M765.70 360.39l-4-2.31l-4 2.31v4.62M773.70 360.39l-4-2.31l-4 2.31v4.62M781.70 360.39l-4-2.31l-4 2.31v4.62M789.70 360.39l-4-2.31l-4 2.31v4.62M797.70 360.39l-4-2.31l-4 2.31v4.62M805.70 360.39l-4-2.31l-4 2.31v4.62M813.70 360.39l-4-2.31l-4 2.31v4.62M821.70 360.39l-4-2.31l-4 2.31v4.62M829.71 360.39l-4-2.31l-4 2.31v4.62M837.71 360.39l-4-2.31l-4 2.31v4.62M845.71 360.39l-4-2.31l-4 2.31v4.62M853.71 360.39l-4-2.31l-4 2.31v4.62M861.71 360.39l-4-2.31l-4 2.31v4.62M869.71 360.39l-4-2.31l-4 2.31v4.62M877.71 360.39l-4-2.31l-4 2.31v4.62M885.71 360.39l-4-2.31l-4 2.31v4.62M893.71 360.39l-4-2.31l-4 2.31v4.62M901.71 360.39l-4-2.31l-4 2.31v4.62M909.72 360.39l-4-2.31l-4 2.31v4.62M917.72 360.39l-4-2.31l-4 2.31v4.62M925.72 360.39l-4-2.31l-4 2.31v4.62M933.72 360.39l-4-2.31l-4 2.31v4.62M941.72 360.39l-4-2.31l-4 2.31v4.62M949.72 360.39l-4-2.31l-4 2.31v4.62M957.72 360.39l-4-2.31l-4 2.31v4.62M965.72 360.39l-4-2.31l-4 2.31v4.62M973.72 360.39l-4-2.31l-4 2.31v4.62M981.72 360.39l-4-2.31l-4 2.31v4.62M989.73 360.39l-4-2.31l-4 2.31v4.62M997.73 360.39l-4-2.31l-4 2.31v4.62M1005.73 360.39l-4-2.31l-4 2.31v4.62M1013.73 360.39l-4-2.31l-4 2.31v4.62M1021.73 360.39l-4-2.31l-4 2.31v4.62M1029.73 360.39l-4-2.31l-4 2.31v4.62M1037.73 360.39l-4-2.31l-4 2.31v4.62M1045.73 360.39l-4-2.31l-4 2.31v4.62M1053.73 360.39l-4-2.31l-4 2.31v4.62M1061.73 360.39l-4-2.31l-4 2.31v4.62M1069.74 360.39l-4-2.31l-4 2.31v4.62M337.64 367.32l-4-2.31l-4 2.31v4.62M345.64 367.32l-4-2.31l-4 2.31v4.62M353.65 367.32l-4-2.31l-4 2.31v4.62M361.65 367.32l-4-2.31l-4 2.31v4.62M369.65 367.32l-4-2.31l-4 2.31v4.62M377.65 367.32l-4-2.31l-4 2.31v4.62M385.65 367.32l-4-2.31l-4 2.31v4.62M393.65 367.32l-4-2.31l-4 2.31v4.62M401.65 367.32l-4-2.31l-4 2.31v4.62M409.65 367.32l-4-2.31l-4 2.31v4.62M417.65 367.32l-4-2.31l-4 2.31v4.62M425.65 367.32l-4-2.31l-4 2.31v4.62M433.66 367.32l-4-2.31l-4 2.31v4.62M441.66 367.32l-4-2.31l-4 2.31v4.62M449.66 367.32l-4-2.31l-4 2.31v4.62M457.66 367.32l-4-2.31l-4 2.31v4.62M465.66 367.32l-4-2.31l-4 2.31v4.62M473.66 367.32l-4-2.31l-4 2.31v4.62M481.66 367.32l-4-2.31l-4 2.31v4.62M489.66 367.32l-4-2.31l-4 2.31v4.62M497.66 367.32l-4-2.31l-4 2.31v4.62M505.66 367.32l-4-2.31l-4 2.31v4.62M513.67 367.32l-4-2.31l-4 2.31v4.62M521.67 367.32l-4-2.31l-4 2.31v4.62M529.67 367.32l-4-2.31l-4 2.31v4.62M537.67 367.32l-4-2.31l-4 2.31v4.62M545.67 367.32l-4-2.31l-4 2.31v4.62M553.67 367.32l-4-2.31l-4 2.31v4.62M561.67 367.32l-4-2.31l-4 2.31v4.62M569.67 367.32l-4-2.31l-4 2.31v4.62M577.67 367.32l-4-2.31l-4 2.31v4.62M585.67 367.32l-4-2.31l-4 2.31v4.62M593.68 367.32l-4-2.31l-4 2.31v4.62M601.68 367.32l-4-2.31l-4 2.31v4.62M609.68 367.32l-4-2.31l-4 2.31v4.62M617.68 367.32l-4-2.31l-4 2.31v4.62M625.68 367.32l-4-2.31l-4 2.31v4.62M633.68 367.32l-4-2.31l-4 2.31v4.62M641.68 367.32l-4-2.31l-4 2.31v4.62M649.68 367.32l-4-2.31l-4 2.31v4.62M657.68 367.32l-4-2.31l-4 2.31v4.62M665.68 367.32l-4-2.31l-4 2.31v4.62M673.69 367.32l-4-2.31l-4 2.31v4.62M681.69 367.32l-4-2.31l-4 2.31v4.62M689.69 367.32l-4-2.31l-4 2.31v4.62M697.69 367.32l-4-2.31l-4 2.31v4.62M705.69 367.32l-4-2.31l-4 2.31v4.62M713.69 367.32l-4-2.31l-4 2.31v4.62M721.69 367.32l-4-2.31l-4 2.31v4.62M729.69 367.32l-4-2.31l-4 2.31v4.62M737.69 367.32l-4-2.31l-4 2.31v4.62M745.69 367.32l-4-2.31l-4 2.31v4.62M753.70 367.32l-4-2.31l-4 2.31v4.62M761.70 367.32l-4-2.31l-4 2.31v4.62M769.70 367.32l-4-2.31l-4 2.31v4.62M777.70 367.32l-4-2.31l-4 2.31v4.62M785.70 367.32l-4-2.31l-4 2.31v4.62M793.70 367.32l-4-2.31l-4 2.31v4.62M801.70 367.32l-4-2.31l-4 2.31v4.62M809.70 367.32l-4-2.31l-4 2.31v4.62M817.70 367.32l-4-2.31l-4 2.31v4.62M825.70 367.32l-4-2.31l-4 2.31v4.62M833.71 367.32l-4-2.31l-4 2.31v4.62M841.71 367.32l-4-2.31l-4 2.31v4.62M849.71 367.32l-4-2.31l-4 2.31v4.62M857.71 367.32l-4-2.31l-4 2.31v4.62M865.71 367.32l-4-2.31l-4 2.31v4.62M873.71 367.32l-4-2.31l-4 2.31v4.62M881.71 367.32l-4-2.31l-4 2.31v4.62M889.71 367.32l-4-2.31l-4 2.31v4.62M897.71 367.32l-4-2.31l-4 2.31v4.62M905.71 367.32l-4-2.31l-4 2.31v4.62M913.72 367.32l-4-2.31l-4 2.31v4.62M921.72 367.32l-4-2.31l-4 2.31v4.62M929.72 367.32l-4-2.31l-4 2.31v4.62M937.72 367.32l-4-2.31l-4 2.31v4.62M945.72 367.32l-4-2.31l-4 2.31v4.62M953.72 367.32l-4-2.31l-4 2.31v4.62M961.72 367.32l-4-2.31l-4 2.31v4.62M969.72 367.32l-4-2.31l-4 2.31v4.62M977.72 367.32l-4-2.31l-4 2.31v4.62M985.72 367.32l-4-2.31l-4 2.31v4.62M993.73 367.32l-4-2.31l-4 2.31v4.62M1001.73 367.32l-4-2.31l-4 2.31v4.62M1009.73 367.32l-4-2.31l-4 2.31v4.62M1017.73 367.32l-4-2.31l-4 2.31v4.62M1025.73 367.32l-4-2.31l-4 2.31v4.62M1033.73 367.32l-4-2.31l-4 2.31v4.62M1041.73 367.32l-4-2.31l-4 2.31v4.62M1049.73 367.32l-4-2.31l-4 2.31v4.62M1065.74 367.32l-4-2.31l-4 2.31v4.62M1073.74 367.32l-4-2.31l-4 2.31v4.62M341.64 374.25l-4-2.31l-4 2.31v4.62M349.65 374.25l-4-2.31l-4 2.31v4.62M357.65 374.25l-4-2.31l-4 2.31v4.62M365.65 374.25l-4-2.31l-4 2.31v4.62M373.65 374.25l-4-2.31l-4 2.31v4.62M381.65 374.25l-4-2.31l-4 2.31v4.62M389.65 374.25l-4-2.31l-4 2.31v4.62M397.65 374.25l-4-2.31l-4 2.31v4.62M405.65 374.25l-4-2.31l-4 2.31v4.62M413.65 374.25l-4-2.31l-4 2.31v4.62M421.65 374.25l-4-2.31l-4 2.31v4.62M429.66 374.25l-4-2.31l-4 2.31v4.62M437.66 374.25l-4-2.31l-4 2.31v4.62M445.66 374.25l-4-2.31l-4 2.31v4.62M453.66 374.25l-4-2.31l-4 2.31v4.62M461.66 374.25l-4-2.31l-4 2.31v4.62M469.66 374.25l-4-2.31l-4 2.31v4.62M477.66 374.25l-4-2.31l-4 2.31v4.62M485.66 374.25l-4-2.31l-4 2.31v4.62M493.66 374.25l-4-2.31l-4 2.31v4.62M501.66 374.25l-4-2.31l-4 2.31v4.62M509.67 374.25l-4-2.31l-4 2.31v4.62M517.67 374.25l-4-2.31l-4 2.31v4.62M525.67 374.25l-4-2.31l-4 2.31v4.62M533.67 374.25l-4-2.31l-4 2.31v4.62M541.67 374.25l-4-2.31l-4 2.31v4.62M549.67 374.25l-4-2.31l-4 2.31v4.62M557.67 374.25l-4-2.31l-4 2.31v4.62M565.67 374.25l-4-2.31l-4 2.31v4.62M573.67 374.25l-4-2.31l-4 2.31v4.62M581.67 374.25l-4-2.31l-4 2.31v4.62M589.68 374.25l-4-2.31l-4 2.31v4.62M597.68 374.25l-4-2.31l-4 2.31v4.62M605.68 374.25l-4-2.31l-4 2.31v4.62M613.68 374.25l-4-2.31l-4 2.31v4.62M621.68 374.25l-4-2.31l-4 2.31v4.62M629.68 374.25l-4-2.31l-4 2.31v4.62M637.68 374.25l-4-2.31l-4 2.31v4.62M645.68 374.25l-4-2.31l-4 2.31v4.62M653.68 374.25l-4-2.31l-4 2.31v4.62M661.68 374.25l-4-2.31l-4 2.31v4.62M669.69 374.25l-4-2.31l-4 2.31v4.62M677.69 374.25l-4-2.31l-4 2.31v4.62M685.69 374.25l-4-2.31l-4 2.31v4.62M693.69 374.25l-4-2.31l-4 2.31v4.62M701.69 374.25l-4-2.31l-4 2.31v4.62M709.69 374.25l-4-2.31l-4 2.31v4.62M717.69 374.25l-4-2.31l-4 2.31v4.62M725.69 374.25l-4-2.31l-4 2.31v4.62M733.69 374.25l-4-2.31l-4 2.31v4.62M741.69 374.25l-4-2.31l-4 2.31v4.62M749.70 374.25l-4-2.31l-4 2.31v4.62M757.70 374.25l-4-2.31l-4 2.31v4.62M765.70 374.25l-4-2.31l-4 2.31v4.62M773.70 374.25l-4-2.31l-4 2.31v4.62M781.70 374.25l-4-2.31l-4 2.31v4.62M789.70 374.25l-4-2.31l-4 2.31v4.62M797.70 374.25l-4-2.31l-4 2.31v4.62M805.70 374.25l-4-2.31l-4 2.31v4.62M813.70 374.25l-4-2.31l-4 2.31v4.62M821.70 374.25l-4-2.31l-4 2.31v4.62M829.71 374.25l-4-2.31l-4 2.31v4.62M837.71 374.25l-4-2.31l-4 2.31v4.62M845.71 374.25l-4-2.31l-4 2.31v4.62M853.71 374.25l-4-2.31l-4 2.31v4.62M861.71 374.25l-4-2.31l-4 2.31v4.62M869.71 374.25l-4-2.31l-4 2.31v4.62M877.71 374.25l-4-2.31l-4 2.31v4.62M885.71 374.25l-4-2.31l-4 2.31v4.62M893.71 374.25l-4-2.31l-4 2.31v4.62M901.71 374.25l-4-2.31l-4 2.31v4.62M909.72 374.25l-4-2.31l-4 2.31v4.62M917.72 374.25l-4-2.31l-4 2.31v4.62M925.72 374.25l-4-2.31l-4 2.31v4.62M933.72 374.25l-4-2.31l-4 2.31v4.62M941.72 374.25l-4-2.31l-4 2.31v4.62M981.72 374.25l-4-2.31l-4 2.31v4.62M989.73 374.25l-4-2.31l-4 2.31v4.62M997.73 374.25l-4-2.31l-4 2.31v4.62M1005.73 374.25l-4-2.31l-4 2.31v4.62M1013.73 374.25l-4-2.31l-4 2.31v4.62M1021.73 374.25l-4-2.31l-4 2.31v4.62M1029.73 374.25l-4-2.31l-4 2.31v4.62M1037.73 374.25l-4-2.31l-4 2.31v4.62M337.64 381.18l-4-2.31l-4 2.31v4.62M345.64 381.18l-4-2.31l-4 2.31v4.62M353.65 381.18l-4-2.31l-4 2.31v4.62M361.65 381.18l-4-2.31l-4 2.31v4.62M369.65 381.18l-4-2.31l-4 2.31v4.62M377.65 381.18l-4-2.31l-4 2.31v4.62M385.65 381.18l-4-2.31l-4 2.31v4.62M393.65 381.18l-4-2.31l-4 2.31v4.62M401.65 381.18l-4-2.31l-4 2.31v4.62M409.65 381.18l-4-2.31l-4 2.31v4.62M417.65 381.18l-4-2.31l-4 2.31v4.62M425.65 381.18l-4-2.31l-4 2.31v4.62M433.66 381.18l-4-2.31l-4 2.31v4.62M441.66 381.18l-4-2.31l-4 2.31v4.62M449.66 381.18l-4-2.31l-4 2.31v4.62M457.66 381.18l-4-2.31l-4 2.31v4.62M465.66 381.18l-4-2.31l-4 2.31v4.62M473.66 381.18l-4-2.31l-4 2.31v4.62M481.66 381.18l-4-2.31l-4 2.31v4.62M489.66 381.18l-4-2.31l-4 2.31v4.62M497.66 381.18l-4-2.31l-4 2.31v4.62M505.66 381.18l-4-2.31l-4 2.31v4.62M513.67 381.18l-4-2.31l-4 2.31v4.62M521.67 381.18l-4-2.31l-4 2.31v4.62M529.67 381.18l-4-2.31l-4 2.31v4.62M537.67 381.18l-4-2.31l-4 2.31v4.62M545.67 381.18l-4-2.31l-4 2.31v4.62M553.67 381.18l-4-2.31l-4 2.31v4.62M561.67 381.18l-4-2.31l-4 2.31v4.62M569.67 381.18l-4-2.31l-4 2.31v4.62M577.67 381.18l-4-2.31l-4 2.31v4.62M585.67 381.18l-4-2.31l-4 2.31v4.62M593.68 381.18l-4-2.31l-4 2.31v4.62M601.68 381.18l-4-2.31l-4 2.31v4.62M609.68 381.18l-4-2.31l-4 2.31v4.62M617.68 381.18l-4-2.31l-4 2.31v4.62M625.68 381.18l-4-2.31l-4 2.31v4.62M633.68 381.18l-4-2.31l-4 2.31v4.62M641.68 381.18l-4-2.31l-4 2.31v4.62M649.68 381.18l-4-2.31l-4 2.31v4.62M657.68 381.18l-4-2.31l-4 2.31v4.62M665.68 381.18l-4-2.31l-4 2.31v4.62M673.69 381.18l-4-2.31l-4 2.31v4.62M681.69 381.18l-4-2.31l-4 2.31v4.62M689.69 381.18l-4-2.31l-4 2.31v4.62M697.69 381.18l-4-2.31l-4 2.31v4.62M705.69 381.18l-4-2.31l-4 2.31v4.62M713.69 381.18l-4-2.31l-4 2.31v4.62M721.69 381.18l-4-2.31l-4 2.31v4.62M729.69 381.18l-4-2.31l-4 2.31v4.62M737.69 381.18l-4-2.31l-4 2.31v4.62M745.69 381.18l-4-2.31l-4 2.31v4.62M753.70 381.18l-4-2.31l-4 2.31v4.62M761.70 381.18l-4-2.31l-4 2.31v4.62M769.70 381.18l-4-2.31l-4 2.31v4.62M777.70 381.18l-4-2.31l-4 2.31v4.62M785.70 381.18l-4-2.31l-4 2.31v4.62M793.70 381.18l-4-2.31l-4 2.31v4.62M801.70 381.18l-4-2.31l-4 2.31v4.62M809.70 381.18l-4-2.31l-4 2.31v4.62M817.70 381.18l-4-2.31l-4 2.31v4.62M825.70 381.18l-4-2.31l-4 2.31v4.62M833.71 381.18l-4-2.31l-4 2.31v4.62M841.71 381.18l-4-2.31l-4 2.31v4.62M849.71 381.18l-4-2.31l-4 2.31v4.62M857.71 381.18l-4-2.31l-4 2.31v4.62M865.71 381.18l-4-2.31l-4 2.31v4.62M873.71 381.18l-4-2.31l-4 2.31v4.62M881.71 381.18l-4-2.31l-4 2.31v4.62M889.71 381.18l-4-2.31l-4 2.31v4.62M897.71 381.18l-4-2.31l-4 2.31v4.62M905.71 381.18l-4-2.31l-4 2.31v4.62M913.72 381.18l-4-2.31l-4 2.31v4.62M921.72 381.18l-4-2.31l-4 2.31v4.62M1025.73 381.18l-4-2.31l-4 2.31v4.62M1033.73 381.18l-4-2.31l-4 2.31v4.62M333.64 388.11l-4-2.31l-4 2.31v4.62M341.64 388.11l-4-2.31l-4 2.31v4.62M349.65 388.11l-4-2.31l-4 2.31v4.62M357.65 388.11l-4-2.31l-4 2.31v4.62M365.65 388.11l-4-2.31l-4 2.31v4.62M373.65 388.11l-4-2.31l-4 2.31v4.62M381.65 388.11l-4-2.31l-4 2.31v4.62M389.65 388.11l-4-2.31l-4 2.31v4.62M397.65 388.11l-4-2.31l-4 2.31v4.62M405.65 388.11l-4-2.31l-4 2.31v4.62M413.65 388.11l-4-2.31l-4 2.31v4.62M421.65 388.11l-4-2.31l-4 2.31v4.62M429.66 388.11l-4-2.31l-4 2.31v4.62M437.66 388.11l-4-2.31l-4 2.31v4.62M445.66 388.11l-4-2.31l-4 2.31v4.62M453.66 388.11l-4-2.31l-4 2.31v4.62M461.66 388.11l-4-2.31l-4 2.31v4.62M469.66 388.11l-4-2.31l-4 2.31v4.62M477.66 388.11l-4-2.31l-4 2.31v4.62M485.66 388.11l-4-2.31l-4 2.31v4.62M493.66 388.11l-4-2.31l-4 2.31v4.62M501.66 388.11l-4-2.31l-4 2.31v4.62M509.67 388.11l-4-2.31l-4 2.31v4.62M517.67 388.11l-4-2.31l-4 2.31v4.62M525.67 388.11l-4-2.31l-4 2.31v4.62M533.67 388.11l-4-2.31l-4 2.31v4.62M541.67 388.11l-4-2.31l-4 2.31v4.62M549.67 388.11l-4-2.31l-4 2.31v4.62M557.67 388.11l-4-2.31l-4 2.31v4.62M565.67 388.11l-4-2.31l-4 2.31v4.62M573.67 388.11l-4-2.31l-4 2.31v4.62M581.67 388.11l-4-2.31l-4 2.31v4.62M589.68 388.11l-4-2.31l-4 2.31v4.62M597.68 388.11l-4-2.31l-4 2.31v4.62M605.68 388.11l-4-2.31l-4 2.31v4.62M613.68 388.11l-4-2.31l-4 2.31v4.62M621.68 388.11l-4-2.31l-4 2.31v4.62M629.68 388.11l-4-2.31l-4 2.31v4.62M637.68 388.11l-4-2.31l-4 2.31v4.62M645.68 388.11l-4-2.31l-4 2.31v4.62M653.68 388.11l-4-2.31l-4 2.31v4.62M661.68 388.11l-4-2.31l-4 2.31v4.62M669.69 388.11l-4-2.31l-4 2.31v4.62M677.69 388.11l-4-2.31l-4 2.31v4.62M685.69 388.11l-4-2.31l-4 2.31v4.62M693.69 388.11l-4-2.31l-4 2.31v4.62M701.69 388.11l-4-2.31l-4 2.31v4.62M709.69 388.11l-4-2.31l-4 2.31v4.62M717.69 388.11l-4-2.31l-4 2.31v4.62M725.69 388.11l-4-2.31l-4 2.31v4.62M733.69 388.11l-4-2.31l-4 2.31v4.62M741.69 388.11l-4-2.31l-4 2.31v4.62M749.70 388.11l-4-2.31l-4 2.31v4.62M757.70 388.11l-4-2.31l-4 2.31v4.62M765.70 388.11l-4-2.31l-4 2.31v4.62M773.70 388.11l-4-2.31l-4 2.31v4.62M781.70 388.11l-4-2.31l-4 2.31v4.62M789.70 388.11l-4-2.31l-4 2.31v4.62M797.70 388.11l-4-2.31l-4 2.31v4.62M805.70 388.11l-4-2.31l-4 2.31v4.62M813.70 388.11l-4-2.31l-4 2.31v4.62M821.70 388.11l-4-2.31l-4 2.31v4.62M829.71 388.11l-4-2.31l-4 2.31v4.62M837.71 388.11l-4-2.31l-4 2.31v4.62M845.71 388.11l-4-2.31l-4 2.31v4.62M853.71 388.11l-4-2.31l-4 2.31v4.62M861.71 388.11l-4-2.31l-4 2.31v4.62M869.71 388.11l-4-2.31l-4 2.31v4.62M877.71 388.11l-4-2.31l-4 2.31v4.62M885.71 388.11l-4-2.31l-4 2.31v4.62M893.71 388.11l-4-2.31l-4 2.31v4.62M901.71 388.11l-4-2.31l-4 2.31v4.62M329.64 395.03l-4-2.31l-4 2.31v4.62M337.64 395.03l-4-2.31l-4 2.31v4.62M345.64 395.03l-4-2.31l-4 2.31v4.62M353.65 395.03l-4-2.31l-4 2.31v4.62M361.65 395.03l-4-2.31l-4 2.31v4.62M369.65 395.03l-4-2.31l-4 2.31v4.62M377.65 395.03l-4-2.31l-4 2.31v4.62M385.65 395.03l-4-2.31l-4 2.31v4.62M393.65 395.03l-4-2.31l-4 2.31v4.62M401.65 395.03l-4-2.31l-4 2.31v4.62M409.65 395.03l-4-2.31l-4 2.31v4.62M417.65 395.03l-4-2.31l-4 2.31v4.62M425.65 395.03l-4-2.31l-4 2.31v4.62M433.66 395.03l-4-2.31l-4 2.31v4.62M441.66 395.03l-4-2.31l-4 2.31v4.62M449.66 395.03l-4-2.31l-4 2.31v4.62M457.66 395.03l-4-2.31l-4 2.31v4.62M465.66 395.03l-4-2.31l-4 2.31v4.62M473.66 395.03l-4-2.31l-4 2.31v4.62M481.66 395.03l-4-2.31l-4 2.31v4.62M489.66 395.03l-4-2.31l-4 2.31v4.62M497.66 395.03l-4-2.31l-4 2.31v4.62M505.66 395.03l-4-2.31l-4 2.31v4.62M513.67 395.03l-4-2.31l-4 2.31v4.62M521.67 395.03l-4-2.31l-4 2.31v4.62M529.67 395.03l-4-2.31l-4 2.31v4.62M537.67 395.03l-4-2.31l-4 2.31v4.62M545.67 395.03l-4-2.31l-4 2.31v4.62M553.67 395.03l-4-2.31l-4 2.31v4.62M561.67 395.03l-4-2.31l-4 2.31v4.62M569.67 395.03l-4-2.31l-4 2.31v4.62M577.67 395.03l-4-2.31l-4 2.31v4.62M585.67 395.03l-4-2.31l-4 2.31v4.62M593.68 395.03l-4-2.31l-4 2.31v4.62M601.68 395.03l-4-2.31l-4 2.31v4.62M609.68 395.03l-4-2.31l-4 2.31v4.62M617.68 395.03l-4-2.31l-4 2.31v4.62M625.68 395.03l-4-2.31l-4 2.31v4.62M633.68 395.03l-4-2.31l-4 2.31v4.62M641.68 395.03l-4-2.31l-4 2.31v4.62M649.68 395.03l-4-2.31l-4 2.31v4.62M657.68 395.03l-4-2.31l-4 2.31v4.62M665.68 395.03l-4-2.31l-4 2.31v4.62M673.69 395.03l-4-2.31l-4 2.31v4.62M681.69 395.03l-4-2.31l-4 2.31v4.62M689.69 395.03l-4-2.31l-4 2.31v4.62M697.69 395.03l-4-2.31l-4 2.31v4.62M705.69 395.03l-4-2.31l-4 2.31v4.62M713.69 395.03l-4-2.31l-4 2.31v4.62M721.69 395.03l-4-2.31l-4 2.31v4.62M729.69 395.03l-4-2.31l-4 2.31v4.62M737.69 395.03l-4-2.31l-4 2.31v4.62M745.69 395.03l-4-2.31l-4 2.31v4.62M753.70 395.03l-4-2.31l-4 2.31v4.62M761.70 395.03l-4-2.31l-4 2.31v4.62M769.70 395.03l-4-2.31l-4 2.31v4.62M777.70 395.03l-4-2.31l-4 2.31v4.62M785.70 395.03l-4-2.31l-4 2.31v4.62M793.70 395.03l-4-2.31l-4 2.31v4.62M801.70 395.03l-4-2.31l-4 2.31v4.62M809.70 395.03l-4-2.31l-4 2.31v4.62M817.70 395.03l-4-2.31l-4 2.31v4.62M825.70 395.03l-4-2.31l-4 2.31v4.62M833.71 395.03l-4-2.31l-4 2.31v4.62M841.71 395.03l-4-2.31l-4 2.31v4.62M849.71 395.03l-4-2.31l-4 2.31v4.62M857.71 395.03l-4-2.31l-4 2.31v4.62M865.71 395.03l-4-2.31l-4 2.31v4.62M873.71 395.03l-4-2.31l-4 2.31v4.62M333.64 401.96l-4-2.31l-4 2.31v4.62M341.64 401.96l-4-2.31l-4 2.31v4.62M349.65 401.96l-4-2.31l-4 2.31v4.62M357.65 401.96l-4-2.31l-4 2.31v4.62M365.65 401.96l-4-2.31l-4 2.31v4.62M373.65 401.96l-4-2.31l-4 2.31v4.62M381.65 401.96l-4-2.31l-4 2.31v4.62M397.65 401.96l-4-2.31l-4 2.31v4.62M405.65 401.96l-4-2.31l-4 2.31v4.62M413.65 401.96l-4-2.31l-4 2.31v4.62M421.65 401.96l-4-2.31l-4 2.31v4.62M429.66 401.96l-4-2.31l-4 2.31v4.62M437.66 401.96l-4-2.31l-4 2.31v4.62M493.66 401.96l-4-2.31l-4 2.31v4.62M501.66 401.96l-4-2.31l-4 2.31v4.62M557.67 401.96l-4-2.31l-4 2.31v4.62M565.67 401.96l-4-2.31l-4 2.31v4.62M573.67 401.96l-4-2.31l-4 2.31v4.62M581.67 401.96l-4-2.31l-4 2.31v4.62M589.68 401.96l-4-2.31l-4 2.31v4.62M597.68 401.96l-4-2.31l-4 2.31v4.62M605.68 401.96l-4-2.31l-4 2.31v4.62M613.68 401.96l-4-2.31l-4 2.31v4.62M621.68 401.96l-4-2.31l-4 2.31v4.62M629.68 401.96l-4-2.31l-4 2.31v4.62M637.68 401.96l-4-2.31l-4 2.31v4.62M645.68 401.96l-4-2.31l-4 2.31v4.62M653.68 401.96l-4-2.31l-4 2.31v4.62M661.68 401.96l-4-2.31l-4 2.31v4.62M669.69 401.96l-4-2.31l-4 2.31v4.62M677.69 401.96l-4-2.31l-4 2.31v4.62M685.69 401.96l-4-2.31l-4 2.31v4.62M693.69 401.96l-4-2.31l-4 2.31v4.62M701.69 401.96l-4-2.31l-4 2.31v4.62M709.69 401.96l-4-2.31l-4 2.31v4.62M717.69 401.96l-4-2.31l-4 2.31v4.62M725.69 401.96l-4-2.31l-4 2.31v4.62M733.69 401.96l-4-2.31l-4 2.31v4.62M741.69 401.96l-4-2.31l-4 2.31v4.62M749.70 401.96l-4-2.31l-4 2.31v4.62M757.70 401.96l-4-2.31l-4 2.31v4.62M765.70 401.96l-4-2.31l-4 2.31v4.62M773.70 401.96l-4-2.31l-4 2.31v4.62M781.70 401.96l-4-2.31l-4 2.31v4.62M789.70 401.96l-4-2.31l-4 2.31v4.62M797.70 401.96l-4-2.31l-4 2.31v4.62M805.70 401.96l-4-2.31l-4 2.31v4.62M813.70 401.96l-4-2.31l-4 2.31v4.62M821.70 401.96l-4-2.31l-4 2.31v4.62M829.71 401.96l-4-2.31l-4 2.31v4.62M837.71 401.96l-4-2.31l-4 2.31v4.62M845.71 401.96l-4-2.31l-4 2.31v4.62M853.71 401.96l-4-2.31l-4 2.31v4.62M329.64 408.89l-4-2.31l-4 2.31v4.62M337.64 408.89l-4-2.31l-4 2.31v4.62M345.64 408.89l-4-2.31l-4 2.31v4.62M353.65 408.89l-4-2.31l-4 2.31v4.62M361.65 408.89l-4-2.31l-4 2.31v4.62M369.65 408.89l-4-2.31l-4 2.31v4.62M377.65 408.89l-4-2.31l-4 2.31v4.62M385.65 408.89l-4-2.31l-4 2.31v4.62M409.65 408.89l-4-2.31l-4 2.31v4.62M417.65 408.89l-4-2.31l-4 2.31v4.62M425.65 408.89l-4-2.31l-4 2.31v4.62M457.66 408.89l-4-2.31l-4 2.31v4.62M465.66 408.89l-4-2.31l-4 2.31v4.62M473.66 408.89l-4-2.31l-4 2.31v4.62M481.66 408.89l-4-2.31l-4 2.31v4.62M489.66 408.89l-4-2.31l-4 2.31v4.62M497.66 408.89l-4-2.31l-4 2.31v4.62M505.66 408.89l-4-2.31l-4 2.31v4.62M513.67 408.89l-4-2.31l-4 2.31v4.62M585.67 408.89l-4-2.31l-4 2.31v4.62M593.68 408.89l-4-2.31l-4 2.31v4.62M601.68 408.89l-4-2.31l-4 2.31v4.62M609.68 408.89l-4-2.31l-4 2.31v4.62M617.68 408.89l-4-2.31l-4 2.31v4.62M625.68 408.89l-4-2.31l-4 2.31v4.62M633.68 408.89l-4-2.31l-4 2.31v4.62M641.68 408.89l-4-2.31l-4 2.31v4.62M649.68 408.89l-4-2.31l-4 2.31v4.62M657.68 408.89l-4-2.31l-4 2.31v4.62M665.68 408.89l-4-2.31l-4 2.31v4.62M673.69 408.89l-4-2.31l-4 2.31v4.62M681.69 408.89l-4-2.31l-4 2.31v4.62M689.69 408.89l-4-2.31l-4 2.31v4.62M697.69 408.89l-4-2.31l-4 2.31v4.62M705.69 408.89l-4-2.31l-4 2.31v4.62M713.69 408.89l-4-2.31l-4 2.31v4.62M721.69 408.89l-4-2.31l-4 2.31v4.62M729.69 408.89l-4-2.31l-4 2.31v4.62M737.69 408.89l-4-2.31l-4 2.31v4.62M745.69 408.89l-4-2.31l-4 2.31v4.62M753.70 408.89l-4-2.31l-4 2.31v4.62M761.70 408.89l-4-2.31l-4 2.31v4.62M769.70 408.89l-4-2.31l-4 2.31v4.62M777.70 408.89l-4-2.31l-4 2.31v4.62M785.70 408.89l-4-2.31l-4 2.31v4.62M793.70 408.89l-4-2.31l-4 2.31v4.62M801.70 408.89l-4-2.31l-4 2.31v4.62M809.70 408.89l-4-2.31l-4 2.31v4.62M817.70 408.89l-4-2.31l-4 2.31v4.62M825.70 408.89l-4-2.31l-4 2.31v4.62M333.64 415.82l-4-2.31l-4 2.31v4.62M341.64 415.82l-4-2.31l-4 2.31v4.62M349.65 415.82l-4-2.31l-4 2.31v4.62M357.65 415.82l-4-2.31l-4 2.31v4.62M365.65 415.82l-4-2.31l-4 2.31v4.62M373.65 415.82l-4-2.31l-4 2.31v4.62M381.65 415.82l-4-2.31l-4 2.31v4.62M389.65 415.82l-4-2.31l-4 2.31v4.62M413.65 415.82l-4-2.31l-4 2.31v4.62M421.65 415.82l-4-2.31l-4 2.31v4.62M437.66 415.82l-4-2.31l-4 2.31v4.62M445.66 415.82l-4-2.31l-4 2.31v4.62M453.66 415.82l-4-2.31l-4 2.31v4.62M461.66 415.82l-4-2.31l-4 2.31v4.62M469.66 415.82l-4-2.31l-4 2.31v4.62M477.66 415.82l-4-2.31l-4 2.31v4.62M485.66 415.82l-4-2.31l-4 2.31v4.62M493.66 415.82l-4-2.31l-4 2.31v4.62M501.66 415.82l-4-2.31l-4 2.31v4.62M509.67 415.82l-4-2.31l-4 2.31v4.62M517.67 415.82l-4-2.31l-4 2.31v4.62M525.67 415.82l-4-2.31l-4 2.31v4.62M589.68 415.82l-4-2.31l-4 2.31v4.62M597.68 415.82l-4-2.31l-4 2.31v4.62M605.68 415.82l-4-2.31l-4 2.31v4.62M613.68 415.82l-4-2.31l-4 2.31v4.62M621.68 415.82l-4-2.31l-4 2.31v4.62M629.68 415.82l-4-2.31l-4 2.31v4.62M637.68 415.82l-4-2.31l-4 2.31v4.62M645.68 415.82l-4-2.31l-4 2.31v4.62M653.68 415.82l-4-2.31l-4 2.31v4.62M661.68 415.82l-4-2.31l-4 2.31v4.62M669.69 415.82l-4-2.31l-4 2.31v4.62M677.69 415.82l-4-2.31l-4 2.31v4.62M685.69 415.82l-4-2.31l-4 2.31v4.62M693.69 415.82l-4-2.31l-4 2.31v4.62M701.69 415.82l-4-2.31l-4 2.31v4.62M709.69 415.82l-4-2.31l-4 2.31v4.62M717.69 415.82l-4-2.31l-4 2.31v4.62M725.69 415.82l-4-2.31l-4 2.31v4.62M733.69 415.82l-4-2.31l-4 2.31v4.62M741.69 415.82l-4-2.31l-4 2.31v4.62M749.70 415.82l-4-2.31l-4 2.31v4.62M757.70 415.82l-4-2.31l-4 2.31v4.62M765.70 415.82l-4-2.31l-4 2.31v4.62M773.70 415.82l-4-2.31l-4 2.31v4.62M781.70 415.82l-4-2.31l-4 2.31v4.62M789.70 415.82l-4-2.31l-4 2.31v4.62M797.70 415.82l-4-2.31l-4 2.31v4.62M805.70 415.82l-4-2.31l-4 2.31v4.62M813.70 415.82l-4-2.31l-4 2.31v4.62M329.64 422.75l-4-2.31l-4 2.31v4.62M337.64 422.75l-4-2.31l-4 2.31v4.62M345.64 422.75l-4-2.31l-4 2.31v4.62M353.65 422.75l-4-2.31l-4 2.31v4.62M361.65 422.75l-4-2.31l-4 2.31v4.62M369.65 422.75l-4-2.31l-4 2.31v4.62M377.65 422.75l-4-2.31l-4 2.31v4.62M385.65 422.75l-4-2.31l-4 2.31v4.62M425.65 422.75l-4-2.31l-4 2.31v4.62M433.66 422.75l-4-2.31l-4 2.31v4.62M441.66 422.75l-4-2.31l-4 2.31v4.62M449.66 422.75l-4-2.31l-4 2.31v4.62M457.66 422.75l-4-2.31l-4 2.31v4.62M465.66 422.75l-4-2.31l-4 2.31v4.62M473.66 422.75l-4-2.31l-4 2.31v4.62M481.66 422.75l-4-2.31l-4 2.31v4.62M489.66 422.75l-4-2.31l-4 2.31v4.62M497.66 422.75l-4-2.31l-4 2.31v4.62M505.66 422.75l-4-2.31l-4 2.31v4.62M513.67 422.75l-4-2.31l-4 2.31v4.62M521.67 422.75l-4-2.31l-4 2.31v4.62M529.67 422.75l-4-2.31l-4 2.31v4.62M569.67 422.75l-4-2.31l-4 2.31v4.62M577.67 422.75l-4-2.31l-4 2.31v4.62M585.67 422.75l-4-2.31l-4 2.31v4.62M601.68 422.75l-4-2.31l-4 2.31v4.62M609.68 422.75l-4-2.31l-4 2.31v4.62M617.68 422.75l-4-2.31l-4 2.31v4.62M625.68 422.75l-4-2.31l-4 2.31v4.62M633.68 422.75l-4-2.31l-4 2.31v4.62M641.68 422.75l-4-2.31l-4 2.31v4.62M649.68 422.75l-4-2.31l-4 2.31v4.62M657.68 422.75l-4-2.31l-4 2.31v4.62M665.68 422.75l-4-2.31l-4 2.31v4.62M673.69 422.75l-4-2.31l-4 2.31v4.62M681.69 422.75l-4-2.31l-4 2.31v4.62M689.69 422.75l-4-2.31l-4 2.31v4.62M697.69 422.75l-4-2.31l-4 2.31v4.62M705.69 422.75l-4-2.31l-4 2.31v4.62M713.69 422.75l-4-2.31l-4 2.31v4.62M721.69 422.75l-4-2.31l-4 2.31v4.62M729.69 422.75l-4-2.31l-4 2.31v4.62M737.69 422.75l-4-2.31l-4 2.31v4.62M745.69 422.75l-4-2.31l-4 2.31v4.62M753.70 422.75l-4-2.31l-4 2.31v4.62M761.70 422.75l-4-2.31l-4 2.31v4.62M769.70 422.75l-4-2.31l-4 2.31v4.62M777.70 422.75l-4-2.31l-4 2.31v4.62M785.70 422.75l-4-2.31l-4 2.31v4.62M793.70 422.75l-4-2.31l-4 2.31v4.62M801.70 422.75l-4-2.31l-4 2.31v4.62M325.64 429.68l-4-2.31l-4 2.31v4.62M333.64 429.68l-4-2.31l-4 2.31v4.62M341.64 429.68l-4-2.31l-4 2.31v4.62M349.65 429.68l-4-2.31l-4 2.31v4.62M357.65 429.68l-4-2.31l-4 2.31v4.62M365.65 429.68l-4-2.31l-4 2.31v4.62M373.65 429.68l-4-2.31l-4 2.31v4.62M381.65 429.68l-4-2.31l-4 2.31v4.62M389.65 429.68l-4-2.31l-4 2.31v4.62M421.65 429.68l-4-2.31l-4 2.31v4.62M429.66 429.68l-4-2.31l-4 2.31v4.62M437.66 429.68l-4-2.31l-4 2.31v4.62M445.66 429.68l-4-2.31l-4 2.31v4.62M453.66 429.68l-4-2.31l-4 2.31v4.62M461.66 429.68l-4-2.31l-4 2.31v4.62M469.66 429.68l-4-2.31l-4 2.31v4.62M477.66 429.68l-4-2.31l-4 2.31v4.62M485.66 429.68l-4-2.31l-4 2.31v4.62M493.66 429.68l-4-2.31l-4 2.31v4.62M501.66 429.68l-4-2.31l-4 2.31v4.62M509.67 429.68l-4-2.31l-4 2.31v4.62M517.67 429.68l-4-2.31l-4 2.31v4.62M525.67 429.68l-4-2.31l-4 2.31v4.62M533.67 429.68l-4-2.31l-4 2.31v4.62M541.67 429.68l-4-2.31l-4 2.31v4.62M565.67 429.68l-4-2.31l-4 2.31v4.62M573.67 429.68l-4-2.31l-4 2.31v4.62M581.67 429.68l-4-2.31l-4 2.31v4.62M589.68 429.68l-4-2.31l-4 2.31v4.62M597.68 429.68l-4-2.31l-4 2.31v4.62M605.68 429.68l-4-2.31l-4 2.31v4.62M613.68 429.68l-4-2.31l-4 2.31v4.62M621.68 429.68l-4-2.31l-4 2.31v4.62M629.68 429.68l-4-2.31l-4 2.31v4.62M637.68 429.68l-4-2.31l-4 2.31v4.62M645.68 429.68l-4-2.31l-4 2.31v4.62M653.68 429.68l-4-2.31l-4 2.31v4.62M661.68 429.68l-4-2.31l-4 2.31v4.62M669.69 429.68l-4-2.31l-4 2.31v4.62M677.69 429.68l-4-2.31l-4 2.31v4.62M685.69 429.68l-4-2.31l-4 2.31v4.62M693.69 429.68l-4-2.31l-4 2.31v4.62M701.69 429.68l-4-2.31l-4 2.31v4.62M709.69 429.68l-4-2.31l-4 2.31v4.62M717.69 429.68l-4-2.31l-4 2.31v4.62M725.69 429.68l-4-2.31l-4 2.31v4.62M733.69 429.68l-4-2.31l-4 2.31v4.62M741.69 429.68l-4-2.31l-4 2.31v4.62M749.70 429.68l-4-2.31l-4 2.31v4.62M757.70 429.68l-4-2.31l-4 2.31v4.62M765.70 429.68l-4-2.31l-4 2.31v4.62M773.70 429.68l-4-2.31l-4 2.31v4.62M781.70 429.68l-4-2.31l-4 2.31v4.62M789.70 429.68l-4-2.31l-4 2.31v4.62M797.70 429.68l-4-2.31l-4 2.31v4.62M321.64 436.61l-4-2.31l-4 2.31v4.62M329.64 436.61l-4-2.31l-4 2.31v4.62M337.64 436.61l-4-2.31l-4 2.31v4.62M345.64 436.61l-4-2.31l-4 2.31v4.62M353.65 436.61l-4-2.31l-4 2.31v4.62M361.65 436.61l-4-2.31l-4 2.31v4.62M369.65 436.61l-4-2.31l-4 2.31v4.62M377.65 436.61l-4-2.31l-4 2.31v4.62M401.65 436.61l-4-2.31l-4 2.31v4.62M409.65 436.61l-4-2.31l-4 2.31v4.62M417.65 436.61l-4-2.31l-4 2.31v4.62M425.65 436.61l-4-2.31l-4 2.31v4.62M433.66 436.61l-4-2.31l-4 2.31v4.62M441.66 436.61l-4-2.31l-4 2.31v4.62M449.66 436.61l-4-2.31l-4 2.31v4.62M457.66 436.61l-4-2.31l-4 2.31v4.62M465.66 436.61l-4-2.31l-4 2.31v4.62M473.66 436.61l-4-2.31l-4 2.31v4.62M481.66 436.61l-4-2.31l-4 2.31v4.62M489.66 436.61l-4-2.31l-4 2.31v4.62M497.66 436.61l-4-2.31l-4 2.31v4.62M505.66 436.61l-4-2.31l-4 2.31v4.62M513.67 436.61l-4-2.31l-4 2.31v4.62M521.67 436.61l-4-2.31l-4 2.31v4.62M529.67 436.61l-4-2.31l-4 2.31v4.62M537.67 436.61l-4-2.31l-4 2.31v4.62M545.67 436.61l-4-2.31l-4 2.31v4.62M577.67 436.61l-4-2.31l-4 2.31v4.62M585.67 436.61l-4-2.31l-4 2.31v4.62M593.68 436.61l-4-2.31l-4 2.31v4.62M601.68 436.61l-4-2.31l-4 2.31v4.62M609.68 436.61l-4-2.31l-4 2.31v4.62M617.68 436.61l-4-2.31l-4 2.31v4.62M625.68 436.61l-4-2.31l-4 2.31v4.62M633.68 436.61l-4-2.31l-4 2.31v4.62M641.68 436.61l-4-2.31l-4 2.31v4.62M649.68 436.61l-4-2.31l-4 2.31v4.62M657.68 436.61l-4-2.31l-4 2.31v4.62M665.68 436.61l-4-2.31l-4 2.31v4.62M673.69 436.61l-4-2.31l-4 2.31v4.62M681.69 436.61l-4-2.31l-4 2.31v4.62M689.69 436.61l-4-2.31l-4 2.31v4.62M697.69 436.61l-4-2.31l-4 2.31v4.62M705.69 436.61l-4-2.31l-4 2.31v4.62M713.69 436.61l-4-2.31l-4 2.31v4.62M721.69 436.61l-4-2.31l-4 2.31v4.62M729.69 436.61l-4-2.31l-4 2.31v4.62M737.69 436.61l-4-2.31l-4 2.31v4.62M745.69 436.61l-4-2.31l-4 2.31v4.62M753.70 436.61l-4-2.31l-4 2.31v4.62M761.70 436.61l-4-2.31l-4 2.31v4.62M769.70 436.61l-4-2.31l-4 2.31v4.62M777.70 436.61l-4-2.31l-4 2.31v4.62M785.70 436.61l-4-2.31l-4 2.31v4.62M317.64 443.54l-4-2.31l-4 2.31v4.62M325.64 443.54l-4-2.31l-4 2.31v4.62M333.64 443.54l-4-2.31l-4 2.31v4.62M341.64 443.54l-4-2.31l-4 2.31v4.62M349.65 443.54l-4-2.31l-4 2.31v4.62M357.65 443.54l-4-2.31l-4 2.31v4.62M365.65 443.54l-4-2.31l-4 2.31v4.62M373.65 443.54l-4-2.31l-4 2.31v4.62M397.65 443.54l-4-2.31l-4 2.31v4.62M405.65 443.54l-4-2.31l-4 2.31v4.62M413.65 443.54l-4-2.31l-4 2.31v4.62M421.65 443.54l-4-2.31l-4 2.31v4.62M429.66 443.54l-4-2.31l-4 2.31v4.62M437.66 443.54l-4-2.31l-4 2.31v4.62M445.66 443.54l-4-2.31l-4 2.31v4.62M453.66 443.54l-4-2.31l-4 2.31v4.62M461.66 443.54l-4-2.31l-4 2.31v4.62M469.66 443.54l-4-2.31l-4 2.31v4.62M477.66 443.54l-4-2.31l-4 2.31v4.62M485.66 443.54l-4-2.31l-4 2.31v4.62M493.66 443.54l-4-2.31l-4 2.31v4.62M501.66 443.54l-4-2.31l-4 2.31v4.62M509.67 443.54l-4-2.31l-4 2.31v4.62M517.67 443.54l-4-2.31l-4 2.31v4.62M525.67 443.54l-4-2.31l-4 2.31v4.62M533.67 443.54l-4-2.31l-4 2.31v4.62M541.67 443.54l-4-2.31l-4 2.31v4.62M549.67 443.54l-4-2.31l-4 2.31v4.62M589.68 443.54l-4-2.31l-4 2.31v4.62M597.68 443.54l-4-2.31l-4 2.31v4.62M605.68 443.54l-4-2.31l-4 2.31v4.62M629.68 443.54l-4-2.31l-4 2.31v4.62M637.68 443.54l-4-2.31l-4 2.31v4.62M645.68 443.54l-4-2.31l-4 2.31v4.62M653.68 443.54l-4-2.31l-4 2.31v4.62M661.68 443.54l-4-2.31l-4 2.31v4.62M669.69 443.54l-4-2.31l-4 2.31v4.62M677.69 443.54l-4-2.31l-4 2.31v4.62M685.69 443.54l-4-2.31l-4 2.31v4.62M693.69 443.54l-4-2.31l-4 2.31v4.62M701.69 443.54l-4-2.31l-4 2.31v4.62M709.69 443.54l-4-2.31l-4 2.31v4.62M717.69 443.54l-4-2.31l-4 2.31v4.62M725.69 443.54l-4-2.31l-4 2.31v4.62M733.69 443.54l-4-2.31l-4 2.31v4.62M741.69 443.54l-4-2.31l-4 2.31v4.62M749.70 443.54l-4-2.31l-4 2.31v4.62M757.70 443.54l-4-2.31l-4 2.31v4.62M765.70 443.54l-4-2.31l-4 2.31v4.62M773.70 443.54l-4-2.31l-4 2.31v4.62M781.70 443.54l-4-2.31l-4 2.31v4.62M313.64 450.47l-4-2.31l-4 2.31v4.62M321.64 450.47l-4-2.31l-4 2.31v4.62M329.64 450.47l-4-2.31l-4 2.31v4.62M337.64 450.47l-4-2.31l-4 2.31v4.62M345.64 450.47l-4-2.31l-4 2.31v4.62M353.65 450.47l-4-2.31l-4 2.31v4.62M361.65 450.47l-4-2.31l-4 2.31v4.62M369.65 450.47l-4-2.31l-4 2.31v4.62M377.65 450.47l-4-2.31l-4 2.31v4.62M393.65 450.47l-4-2.31l-4 2.31v4.62M401.65 450.47l-4-2.31l-4 2.31v4.62M409.65 450.47l-4-2.31l-4 2.31v4.62M417.65 450.47l-4-2.31l-4 2.31v4.62M425.65 450.47l-4-2.31l-4 2.31v4.62M433.66 450.47l-4-2.31l-4 2.31v4.62M441.66 450.47l-4-2.31l-4 2.31v4.62M449.66 450.47l-4-2.31l-4 2.31v4.62M457.66 450.47l-4-2.31l-4 2.31v4.62M465.66 450.47l-4-2.31l-4 2.31v4.62M473.66 450.47l-4-2.31l-4 2.31v4.62M481.66 450.47l-4-2.31l-4 2.31v4.62M489.66 450.47l-4-2.31l-4 2.31v4.62M497.66 450.47l-4-2.31l-4 2.31v4.62M505.66 450.47l-4-2.31l-4 2.31v4.62M513.67 450.47l-4-2.31l-4 2.31v4.62M521.67 450.47l-4-2.31l-4 2.31v4.62M529.67 450.47l-4-2.31l-4 2.31v4.62M537.67 450.47l-4-2.31l-4 2.31v4.62M593.68 450.47l-4-2.31l-4 2.31v4.62M601.68 450.47l-4-2.31l-4 2.31v4.62M625.68 450.47l-4-2.31l-4 2.31v4.62M633.68 450.47l-4-2.31l-4 2.31v4.62M641.68 450.47l-4-2.31l-4 2.31v4.62M649.68 450.47l-4-2.31l-4 2.31v4.62M657.68 450.47l-4-2.31l-4 2.31v4.62M665.68 450.47l-4-2.31l-4 2.31v4.62M673.69 450.47l-4-2.31l-4 2.31v4.62M681.69 450.47l-4-2.31l-4 2.31v4.62M689.69 450.47l-4-2.31l-4 2.31v4.62M697.69 450.47l-4-2.31l-4 2.31v4.62M705.69 450.47l-4-2.31l-4 2.31v4.62M713.69 450.47l-4-2.31l-4 2.31v4.62M721.69 450.47l-4-2.31l-4 2.31v4.62M729.69 450.47l-4-2.31l-4 2.31v4.62M737.69 450.47l-4-2.31l-4 2.31v4.62M745.69 450.47l-4-2.31l-4 2.31v4.62M753.70 450.47l-4-2.31l-4 2.31v4.62M761.70 450.47l-4-2.31l-4 2.31v4.62M769.70 450.47l-4-2.31l-4 2.31v4.62M309.64 457.40l-4-2.31l-4 2.31v4.62M317.64 457.40l-4-2.31l-4 2.31v4.62M325.64 457.40l-4-2.31l-4 2.31v4.62M333.64 457.40l-4-2.31l-4 2.31v4.62M341.64 457.40l-4-2.31l-4 2.31v4.62M349.65 457.40l-4-2.31l-4 2.31v4.62M357.65 457.40l-4-2.31l-4 2.31v4.62M365.65 457.40l-4-2.31l-4 2.31v4.62M373.65 457.40l-4-2.31l-4 2.31v4.62M397.65 457.40l-4-2.31l-4 2.31v4.62M405.65 457.40l-4-2.31l-4 2.31v4.62M413.65 457.40l-4-2.31l-4 2.31v4.62M421.65 457.40l-4-2.31l-4 2.31v4.62M429.66 457.40l-4-2.31l-4 2.31v4.62M437.66 457.40l-4-2.31l-4 2.31v4.62M445.66 457.40l-4-2.31l-4 2.31v4.62M453.66 457.40l-4-2.31l-4 2.31v4.62M461.66 457.40l-4-2.31l-4 2.31v4.62M469.66 457.40l-4-2.31l-4 2.31v4.62M477.66 457.40l-4-2.31l-4 2.31v4.62M485.66 457.40l-4-2.31l-4 2.31v4.62M493.66 457.40l-4-2.31l-4 2.31v4.62M501.66 457.40l-4-2.31l-4 2.31v4.62M509.67 457.40l-4-2.31l-4 2.31v4.62M517.67 457.40l-4-2.31l-4 2.31v4.62M525.67 457.40l-4-2.31l-4 2.31v4.62M533.67 457.40l-4-2.31l-4 2.31v4.62M621.68 457.40l-4-2.31l-4 2.31v4.62M629.68 457.40l-4-2.31l-4 2.31v4.62M637.68 457.40l-4-2.31l-4 2.31v4.62M645.68 457.40l-4-2.31l-4 2.31v4.62M653.68 457.40l-4-2.31l-4 2.31v4.62M661.68 457.40l-4-2.31l-4 2.31v4.62M669.69 457.40l-4-2.31l-4 2.31v4.62M677.69 457.40l-4-2.31l-4 2.31v4.62M685.69 457.40l-4-2.31l-4 2.31v4.62M693.69 457.40l-4-2.31l-4 2.31v4.62M701.69 457.40l-4-2.31l-4 2.31v4.62M709.69 457.40l-4-2.31l-4 2.31v4.62M717.69 457.40l-4-2.31l-4 2.31v4.62M725.69 457.40l-4-2.31l-4 2.31v4.62M733.69 457.40l-4-2.31l-4 2.31v4.62M741.69 457.40l-4-2.31l-4 2.31v4.62M749.70 457.40l-4-2.31l-4 2.31v4.62M757.70 457.40l-4-2.31l-4 2.31v4.62M765.70 457.40l-4-2.31l-4 2.31v4.62M305.64 464.33l-4-2.31l-4 2.31v4.62M313.64 464.33l-4-2.31l-4 2.31v4.62M321.64 464.33l-4-2.31l-4 2.31v4.62M329.64 464.33l-4-2.31l-4 2.31v4.62M337.64 464.33l-4-2.31l-4 2.31v4.62M345.64 464.33l-4-2.31l-4 2.31v4.62M353.65 464.33l-4-2.31l-4 2.31v4.62M361.65 464.33l-4-2.31l-4 2.31v4.62M369.65 464.33l-4-2.31l-4 2.31v4.62M377.65 464.33l-4-2.31l-4 2.31v4.62M401.65 464.33l-4-2.31l-4 2.31v4.62M409.65 464.33l-4-2.31l-4 2.31v4.62M417.65 464.33l-4-2.31l-4 2.31v4.62M425.65 464.33l-4-2.31l-4 2.31v4.62M433.66 464.33l-4-2.31l-4 2.31v4.62M441.66 464.33l-4-2.31l-4 2.31v4.62M449.66 464.33l-4-2.31l-4 2.31v4.62M457.66 464.33l-4-2.31l-4 2.31v4.62M465.66 464.33l-4-2.31l-4 2.31v4.62M473.66 464.33l-4-2.31l-4 2.31v4.62M481.66 464.33l-4-2.31l-4 2.31v4.62M489.66 464.33l-4-2.31l-4 2.31v4.62M497.66 464.33l-4-2.31l-4 2.31v4.62M505.66 464.33l-4-2.31l-4 2.31v4.62M513.67 464.33l-4-2.31l-4 2.31v4.62M521.67 464.33l-4-2.31l-4 2.31v4.62M529.67 464.33l-4-2.31l-4 2.31v4.62M617.68 464.33l-4-2.31l-4 2.31v4.62M625.68 464.33l-4-2.31l-4 2.31v4.62M633.68 464.33l-4-2.31l-4 2.31v4.62M641.68 464.33l-4-2.31l-4 2.31v4.62M665.68 464.33l-4-2.31l-4 2.31v4.62M689.69 464.33l-4-2.31l-4 2.31v4.62M697.69 464.33l-4-2.31l-4 2.31v4.62M705.69 464.33l-4-2.31l-4 2.31v4.62M713.69 464.33l-4-2.31l-4 2.31v4.62M721.69 464.33l-4-2.31l-4 2.31v4.62M729.69 464.33l-4-2.31l-4 2.31v4.62M737.69 464.33l-4-2.31l-4 2.31v4.62M745.69 464.33l-4-2.31l-4 2.31v4.62M317.64 471.25l-4-2.31l-4 2.31v4.62M325.64 471.25l-4-2.31l-4 2.31v4.62M333.64 471.25l-4-2.31l-4 2.31v4.62M405.65 471.25l-4-2.31l-4 2.31v4.62M413.65 471.25l-4-2.31l-4 2.31v4.62M421.65 471.25l-4-2.31l-4 2.31v4.62M429.66 471.25l-4-2.31l-4 2.31v4.62M437.66 471.25l-4-2.31l-4 2.31v4.62M445.66 471.25l-4-2.31l-4 2.31v4.62M453.66 471.25l-4-2.31l-4 2.31v4.62M461.66 471.25l-4-2.31l-4 2.31v4.62M469.66 471.25l-4-2.31l-4 2.31v4.62M477.66 471.25l-4-2.31l-4 2.31v4.62M485.66 471.25l-4-2.31l-4 2.31v4.62M493.66 471.25l-4-2.31l-4 2.31v4.62M501.66 471.25l-4-2.31l-4 2.31v4.62M621.68 471.25l-4-2.31l-4 2.31v4.62M629.68 471.25l-4-2.31l-4 2.31v4.62M693.69 471.25l-4-2.31l-4 2.31v4.62M701.69 471.25l-4-2.31l-4 2.31v4.62M709.69 471.25l-4-2.31l-4 2.31v4.62M717.69 471.25l-4-2.31l-4 2.31v4.62M725.69 471.25l-4-2.31l-4 2.31v4.62M733.69 471.25l-4-2.31l-4 2.31v4.62M313.64 478.18l-4-2.31l-4 2.31v4.62M321.64 478.18l-4-2.31l-4 2.31v4.62M329.64 478.18l-4-2.31l-4 2.31v4.62M337.64 478.18l-4-2.31l-4 2.31v4.62M345.64 478.18l-4-2.31l-4 2.31v4.62M353.65 478.18l-4-2.31l-4 2.31v4.62M361.65 478.18l-4-2.31l-4 2.31v4.62M369.65 478.18l-4-2.31l-4 2.31v4.62M377.65 478.18l-4-2.31l-4 2.31v4.62M401.65 478.18l-4-2.31l-4 2.31v4.62M409.65 478.18l-4-2.31l-4 2.31v4.62M417.65 478.18l-4-2.31l-4 2.31v4.62M425.65 478.18l-4-2.31l-4 2.31v4.62M433.66 478.18l-4-2.31l-4 2.31v4.62M441.66 478.18l-4-2.31l-4 2.31v4.62M449.66 478.18l-4-2.31l-4 2.31v4.62M457.66 478.18l-4-2.31l-4 2.31v4.62M465.66 478.18l-4-2.31l-4 2.31v4.62M473.66 478.18l-4-2.31l-4 2.31v4.62M481.66 478.18l-4-2.31l-4 2.31v4.62M489.66 478.18l-4-2.31l-4 2.31v4.62M721.69 478.18l-4-2.31l-4 2.31v4.62M317.64 485.11l-4-2.31l-4 2.31v4.62M325.64 485.11l-4-2.31l-4 2.31v4.62M333.64 485.11l-4-2.31l-4 2.31v4.62M341.64 485.11l-4-2.31l-4 2.31v4.62M349.65 485.11l-4-2.31l-4 2.31v4.62M357.65 485.11l-4-2.31l-4 2.31v4.62M365.65 485.11l-4-2.31l-4 2.31v4.62M373.65 485.11l-4-2.31l-4 2.31v4.62M381.65 485.11l-4-2.31l-4 2.31v4.62M405.65 485.11l-4-2.31l-4 2.31v4.62M413.65 485.11l-4-2.31l-4 2.31v4.62M421.65 485.11l-4-2.31l-4 2.31v4.62M429.66 485.11l-4-2.31l-4 2.31v4.62M437.66 485.11l-4-2.31l-4 2.31v4.62M445.66 485.11l-4-2.31l-4 2.31v4.62M453.66 485.11l-4-2.31l-4 2.31v4.62M469.66 485.11l-4-2.31l-4 2.31v4.62M313.64 492.04l-4-2.31l-4 2.31v4.62M321.64 492.04l-4-2.31l-4 2.31v4.62M329.64 492.04l-4-2.31l-4 2.31v4.62M337.64 492.04l-4-2.31l-4 2.31v4.62M345.64 492.04l-4-2.31l-4 2.31v4.62M353.65 492.04l-4-2.31l-4 2.31v4.62M361.65 492.04l-4-2.31l-4 2.31v4.62M369.65 492.04l-4-2.31l-4 2.31v4.62M377.65 492.04l-4-2.31l-4 2.31v4.62M409.65 492.04l-4-2.31l-4 2.31v4.62M417.65 492.04l-4-2.31l-4 2.31v4.62M425.65 492.04l-4-2.31l-4 2.31v4.62M433.66 492.04l-4-2.31l-4 2.31v4.62M441.66 492.04l-4-2.31l-4 2.31v4.62M449.66 492.04l-4-2.31l-4 2.31v4.62M457.66 492.04l-4-2.31l-4 2.31v4.62M309.64 498.97l-4-2.31l-4 2.31v4.62M317.64 498.97l-4-2.31l-4 2.31v4.62M325.64 498.97l-4-2.31l-4 2.31v4.62M333.64 498.97l-4-2.31l-4 2.31v4.62M413.65 498.97l-4-2.31l-4 2.31v4.62M421.65 498.97l-4-2.31l-4 2.31v4.62M429.66 498.97l-4-2.31l-4 2.31v4.62M437.66 498.97l-4-2.31l-4 2.31v4.62M445.66 498.97l-4-2.31l-4 2.31v4.62M453.66 498.97l-4-2.31l-4 2.31v4.62M461.66 498.97l-4-2.31l-4 2.31v4.62M305.64 505.90l-4-2.31l-4 2.31v4.62M313.64 505.90l-4-2.31l-4 2.31v4.62M321.64 505.90l-4-2.31l-4 2.31v4.62M329.64 505.90l-4-2.31l-4 2.31v4.62M337.64 505.90l-4-2.31l-4 2.31v4.62M345.64 505.90l-4-2.31l-4 2.31v4.62M353.65 505.90l-4-2.31l-4 2.31v4.62M361.65 505.90l-4-2.31l-4 2.31v4.62M369.65 505.90l-4-2.31l-4 2.31v4.62M377.65 505.90l-4-2.31l-4 2.31v4.62M385.65 505.90l-4-2.31l-4 2.31v4.62M417.65 505.90l-4-2.31l-4 2.31v4.62M425.65 505.90l-4-2.31l-4 2.31v4.62M433.66 505.90l-4-2.31l-4 2.31v4.62M441.66 505.90l-4-2.31l-4 2.31v4.62M449.66 505.90l-4-2.31l-4 2.31v4.62M457.66 505.90l-4-2.31l-4 2.31v4.62M309.64 512.83l-4-2.31l-4 2.31v4.62M317.64 512.83l-4-2.31l-4 2.31v4.62M325.64 512.83l-4-2.31l-4 2.31v4.62M333.64 512.83l-4-2.31l-4 2.31v4.62M341.64 512.83l-4-2.31l-4 2.31v4.62M349.65 512.83l-4-2.31l-4 2.31v4.62M357.65 512.83l-4-2.31l-4 2.31v4.62M365.65 512.83l-4-2.31l-4 2.31v4.62M373.65 512.83l-4-2.31l-4 2.31v4.62M381.65 512.83l-4-2.31l-4 2.31v4.62M389.65 512.83l-4-2.31l-4 2.31v4.62M421.65 512.83l-4-2.31l-4 2.31v4.62M429.66 512.83l-4-2.31l-4 2.31v4.62M437.66 512.83l-4-2.31l-4 2.31v4.62M445.66 512.83l-4-2.31l-4 2.31v4.62M453.66 512.83l-4-2.31l-4 2.31v4.62M305.64 519.76l-4-2.31l-4 2.31v4.62M313.64 519.76l-4-2.31l-4 2.31v4.62M321.64 519.76l-4-2.31l-4 2.31v4.62M329.64 519.76l-4-2.31l-4 2.31v4.62M337.64 519.76l-4-2.31l-4 2.31v4.62M345.64 519.76l-4-2.31l-4 2.31v4.62M353.65 519.76l-4-2.31l-4 2.31v4.62M361.65 519.76l-4-2.31l-4 2.31v4.62M369.65 519.76l-4-2.31l-4 2.31v4.62M377.65 519.76l-4-2.31l-4 2.31v4.62M385.65 519.76l-4-2.31l-4 2.31v4.62M425.65 519.76l-4-2.31l-4 2.31v4.62M433.66 519.76l-4-2.31l-4 2.31v4.62M441.66 519.76l-4-2.31l-4 2.31v4.62M309.64 526.69l-4-2.31l-4 2.31v4.62M317.64 526.69l-4-2.31l-4 2.31v4.62M325.64 526.69l-4-2.31l-4 2.31v4.62M333.64 526.69l-4-2.31l-4 2.31v4.62M421.65 526.69l-4-2.31l-4 2.31v4.62M429.66 526.69l-4-2.31l-4 2.31v4.62M437.66 526.69l-4-2.31l-4 2.31v4.62M305.64 533.62l-4-2.31l-4 2.31v4.62M313.64 533.62l-4-2.31l-4 2.31v4.62M321.64 533.62l-4-2.31l-4 2.31v4.62M329.64 533.62l-4-2.31l-4 2.31v4.62M337.64 533.62l-4-2.31l-4 2.31v4.62M345.64 533.62l-4-2.31l-4 2.31v4.62M353.65 533.62l-4-2.31l-4 2.31v4.62M361.65 533.62l-4-2.31l-4 2.31v4.62M369.65 533.62l-4-2.31l-4 2.31v4.62M377.65 533.62l-4-2.31l-4 2.31v4.62M385.65 533.62l-4-2.31l-4 2.31v4.62M393.65 533.62l-4-2.31l-4 2.31v4.62M401.65 533.62l-4-2.31l-4 2.31v4.62M425.65 533.62l-4-2.31l-4 2.31v4.62M433.66 533.62l-4-2.31l-4 2.31v4.62M309.64 540.54l-4-2.31l-4 2.31v4.62M317.64 540.54l-4-2.31l-4 2.31v4.62M325.64 540.54l-4-2.31l-4 2.31v4.62M333.64 540.54l-4-2.31l-4 2.31v4.62M341.64 540.54l-4-2.31l-4 2.31v4.62M349.65 540.54l-4-2.31l-4 2.31v4.62M357.65 540.54l-4-2.31l-4 2.31v4.62M365.65 540.54l-4-2.31l-4 2.31v4.62M373.65 540.54l-4-2.31l-4 2.31v4.62M381.65 540.54l-4-2.31l-4 2.31v4.62M389.65 540.54l-4-2.31l-4 2.31v4.62M397.65 540.54l-4-2.31l-4 2.31v4.62M405.65 540.54l-4-2.31l-4 2.31v4.62M337.64 547.47l-4-2.31l-4 2.31v4.62M345.64 547.47l-4-2.31l-4 2.31v4.62M353.65 547.47l-4-2.31l-4 2.31v4.62M361.65 547.47l-4-2.31l-4 2.31v4.62M369.65 547.47l-4-2.31l-4 2.31v4.62M377.65 547.47l-4-2.31l-4 2.31v4.62M385.65 547.47l-4-2.31l-4 2.31v4.62M393.65 547.47l-4-2.31l-4 2.31v4.62M401.65 547.47l-4-2.31l-4 2.31v4.62M365.65 554.40l-4-2.31l-4 2.31v4.62M373.65 554.40l-4-2.31l-4 2.31v4.62M381.65 554.40l-4-2.31l-4 2.31v4.62"/>
</g>
<path d="M312.5 542.5L307.5 540.0L304.8 535.0L304.8 496.9L316.2 496.2L316.2 492.5L310.0 492.5L310.0 480.6L315.6 480.0L315.6 476.9L312.5 476.2L312.2 468.8L304.4 468.1L304.4 465.6L311.9 465.0L312.2 460.6L306.9 460.0L306.2 457.5L310.6 450.0L313.1 442.5L316.2 435.6L321.2 433.1L326.9 430.0L330.0 425.6L330.6 419.4L328.8 415.0L326.5 410.0L325.6 405.0L328.1 400.0L331.2 391.2L333.8 385.0L336.2 377.5L335.6 373.8L331.2 371.2L332.2 363.8L337.5 356.2L343.8 346.2L350.0 336.2L354.4 330.0L354.4 330.0L356.9 323.1L358.8 318.8L356.2 316.2L355.6 310.0L353.8 307.5L358.8 306.2L362.5 306.2L365.6 297.5L366.2 295.0L370.0 291.2L375.0 283.8L378.8 275.0L381.9 271.2L382.5 268.8L386.2 265.0L387.5 265.6L389.4 264.4L392.5 258.1L396.0 251.9L395.6 250.0L400.0 246.2L401.5 244.4L403.8 239.4L406.0 233.1L406.2 228.8L404.8 222.5L407.5 215.6L405.6 210.0L406.2 210.0L409.4 208.1L410.6 204.0L413.8 203.1L417.5 202.5L420.0 197.5L423.1 195.6L421.9 192.5L423.8 186.2L425.6 184.4L425.6 178.8L427.5 175.0L430.6 173.1L433.1 168.8L437.5 168.8L443.1 164.8L446.2 165.6L449.4 162.5L453.8 161.0L460.0 160.4L460.0 160.6L466.2 156.9L472.5 151.2L478.8 145.0L484.4 139.4L485.6 138.1L491.2 133.8L497.5 130.6L503.8 129.4L510.0 128.5L518.8 128.1L525.0 129.4L528.8 133.1L532.5 137.5L537.5 141.2L541.2 145.0L542.2 148.1L540.0 147.5L539.8 150.0L542.5 151.0L548.8 151.0L549.0 138.1L551.2 137.5L560.0 139.4L570.0 141.2L578.8 142.5L585.0 141.2L591.2 140.6L593.1 137.5L597.5 133.1L596.0 127.5L597.2 126.5L598.8 131.2L599.0 133.8L603.8 130.6L610.0 127.5L615.0 125.0L620.0 121.9L620.0 121.9L627.5 115.6L636.2 110.0L645.0 103.8L652.5 98.8L661.2 95.6L670.0 94.8L678.8 94.2L683.4 94.2L688.1 96.2L691.4 98.2L692.8 101.6L695.0 106.2L696.8 103.4L700.4 98.2L707.5 102.5L713.1 106.2L709.8 113.1L714.0 107.1L717.5 105.6L726.2 110.0L735.0 114.4L745.0 118.1L751.2 121.2L756.2 123.8L752.5 126.9L750.6 131.2L754.4 138.8L757.5 145.0L761.2 151.2L765.0 156.2L768.1 159.4L767.5 162.5L762.5 167.5L757.5 171.2L756.2 173.1L761.2 175.6L767.5 177.5L771.9 175.0L775.0 170.0L780.0 166.9L780.0 166.2L783.8 163.8L788.8 162.5L793.8 164.4L800.0 169.4L808.8 175.0L806.9 178.1L809.6 175.6L817.5 180.0L823.8 183.8L829.0 189.0L833.8 185.0L840.0 183.1L847.5 181.9L852.5 182.5L854.4 186.9L856.9 190.0L859.4 189.4L865.0 196.2L871.2 200.0L877.5 205.6L881.9 210.0L881.9 210.0L886.2 215.0L883.8 218.8L890.0 217.5L893.1 219.4L898.8 225.6L895.6 230.0L900.0 228.1L905.0 231.2L907.5 233.8L906.2 238.8L910.0 243.1L916.2 247.5L923.8 250.6L933.1 252.5L950.6 252.5L950.6 248.8L955.0 243.8L960.0 238.1L965.0 234.4L971.2 232.5L981.2 231.9L990.0 233.1L998.8 235.6L1006.2 240.0L1010.0 244.4L1013.8 252.5L1017.5 261.2L1021.2 268.8L1025.0 272.5L1030.0 273.8L1040.0 278.8L1052.5 285.0L1065.0 290.0L1073.8 294.0L1080.0 297.5L1083.8 301.9L1086.5 306.9L1085.6 310.6L1083.1 310.0L1081.0 305.2L1077.5 301.0L1072.5 298.1L1066.9 296.2L1065.0 300.0L1062.5 308.8L1060.0 317.5L1055.0 330.0L1050.0 340.0L1046.2 347.5L1045.6 352.5L1046.2 353.8L1066.2 353.8L1066.9 365.0L1068.1 366.9L1066.2 369.4L1060.0 369.4L1059.4 362.5L1050.0 362.5L1049.4 369.4L1040.0 370.0L1036.2 372.5L1035.0 377.5L1032.5 380.6L1027.5 381.2L1020.0 379.4L1010.0 377.5L1002.5 376.2L996.2 372.5L990.0 372.5L980.0 376.2L978.8 375.0L981.2 370.6L980.0 368.8L971.2 369.4L965.0 370.0L952.5 371.2L940.0 373.1L940.0 373.1L930.0 378.1L922.5 380.0L915.0 381.2L905.0 384.4L897.5 386.9L890.0 389.4L880.0 391.9L872.5 393.8L866.2 395.6L860.0 397.5L851.2 400.6L842.5 403.1L835.0 405.0L827.5 407.5L821.2 410.0L816.2 412.5L811.2 415.6L805.0 419.4L800.0 423.1L795.0 426.9L790.6 430.6L789.4 432.5L785.0 430.6L781.2 432.5L780.0 437.5L780.0 441.2L773.8 446.2L767.5 450.6L761.2 455.0L761.9 458.8L760.0 460.0L758.1 455.6L752.5 458.1L748.8 456.2L745.0 455.0L743.1 458.8L743.8 465.6L741.9 466.2L738.1 458.8L735.0 457.5L732.5 458.1L735.0 463.8L733.1 465.0L728.8 458.8L720.0 456.2L710.0 456.2L701.2 461.9L695.0 465.6L693.8 471.9L692.2 471.2L692.5 466.9L690.6 463.8L678.8 462.5L676.2 460.0L673.1 457.8L670.0 461.0L663.1 459.8L660.6 464.4L652.5 458.1L648.8 456.2L641.2 453.4L639.4 456.2L625.8 477.8L612.7 469.4L626.7 446.4L610.3 436.1L599.5 454.4L562.5 431.9L567.7 423.0L574.7 422.3L596.2 435.2L601.4 427.2L581.2 414.1L585.0 408.9L584.1 407.0L579.4 402.8L577.5 400.0L572.5 402.5L566.2 403.8L560.0 403.5L555.0 401.9L551.9 400.0L552.5 396.2L550.6 395.0L548.1 399.4L541.2 398.1L530.0 396.2L523.1 396.7L501.6 384.5L495.9 383.9L495.8 385.2L499.7 386.1L513.8 397.7L514.2 398.3L495.0 398.3L494.7 411.2L502.5 412.7L504.4 411.2L509.1 412.2L513.8 414.1L517.5 416.4L519.4 419.7L520.8 423.9L523.1 427.2L526.9 430.9L531.6 434.7L536.2 435.6L537.5 435.6L545.6 444.4L543.8 446.9L536.2 450.0L531.2 451.9L533.8 457.5L525.0 463.8L514.4 468.8L510.0 466.9L500.0 461.2L492.5 456.2L490.6 452.8L490.0 455.6L486.2 455.0L483.8 456.9L499.4 468.1L497.5 471.2L487.5 476.9L475.0 481.2L462.5 485.6L460.0 478.8L457.5 470.0L455.0 463.1L446.9 455.0L439.4 462.5L448.8 471.9L451.2 478.8L453.8 490.0L456.9 501.2L456.9 505.0L451.2 509.4L448.8 510.0L443.8 516.9L443.1 518.8L433.8 527.5L425.6 535.0L423.1 534.4L420.0 530.0L418.8 523.8L420.6 526.2L423.1 531.2L430.0 523.8L428.1 518.8L423.8 515.0L417.5 513.1L415.0 508.8L410.0 500.0L406.2 492.5L402.5 482.5L400.0 478.8L396.2 466.2L390.6 452.5L390.0 445.0L400.0 438.1L403.1 441.9L415.0 435.0L420.0 430.0L429.4 425.3L437.8 419.7L444.4 415.9L450.9 414.1L460.3 413.6L466.9 412.7L468.8 413.6L463.1 419.7L457.5 425.3L458.4 427.7L446.7 439.8L452.3 444.1L459.4 437.5L461.2 439.4L464.1 438.9L465.9 435.6L464.8 431.9L465.9 429.1L470.6 424.4L476.2 417.8L480.0 413.1L483.8 410.8L488.9 409.8L492.7 411.2L492.5 384.1L489.8 384.1L489.2 385.9L487.5 387.8L487.0 393.9L477.2 394.2L476.2 390.2L472.5 390.2L472.0 398.1L465.9 398.1L464.1 396.7L461.2 397.2L443.4 399.5L442.5 398.1L441.4 382.2L439.7 382.2L440.2 399.1L440.4 399.8L436.2 403.1L432.5 401.2L425.0 392.5L423.1 386.9L418.8 386.9L419.4 393.8L427.5 405.0L425.0 408.1L413.8 417.5L410.6 415.0L400.0 407.5L396.9 405.0L394.4 404.8L393.8 401.9L388.8 398.1L386.2 398.1L383.8 394.4L395.6 380.0L394.8 378.1L392.5 380.0L376.2 395.0L378.1 405.0L380.6 413.8L383.1 420.0L385.0 425.0L382.5 431.2L378.8 434.4L371.2 435.6L367.5 437.5L366.9 442.5L366.2 450.0L366.5 450.0L372.5 450.6L372.5 467.5L326.5 467.5L326.5 478.1L373.8 478.1L374.4 490.0L362.5 495.6L326.5 495.6L326.5 506.2L384.0 506.5L384.0 524.0L326.5 524.0L326.5 535.6L396.9 535.6L399.8 545.6L370.0 555.0L380.0 551.9L370.6 557.2L352.5 551.2L327.5 545.0ZM695.6 468.1L705.0 461.9L715.6 461.2L727.5 471.9L716.2 478.1L707.5 475.0L700.0 473.8Z" fill="none" stroke="#505050" stroke-width="1.05" stroke-linejoin="round"/>
<path d="M464.1 396.7L462.7 388.8L464.5 385.0L466.4 384.1L469.2 386.9L472.5 392.0" fill="none" stroke="#505050" stroke-width="1"/>
<path d="M520.0 448.1L531.2 451.9" fill="none" stroke="#505050" stroke-width="1"/>
<path d="M685.4 105.6L691.6 100.2" fill="none" stroke="#505050" stroke-width="1"/>
<g stroke="#000" stroke-opacity="0.08" stroke-width="1" fill="none">
<path d="M342.5 85V570"/>
<path d="M422.6 85V570"/>
<path d="M502.7 85V570"/>
<path d="M582.8 85V570"/>
<path d="M662.9 85V570"/>
<path d="M743.0 85V570"/>
<path d="M823.2 85V570"/>
<path d="M903.3 85V570"/>
<path d="M983.4 85V570"/>
<path d="M1063.5 85V570"/>
<path d="M285 499.9H1102"/>
<path d="M285 419.7H1102"/>
<path d="M285 339.6H1102"/>
<path d="M285 259.5H1102"/>
<path d="M285 179.4H1102"/>
<path d="M285 99.3H1102"/>
</g>
<g fill="#8a8a8a" stroke="#5b5f61" stroke-width="1.75">
<circle cx="435.6" cy="314.4" r="4.45"/>
<circle cx="447.5" cy="311.9" r="4.45"/>
<circle cx="457.5" cy="322.5" r="4.45"/>
<circle cx="569.4" cy="156.2" r="4.45"/>
<circle cx="578.5" cy="165.6" r="4.45"/>
<circle cx="604.4" cy="164.4" r="4.45"/>
<circle cx="615.0" cy="160.6" r="4.45"/>
<circle cx="617.8" cy="168.8" r="4.45"/>
<circle cx="595.2" cy="201.0" r="4.45"/>
<circle cx="576.2" cy="205.6" r="4.45"/>
<circle cx="581.0" cy="204.8" r="4.45"/>
<circle cx="583.1" cy="208.8" r="4.45"/>
<circle cx="627.2" cy="120.6" r="4.45"/>
<circle cx="635.2" cy="129.4" r="4.45"/>
<circle cx="643.1" cy="125.0" r="4.45"/>
<circle cx="647.2" cy="129.4" r="4.45"/>
<circle cx="653.5" cy="134.4" r="4.45"/>
<circle cx="659.4" cy="123.1" r="4.45"/>
<circle cx="648.1" cy="139.4" r="4.45"/>
<circle cx="661.2" cy="137.2" r="4.45"/>
<circle cx="634.8" cy="144.4" r="4.45"/>
<circle cx="653.1" cy="148.1" r="4.45"/>
<circle cx="662.5" cy="148.1" r="4.45"/>
<circle cx="642.5" cy="153.5" r="4.45"/>
<circle cx="627.5" cy="157.5" r="4.45"/>
<circle cx="625.0" cy="155.0" r="4.45"/>
<circle cx="634.8" cy="165.0" r="4.45"/>
<circle cx="640.0" cy="165.6" r="4.45"/>
<circle cx="649.0" cy="165.0" r="4.45"/>
<circle cx="620.0" cy="168.1" r="4.45"/>
<circle cx="668.5" cy="111.2" r="4.45"/>
<circle cx="683.5" cy="111.5" r="4.45"/>
<circle cx="687.5" cy="114.4" r="4.45"/>
<circle cx="677.2" cy="121.9" r="4.45"/>
<circle cx="686.2" cy="123.5" r="4.45"/>
<circle cx="682.2" cy="126.5" r="4.45"/>
<circle cx="676.0" cy="131.9" r="4.45"/>
<circle cx="684.4" cy="133.1" r="4.45"/>
<circle cx="691.5" cy="131.0" r="4.45"/>
<circle cx="686.9" cy="136.2" r="4.45"/>
<circle cx="695.0" cy="146.0" r="4.45"/>
<circle cx="709.4" cy="125.4" r="4.45"/>
<circle cx="709.0" cy="133.8" r="4.45"/>
<circle cx="719.4" cy="140.0" r="4.45"/>
<circle cx="721.2" cy="141.5" r="4.45"/>
<circle cx="718.1" cy="156.0" r="4.45"/>
<circle cx="716.2" cy="155.0" r="4.45"/>
<circle cx="725.6" cy="161.5" r="4.45"/>
<circle cx="702.5" cy="165.6" r="4.45"/>
<circle cx="715.0" cy="166.9" r="4.45"/>
<circle cx="717.5" cy="171.0" r="4.45"/>
<circle cx="727.2" cy="167.2" r="4.45"/>
<circle cx="710.6" cy="175.2" r="4.45"/>
<circle cx="710.0" cy="181.2" r="4.45"/>
<circle cx="735.0" cy="176.0" r="4.45"/>
<circle cx="728.8" cy="183.8" r="4.45"/>
<circle cx="725.0" cy="187.5" r="4.45"/>
<circle cx="710.6" cy="189.4" r="4.45"/>
<circle cx="715.0" cy="191.9" r="4.45"/>
<circle cx="722.5" cy="193.1" r="4.45"/>
<circle cx="730.0" cy="200.2" r="4.45"/>
<circle cx="823.1" cy="186.9" r="4.45"/>
<circle cx="822.2" cy="190.0" r="4.45"/>
<circle cx="830.2" cy="200.6" r="4.45"/>
<circle cx="823.8" cy="209.4" r="4.45"/>
<circle cx="851.2" cy="208.8" r="4.45"/>
<circle cx="845.0" cy="209.8" r="4.45"/>
<circle cx="557.2" cy="225.0" r="4.45"/>
<circle cx="549.8" cy="233.8" r="4.45"/>
<circle cx="553.5" cy="246.5" r="4.45"/>
<circle cx="546.9" cy="254.4" r="4.45"/>
<circle cx="541.2" cy="258.8" r="4.45"/>
<circle cx="552.5" cy="260.0" r="4.45"/>
<circle cx="555.6" cy="266.2" r="4.45"/>
<circle cx="561.9" cy="260.0" r="4.45"/>
<circle cx="566.0" cy="253.8" r="4.45"/>
<circle cx="570.0" cy="258.1" r="4.45"/>
<circle cx="580.2" cy="246.2" r="4.45"/>
<circle cx="579.8" cy="253.8" r="4.45"/>
<circle cx="584.8" cy="258.1" r="4.45"/>
<circle cx="588.1" cy="253.8" r="4.45"/>
<circle cx="590.6" cy="246.2" r="4.45"/>
<circle cx="597.2" cy="240.6" r="4.45"/>
<circle cx="599.8" cy="249.0" r="4.45"/>
<circle cx="603.5" cy="257.5" r="4.45"/>
<circle cx="605.0" cy="266.9" r="4.45"/>
<circle cx="506.0" cy="259.4" r="4.45"/>
<circle cx="510.2" cy="269.8" r="4.45"/>
<circle cx="556.9" cy="279.0" r="4.45"/>
<circle cx="565.6" cy="283.8" r="4.45"/>
<circle cx="562.8" cy="292.8" r="4.45"/>
<circle cx="587.2" cy="285.6" r="4.45"/>
<circle cx="593.5" cy="290.6" r="4.45"/>
<circle cx="543.1" cy="298.5" r="4.45"/>
<circle cx="551.2" cy="303.1" r="4.45"/>
<circle cx="560.6" cy="308.1" r="4.45"/>
<circle cx="549.4" cy="311.2" r="4.45"/>
<circle cx="551.9" cy="313.8" r="4.45"/>
<circle cx="561.2" cy="311.2" r="4.45"/>
<circle cx="575.0" cy="313.1" r="4.45"/>
<circle cx="543.1" cy="321.2" r="4.45"/>
<circle cx="501.2" cy="304.4" r="4.45"/>
<circle cx="505.0" cy="308.8" r="4.45"/>
<circle cx="508.1" cy="305.6" r="4.45"/>
<circle cx="517.2" cy="308.8" r="4.45"/>
<circle cx="516.2" cy="311.9" r="4.45"/>
<circle cx="495.2" cy="314.8" r="4.45"/>
<circle cx="528.5" cy="316.2" r="4.45"/>
<circle cx="470.0" cy="311.0" r="4.45"/>
<circle cx="479.0" cy="310.6" r="4.45"/>
<circle cx="467.8" cy="323.5" r="4.45"/>
<circle cx="484.4" cy="326.2" r="4.45"/>
<circle cx="460.0" cy="321.2" r="4.45"/>
<circle cx="608.8" cy="321.9" r="4.45"/>
<circle cx="605.0" cy="324.4" r="4.45"/>
<circle cx="613.1" cy="327.5" r="4.45"/>
<circle cx="567.5" cy="328.1" r="4.45"/>
<circle cx="540.0" cy="329.4" r="4.45"/>
<circle cx="780.0" cy="225.6" r="4.45"/>
<circle cx="778.8" cy="233.8" r="4.45"/>
<circle cx="774.4" cy="242.5" r="4.45"/>
<circle cx="751.9" cy="258.8" r="4.45"/>
<circle cx="747.5" cy="268.1" r="4.45"/>
<circle cx="751.9" cy="271.5" r="4.45"/>
<circle cx="704.4" cy="267.8" r="4.45"/>
<circle cx="721.5" cy="265.6" r="4.45"/>
<circle cx="728.1" cy="272.5" r="4.45"/>
<circle cx="735.2" cy="270.6" r="4.45"/>
<circle cx="737.5" cy="275.0" r="4.45"/>
<circle cx="717.2" cy="277.5" r="4.45"/>
<circle cx="725.6" cy="279.4" r="4.45"/>
<circle cx="714.4" cy="285.0" r="4.45"/>
<circle cx="736.0" cy="282.5" r="4.45"/>
<circle cx="745.6" cy="281.2" r="4.45"/>
<circle cx="767.5" cy="281.9" r="4.45"/>
<circle cx="778.1" cy="266.2" r="4.45"/>
<circle cx="780.0" cy="273.8" r="4.45"/>
<circle cx="776.9" cy="262.5" r="4.45"/>
<circle cx="729.4" cy="295.6" r="4.45"/>
<circle cx="737.5" cy="294.4" r="4.45"/>
<circle cx="706.9" cy="300.0" r="4.45"/>
<circle cx="716.0" cy="305.2" r="4.45"/>
<circle cx="737.5" cy="308.1" r="4.45"/>
<circle cx="741.2" cy="310.6" r="4.45"/>
<circle cx="777.5" cy="302.5" r="4.45"/>
<circle cx="780.0" cy="307.5" r="4.45"/>
<circle cx="748.1" cy="324.4" r="4.45"/>
<circle cx="738.1" cy="327.5" r="4.45"/>
<circle cx="750.6" cy="327.5" r="4.45"/>
<circle cx="639.0" cy="327.5" r="4.45"/>
<circle cx="627.5" cy="329.4" r="4.45"/>
<circle cx="622.5" cy="329.4" r="4.45"/>
<circle cx="820.6" cy="215.0" r="4.45"/>
<circle cx="831.9" cy="216.2" r="4.45"/>
<circle cx="840.6" cy="213.8" r="4.45"/>
<circle cx="852.5" cy="211.2" r="4.45"/>
<circle cx="848.5" cy="218.8" r="4.45"/>
<circle cx="858.1" cy="220.6" r="4.45"/>
<circle cx="865.0" cy="220.0" r="4.45"/>
<circle cx="860.0" cy="213.8" r="4.45"/>
<circle cx="845.0" cy="226.2" r="4.45"/>
<circle cx="852.8" cy="230.0" r="4.45"/>
<circle cx="797.2" cy="224.0" r="4.45"/>
<circle cx="811.2" cy="220.6" r="4.45"/>
<circle cx="810.2" cy="225.6" r="4.45"/>
<circle cx="822.5" cy="228.8" r="4.45"/>
<circle cx="820.0" cy="233.8" r="4.45"/>
<circle cx="816.2" cy="238.8" r="4.45"/>
<circle cx="837.5" cy="233.8" r="4.45"/>
<circle cx="816.2" cy="245.0" r="4.45"/>
<circle cx="787.2" cy="235.0" r="4.45"/>
<circle cx="794.0" cy="235.0" r="4.45"/>
<circle cx="817.5" cy="251.2" r="4.45"/>
<circle cx="824.4" cy="252.2" r="4.45"/>
<circle cx="832.5" cy="246.9" r="4.45"/>
<circle cx="836.5" cy="259.8" r="4.45"/>
<circle cx="792.8" cy="253.8" r="4.45"/>
<circle cx="807.8" cy="256.9" r="4.45"/>
<circle cx="780.0" cy="262.5" r="4.45"/>
<circle cx="781.2" cy="266.2" r="4.45"/>
<circle cx="793.1" cy="263.1" r="4.45"/>
<circle cx="794.0" cy="270.6" r="4.45"/>
<circle cx="804.4" cy="266.9" r="4.45"/>
<circle cx="818.5" cy="269.4" r="4.45"/>
<circle cx="821.2" cy="280.0" r="4.45"/>
<circle cx="818.8" cy="286.2" r="4.45"/>
<circle cx="802.5" cy="291.2" r="4.45"/>
<circle cx="800.6" cy="295.0" r="4.45"/>
<circle cx="808.1" cy="299.4" r="4.45"/>
<circle cx="813.1" cy="302.2" r="4.45"/>
<circle cx="792.5" cy="305.0" r="4.45"/>
<circle cx="780.0" cy="302.5" r="4.45"/>
<circle cx="798.8" cy="316.2" r="4.45"/>
<circle cx="805.0" cy="327.5" r="4.45"/>
<circle cx="894.4" cy="256.0" r="4.45"/>
<circle cx="904.8" cy="258.1" r="4.45"/>
<circle cx="896.2" cy="265.0" r="4.45"/>
<circle cx="886.5" cy="269.8" r="4.45"/>
<circle cx="925.2" cy="260.2" r="4.45"/>
<circle cx="918.8" cy="268.8" r="4.45"/>
<circle cx="914.8" cy="273.8" r="4.45"/>
<circle cx="933.1" cy="275.0" r="4.45"/>
<circle cx="924.4" cy="290.0" r="4.45"/>
<circle cx="933.1" cy="291.2" r="4.45"/>
<circle cx="886.2" cy="299.4" r="4.45"/>
<circle cx="891.2" cy="299.4" r="4.45"/>
<circle cx="900.6" cy="302.2" r="4.45"/>
<circle cx="881.9" cy="306.5" r="4.45"/>
<circle cx="891.2" cy="310.0" r="4.45"/>
<circle cx="911.2" cy="298.1" r="4.45"/>
<circle cx="907.5" cy="303.8" r="4.45"/>
<circle cx="924.4" cy="300.0" r="4.45"/>
<circle cx="925.0" cy="304.4" r="4.45"/>
<circle cx="915.6" cy="310.6" r="4.45"/>
<circle cx="921.9" cy="313.1" r="4.45"/>
<circle cx="910.2" cy="316.9" r="4.45"/>
<circle cx="924.4" cy="321.2" r="4.45"/>
<circle cx="836.2" cy="329.4" r="4.45"/>
<circle cx="847.5" cy="328.8" r="4.45"/>
<circle cx="870.6" cy="328.1" r="4.45"/>
<circle cx="980.6" cy="301.2" r="4.45"/>
<circle cx="988.8" cy="299.4" r="4.45"/>
<circle cx="432.2" cy="346.2" r="4.45"/>
<circle cx="434.0" cy="353.8" r="4.45"/>
<circle cx="340.6" cy="372.5" r="4.45"/>
<circle cx="345.6" cy="374.4" r="4.45"/>
<circle cx="349.4" cy="378.1" r="4.45"/>
<circle cx="353.1" cy="377.5" r="4.45"/>
<circle cx="343.8" cy="395.6" r="4.45"/>
<circle cx="343.1" cy="398.8" r="4.45"/>
<circle cx="342.2" cy="406.2" r="4.45"/>
<circle cx="354.4" cy="446.2" r="4.45"/>
<circle cx="358.8" cy="448.1" r="4.45"/>
<circle cx="465.0" cy="338.1" r="4.45"/>
<circle cx="471.9" cy="340.0" r="4.45"/>
<circle cx="482.2" cy="353.1" r="4.45"/>
<circle cx="509.4" cy="335.0" r="4.45"/>
<circle cx="513.1" cy="340.6" r="4.45"/>
<circle cx="518.1" cy="351.9" r="4.45"/>
<circle cx="521.0" cy="360.6" r="4.45"/>
<circle cx="526.2" cy="359.4" r="4.45"/>
<circle cx="531.5" cy="363.5" r="4.45"/>
<circle cx="531.9" cy="368.1" r="4.45"/>
<circle cx="541.2" cy="357.5" r="4.45"/>
<circle cx="549.4" cy="360.6" r="4.45"/>
<circle cx="512.8" cy="381.9" r="4.45"/>
<circle cx="540.0" cy="332.5" r="4.45"/>
<circle cx="543.1" cy="336.9" r="4.45"/>
<circle cx="549.8" cy="338.1" r="4.45"/>
<circle cx="556.2" cy="335.0" r="4.45"/>
<circle cx="565.6" cy="333.1" r="4.45"/>
<circle cx="571.2" cy="331.2" r="4.45"/>
<circle cx="592.5" cy="356.2" r="4.45"/>
<circle cx="598.1" cy="358.1" r="4.45"/>
<circle cx="595.6" cy="366.2" r="4.45"/>
<circle cx="587.5" cy="371.2" r="4.45"/>
<circle cx="589.4" cy="375.0" r="4.45"/>
<circle cx="600.0" cy="371.9" r="4.45"/>
<circle cx="578.5" cy="376.0" r="4.45"/>
<circle cx="594.8" cy="380.0" r="4.45"/>
<circle cx="588.8" cy="390.0" r="4.45"/>
<circle cx="585.0" cy="392.5" r="4.45"/>
<circle cx="596.9" cy="394.0" r="4.45"/>
<circle cx="613.1" cy="361.2" r="4.45"/>
<circle cx="613.8" cy="368.1" r="4.45"/>
<circle cx="618.1" cy="388.5" r="4.45"/>
<circle cx="620.0" cy="410.0" r="4.45"/>
<circle cx="482.5" cy="330.0" r="4.45"/>
<circle cx="612.5" cy="330.0" r="4.45"/>
<circle cx="627.5" cy="332.5" r="4.45"/>
<circle cx="638.8" cy="330.0" r="4.45"/>
<circle cx="643.8" cy="342.5" r="4.45"/>
<circle cx="663.8" cy="341.0" r="4.45"/>
<circle cx="669.0" cy="355.0" r="4.45"/>
<circle cx="676.5" cy="357.2" r="4.45"/>
<circle cx="700.0" cy="362.5" r="4.45"/>
<circle cx="626.0" cy="366.2" r="4.45"/>
<circle cx="630.6" cy="379.4" r="4.45"/>
<circle cx="625.0" cy="382.5" r="4.45"/>
<circle cx="631.9" cy="385.6" r="4.45"/>
<circle cx="638.8" cy="380.6" r="4.45"/>
<circle cx="644.4" cy="378.1" r="4.45"/>
<circle cx="646.2" cy="375.6" r="4.45"/>
<circle cx="647.8" cy="393.5" r="4.45"/>
<circle cx="628.8" cy="398.1" r="4.45"/>
<circle cx="623.1" cy="410.0" r="4.45"/>
<circle cx="669.4" cy="384.4" r="4.45"/>
<circle cx="668.1" cy="390.0" r="4.45"/>
<circle cx="692.5" cy="387.5" r="4.45"/>
<circle cx="703.5" cy="384.0" r="4.45"/>
<circle cx="708.1" cy="386.9" r="4.45"/>
<circle cx="713.1" cy="392.5" r="4.45"/>
<circle cx="722.2" cy="393.8" r="4.45"/>
<circle cx="719.8" cy="402.2" r="4.45"/>
<circle cx="731.6" cy="396.0" r="4.45"/>
<circle cx="741.9" cy="400.2" r="4.45"/>
<circle cx="750.6" cy="396.9" r="4.45"/>
<circle cx="754.4" cy="405.6" r="4.45"/>
<circle cx="746.0" cy="408.1" r="4.45"/>
<circle cx="668.8" cy="405.6" r="4.45"/>
<circle cx="671.2" cy="410.0" r="4.45"/>
<circle cx="657.2" cy="413.1" r="4.45"/>
<circle cx="660.6" cy="417.5" r="4.45"/>
<circle cx="666.2" cy="421.2" r="4.45"/>
<circle cx="675.6" cy="420.6" r="4.45"/>
<circle cx="684.4" cy="420.0" r="4.45"/>
<circle cx="682.5" cy="426.9" r="4.45"/>
<circle cx="656.9" cy="428.1" r="4.45"/>
<circle cx="669.4" cy="430.6" r="4.45"/>
<circle cx="686.0" cy="436.2" r="4.45"/>
<circle cx="646.2" cy="439.8" r="4.45"/>
<circle cx="653.5" cy="443.8" r="4.45"/>
<circle cx="667.2" cy="444.4" r="4.45"/>
<circle cx="696.5" cy="443.1" r="4.45"/>
<circle cx="706.9" cy="436.9" r="4.45"/>
<circle cx="699.4" cy="409.4" r="4.45"/>
<circle cx="708.1" cy="408.1" r="4.45"/>
<circle cx="699.4" cy="417.5" r="4.45"/>
<circle cx="703.8" cy="423.8" r="4.45"/>
<circle cx="696.5" cy="428.1" r="4.45"/>
<circle cx="714.4" cy="426.2" r="4.45"/>
<circle cx="727.2" cy="411.2" r="4.45"/>
<circle cx="731.2" cy="412.5" r="4.45"/>
<circle cx="725.0" cy="420.0" r="4.45"/>
<circle cx="730.6" cy="423.8" r="4.45"/>
<circle cx="728.1" cy="430.0" r="4.45"/>
<circle cx="731.2" cy="438.8" r="4.45"/>
<circle cx="728.8" cy="442.5" r="4.45"/>
<circle cx="741.9" cy="435.6" r="4.45"/>
<circle cx="746.2" cy="431.2" r="4.45"/>
<circle cx="755.6" cy="426.2" r="4.45"/>
<circle cx="718.8" cy="368.8" r="4.45"/>
<circle cx="728.8" cy="360.6" r="4.45"/>
<circle cx="728.8" cy="366.2" r="4.45"/>
<circle cx="739.4" cy="369.8" r="4.45"/>
<circle cx="729.4" cy="349.4" r="4.45"/>
<circle cx="734.4" cy="349.4" r="4.45"/>
<circle cx="742.5" cy="352.5" r="4.45"/>
<circle cx="735.0" cy="338.8" r="4.45"/>
<circle cx="742.2" cy="337.8" r="4.45"/>
<circle cx="740.6" cy="342.5" r="4.45"/>
<circle cx="753.8" cy="340.2" r="4.45"/>
<circle cx="757.5" cy="346.9" r="4.45"/>
<circle cx="754.4" cy="353.1" r="4.45"/>
<circle cx="750.0" cy="355.0" r="4.45"/>
<circle cx="757.5" cy="358.8" r="4.45"/>
<circle cx="765.6" cy="363.1" r="4.45"/>
<circle cx="764.4" cy="335.0" r="4.45"/>
<circle cx="771.9" cy="340.0" r="4.45"/>
<circle cx="738.1" cy="330.0" r="4.45"/>
<circle cx="750.6" cy="330.0" r="4.45"/>
<circle cx="776.9" cy="359.4" r="4.45"/>
<circle cx="776.2" cy="371.2" r="4.45"/>
<circle cx="780.0" cy="373.1" r="4.45"/>
<circle cx="751.9" cy="376.9" r="4.45"/>
<circle cx="753.1" cy="383.1" r="4.45"/>
<circle cx="761.9" cy="381.9" r="4.45"/>
<circle cx="766.2" cy="379.4" r="4.45"/>
<circle cx="767.5" cy="392.1" r="4.45"/>
<circle cx="791.9" cy="338.8" r="4.45"/>
<circle cx="805.0" cy="331.2" r="4.45"/>
<circle cx="809.4" cy="333.1" r="4.45"/>
<circle cx="803.1" cy="346.2" r="4.45"/>
<circle cx="808.8" cy="345.6" r="4.45"/>
<circle cx="833.1" cy="344.4" r="4.45"/>
<circle cx="836.2" cy="332.5" r="4.45"/>
<circle cx="846.9" cy="331.2" r="4.45"/>
<circle cx="855.0" cy="340.0" r="4.45"/>
<circle cx="870.6" cy="331.9" r="4.45"/>
<circle cx="874.4" cy="340.6" r="4.45"/>
<circle cx="885.0" cy="338.8" r="4.45"/>
<circle cx="895.0" cy="341.5" r="4.45"/>
<circle cx="898.8" cy="339.4" r="4.45"/>
<circle cx="911.9" cy="341.2" r="4.45"/>
<circle cx="915.6" cy="341.2" r="4.45"/>
<circle cx="940.0" cy="335.6" r="4.45"/>
<circle cx="805.6" cy="359.4" r="4.45"/>
<circle cx="807.2" cy="361.9" r="4.45"/>
<circle cx="848.8" cy="354.8" r="4.45"/>
<circle cx="835.6" cy="360.0" r="4.45"/>
<circle cx="836.9" cy="366.9" r="4.45"/>
<circle cx="869.4" cy="355.6" r="4.45"/>
<circle cx="872.5" cy="355.6" r="4.45"/>
<circle cx="873.1" cy="352.5" r="4.45"/>
<circle cx="885.0" cy="353.1" r="4.45"/>
<circle cx="886.2" cy="350.6" r="4.45"/>
<circle cx="891.5" cy="360.6" r="4.45"/>
<circle cx="903.5" cy="354.4" r="4.45"/>
<circle cx="907.5" cy="363.1" r="4.45"/>
<circle cx="928.5" cy="359.0" r="4.45"/>
<circle cx="789.4" cy="374.4" r="4.45"/>
<circle cx="792.5" cy="373.8" r="4.45"/>
<circle cx="797.5" cy="373.1" r="4.45"/>
<circle cx="803.8" cy="373.8" r="4.45"/>
<circle cx="809.4" cy="372.5" r="4.45"/>
<circle cx="817.5" cy="364.4" r="4.45"/>
<circle cx="820.0" cy="368.1" r="4.45"/>
<circle cx="826.2" cy="367.5" r="4.45"/>
<circle cx="829.4" cy="374.4" r="4.45"/>
<circle cx="833.8" cy="380.0" r="4.45"/>
<circle cx="802.5" cy="383.1" r="4.45"/>
<circle cx="823.1" cy="386.2" r="4.45"/>
<circle cx="823.1" cy="389.8" r="4.45"/>
<circle cx="844.4" cy="382.5" r="4.45"/>
<circle cx="849.8" cy="375.6" r="4.45"/>
<circle cx="838.1" cy="388.1" r="4.45"/>
<circle cx="835.0" cy="391.2" r="4.45"/>
<circle cx="838.8" cy="395.0" r="4.45"/>
<circle cx="843.1" cy="395.0" r="4.45"/>
<circle cx="856.9" cy="387.2" r="4.45"/>
<circle cx="781.9" cy="390.0" r="4.45"/>
<circle cx="787.5" cy="393.1" r="4.45"/>
<circle cx="875.6" cy="369.0" r="4.45"/>
<circle cx="871.9" cy="375.0" r="4.45"/>
<circle cx="875.0" cy="375.6" r="4.45"/>
<circle cx="871.9" cy="384.8" r="4.45"/>
<circle cx="895.6" cy="376.2" r="4.45"/>
<circle cx="944.4" cy="335.0" r="4.45"/>
<circle cx="1014.4" cy="349.8" r="4.45"/>
<circle cx="982.8" cy="364.4" r="4.45"/>
<circle cx="684.4" cy="464.4" r="4.45"/>
<circle cx="690.0" cy="460.6" r="4.45"/>
<circle cx="943.0" cy="272.5" r="4.45"/>
</g>
<clipPath id="tc"><rect x="0" y="0" width="1344" height="85"/></clipPath>
<text x="343.5" y="81.5" font-size="32" fill="#000" clip-path="url(#tc)">Accessibility to supermarkets: Hansen method</text>
<g font-size="19.25" fill="#333">
<text transform="translate(281,506.8) scale(1,1.09)" text-anchor="end">25,000</text>
<text transform="translate(281,426.6) scale(1,1.09)" text-anchor="end">30,000</text>
<text transform="translate(281,346.5) scale(1,1.09)" text-anchor="end">35,000</text>
<text transform="translate(281,266.4) scale(1,1.09)" text-anchor="end">40,000</text>
<text transform="translate(281,186.3) scale(1,1.09)" text-anchor="end">45,000</text>
<text transform="translate(281,106.2) scale(1,1.09)" text-anchor="end">50,000</text>
<text class="f1" transform="translate(342.5,587.8) scale(1,1.09)" text-anchor="middle">5,000</text>
<text class="f1" clip-path="url(#k1)" transform="translate(422.6,587.8) scale(1,1.09)" text-anchor="middle">10,000</text>
<text class="f1" clip-path="url(#k2)" transform="translate(502.7,587.8) scale(1,1.09)" text-anchor="middle">15,000</text>
<text class="f1" transform="translate(582.8,587.8) scale(1,1.09)" text-anchor="middle">20,000</text>
<text class="f1" transform="translate(662.9,587.8) scale(1,1.09)" text-anchor="middle">25,000</text>
<text class="f1" transform="translate(743.0,587.8) scale(1,1.09)" text-anchor="middle">30,000</text>
<text class="f1" transform="translate(823.2,587.8) scale(1,1.09)" text-anchor="middle">35,000</text>
<text class="f1" transform="translate(903.3,587.8) scale(1,1.09)" text-anchor="middle">40,000</text>
<text class="f1" transform="translate(983.4,587.8) scale(1,1.09)" text-anchor="middle">45,000</text>
<text class="f1" transform="translate(1063.5,587.8) scale(1,1.09)" text-anchor="middle">50,000</text>
</g>
<text x="932" y="122.8" font-size="29" fill="#000">acc</text>
<rect x="932.7" y="131.1" width="18.2" height="18" fill="#FFFFE5"/>
<rect x="932.7" y="149.0" width="18.2" height="18" fill="#FFF6B6"/>
<rect x="932.7" y="166.8" width="18.2" height="18" fill="#FEE38E"/>
<rect x="932.7" y="184.7" width="18.2" height="18" fill="#FEC65A"/>
<rect x="932.7" y="202.6" width="18.2" height="18" fill="#FE9B2D"/>
<rect x="932.7" y="220.4" width="18.2" height="18" fill="#EE7118"/>
<rect x="932.7" y="238.3" width="18.2" height="18" fill="#D8510D"/>
<rect x="932.7" y="256.2" width="18.2" height="18" fill="#B03405"/>
<rect x="932.7" y="274.1" width="18.2" height="18" fill="#7F2607"/>
<rect x="932.7" y="291.9" width="18.2" height="18" fill="#571B0A"/>
<text class="f1" transform="translate(955.6,147.95) scale(1,1.085)" font-size="22.45" fill="#000">0.000 to 0.000</text>
<text class="f1" transform="translate(955.6,165.94) scale(1,1.085)" font-size="22.45" fill="#000">0.000 to 0.000</text>
<text class="f1" transform="translate(955.6,183.93) scale(1,1.085)" font-size="22.45" fill="#000">0.000 to 0.000</text>
<text class="f1" transform="translate(955.6,201.92) scale(1,1.085)" font-size="22.45" fill="#000">0.000 to 0.000</text>
<text class="f1" transform="translate(955.6,219.91) scale(1,1.085)" font-size="22.45" fill="#000">0.000 to 0.000</text>
<text class="f1" clip-path="url(#k15)" transform="translate(955.6,237.90) scale(1,1.085)" font-size="22.45" fill="#000">0.000 to 0.111</text>
<text class="f1" clip-path="url(#k16)" transform="translate(955.6,255.89) scale(1,1.085)" font-size="22.45" fill="#000">0.111 to 1.941</text>
<text class="f1" clip-path="url(#k17)" transform="translate(955.6,273.88) scale(1,1.085)" font-size="22.45" fill="#000">1.941 to 9.164</text>
<text class="f1" clip-path="url(#k18)" transform="translate(955.6,291.87) scale(1,1.085)" font-size="22.45" fill="#000">9.164 to 27.662</text>
<text class="f1" clip-path="url(#k19)" transform="translate(955.6,309.86) scale(1,1.085)" font-size="22.45" fill="#000">27.662 to 230.186</text>
<polygon points="1058.4,473.8 1060.0,490.4 1066.4,486.4 1062.4,492.8 1079.0,494.4 1062.4,496.0 1066.4,502.4 1060.0,498.4 1058.4,515.0 1056.8,498.4 1050.4,502.4 1054.4,496.0 1037.8,494.4 1054.4,492.8 1050.4,486.4 1056.8,490.4" fill="#000" stroke="#000" stroke-width="1.6" stroke-linejoin="round"/>
<text x="1058.4" y="472.5" font-size="24" text-anchor="middle" fill="#000">N</text>
<rect x="871.7" y="527.7" width="192.8" height="6" fill="#fff" stroke="#000" stroke-width="1.5"/>
<rect x="904.1" y="527.7" width="32.1" height="6" fill="#000"/>
<rect x="968.3" y="527.7" width="32.1" height="6" fill="#000"/>
<rect x="1032.5" y="527.7" width="32.1" height="6" fill="#000"/>
<g font-size="14.2" fill="#000" text-anchor="middle">
<text class="f1" x="872.0" y="547">0</text>
<text class="f1" x="904.1" y="547">2</text>
<text class="f1" x="936.2" y="547">4</text>
<text class="f1" x="968.3" y="547">6</text>
<text class="f1" x="1000.4" y="547">8</text>
<text class="f1" clip-path="url(#k25)" x="1032.5" y="547">10</text>
<text class="f1" clip-path="url(#k26)" x="1064.6" y="547">12</text>
<text x="1081" y="547">km</text></g>
<rect x="89.3" y="655.0" width="1239.6" height="219.8" fill="#e5e5e5"/>
<g stroke="#fff" fill="none">
<path d="M89.3 833.7H1328.9" stroke-width="1.4"/>
<path d="M89.3 771.1H1328.9" stroke-width="1.4"/>
<path d="M89.3 708.5H1328.9" stroke-width="1.4"/>
<path d="M89.3 865.0H1328.9" stroke-width="2.85"/>
<path d="M89.3 802.4H1328.9" stroke-width="2.85"/>
<path d="M89.3 739.8H1328.9" stroke-width="2.85"/>
<path d="M89.3 677.2H1328.9" stroke-width="2.85"/>
<path d="M232.4 655.0V874.8" stroke-width="2.85"/>
<path d="M470.9 655.0V874.8" stroke-width="2.85"/>
<path d="M709.4 655.0V874.8" stroke-width="2.85"/>
<path d="M947.9 655.0V874.8" stroke-width="2.85"/>
<path d="M1186.4 655.0V874.8" stroke-width="2.85"/>
</g>
<g stroke="#2b2b2b" fill="#fff" stroke-width="2.85" stroke-linejoin="miter">
<path d="M232.4 664.6V784.2" />
<rect x="143.0" y="784.2" width="178.9" height="80.1"/>
<path d="M143.0 845.5H321.8" stroke-width="5.7"/>
<path d="M470.9 820V845.5" />
<rect x="381.5" y="845.5" width="178.9" height="19.5"/>
<path d="M381.5 864H560.3" stroke-width="5.7"/>
<path d="M709.4 850V854" />
<rect x="620.0" y="854" width="178.9" height="11.0"/>
<path d="M620.0 864.3H798.8" stroke-width="5.7"/>
<path d="M947.9 744V815.5" />
<rect x="858.5" y="815.5" width="178.9" height="49.5"/>
<path d="M858.5 856.5H1037.3" stroke-width="5.7"/>
<path d="M1186.4 852.5V859" />
<rect x="1097.0" y="859" width="178.9" height="6.0"/>
<path d="M1097.0 864.3H1275.8" stroke-width="5.7"/>
</g>
<circle cx="232.4" cy="806.5" r="7.4" fill="#f00"/>
<circle cx="470.9" cy="840.5" r="7.4" fill="#f00"/>
<circle cx="709.4" cy="842" r="7.4" fill="#f00"/>
<circle cx="947.9" cy="829" r="7.4" fill="#f00"/>
<circle cx="1186.4" cy="845" r="7.4" fill="#f00"/>
<g stroke="#2b2b2b" stroke-width="2.85">
<path d="M82 865.0H89.3"/>
<path d="M82 802.4H89.3"/>
<path d="M82 739.8H89.3"/>
<path d="M82 677.2H89.3"/>
<path d="M232.4 874.8V882.0999999999999"/>
<path d="M470.9 874.8V882.0999999999999"/>
<path d="M709.4 874.8V882.0999999999999"/>
<path d="M947.9 874.8V882.0999999999999"/>
<path d="M1186.4 874.8V882.0999999999999"/>
</g>
<g font-size="23.6" fill="#4d4d4d">
<text x="76" y="873.4" text-anchor="end">0</text>
<text x="76" y="810.8" text-anchor="end">20</text>
<text x="76" y="748.2" text-anchor="end">40</text>
<text x="76" y="685.6" text-anchor="end">60</text>
<text x="232.4" y="904.6" text-anchor="middle">CENTRAL REGION</text>
<text x="470.9" y="904.6" text-anchor="middle">EAST REGION</text>
<text x="709.4" y="904.6" text-anchor="middle">NORTH REGION</text>
<text x="947.9" y="904.6" text-anchor="middle">NORTH-EAST REGION</text>
<text x="1186.4" y="904.6" text-anchor="middle">WEST REGION</text>
</g>
<text x="709" y="939" font-size="29.33" text-anchor="middle" fill="#000">REGION_N</text>
<text transform="translate(37,765) rotate(-90)" font-size="29.33" text-anchor="middle" fill="#000">acc</text>
</svg></body></html>
